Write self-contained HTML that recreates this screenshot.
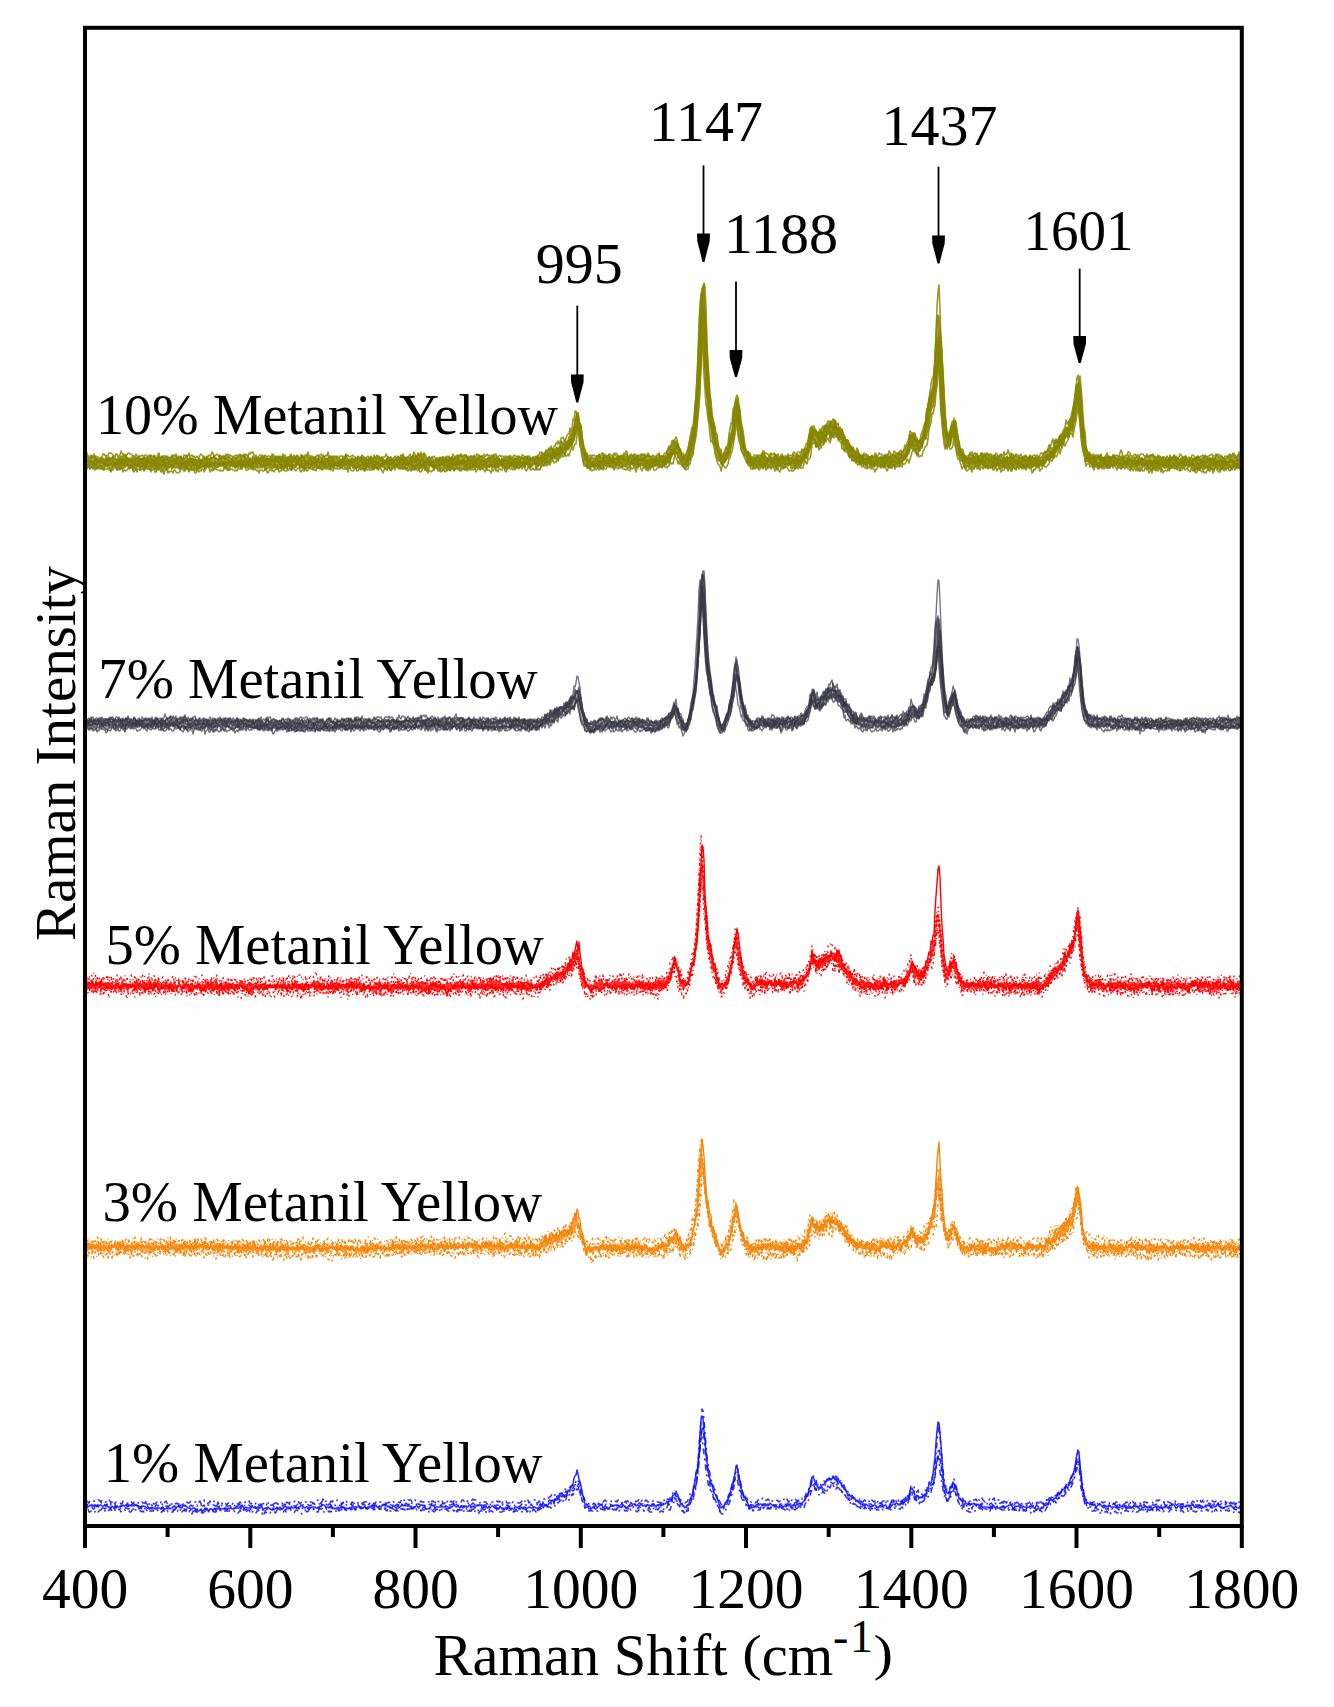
<!DOCTYPE html>
<html><head><meta charset="utf-8"><style>
html,body{margin:0;padding:0;background:#fff;}
svg{display:block;}
text{font-family:"Liberation Serif",serif;fill:#000;}
</style></head><body>
<svg width="1334" height="1707" viewBox="0 0 1334 1707">
<rect width="1334" height="1707" fill="#fff"/>
<g fill="none" stroke-linejoin="round">
<path d="M86 457L87 456L88 457L89 458L90 458L91 457L92 458L93 457L94 456L95 458L96 458L97 458L98 459L99 459L100 459L101 459L102 458L103 458L104 460L105 459L106 457L107 457L108 459L109 457L110 458L111 458L112 458L113 456L114 458L115 458L116 459L117 460L118 458L119 457L120 458L121 456L122 457L123 456L124 455L125 457L126 455L127 458L128 458L129 458L130 459L131 458L132 457L133 456L134 458L135 458L136 459L137 457L138 457L139 458L140 459L141 459L142 458L143 458L144 457L145 457L146 459L147 457L148 459L149 458L150 457L151 456L152 459L153 459L154 456L155 458L156 460L157 458L158 458L159 456L160 458L161 459L162 458L163 457L164 459L165 458L166 458L167 459L168 458L169 460L170 458L171 460L172 456L173 458L174 458L175 461L176 458L177 457L178 459L179 458L180 459L181 457L182 460L183 459L184 459L185 458L186 456L187 456L188 461L189 459L190 457L191 458L192 459L193 458L194 461L195 459L196 459L197 461L198 460L199 458L200 461L201 459L202 461L203 458L204 458L205 460L206 458L207 457L208 458L209 460L210 458L211 457L212 458L213 457L214 457L215 457L216 458L217 459L218 459L219 459L220 456L221 457L222 458L223 456L224 457L225 457L226 458L227 457L228 457L229 456L230 458L231 458L232 459L233 457L234 457L235 458L236 457L237 457L238 457L239 456L240 455L241 456L242 456L243 457L244 455L245 459L246 458L247 458L248 457L249 458L250 458L251 459L252 459L253 456L254 457L255 457L256 458L257 458L258 458L259 459L260 458L261 457L262 457L263 459L264 456L265 457L266 461L267 458L268 459L269 458L270 458L271 459L272 458L273 457L274 459L275 457L276 458L277 457L278 457L279 459L280 457L281 457L282 458L283 456L284 457L285 458L286 459L287 458L288 458L289 457L290 456L291 456L292 458L293 457L294 459L295 458L296 457L297 456L298 457L299 458L300 460L301 460L302 455L303 457L304 457L305 457L306 456L307 455L308 457L309 459L310 457L311 457L312 458L313 458L314 458L315 457L316 458L317 459L318 458L319 456L320 457L321 457L322 459L323 457L324 457L325 459L326 459L327 458L328 459L329 457L330 458L331 457L332 458L333 459L334 457L335 458L336 459L337 457L338 460L339 461L340 459L341 460L342 459L343 458L344 459L345 458L346 455L347 458L348 459L349 459L350 459L351 460L352 458L353 459L354 459L355 459L356 459L357 459L358 457L359 459L360 459L361 458L362 456L363 457L364 459L365 458L366 459L367 459L368 460L369 459L370 458L371 458L372 459L373 459L374 458L375 458L376 458L377 457L378 458L379 458L380 459L381 458L382 459L383 458L384 460L385 461L386 460L387 458L388 457L389 459L390 459L391 459L392 460L393 459L394 460L395 459L396 458L397 459L398 457L399 458L400 458L401 459L402 456L403 456L404 457L405 459L406 459L407 459L408 458L409 458L410 458L411 458L412 458L413 455L414 456L415 458L416 457L417 458L418 454L419 455L420 457L421 455L422 458L423 458L424 456L425 458L426 458L427 459L428 459L429 457L430 460L431 459L432 458L433 459L434 460L435 460L436 459L437 459L438 459L439 459L440 458L441 459L442 460L443 457L444 460L445 460L446 460L447 458L448 461L449 458L450 460L451 459L452 457L453 458L454 458L455 458L456 457L457 458L458 459L459 457L460 455L461 456L462 456L463 458L464 458L465 455L466 455L467 458L468 458L469 458L470 457L471 456L472 457L473 458L474 458L475 458L476 461L477 457L478 457L479 456L480 457L481 457L482 457L483 457L484 458L485 459L486 459L487 459L488 458L489 457L490 458L491 457L492 458L493 457L494 459L495 458L496 458L497 458L498 459L499 458L500 460L501 460L502 458L503 459L504 459L505 458L506 457L507 457L508 458L509 456L510 457L511 459L512 458L513 460L514 460L515 458L516 459L517 458L518 458L519 457L520 458L521 458L522 458L523 457L524 459L525 457L526 457L527 458L528 458L529 458L530 459L531 459L532 459L533 457L534 458L535 459L536 457L537 458L538 456L539 458L540 457L541 455L542 454L543 458L544 454L545 454L546 451L547 451L548 453L549 449L550 450L551 450L552 450L553 449L554 449L555 450L556 448L557 447L558 450L559 448L560 445L561 441L562 442L563 444L564 442L565 441L566 441L567 444L568 440L569 437L570 435L571 433L572 435L573 430L574 426L575 421L576 416L577 414L578 413L579 422L580 424L581 427L582 437L583 443L584 449L585 451L586 454L587 456L588 458L589 457L590 460L591 459L592 458L593 458L594 458L595 458L596 458L597 456L598 457L599 455L600 459L601 458L602 458L603 455L604 458L605 457L606 456L607 456L608 457L609 455L610 457L611 458L612 458L613 456L614 458L615 458L616 459L617 456L618 457L619 456L620 457L621 456L622 457L623 456L624 455L625 457L626 457L627 454L628 458L629 458L630 457L631 456L632 456L633 457L634 455L635 456L636 458L637 456L638 456L639 458L640 459L641 457L642 455L643 455L644 455L645 457L646 456L647 457L648 456L649 456L650 457L651 458L652 458L653 458L654 459L655 459L656 458L657 458L658 458L659 454L660 457L661 456L662 456L663 457L664 457L665 456L666 455L667 451L668 450L669 447L670 450L671 446L672 444L673 442L674 443L675 441L676 443L677 441L678 445L679 448L680 449L681 452L682 456L683 456L684 458L685 455L686 457L687 452L688 449L689 444L690 441L691 438L692 432L693 429L694 422L695 408L696 397L697 380L698 361L699 334L700 310L701 300L702 298L703 290L704 284L705 308L706 329L707 350L708 368L709 392L710 396L711 406L712 415L713 423L714 424L715 430L716 437L717 439L718 446L719 453L720 452L721 456L722 456L723 455L724 453L725 452L726 449L727 449L728 447L729 441L730 435L731 433L732 432L733 418L734 411L735 404L736 399L737 403L738 403L739 406L740 415L741 426L742 431L743 436L744 443L745 449L746 450L747 452L748 452L749 455L750 455L751 457L752 459L753 458L754 458L755 457L756 458L757 456L758 456L759 458L760 456L761 457L762 455L763 456L764 453L765 456L766 457L767 458L768 459L769 458L770 456L771 457L772 457L773 458L774 457L775 456L776 455L777 457L778 457L779 459L780 458L781 457L782 456L783 457L784 457L785 458L786 457L787 457L788 458L789 457L790 459L791 458L792 459L793 455L794 455L795 456L796 456L797 454L798 455L799 455L800 457L801 454L802 450L803 451L804 451L805 449L806 448L807 448L808 442L809 437L810 433L811 429L812 429L813 429L814 429L815 430L816 431L817 434L818 433L819 432L820 432L821 431L822 432L823 432L824 432L825 426L826 427L827 425L828 426L829 423L830 423L831 422L832 424L833 424L834 420L835 421L836 425L837 427L838 428L839 430L840 429L841 433L842 430L843 434L844 435L845 438L846 441L847 440L848 442L849 445L850 445L851 447L852 449L853 449L854 450L855 453L856 454L857 452L858 451L859 454L860 455L861 456L862 457L863 455L864 456L865 455L866 456L867 457L868 457L869 458L870 457L871 457L872 456L873 459L874 457L875 456L876 456L877 457L878 459L879 458L880 457L881 457L882 458L883 458L884 458L885 457L886 456L887 458L888 457L889 457L890 456L891 457L892 457L893 456L894 455L895 456L896 454L897 453L898 455L899 453L900 454L901 455L902 457L903 452L904 450L905 450L906 447L907 445L908 444L909 441L910 435L911 434L912 435L913 436L914 435L915 435L916 440L917 440L918 442L919 441L920 441L921 439L922 438L923 434L924 430L925 424L926 419L927 410L928 407L929 401L930 394L931 394L932 390L933 386L934 374L935 359L936 337L937 319L938 315L939 317L940 331L941 339L942 358L943 376L944 398L945 414L946 426L947 433L948 435L949 434L950 432L951 428L952 425L953 424L954 423L955 422L956 427L957 432L958 438L959 443L960 448L961 451L962 452L963 455L964 455L965 456L966 457L967 458L968 458L969 456L970 453L971 455L972 454L973 455L974 457L975 456L976 454L977 454L978 456L979 458L980 456L981 455L982 453L983 456L984 455L985 456L986 456L987 454L988 454L989 456L990 455L991 458L992 459L993 456L994 458L995 455L996 458L997 456L998 458L999 457L1000 455L1001 456L1002 457L1003 458L1004 456L1005 459L1006 457L1007 456L1008 458L1009 457L1010 459L1011 459L1012 458L1013 457L1014 456L1015 457L1016 455L1017 457L1018 457L1019 457L1020 457L1021 458L1022 457L1023 457L1024 457L1025 457L1026 456L1027 459L1028 459L1029 458L1030 456L1031 460L1032 457L1033 458L1034 458L1035 457L1036 459L1037 459L1038 457L1039 457L1040 458L1041 457L1042 457L1043 454L1044 453L1045 453L1046 453L1047 452L1048 449L1049 452L1050 446L1051 448L1052 448L1053 448L1054 446L1055 442L1056 442L1057 442L1058 440L1059 439L1060 436L1061 436L1062 435L1063 432L1064 432L1065 429L1066 427L1067 428L1068 429L1069 422L1070 421L1071 418L1072 416L1073 408L1074 404L1075 399L1076 389L1077 384L1078 384L1079 382L1080 383L1081 399L1082 412L1083 426L1084 432L1085 445L1086 446L1087 453L1088 453L1089 454L1090 455L1091 456L1092 456L1093 456L1094 456L1095 456L1096 457L1097 457L1098 457L1099 456L1100 459L1101 455L1102 458L1103 458L1104 458L1105 457L1106 458L1107 457L1108 456L1109 458L1110 457L1111 457L1112 458L1113 455L1114 457L1115 456L1116 458L1117 458L1118 460L1119 456L1120 457L1121 456L1122 457L1123 457L1124 457L1125 457L1126 457L1127 459L1128 457L1129 455L1130 458L1131 459L1132 458L1133 458L1134 457L1135 457L1136 458L1137 456L1138 457L1139 456L1140 458L1141 459L1142 458L1143 459L1144 459L1145 457L1146 457L1147 457L1148 457L1149 458L1150 456L1151 455L1152 456L1153 455L1154 457L1155 457L1156 458L1157 458L1158 456L1159 457L1160 459L1161 460L1162 458L1163 457L1164 459L1165 459L1166 461L1167 459L1168 459L1169 459L1170 459L1171 458L1172 459L1173 457L1174 455L1175 458L1176 457L1177 459L1178 459L1179 459L1180 460L1181 458L1182 458L1183 459L1184 457L1185 457L1186 459L1187 459L1188 460L1189 460L1190 460L1191 458L1192 458L1193 459L1194 458L1195 458L1196 458L1197 457L1198 457L1199 458L1200 459L1201 459L1202 458L1203 457L1204 459L1205 458L1206 458L1207 459L1208 457L1209 460L1210 458L1211 459L1212 458L1213 457L1214 458L1215 458L1216 455L1217 455L1218 456L1219 457L1220 457L1221 456L1222 457L1223 459L1224 459L1225 460L1226 458L1227 458L1228 456L1229 458L1230 455L1231 457L1232 457L1233 455L1234 454L1235 458L1236 457L1237 458L1238 456L1239 456L1240 458L1241 459L1241 468L1240 468L1239 468L1238 468L1237 465L1236 468L1235 467L1234 467L1233 467L1232 467L1231 469L1230 468L1229 467L1228 468L1227 468L1226 467L1225 469L1224 468L1223 469L1222 469L1221 469L1220 471L1219 469L1218 469L1217 466L1216 466L1215 468L1214 470L1213 470L1212 469L1211 467L1210 469L1209 469L1208 469L1207 467L1206 468L1205 468L1204 470L1203 470L1202 467L1201 469L1200 469L1199 470L1198 470L1197 468L1196 470L1195 471L1194 469L1193 469L1192 468L1191 466L1190 466L1189 467L1188 468L1187 465L1186 465L1185 467L1184 468L1183 468L1182 467L1181 468L1180 470L1179 467L1178 468L1177 469L1176 468L1175 467L1174 466L1173 467L1172 468L1171 466L1170 468L1169 469L1168 467L1167 468L1166 467L1165 468L1164 468L1163 466L1162 467L1161 469L1160 468L1159 468L1158 466L1157 468L1156 469L1155 468L1154 469L1153 467L1152 470L1151 470L1150 469L1149 469L1148 468L1147 469L1146 465L1145 467L1144 466L1143 467L1142 469L1141 469L1140 471L1139 470L1138 468L1137 468L1136 466L1135 467L1134 468L1133 466L1132 466L1131 469L1130 468L1129 467L1128 466L1127 466L1126 467L1125 467L1124 464L1123 467L1122 467L1121 469L1120 465L1119 467L1118 466L1117 466L1116 465L1115 465L1114 465L1113 465L1112 466L1111 464L1110 467L1109 468L1108 468L1107 467L1106 467L1105 465L1104 466L1103 465L1102 467L1101 467L1100 467L1099 466L1098 468L1097 466L1096 466L1095 465L1094 467L1093 467L1092 465L1091 464L1090 463L1089 462L1088 462L1087 461L1086 462L1085 457L1084 454L1083 451L1082 441L1081 432L1080 423L1079 411L1078 403L1077 405L1076 411L1075 420L1074 423L1073 429L1072 432L1071 429L1070 430L1069 435L1068 438L1067 437L1066 437L1065 438L1064 443L1063 444L1062 447L1061 446L1060 445L1059 446L1058 448L1057 450L1056 452L1055 454L1054 453L1053 458L1052 456L1051 458L1050 459L1049 461L1048 460L1047 460L1046 462L1045 464L1044 464L1043 465L1042 466L1041 465L1040 466L1039 467L1038 465L1037 467L1036 467L1035 466L1034 466L1033 467L1032 467L1031 466L1030 465L1029 466L1028 466L1027 465L1026 468L1025 467L1024 467L1023 465L1022 468L1021 466L1020 466L1019 468L1018 465L1017 466L1016 469L1015 469L1014 467L1013 467L1012 469L1011 469L1010 467L1009 468L1008 467L1007 468L1006 466L1005 467L1004 467L1003 467L1002 469L1001 466L1000 468L999 467L998 466L997 465L996 467L995 467L994 466L993 468L992 466L991 467L990 466L989 468L988 467L987 466L986 467L985 466L984 465L983 466L982 465L981 464L980 465L979 468L978 466L977 466L976 464L975 466L974 467L973 467L972 468L971 469L970 466L969 468L968 466L967 466L966 469L965 468L964 466L963 464L962 461L961 461L960 459L959 456L958 455L957 455L956 447L955 439L954 437L953 437L952 437L951 442L950 446L949 445L948 446L947 445L946 445L945 441L944 438L943 432L942 419L941 405L940 384L939 365L938 361L937 377L936 389L935 396L934 403L933 407L932 408L931 410L930 418L929 426L928 431L927 433L926 439L925 439L924 440L923 444L922 448L921 448L920 451L919 451L918 453L917 454L916 453L915 450L914 445L913 450L912 449L911 444L910 449L909 453L908 454L907 457L906 457L905 459L904 460L903 461L902 464L901 462L900 466L899 463L898 465L897 464L896 462L895 467L894 464L893 466L892 465L891 468L890 467L889 466L888 467L887 466L886 466L885 464L884 467L883 466L882 466L881 467L880 465L879 465L878 465L877 463L876 466L875 466L874 467L873 464L872 466L871 465L870 465L869 463L868 464L867 467L866 466L865 465L864 464L863 463L862 464L861 464L860 464L859 464L858 462L857 462L856 462L855 460L854 461L853 459L852 456L851 456L850 457L849 455L848 452L847 450L846 449L845 451L844 449L843 445L842 443L841 440L840 439L839 438L838 436L837 436L836 434L835 432L834 433L833 435L832 437L831 434L830 439L829 434L828 431L827 435L826 438L825 439L824 443L823 443L822 442L821 443L820 446L819 447L818 446L817 445L816 447L815 442L814 440L813 438L812 443L811 446L810 449L809 452L808 456L807 459L806 458L805 458L804 460L803 462L802 463L801 466L800 467L799 464L798 465L797 464L796 468L795 467L794 465L793 468L792 469L791 468L790 464L789 465L788 466L787 464L786 465L785 467L784 467L783 468L782 465L781 466L780 466L779 466L778 468L777 468L776 466L775 467L774 467L773 466L772 466L771 468L770 466L769 467L768 467L767 467L766 467L765 465L764 466L763 467L762 464L761 467L760 466L759 468L758 467L757 467L756 466L755 466L754 467L753 469L752 467L751 466L750 466L749 464L748 462L747 462L746 457L745 454L744 456L743 453L742 451L741 445L740 440L739 437L738 430L737 421L736 420L735 429L734 435L733 442L732 442L731 447L730 453L729 456L728 458L727 459L726 460L725 462L724 462L723 465L722 465L721 464L720 459L719 461L718 460L717 458L716 455L715 446L714 445L713 443L712 437L711 430L710 425L709 420L708 412L707 397L706 389L705 370L704 356L703 325L702 337L701 363L700 382L699 399L698 408L697 422L696 432L695 438L694 444L693 450L692 454L691 457L690 459L689 461L688 466L687 466L686 467L685 469L684 467L683 466L682 463L681 463L680 460L679 458L678 458L677 454L676 452L675 455L674 454L673 454L672 456L671 458L670 461L669 462L668 463L667 462L666 465L665 464L664 463L663 465L662 467L661 466L660 466L659 467L658 467L657 464L656 466L655 466L654 466L653 466L652 467L651 466L650 467L649 468L648 467L647 469L646 467L645 467L644 467L643 465L642 465L641 465L640 465L639 466L638 466L637 467L636 468L635 464L634 467L633 465L632 464L631 464L630 467L629 468L628 468L627 467L626 466L625 467L624 466L623 467L622 467L621 467L620 466L619 466L618 463L617 466L616 465L615 468L614 466L613 466L612 466L611 466L610 467L609 465L608 464L607 466L606 466L605 466L604 465L603 467L602 465L601 469L600 466L599 467L598 466L597 467L596 467L595 466L594 468L593 467L592 466L591 467L590 467L589 467L588 468L587 466L586 465L585 464L584 464L583 460L582 454L581 448L580 445L579 432L578 430L577 430L576 434L575 435L574 441L573 441L572 446L571 446L570 447L569 449L568 450L567 449L566 451L565 455L564 454L563 453L562 454L561 455L560 456L559 457L558 460L557 458L556 458L555 459L554 458L553 458L552 460L551 460L550 461L549 461L548 462L547 463L546 462L545 463L544 464L543 465L542 466L541 467L540 464L539 465L538 467L537 465L536 469L535 464L534 463L533 465L532 466L531 467L530 468L529 467L528 466L527 464L526 464L525 468L524 465L523 466L522 466L521 467L520 466L519 466L518 466L517 468L516 467L515 468L514 467L513 466L512 468L511 466L510 466L509 467L508 467L507 469L506 468L505 469L504 467L503 466L502 466L501 466L500 464L499 467L498 468L497 468L496 468L495 467L494 467L493 467L492 468L491 464L490 467L489 467L488 466L487 470L486 468L485 465L484 468L483 469L482 468L481 468L480 469L479 468L478 468L477 468L476 466L475 469L474 465L473 468L472 468L471 468L470 467L469 467L468 468L467 469L466 469L465 467L464 468L463 468L462 469L461 470L460 468L459 467L458 468L457 468L456 468L455 468L454 470L453 467L452 468L451 467L450 470L449 466L448 468L447 470L446 469L445 469L444 468L443 470L442 469L441 469L440 468L439 469L438 469L437 468L436 466L435 467L434 470L433 468L432 467L431 465L430 466L429 468L428 469L427 470L426 467L425 470L424 466L423 465L422 468L421 468L420 469L419 468L418 469L417 467L416 466L415 469L414 469L413 468L412 470L411 469L410 469L409 466L408 467L407 469L406 469L405 467L404 468L403 469L402 468L401 467L400 468L399 468L398 466L397 467L396 466L395 466L394 467L393 466L392 469L391 468L390 469L389 468L388 468L387 470L386 469L385 468L384 467L383 467L382 467L381 467L380 468L379 468L378 469L377 468L376 467L375 466L374 469L373 467L372 469L371 467L370 468L369 468L368 467L367 467L366 466L365 470L364 468L363 469L362 468L361 468L360 468L359 468L358 468L357 467L356 468L355 467L354 468L353 468L352 465L351 466L350 466L349 468L348 467L347 468L346 469L345 468L344 467L343 465L342 468L341 465L340 468L339 466L338 467L337 467L336 465L335 466L334 468L333 468L332 467L331 467L330 469L329 468L328 468L327 468L326 468L325 466L324 468L323 468L322 469L321 467L320 468L319 468L318 468L317 467L316 467L315 467L314 468L313 469L312 468L311 466L310 468L309 468L308 468L307 468L306 469L305 467L304 469L303 468L302 468L301 466L300 469L299 465L298 465L297 464L296 467L295 467L294 467L293 467L292 468L291 470L290 468L289 466L288 466L287 469L286 468L285 466L284 469L283 469L282 467L281 469L280 467L279 469L278 469L277 469L276 467L275 468L274 466L273 468L272 469L271 468L270 467L269 468L268 468L267 468L266 468L265 469L264 467L263 466L262 468L261 466L260 468L259 468L258 467L257 468L256 467L255 467L254 468L253 468L252 468L251 466L250 465L249 467L248 467L247 468L246 466L245 466L244 465L243 466L242 468L241 468L240 465L239 467L238 467L237 466L236 468L235 468L234 466L233 467L232 465L231 466L230 467L229 470L228 470L227 467L226 467L225 468L224 466L223 466L222 466L221 466L220 466L219 466L218 467L217 467L216 468L215 467L214 468L213 469L212 467L211 467L210 467L209 467L208 466L207 466L206 467L205 470L204 466L203 467L202 467L201 468L200 468L199 469L198 469L197 469L196 470L195 470L194 468L193 470L192 469L191 468L190 469L189 471L188 468L187 467L186 469L185 468L184 468L183 467L182 468L181 466L180 469L179 469L178 468L177 467L176 468L175 468L174 466L173 468L172 469L171 466L170 467L169 468L168 469L167 470L166 467L165 467L164 469L163 471L162 471L161 468L160 469L159 469L158 467L157 469L156 468L155 470L154 468L153 468L152 465L151 470L150 469L149 468L148 468L147 467L146 468L145 469L144 470L143 469L142 467L141 467L140 470L139 467L138 466L137 467L136 469L135 468L134 467L133 469L132 466L131 467L130 468L129 468L128 467L127 465L126 466L125 467L124 468L123 469L122 468L121 467L120 469L119 466L118 468L117 470L116 468L115 466L114 466L113 467L112 469L111 471L110 469L109 467L108 466L107 467L106 465L105 466L104 469L103 468L102 468L101 468L100 467L99 467L98 468L97 467L96 469L95 466L94 467L93 468L92 466L91 467L90 469L89 464L88 466L87 468L86 467Z" fill="#868600" fill-opacity="0.75" stroke="none"/>
<path d="M86 456l1-3 1 3 1 0 1 1 1-2 1 3 1-2 1-2 1 4 1-2 1 1 1 0 1 1 1 1 1 0 1-2 1-3 1 0 1 2 1-1 1 1 1 0 1-3 1 0 1 0 1 1 1 1 1 1 1 1 1-3 1 0 1 3 1-1 1-1 1-4 1 2 1 2 1-1 1 3 1-2 1 0 1-2 1 0 1 1 1 0 1 1 1 1 1 0 1 1 1-3 1 2 1 0 1 2 1-2 1 0 1-1 1 1 1 0 1-1 1 0 1 1 1 1 1-2 1 2 1-1 1 3 1 0 1-3 1 0 1 4 1-2 1 0 1-2 1 1 1 1 1 0 1-2 1 3 1-1 1-2 1 3 1-2 1 1 1-1 1 1 1-3 1 2 1-2 1 2 1-3 1 3 1 2 1-1 1 1 1-3 1 3 1 0 1-4 1 0 1 1 1 0 1 0 1-3 1 3 1 0 1-1 1 2 1-1 1 2 1-1 1-1 1 2 1-1 1-2 1-1 1 1 1 2 1-1 1 3 1-2 1 0 1 0 1-2 1 1 1-1 1-3 1 1 1 4 1-2 1 0 1-1 1 1 1 2 1-1 1 0 1 2 1-2 1 0 1 1 1-3 1 2 1-2 1 1 1 0 1 1 1 0 1 1 1 0 1 1 1 1 1-2 1 0 1-2 1-1 1 2 1 0 1 1 1-3 1 5 1-5 1 1 1 2 1-4 1 1 1-2 1 1 1-1 1 3 1 1 1-1 1 3 1 0 1-2 1-1 1 0 1 0 1 3 1-2 1-1 1 1 1 1 1-1 1 0 1 0 1 2 1 0 1-4 1 2 1 1 1-1 1 1 1 0 1 0 1-1 1 1 1 0 1-3 1 1 1 0 1 4 1-2 1 0 1 0 1-1 1 0 1 2 1-1 1 2 1-2 1 0 1-1 1 0 1 1 1 2 1 1 1-5 1 1 1 1 1-2 1 0 1 0 1-3 1 4 1 0 1 0 1 0 1 1 1 2 1-2 1 0 1-2 1 1 1-1 1 0 1-1 1 1 1 2 1 0 1 0 1-2 1 1 1-4 1 5 1-1 1 1 1 1 1-2 1 1 1-1 1 1 1-1 1 1 1 2 1-3 1 0 1 0 1 2 1 3 1-4 1-3 1 2 1-1 1 2 1 0 1-1 1 0 1-1 1 2 1 0 1 2 1 0 1-3 1 1 1 1 1 0 1-3 1 2 1 3 1-2 1 0 1-1 1-1 1 3 1-1 1 0 1 1 1-1 1-3 1 3 1-1 1 0 1-1 1 0 1 3 1-1 1-1 1 0 1 0 1 0 1-3 1 2 1 1 1 2 1 0 1-2 1 3 1-2 1 0 1-2 1 1 1 2 1-2 1 0 1 2 1 1 1-5 1 1 1 1 1 3 1 1 1-4 1 0 1 1 1 0 1-1 1 1 1-3 1-3 1 2 1 3 1 1 1-5 1 1 1 2 1-4 1 6 1 0 1-5 1 5 1 0 1 1 1-1 1-1 1 1 1 1 1-1 1-1 1-1 1 2 1 0 1 2 1-2 1 0 1-1 1 2 1-2 1 0 1 3 1 0 1-3 1-1 1 2 1-2 1 5 1-4 1 0 1-3 1 2 1 2 1-2 1-1 1 4 1-2 1-2 1-1 1 1 1 2 1-2 1 0 1 0 1 3 1-2 1 1 1 0 1-1 1 1 1 1 1-3 1 3 1 4 1-5 1 0 1-2 1 2 1-1 1 1 1-1 1-2 1 3 1-1 1-2 1 2 1-1 1 1 1 0 1-1 1 2 1-3 1 3 1-3 1 4 1-1 1-1 1-1 1 2 1-1 1 0 1 2 1-2 1 0 1 1 1 1 1-2 1 0 1 0 1 1 1 1 1-3 1 1 1 0 1 1 1 1 1-2 1 1 1 1 1-3 1 0 1 1 1 1 1 0 1-1 1 3 1-3 1 1 1 2 1 0 1-2 1 1 1 1 1-2 1 1 1-3 1 0 1-3 1 1 1-1 1 3 1-2 1 0 1-3 1 1 1-1 1-2 1 2 1-4 1 4 1 3 1-7 1 0 1-3 1 1 1-3 1 3 1-2 1-4 1 0 1-1 1 3 1 1 1-3 1-3 1-1 1 0 1-6 1 4 1-3 1-10 1 2 1-10 1 0 1 4 1-2 1 6 1 9 1 7 1 7 1 4 1 3 1 2 1 2 1 0 1 3 1 0 1-1 1 3 1-3 1 1 1-1 1 1 1 0 1 0 1 1 1-3 1 5 1-4 1-2 1 0 1 5 1 0 1-3 1 1 1 1 1-2 1-1 1 1 1 1 1-1 1-2 1 3 1-3 1 1 1 3 1-1 1 0 1 0 1 1 1-1 1-3 1 2 1-4 1 1 1 6 1 0 1-3 1 1 1 0 1 1 1-2 1-1 1 1 1 1 1 0 1-1 1 2 1-3 1 1 1 0 1 0 1 3 1-2 1-1 1 1 1-1 1 2 1 1 1 0 1-3 1 1 1 3 1-3 1 2 1 0 1-5 1 4 1-1 1 0 1 1 1-3 1-1 1 0 1-2 1-1 1-4 1 4 1-5 1-1 1-2 1-1 1 0 1 2 1-1 1 4 1 5 1-2 1 2 1 7 1 0 1 0 1-3 1-1 1-2 1-3 1-5 1-7 1-4 1-6 1 1 1-11 1-9 1-11 1-17 1-19 1-27 1-24 1-1 1-2 1 17 1 21 1 21 1 17 1 13 1 4 1 10 1 6 1 9 1 1 1 7 1 6 1-1 1 6 1 4 1 1 1 4 1 3 1 0 1-2 1 0 1-1 1-1 1-3 1-3 1-2 1-10 1-5 1-6 1 0 1-14 1-2 1-3 1-5 1 8 1 9 1 10 1 2 1 9 1 5 1 2 1 3 1 4 1 0 1 1 1 1 1 3 1-1 1 2 1 0 1 0 1-2 1 0 1 0 1 0 1 1 1-1 1 0 1 2 1-2 1-4 1 0 1 3 1-1 1 1 1 0 1 3 1-1 1-3 1 2 1-1 1-1 1 3 1-1 1 2 1 3 1-1 1-1 1-3 1-1 1 4 1-2 1 0 1 0 1 1 1 3 1-4 1-1 1 1 1 0 1-3 1-1 1 2 1 0 1-1 1-1 1 0 1 1 1-1 1-3 1 1 1 1 1-3 1-4 1-1 1-2 1-4 1-9 1 1 1-3 1 3 1 3 1-1 1 1 1 2 1 2 1-4 1-3 1 1 1 2 1 0 1-5 1-1 1-1 1-1 1-3 1 0 1 2 1-1 1 0 1-3 1 1 1 1 1 6 1 2 1-1 1 3 1-2 1 0 1 0 1 5 1 1 1 3 1 2 1 0 1 0 1 3 1 2 1 2 1 2 1 0 1 1 1 4 1 0 1-2 1-1 1 2 1 2 1 2 1 2 1-4 1 1 1-1 1 1 1-1 1 0 1 3 1-1 1 1 1-2 1 1 1 0 1-4 1 1 1 3 1-1 1-3 1 1 1 0 1 1 1 3 1-3 1 3 1-3 1-1 1 3 1 0 1 0 1 1 1-1 1-1 1-5 1 1 1 2 1-1 1 1 1-2 1 2 1 1 1-3 1 0 1-2 1 0 1-3 1-4 1-2 1-4 1-6 1 1 1 1 1 3 1 1 1 4 1 1 1-2 1 2 1 0 1-2 1-5 1-3 1-2 1-5 1 2 1-12 1-6 1-2 1-8 1-7 1 2 1-4 1-4 1-12 1-12 1-13 1-11 1 0 1 16 1 20 1 21 1 13 1 9 1 12 1 3 1 5 1-1 1 0 1-3 1-3 1-4 1-4 1-1 1 3 1 4 1 7 1 1 1 3 1 7 1 3 1 5 1 0 1 1 1-1 1 2 1 1 1-1 1 0 1-1 1-2 1-1 1 0 1 2 1 0 1-1 1 1 1 0 1 2 1 2 1-2 1-3 1 0 1 5 1-2 1-3 1 3 1-3 1 1 1 1 1-1 1 0 1 5 1-4 1 1 1-1 1-2 1 1 1 2 1 1 1-2 1 1 1-1 1 0 1-3 1 3 1-1 1 0 1-4 1 3 1 3 1 3 1-5 1 0 1 2 1 0 1-2 1 1 1 0 1 1 1 1 1 1 1-1 1 0 1-1 1 1 1-2 1 4 1-2 1 1 1-3 1 2 1 0 1-1 1-1 1 0 1 4 1 0 1-2 1 0 1-2 1-2 1 0 1 1 1-1 1-2 1 2 1-1 1-3 1-4 1 1 1-1 1-4 1-2 1 6 1-3 1-3 1 3 1-2 1-3 1-2 1 1 1 0 1-5 1-2 1-1 1-8 1 4 1-2 1-1 1-2 1-2 1-4 1-5 1-6 1-7 1-10 1-1 1 0 1 17 1 14 1 8 1 11 1 10 1 2 1 1 1-1 1 7 1 1 1 2 1 2 1-3 1 0 1-1 1 1 1 1 1 1 1 0 1-2 1 0 1 3 1-3 1 2 1 2 1-2 1 0 1 1 1-1 1-1 1 0 1 1 1 0 1 1 1-3 1 0 1 0 1 1 1-1 1 2 1-1 1-3 1-3 1 2 1 5 1-1 1 0 1-1 1 1 1-4 1 0 1 1 1 3 1 1 1-1 1-1 1-1 1 2 1-1 1 0 1 0 1 0 1-1 1 0 1 0 1 2 1 0 1 1 1-3 1 3 1-1 1 0 1-1 1 0 1-1 1 3 1-1 1 2 1 0 1-2 1 0 1 0 1 2 1-1 1 0 1 0 1 0 1 2 1-3 1 2 1 1 1-4 1 3 1 0 1 0 1-3 1 2 1-1 1 1 1 2 1-2 1-3 1 1 1 1 1 3 1-2 1-1 1 3 1 0 1-1 1-1 1 3 1-2 1-3 1 0 1 1 1 1 1 1 1-2 1 0 1 4 1-3 1-1 1 0 1-1 1 2 1 1 1-2 1 1 1-1 1 0 1-1 1 0 1-1 1 2 1 0 1 0 1-1 1 0 1 1 1 1 1 0 1-1 1 1 1 2 1-1 1 2 1-2 1 0 1-2 1 2 1-3 1 1 1-1 1-2 1 1 1 4 1-1 1 1 1-2 1-4 1 4 1-1" stroke="#868600" stroke-width="1.6" stroke-opacity="0.85"/>
<path d="M86 457l1-1 1 1 1 1 1 0 1-1 1-1 1 1 1-1 1 0 1 2 1 0 1 1 1 0 1 0 1-2 1 1 1 0 1 2 1-1 1-2 1 0 1 2 1-2 1 1 1 0 1 1 1-2 1 1 1 0 1 1 1 1 1-2 1-1 1 1 1-2 1 1 1-1 1-1 1 0 1 0 1 3 1 1 1-1 1 1 1-1 1-1 1-1 1 2 1 1 1 0 1-2 1 0 1-1 1 3 1 0 1-1 1 0 1-1 1 0 1 2 1-2 1 2 1-1 1-2 1-1 1 1 1 1 1-2 1 3 1 1 1-2 1-3 1-1 1 5 1 1 1-3 1 1 1-1 1 0 1 2 1-2 1 2 1 2 1-2 1 2 1-4 1 2 1 0 1 3 1-3 1-1 1 2 1-3 1 2 1-1 1 3 1-2 1 1 1-1 1-2 1-1 1 6 1-2 1-2 1 1 1 2 1-2 1 4 1-3 1 0 1 2 1-1 1-2 1 3 1 0 1 0 1-3 1 0 1 2 1-2 1-2 1 2 1 2 1-2 1 2 1-2 1 0 1-2 1 1 1 1 1 1 1 0 1 0 1-4 1 2 1 0 1-1 1 1 1-1 1 2 1-1 1 0 1-1 1 2 1 0 1 1 1-2 1-1 1 0 1-1 1 0 1 1 1 0 1-1 1 1 1-1 1 1 1-1 1 4 1-1 1 0 1-2 1 2 1 0 1 1 1 0 1-3 1 3 1-2 1 3 1-2 1-1 1 2 1-1 1-1 1 0 1 2 1-3 1 1 1 4 1-3 1 1 1 0 1 1 1-1 1-5 1 3 1 2 1-2 1 3 1-2 1-2 1 3 1 2 1-4 1 1 1-2 1 1 1 1 1 0 1 0 1 0 1 3 1-5 1-2 1 4 1-1 1-2 1 4 1-3 1-1 1 2 1 2 1 1 1-5 1 0 1 2 1 0 1 0 1-1 1-1 1 2 1 2 1 0 1-2 1 1 1 0 1-1 1 0 1 1 1 4 1-4 1-2 1 1 1 0 1 2 1-4 1 1 1 3 1 0 1-1 1 1 1-2 1 1 1-1 1-1 1 3 1-2 1 1 1 1 1-2 1 3 1 2 1-3 1 1 1 0 1-3 1-1 1 2 1-3 1 3 1 1 1 0 1 0 1 1 1-2 1 2 1-1 1 0 1-1 1 1 1-2 1 2 1 0 1-2 1-1 1 0 1 1 1 1 1 1 1 2 1-1 1-2 1-1 1-1 1 3 1 0 1-1 1 0 1 0 1-3 1 3 1 1 1 0 1-2 1 2 1 1 1 2 1-1 1-1 1-1 1-2 1 1 1-1 1 2 1 2 1 0 1 0 1-1 1 0 1-2 1-2 1 2 1 0 1-3 1 1 1-2 1 3 1 2 1-2 1 2 1-1 1-2 1-2 1 4 1 0 1-3 1 1 1 2 1-2 1 1 1-3 1 1 1 2 1-2 1-1 1 0 1 2 1-2 1 2 1 2 1 1 1-2 1 3 1-2 1-1 1 2 1 1 1 0 1-1 1-1 1 1 1 0 1 0 1 0 1 2 1-4 1 1 1-1 1 3 1 1 1 0 1-3 1 0 1 1 1-1 1 0 1 0 1 0 1-1 1 1 1-3 1 1 1-1 1 1 1 0 1 2 1 0 1-3 1 0 1 2 1 2 1-1 1-1 1-1 1 0 1 1 1 1 1-1 1-1 1-2 1 1 1 1 1 0 1 1 1-1 1 1 1 1 1 1 1 0 1 1 1-2 1-1 1 3 1-3 1 1 1-2 1 4 1 0 1-2 1-2 1 3 1 1 1 1 1 1 1-2 1-1 1 0 1-1 1-1 1 0 1 1 1-2 1 1 1 3 1-2 1 2 1 0 1-2 1 1 1-1 1-2 1 1 1 1 1 0 1 0 1-1 1 2 1-2 1 0 1 2 1-3 1 2 1 2 1-2 1 2 1-3 1 0 1 0 1-1 1 1 1-1 1 2 1-1 1-2 1-1 1 5 1-5 1 1 1-4 1 0 1 2 1-4 1-1 1 2 1-2 1 1 1 0 1 1 1-2 1 0 1 2 1-1 1-4 1-4 1 1 1 3 1-3 1-2 1 1 1 3 1-4 1-3 1-2 1-2 1 5 1-8 1-4 1-5 1-1 1-7 1 0 1 9 1 10 1 10 1 1 1 3 1 4 1 2 1 2 1 2 1 2 1-1 1 3 1-1 1-1 1 0 1 0 1 0 1 0 1-2 1 1 1-2 1 1 1 2 1 0 1-3 1-1 1 2 1 2 1-2 1 3 1-5 1 4 1 1 1-1 1-2 1 3 1 0 1 0 1-3 1 0 1 3 1-2 1-1 1-1 1 1 1-1 1 2 1 0 1-3 1 3 1 2 1-2 1-3 1 1 1 2 1-3 1 2 1 2 1-2 1-1 1 3 1 1 1-2 1-3 1 0 1 1 1-1 1 2 1 1 1-4 1 3 1 1 1-1 1 1 1 1 1 1 1 2 1-3 1-3 1-1 1 0 1 3 1-1 1 0 1 0 1 1 1-1 1-1 1-4 1-1 1-3 1 0 1-1 1-5 1-1 1 3 1-4 1-2 1 3 1 6 1 4 1 0 1 4 1 0 1-1 1 4 1-2 1 2 1-6 1-2 1-5 1-3 1-3 1-5 1-3 1-8 1-6 1-15 1-12 1-19 1-26 1-17 1-21 1-8 1 10 1 22 1 23 1 20 1 10 1 13 1 8 1 13 1 5 1 9 1 6 1 1 1 6 1 1 1 3 1 0 1 5 1 4 1 0 1-1 1-1 1-2 1-3 1-3 1 2 1-2 1-6 1-6 1-2 1-1 1-14 1-7 1-5 1 0 1-2 1 11 1 6 1 7 1 5 1 8 1 2 1 2 1 6 1 1 1 5 1-1 1 0 1 2 1 4 1-2 1-2 1 0 1-1 1 1 1-2 1 0 1 2 1 1 1-1 1 0 1-2 1-3 1 3 1 1 1 1 1 2 1-2 1-4 1 3 1 0 1 1 1-1 1-3 1 1 1 1 1-2 1 3 1 0 1 2 1-2 1 0 1 0 1 1 1 1 1-3 1-2 1 8 1-3 1-1 1 3 1-6 1 0 1 1 1 1 1-2 1 1 1-1 1 2 1-3 1-4 1 1 1-2 1 0 1-1 1 2 1-8 1-7 1-2 1-6 1 4 1-1 1 3 1-2 1 0 1 4 1-3 1 0 1 0 1 0 1-4 1-2 1 6 1-5 1 0 1 0 1-1 1-3 1 0 1 5 1-1 1 0 1 1 1-7 1 4 1 0 1-2 1 7 1 2 1 1 1-3 1 5 1 3 1 1 1 2 1 3 1 3 1 0 1 5 1-3 1 0 1 2 1-1 1 1 1 2 1-5 1 2 1 7 1-1 1-1 1 0 1 0 1-2 1 1 1 0 1 3 1 0 1 0 1 0 1-1 1-1 1 4 1-1 1-1 1 1 1 1 1 0 1-1 1 0 1-1 1 2 1 0 1-1 1-3 1 2 1 1 1-1 1-6 1 1 1 4 1-2 1 2 1-1 1 1 1-2 1-1 1 2 1-2 1-2 1-1 1 7 1-6 1-2 1-4 1 0 1 0 1-1 1-3 1-6 1-1 1 1 1-2 1 3 1-1 1 3 1 0 1 4 1-1 1 2 1-4 1-1 1-3 1-5 1-7 1 1 1-10 1-10 1-3 1-5 1 3 1-3 1-5 1-8 1-24 1-24 1-16 1-4 1 2 1 29 1 29 1 15 1 16 1 11 1 14 1 6 1-4 1 0 1 1 1-1 1-4 1-4 1-1 1 3 1 7 1 2 1 4 1 5 1 8 1 0 1 1 1 3 1 1 1 2 1-4 1 1 1 1 1 0 1-2 1-3 1 2 1-1 1 1 1 2 1-1 1-3 1 1 1 2 1 1 1-2 1 0 1-2 1 1 1 0 1 2 1-1 1-1 1 0 1 2 1-1 1 3 1-1 1-1 1 2 1-3 1 3 1-2 1 2 1-2 1-1 1-1 1 3 1 1 1-2 1 4 1-3 1-1 1 4 1-3 1 2 1-6 1 7 1-3 1-1 1 1 1-2 1 2 1 0 1 0 1-2 1-1 1 3 1 1 1-1 1-1 1 0 1 2 1 1 1-2 1-1 1 5 1-5 1 2 1 0 1 2 1-2 1-3 1 1 1 2 1 0 1-1 1 0 1-3 1-1 1 0 1-1 1-1 1-2 1 3 1-7 1 3 1 0 1 0 1-2 1-6 1 2 1 0 1-1 1-2 1-3 1 2 1-4 1-2 1 0 1-3 1-2 1 1 1 4 1-7 1-4 1-3 1-2 1-8 1-1 1-7 1-9 1-6 1-1 1 12 1 13 1 12 1 10 1 9 1 4 1 6 1 1 1 3 1 0 1 0 1-1 1 3 1 0 1 0 1 1 1-1 1-1 1 0 1 3 1 0 1 2 1 1 1-2 1-1 1 0 1-1 1-2 1-2 1 5 1 0 1-1 1 0 1 1 1 0 1-1 1-1 1 2 1 0 1 2 1-4 1 1 1-1 1 1 1 4 1-4 1 0 1 0 1 2 1-2 1-2 1 3 1 1 1-1 1 0 1-1 1 0 1 1 1-2 1 1 1-1 1 2 1 1 1-1 1 2 1-1 1-2 1-1 1 1 1-1 1 2 1-3 1 0 1 1 1-1 1 2 1 0 1 0 1 1 1-3 1 2 1 2 1 1 1-2 1-1 1 3 1 0 1 2 1 0 1-3 1 1 1-1 1-2 1 2 1 1 1-5 1 4 1-2 1 3 1-1 1 0 1 1 1-2 1 3 1-4 1 0 1 0 1 2 1 0 1 1 1 1 1-1 1 1 1 0 1-2 1-1 1 0 1 2 1-2 1-1 1 1 1 1 1 0 1-1 1-1 1 2 1-4 1 3 1 2 1-1 1 1 1-2 1 1 1-1 1-1 1 1 1 0 1-4 1 1 1-1 1 1 1 0 1 1 1 0 1 2 1 1 1-3 1 0 1 1 1-1 1-1 1-1 1 3 1 0 1-2 1-1 1 1 1 2 1-1 1-1 1 1 1 2 1 1" stroke="#868600" stroke-width="1.6" stroke-opacity="0.85"/>
<path d="M86 462l1-1 1-2 1 2 1 0 1-1 1 2 1 0 1-1 1-2 1 0 1 3 1-1 1-1 1 1 1-1 1 0 1 0 1 1 1 0 1-2 1 0 1 1 1-1 1 1 1-1 1-1 1-2 1 2 1 2 1 0 1 1 1-1 1-1 1 1 1-1 1 3 1-3 1-1 1 1 1 2 1-3 1 0 1 2 1 1 1-2 1 1 1-1 1 2 1-3 1 1 1 0 1-1 1 2 1 1 1-2 1 4 1-2 1 0 1-2 1 1 1 2 1-3 1 0 1 0 1 0 1 2 1-1 1 3 1-4 1 1 1 1 1-2 1-2 1 3 1 1 1-1 1 1 1-2 1 3 1 2 1-1 1 0 1-2 1 0 1 1 1-1 1 0 1-2 1 2 1-1 1-3 1 3 1 1 1 0 1 0 1 1 1-2 1-1 1 3 1 1 1-2 1 1 1-2 1-2 1 1 1 0 1 3 1-1 1-1 1 1 1 1 1-2 1-1 1 2 1-2 1 2 1 1 1-1 1-1 1 0 1-2 1 5 1 1 1-4 1-3 1 1 1-1 1 0 1 2 1 0 1 0 1 2 1-1 1-2 1 2 1-2 1 1 1-1 1 2 1-1 1 0 1 1 1 1 1 0 1 0 1-2 1 2 1 2 1-3 1-3 1 4 1 0 1 1 1-1 1 1 1 1 1-2 1 1 1-3 1 0 1 1 1 3 1-4 1 1 1 1 1-2 1-1 1-1 1 4 1-2 1 2 1 0 1-2 1 1 1-3 1 2 1 0 1 1 1 1 1 0 1 0 1-2 1-1 1 0 1 3 1-2 1 1 1 1 1-1 1-2 1-1 1 4 1-2 1-2 1 2 1 1 1-3 1 3 1 0 1 1 1-1 1-2 1-1 1 2 1 1 1 2 1-2 1 1 1-1 1-2 1 3 1-1 1-1 1 3 1 1 1-2 1 0 1-1 1 1 1 2 1-2 1 1 1-1 1-4 1 4 1 1 1-1 1-3 1 1 1 2 1 0 1 0 1-2 1 2 1 1 1-1 1 1 1 0 1-1 1-2 1 0 1 1 1 2 1 0 1-3 1 0 1 2 1 2 1-1 1 0 1 0 1 0 1-1 1 1 1 0 1-1 1 2 1-3 1 0 1 0 1 3 1 0 1-3 1 1 1-1 1-2 1 1 1 2 1 0 1-2 1 1 1 2 1 0 1-1 1-2 1-1 1 2 1-1 1 0 1 0 1 0 1 1 1 1 1-2 1 4 1-1 1-2 1 1 1 1 1-3 1 0 1 0 1-1 1 3 1-1 1 0 1 0 1 0 1 2 1-2 1-2 1 0 1 1 1 1 1 0 1 0 1-1 1 1 1 0 1-2 1 2 1 0 1-1 1 2 1-2 1-1 1 3 1 1 1-4 1 1 1 2 1 0 1 1 1 0 1-4 1 3 1-3 1 1 1 0 1 2 1-2 1 2 1-2 1 5 1-3 1 0 1-1 1 1 1 2 1-1 1-2 1 0 1 1 1 3 1-3 1 1 1 1 1 2 1-3 1-3 1 0 1 4 1-2 1-3 1 1 1 1 1 0 1 2 1 0 1 0 1-4 1 3 1-1 1 0 1 2 1-3 1 0 1 4 1-1 1 1 1 0 1-3 1 3 1-1 1 0 1 0 1 0 1-1 1 0 1 0 1 1 1-4 1 4 1-2 1 4 1-2 1 1 1-2 1 2 1-2 1 0 1-1 1-4 1 1 1 0 1 3 1 0 1 1 1 0 1 1 1-3 1 1 1-1 1-1 1-1 1 2 1-1 1 1 1-1 1 1 1 5 1-3 1-3 1 2 1 0 1-2 1 3 1-2 1 2 1-1 1 0 1 5 1-6 1-2 1 2 1-1 1 3 1-1 1-2 1 4 1-3 1-1 1 3 1-1 1-2 1 0 1 1 1 0 1 1 1 0 1-2 1 0 1 1 1 3 1-3 1 2 1-2 1 1 1-1 1 1 1-1 1 0 1 4 1-2 1-4 1 3 1-2 1 1 1-4 1 1 1-1 1-1 1-1 1 4 1-3 1-2 1-3 1 5 1 0 1-4 1-3 1 3 1-2 1-2 1 5 1-3 1-4 1-1 1 3 1 0 1-2 1-1 1-2 1 3 1-5 1-1 1-2 1-3 1 0 1-3 1-12 1 1 1 4 1 4 1 2 1 8 1 6 1 4 1 3 1 6 1 3 1 2 1-1 1 1 1 2 1 3 1-4 1-1 1 2 1-4 1-2 1 4 1 1 1 0 1-1 1 0 1-3 1 2 1-3 1-1 1 2 1-2 1 0 1 1 1 1 1 1 1-2 1 1 1 0 1 1 1 1 1 0 1 0 1 0 1 0 1-1 1 0 1-1 1 2 1 1 1-2 1 2 1-2 1 3 1 1 1-3 1-1 1 1 1-1 1 0 1 2 1-4 1 4 1-2 1 2 1-1 1 2 1-3 1-2 1 7 1-4 1 0 1 0 1 0 1 0 1-1 1 4 1-3 1 1 1 1 1-2 1 1 1-2 1-1 1 0 1 3 1 0 1-3 1 2 1-3 1 1 1 0 1-5 1 3 1-3 1-3 1 2 1-3 1-2 1-3 1-1 1 1 1 4 1 1 1 3 1 4 1 2 1 1 1 0 1 0 1 1 1-1 1-6 1-4 1-4 1-4 1-4 1 0 1-8 1-14 1-6 1-16 1-22 1-17 1-29 1-23 1-16 1-2 1 24 1 21 1 21 1 18 1 24 1 4 1 10 1 9 1 8 1 1 1 3 1 10 1 2 1 7 1 8 1-2 1 4 1 0 1 7 1-4 1-1 1-3 1-3 1 0 1-5 1-5 1-3 1-4 1-5 1-7 1-11 1-9 1 0 1-6 1 8 1 5 1 11 1 5 1 4 1 8 1 8 1 4 1 2 1-1 1 2 1 0 1 4 1 3 1-1 1-1 1 2 1-1 1 0 1-1 1 0 1-2 1-1 1-2 1 4 1 1 1-2 1 4 1 1 1 0 1-3 1 0 1 1 1 1 1 1 1-4 1 1 1-3 1 3 1 2 1 0 1 3 1-3 1-2 1-1 1 2 1 2 1-4 1 0 1 1 1 0 1 2 1-2 1 1 1 0 1 0 1 1 1-4 1-2 1 1 1 2 1 0 1 1 1-1 1-2 1-4 1 1 1 1 1-5 1-1 1-2 1-2 1-7 1-7 1-2 1-1 1 4 1 0 1 3 1 1 1 1 1 5 1-9 1 4 1-3 1 0 1-4 1 2 1-2 1 2 1 0 1-7 1-1 1 6 1 2 1-5 1-5 1 2 1 7 1 3 1-3 1-2 1 7 1-4 1 3 1 2 1 2 1 4 1-1 1 4 1 4 1 2 1 1 1-2 1-2 1 5 1 1 1 1 1 0 1 1 1-1 1 4 1 2 1-3 1 0 1 2 1 0 1 0 1-1 1 0 1 3 1-4 1 3 1-3 1 2 1-2 1-1 1 0 1 1 1 3 1-2 1-1 1 0 1 1 1 0 1 1 1-2 1-1 1 2 1 2 1-1 1-3 1 1 1 1 1-2 1-1 1 2 1 0 1 1 1 0 1-2 1-2 1 1 1 2 1-1 1 1 1-3 1 1 1-4 1-2 1-1 1-3 1-4 1-3 1-1 1-4 1 0 1 7 1 6 1-1 1-5 1 3 1 1 1-2 1 0 1-6 1-12 1 2 1-8 1-8 1-8 1-6 1-2 1 2 1-2 1-3 1-3 1-12 1-13 1-7 1-17 1-4 1 16 1 18 1 24 1 9 1 13 1 11 1 6 1 3 1 5 1 0 1-4 1-3 1-6 1-2 1-5 1 2 1 8 1 7 1 6 1 5 1 4 1-3 1 1 1 5 1 4 1 0 1-1 1 0 1 0 1 3 1-3 1 0 1-2 1 3 1-1 1-1 1 0 1 1 1 5 1-3 1-1 1-2 1-1 1-1 1 2 1 2 1 0 1-2 1 3 1-1 1 2 1-2 1 0 1-1 1 0 1 2 1 1 1 0 1-2 1-1 1 3 1 1 1-3 1 0 1 0 1 1 1 1 1-3 1 2 1 2 1-2 1-2 1-1 1 2 1 2 1 0 1 0 1-2 1 0 1-1 1 1 1-1 1-1 1 1 1 2 1 0 1 1 1 2 1-3 1-2 1 2 1-2 1 0 1 2 1-1 1 0 1 0 1 0 1-2 1 4 1 1 1-2 1 2 1 0 1-1 1-1 1-5 1 1 1-2 1 0 1-2 1 3 1-1 1-5 1 0 1-2 1-1 1 0 1-5 1-2 1 4 1-3 1-3 1-3 1-3 1 1 1-4 1 2 1-1 1-3 1 1 1-2 1-5 1-6 1-5 1-7 1-10 1-4 1-3 1-2 1 16 1 13 1 14 1 12 1 7 1 3 1 5 1 0 1-1 1 8 1-2 1 0 1 3 1-1 1-2 1 2 1 0 1-1 1-3 1 3 1-1 1 0 1 2 1 3 1-5 1 1 1-2 1-1 1 3 1 2 1-1 1 0 1 1 1-1 1-2 1 0 1 1 1 1 1-1 1 0 1-1 1 0 1-1 1 2 1 4 1-1 1 0 1-2 1 0 1 1 1-1 1 2 1-1 1 0 1-2 1 4 1-2 1 0 1-2 1 0 1 2 1-3 1 4 1-2 1 2 1-2 1 1 1 0 1 1 1-2 1 2 1 0 1 0 1-2 1 0 1 0 1 0 1 2 1 0 1-3 1 1 1 0 1-1 1 0 1 0 1 2 1-2 1 3 1-4 1 3 1 0 1-2 1-2 1 3 1-2 1 3 1-1 1 0 1 0 1 1 1-1 1 1 1 0 1-2 1 3 1 1 1-1 1-2 1 1 1-3 1 0 1 0 1 1 1 2 1-2 1-1 1-1 1 1 1-1 1 4 1-1 1 2 1 0 1-1 1 0 1-1 1-1 1-2 1 3 1-1 1 0 1 1 1 1 1 1 1-3 1 0 1 3 1 0 1 0 1-2 1-1 1 4 1 0 1-3 1 1 1 2 1 2 1-2 1-2 1-1 1 0 1 0 1 0 1 1 1 0 1-1 1-1 1 1 1 0 1 1 1-2" stroke="#868600" stroke-width="1.6" stroke-opacity="0.85"/>
<path d="M86 460l1 1 1 1 1-1 1 3 1-2 1 2 1-2 1 1 1-1 1-1 1-2 1 3 1-1 1 1 1-2 1-1 1 1 1 1 1 1 1-1 1-2 1 1 1-1 1 0 1 1 1 0 1 1 1 3 1-1 1 1 1-2 1 0 1-2 1-1 1 0 1 2 1 2 1 2 1-3 1-3 1 2 1 1 1-2 1 1 1 1 1 0 1 0 1 0 1 0 1 2 1-1 1-1 1 1 1-1 1 0 1 0 1 1 1 2 1-2 1 0 1 2 1-4 1 1 1 1 1-1 1-1 1-1 1 1 1-1 1 3 1-1 1-1 1 1 1-3 1 1 1 2 1-1 1-2 1 1 1 0 1 0 1 1 1 0 1 1 1-1 1 1 1-1 1 1 1 0 1 1 1-1 1-1 1 1 1 2 1-2 1 0 1 2 1-1 1 0 1-2 1 0 1 2 1 2 1-5 1 0 1 3 1-1 1-1 1 2 1 0 1-1 1 0 1 0 1 1 1-2 1 0 1 1 1 1 1 1 1-2 1-1 1 2 1 2 1-2 1 2 1-2 1 2 1-1 1-3 1 2 1 0 1 0 1-1 1 1 1-1 1 1 1 2 1 0 1 0 1-1 1-1 1-1 1-1 1 3 1-2 1 0 1-1 1 2 1 1 1-1 1 1 1-2 1 0 1-1 1-3 1 4 1 1 1 0 1 1 1-1 1-1 1-1 1 4 1-5 1 0 1 0 1 2 1 0 1-1 1-3 1 2 1 2 1-2 1-1 1 1 1 0 1 0 1 1 1-2 1 2 1 1 1-2 1 0 1 0 1 1 1 0 1-1 1 1 1 2 1-4 1 3 1 0 1-3 1-1 1 2 1 3 1-3 1 1 1 0 1 0 1 3 1-3 1-2 1 2 1 0 1-2 1 1 1-1 1-1 1 1 1 3 1-2 1-2 1 3 1-1 1-4 1 2 1-1 1 3 1 5 1 0 1-3 1-2 1-1 1 1 1 2 1 1 1-1 1 1 1-2 1-2 1 3 1 1 1 0 1 0 1-3 1 1 1 0 1 1 1 0 1 1 1-2 1-1 1 1 1 0 1 0 1-1 1 3 1 0 1 0 1 0 1 0 1-2 1 0 1 1 1-3 1 2 1-2 1 5 1-1 1-2 1 0 1 0 1 3 1-1 1-1 1-1 1 1 1 0 1-1 1-1 1-1 1 0 1 1 1-1 1 2 1 3 1-2 1 1 1-1 1 2 1-1 1 0 1 1 1-1 1 1 1-3 1 0 1 1 1-1 1 1 1 2 1-3 1 0 1-1 1-1 1-1 1 3 1 1 1-1 1 1 1-4 1 2 1 0 1 1 1-1 1 1 1 1 1-3 1 1 1 1 1-1 1 0 1-2 1 1 1 1 1-1 1 5 1 0 1-1 1 0 1 0 1-2 1-1 1-2 1 4 1-1 1-3 1 2 1 2 1-3 1 1 1-2 1 2 1 1 1-3 1 2 1 2 1 0 1 2 1 0 1-1 1-3 1 1 1 1 1 1 1-2 1 1 1-1 1 0 1 2 1 2 1-1 1 0 1-1 1 0 1 0 1-2 1 2 1 0 1 0 1-1 1-2 1 0 1 1 1-4 1 2 1 1 1-1 1 0 1 0 1 1 1 0 1 2 1-1 1-1 1 1 1-1 1 1 1 1 1 0 1-2 1-2 1 2 1 1 1-3 1 2 1 0 1-1 1 3 1-2 1-2 1 1 1 2 1 2 1-2 1 0 1 0 1 2 1 0 1-4 1 2 1 1 1-1 1 1 1 0 1-1 1 2 1-1 1 1 1-1 1 0 1 2 1-1 1 1 1-1 1 2 1-4 1 1 1-2 1 0 1 1 1-1 1 1 1 3 1-1 1-2 1 0 1 2 1 1 1-3 1 1 1 0 1-1 1 1 1 0 1 1 1-2 1 1 1 0 1-2 1 1 1 0 1-2 1 1 1-1 1 1 1 0 1 0 1 2 1 1 1-1 1-2 1 1 1-2 1 2 1 0 1-2 1 0 1 1 1-1 1-2 1-2 1-1 1 1 1 0 1 0 1 1 1-4 1 0 1 0 1-2 1 2 1-1 1 1 1 0 1-1 1-2 1 0 1 0 1 0 1-6 1 1 1-1 1 1 1 0 1-3 1-2 1-4 1-1 1-4 1-6 1 0 1-1 1 2 1 10 1 8 1 6 1 3 1 3 1 4 1 2 1-2 1 2 1 2 1 1 1 1 1 0 1-1 1-1 1 2 1-4 1 1 1 2 1-2 1-1 1-1 1 2 1 2 1-4 1-1 1 2 1 1 1-2 1-2 1 1 1-1 1 2 1-1 1 0 1 0 1 1 1-4 1 3 1 0 1 0 1-2 1 4 1-2 1 1 1-1 1 0 1-1 1-1 1 1 1 3 1-3 1 1 1-2 1 3 1-3 1 0 1 2 1 1 1-2 1 2 1 1 1-1 1-1 1 2 1 2 1 2 1-2 1-4 1 4 1 0 1-1 1 1 1 0 1-1 1-2 1 1 1 1 1-1 1-1 1-1 1 2 1-3 1 1 1-1 1 3 1-1 1 1 1-6 1-2 1 1 1-4 1-1 1 0 1-3 1 1 1-2 1 2 1 3 1 4 1 3 1 1 1 0 1 0 1 1 1 0 1-3 1-2 1-4 1 0 1-4 1-6 1-2 1-7 1-8 1-7 1-13 1-19 1-20 1-27 1-22 1-25 1-7 1 4 1 22 1 34 1 21 1 12 1 18 1 7 1 13 1 5 1 4 1 7 1 4 1 0 1 10 1 3 1 5 1-3 1 8 1 1 1 0 1 4 1-2 1-5 1-3 1 1 1 0 1-6 1-5 1 0 1-9 1-4 1-9 1-10 1-5 1 1 1 9 1 11 1 5 1 5 1 9 1 4 1 1 1 4 1 1 1 4 1-1 1 0 1 1 1 2 1 1 1-1 1 0 1-2 1 1 1 3 1-3 1-2 1 0 1 0 1 1 1-1 1 3 1-3 1 1 1 3 1-2 1 2 1-2 1 1 1 2 1-4 1 1 1-2 1 1 1 0 1 0 1-2 1-1 1 4 1 0 1 2 1-2 1 0 1-2 1-1 1 2 1-1 1 4 1 0 1-1 1 1 1-2 1-1 1 4 1-3 1 1 1-3 1 1 1 0 1-5 1-1 1 1 1 0 1-1 1-4 1-3 1-4 1-4 1-2 1-4 1-2 1 1 1 3 1 1 1 5 1 0 1-3 1 0 1 1 1 1 1-4 1-1 1-3 1-1 1 1 1 8 1-5 1-3 1-1 1-4 1 1 1 4 1 0 1 3 1-1 1 2 1 0 1 2 1 2 1 2 1-1 1 1 1 1 1 3 1 3 1 0 1-2 1 3 1 2 1 1 1 1 1 2 1 3 1 0 1 2 1-5 1 1 1 1 1 4 1-1 1-1 1 0 1 1 1 3 1 0 1-3 1 2 1-1 1 3 1 1 1-3 1-1 1-4 1 4 1-3 1 1 1 2 1-3 1 6 1-4 1 1 1-1 1 1 1-2 1 0 1-3 1 5 1 0 1-2 1-1 1-1 1 0 1 2 1 0 1 0 1 1 1-1 1-1 1-1 1-1 1 1 1-4 1-1 1 0 1-5 1-1 1-4 1-1 1 5 1-11 1 5 1 0 1 0 1 2 1 5 1-2 1 1 1 2 1-8 1-3 1 2 1 0 1-6 1-2 1-5 1-8 1-8 1-2 1-1 1-4 1-7 1-7 1-12 1-16 1-20 1-6 1 2 1 17 1 17 1 19 1 20 1 13 1 13 1 1 1 2 1 4 1-7 1 1 1-6 1-8 1-1 1 5 1 5 1 6 1 4 1 6 1 3 1 3 1 4 1 0 1-2 1 1 1 1 1 2 1 2 1 1 1-2 1-2 1-1 1-1 1 5 1-3 1 0 1 3 1-3 1 1 1 0 1-3 1 1 1 7 1-4 1-4 1 2 1 2 1 1 1-1 1-2 1 2 1 2 1-2 1-2 1 0 1-1 1 5 1 0 1-1 1 1 1 1 1-3 1-1 1 3 1-4 1 2 1 3 1 0 1-2 1-1 1 0 1 0 1 0 1 2 1 0 1 1 1-2 1-2 1 1 1 3 1-4 1 2 1-3 1 2 1-1 1 0 1-1 1 0 1 2 1 2 1-1 1-2 1 1 1-4 1 4 1 3 1-6 1 2 1 3 1 1 1-1 1-3 1 3 1 0 1-4 1-1 1-3 1 0 1 2 1-5 1 3 1-2 1-2 1-2 1 1 1-2 1-2 1-4 1 2 1-1 1 1 1-2 1-2 1-3 1-2 1-1 1 1 1-6 1-2 1 2 1 1 1-5 1-5 1 0 1-10 1-11 1-9 1-8 1-6 1 11 1 12 1 16 1 13 1 4 1 14 1 4 1 3 1 1 1 1 1 4 1-1 1 1 1-3 1 5 1-1 1-1 1-2 1 1 1 1 1-5 1 7 1-3 1 0 1 2 1 2 1-2 1 1 1-3 1 0 1 2 1-3 1-2 1 3 1 1 1 1 1 1 1 0 1-1 1 1 1 0 1 0 1-1 1 2 1-1 1 2 1-3 1 3 1-3 1 2 1-2 1 1 1 2 1-3 1 4 1 2 1-2 1-4 1 3 1 0 1 0 1 0 1 1 1 1 1-1 1 1 1-3 1 4 1-5 1-1 1 2 1 2 1-1 1-3 1 2 1 1 1 3 1-4 1-3 1 0 1 2 1 1 1 0 1-1 1-1 1 1 1 1 1 3 1-4 1-2 1 1 1 0 1-3 1 3 1 1 1-1 1-1 1 1 1 1 1 0 1-1 1-2 1 3 1 2 1-3 1-4 1 5 1 1 1-2 1 0 1 2 1 0 1-1 1-1 1 1 1 1 1-1 1-2 1 1 1 1 1 0 1-1 1 2 1-2 1 3 1 1 1-1 1-2 1 0 1-3 1 5 1-3 1-1 1 1 1 0 1 1 1 0 1 0 1 2 1-1 1-1 1 0 1 0 1 2 1-3 1 1 1 3 1-2 1 0 1 0 1-3 1 3 1 1 1-1 1 0 1-2 1 1 1 0 1 0 1-2 1 1" stroke="#868600" stroke-width="1.6" stroke-opacity="0.85"/>
<path d="M86 462l1 0 1-1 1 0 1 1 1 0 1 0 1 0 1 2 1 0 1 1 1-3 1-1 1 1 1 1 1-3 1 3 1-1 1 1 1 0 1-1 1-1 1 1 1 1 1-3 1 2 1 0 1 0 1 0 1 1 1-1 1 2 1-2 1 3 1-5 1 4 1-3 1-1 1 0 1 1 1 1 1 0 1 1 1-1 1-1 1 0 1 1 1 0 1 2 1-3 1 0 1 0 1 0 1 0 1-1 1-1 1 0 1 1 1-2 1 3 1 2 1 0 1-3 1 0 1 1 1 1 1 1 1 0 1 0 1 0 1 1 1 0 1 3 1-2 1-1 1-1 1-1 1 0 1 2 1 1 1 1 1-1 1 0 1-1 1 0 1 1 1 0 1-1 1 0 1-1 1-2 1 3 1-1 1 4 1-3 1 1 1-1 1-2 1 4 1-2 1 2 1 0 1-1 1-5 1 2 1 1 1-1 1 2 1 2 1 0 1-3 1-1 1 3 1 0 1-2 1-1 1 4 1 0 1 0 1-1 1-2 1 0 1-1 1 3 1-3 1 0 1 1 1 0 1 3 1-1 1-2 1 1 1 1 1 1 1-4 1 1 1-1 1 2 1 1 1-1 1 3 1-4 1 1 1-1 1-1 1 1 1 1 1-1 1 0 1 0 1 0 1 2 1 0 1-1 1 1 1-5 1 2 1 3 1-3 1 2 1 0 1-1 1-1 1-1 1-1 1 0 1 3 1 0 1 0 1-2 1 2 1 1 1-3 1 0 1 1 1 3 1 0 1 1 1 0 1-4 1 0 1-4 1 3 1 0 1 1 1 0 1-3 1 3 1-1 1-1 1 1 1 1 1-1 1 2 1-1 1-1 1-1 1 0 1 3 1-1 1 0 1 0 1 1 1 0 1-2 1 1 1 0 1 0 1-2 1 2 1 2 1-4 1 1 1 1 1-2 1 2 1 1 1 1 1-1 1 0 1-1 1 1 1 0 1 0 1 1 1 0 1-1 1 0 1-1 1 0 1 2 1 0 1-2 1 1 1 0 1-1 1-1 1 1 1 2 1 0 1 0 1-2 1-2 1 4 1 0 1 1 1 2 1-2 1-5 1 2 1 1 1 2 1-3 1 0 1 2 1-4 1 1 1-1 1 0 1 2 1 0 1 0 1 0 1-1 1 1 1 0 1-1 1 1 1-1 1 2 1 1 1-1 1 1 1-2 1 0 1 0 1 0 1 1 1-1 1-2 1 1 1 2 1 3 1-4 1-2 1 2 1-1 1-1 1 6 1 0 1-3 1-1 1 0 1 2 1 0 1 0 1-3 1 1 1 2 1-1 1-3 1 2 1 2 1-4 1 4 1-1 1 2 1-1 1-1 1 0 1-1 1 0 1 1 1 0 1-2 1 0 1-2 1 1 1 2 1 2 1-1 1 0 1-1 1 0 1 2 1 0 1-3 1 2 1 0 1-2 1 1 1 1 1 0 1 1 1-1 1 1 1 0 1 1 1-4 1 1 1-1 1 2 1 1 1 1 1-3 1 1 1 0 1 2 1-2 1-1 1 1 1-1 1-1 1-1 1 3 1 2 1-2 1 1 1-2 1 2 1 0 1-2 1-1 1 1 1 1 1 1 1-4 1 5 1-1 1-1 1-2 1 1 1 2 1 0 1-1 1-2 1 1 1 1 1 0 1-1 1 1 1 1 1-3 1 3 1-3 1 0 1 0 1 3 1 0 1 0 1-3 1 0 1 5 1-3 1-4 1 2 1 2 1 2 1 1 1-4 1 2 1-1 1-1 1 0 1-1 1 0 1 1 1 1 1-2 1 3 1-2 1 1 1-2 1-1 1 4 1-1 1-4 1 3 1-2 1 3 1 1 1-1 1-1 1 0 1 1 1-1 1 2 1-2 1-1 1 3 1 3 1-1 1-2 1-1 1 0 1 3 1-1 1-2 1 1 1 2 1-2 1 0 1-2 1-1 1 3 1 0 1 0 1 1 1-3 1 0 1 0 1-2 1-2 1 2 1-1 1-1 1 2 1 0 1-3 1-3 1 0 1 1 1 1 1 0 1 1 1 2 1-6 1 2 1-2 1 0 1-1 1 2 1-1 1 1 1 0 1-7 1 1 1 1 1 0 1-2 1-3 1 4 1-6 1 1 1-4 1-1 1-1 1-6 1-1 1-6 1-8 1-2 1 2 1 7 1 8 1 2 1 8 1 6 1 4 1 9 1-1 1 2 1 1 1 1 1 3 1-1 1-1 1 0 1 1 1-1 1 1 1 0 1-3 1-1 1 0 1 1 1-1 1 1 1-2 1 1 1 1 1-2 1 3 1 1 1-7 1 3 1 1 1 2 1-3 1 2 1 2 1-2 1-1 1 0 1 1 1 1 1-1 1-1 1-3 1 2 1 1 1 1 1 0 1-1 1 2 1 1 1-1 1-1 1-2 1-1 1 3 1 0 1 0 1-2 1-1 1 0 1 1 1-2 1 4 1-2 1 1 1 0 1 2 1-3 1 2 1 0 1 1 1 0 1-3 1-2 1 0 1 2 1 2 1-1 1-1 1 1 1-3 1 4 1 0 1-1 1-1 1 0 1-6 1-1 1 1 1-2 1-3 1-2 1-3 1 2 1-2 1-3 1 6 1 2 1 2 1 6 1-1 1 0 1 3 1 4 1-2 1 1 1-4 1-2 1-6 1-6 1-12 1-3 1-6 1-5 1-7 1-14 1-20 1-31 1-25 1-21 1-12 1 3 1 15 1 24 1 30 1 13 1 15 1 11 1 9 1 5 1 6 1 9 1 4 1 6 1 2 1 5 1 3 1 9 1-3 1 3 1 2 1-1 1-2 1-2 1 0 1 0 1-2 1-3 1-9 1-4 1-3 1-9 1-11 1-10 1-5 1-3 1 8 1 7 1 14 1 8 1 5 1 2 1 7 1 6 1-1 1 3 1-2 1 3 1 4 1 3 1 0 1-1 1 3 1-7 1 1 1 4 1 1 1 0 1-4 1-2 1 0 1 1 1 2 1-1 1 0 1 2 1-1 1 1 1 1 1-3 1 1 1-1 1 2 1-3 1 1 1 2 1-4 1 6 1-1 1-2 1 0 1 1 1 0 1-2 1 2 1-2 1 1 1 1 1 0 1-1 1 1 1-1 1 1 1 3 1-1 1-4 1-2 1 5 1 1 1-3 1-1 1-1 1 0 1-3 1-1 1-3 1-3 1-3 1-7 1 0 1-6 1-2 1-1 1 0 1 6 1 1 1-3 1 8 1 1 1-5 1 0 1 1 1-4 1-9 1 7 1-7 1 1 1 4 1-6 1-3 1 3 1 0 1-4 1 9 1-2 1 0 1 2 1 2 1 4 1-2 1 1 1 4 1 2 1 2 1-1 1 4 1 2 1-1 1 5 1 1 1 4 1 2 1-2 1-2 1 2 1 0 1 1 1 4 1 0 1-2 1-1 1 3 1 2 1-1 1-1 1 0 1 2 1-1 1-1 1-4 1 4 1 0 1 0 1 1 1-3 1 2 1-1 1-2 1 2 1 1 1 1 1-1 1-1 1 1 1-5 1 2 1 0 1 3 1 2 1-2 1 0 1 0 1 0 1-4 1 2 1-2 1 0 1 2 1 0 1-2 1 1 1-2 1-1 1-1 1-1 1 0 1-2 1-7 1-4 1-4 1 0 1 1 1 2 1-1 1 4 1 0 1-1 1 2 1-2 1 0 1-2 1-5 1-3 1-5 1-7 1-9 1-3 1-6 1-7 1-10 1-5 1-1 1-6 1-16 1-19 1-30 1-15 1-7 1 25 1 30 1 32 1 19 1 17 1 14 1 6 1 8 1-1 1 3 1-6 1-4 1-1 1-2 1-7 1 10 1 8 1 4 1 1 1 4 1 6 1-2 1 8 1 3 1-4 1 1 1 3 1-1 1 2 1-1 1-1 1 1 1 1 1 0 1-1 1 3 1 0 1-1 1-4 1 1 1 1 1 2 1 1 1-2 1 2 1-3 1 2 1-1 1 0 1 3 1-3 1 1 1 3 1-2 1-3 1 0 1 1 1 2 1 0 1-3 1 0 1 0 1 2 1 1 1-1 1 1 1-1 1 1 1 2 1-1 1-3 1 1 1 2 1-2 1-1 1 1 1-2 1 2 1-1 1 2 1 2 1-3 1-2 1-1 1 3 1-1 1-1 1 1 1 1 1-2 1 2 1 1 1-2 1 3 1-3 1-1 1 4 1-2 1-1 1 0 1 1 1-1 1 0 1-3 1-1 1 1 1-3 1 1 1 2 1-3 1 0 1-4 1 1 1-3 1 1 1-5 1 1 1 1 1-3 1-1 1-3 1-6 1 1 1 0 1 2 1-3 1-4 1 2 1-3 1-7 1 4 1-3 1 2 1-9 1-12 1-2 1-12 1-12 1-3 1 7 1 11 1 15 1 18 1 10 1 5 1 10 1 2 1 6 1 1 1-2 1 2 1-2 1 1 1-2 1 1 1 2 1 2 1 1 1 1 1-1 1-2 1 0 1 0 1 0 1-2 1 2 1 3 1-2 1-1 1 2 1-1 1 0 1-1 1-1 1 2 1 0 1 0 1 2 1-2 1 1 1 1 1-1 1-4 1 2 1-1 1 1 1 3 1 1 1-2 1-4 1 2 1 0 1 1 1 3 1-2 1 0 1 0 1 1 1-2 1-2 1 2 1-1 1-2 1 0 1 2 1 1 1 3 1-3 1-1 1 2 1 1 1-3 1 1 1 3 1 1 1-4 1-2 1 3 1 0 1 2 1 0 1-2 1-1 1 1 1-1 1 0 1 1 1 3 1 0 1-1 1-4 1 2 1-1 1 2 1 1 1-1 1-2 1-1 1 3 1 1 1-3 1-1 1 1 1 0 1 3 1 0 1-1 1-2 1-1 1 1 1 1 1 1 1 0 1-1 1 1 1 0 1-1 1-1 1 2 1 1 1-1 1-3 1 2 1 0 1-1 1 0 1 0 1-1 1 2 1 0 1-1 1-1 1 2 1 2 1-4 1 2 1 0 1 0 1 1 1-1 1 2 1 0 1-2 1 2 1 1 1 0 1-2 1 1 1-1 1-1 1 5 1-2 1 0 1-2 1 0 1 0 1 3 1-3 1 0 1 1 1-1 1 1" stroke="#868600" stroke-width="1.6" stroke-opacity="0.85"/>
<path d="M86 465l1 1 1-1 1-1 1 0 1-2 1 2 1 1 1 0 1 0 1-1 1 1 1-1 1-2 1-1 1-1 1 2 1 1 1 1 1-2 1 0 1 2 1 1 1 0 1-1 1-1 1 1 1 1 1 0 1-2 1 0 1 2 1 0 1-2 1-2 1 2 1 2 1-2 1 0 1 3 1-1 1-1 1-1 1 2 1 0 1 0 1-3 1 4 1 1 1-2 1-1 1 2 1 0 1-2 1 0 1 0 1-1 1 1 1 2 1 1 1-5 1 3 1-3 1 1 1 2 1-2 1 2 1-1 1 1 1-2 1 4 1-4 1 0 1 0 1 3 1-1 1 0 1 1 1-3 1 0 1 1 1-1 1 0 1 1 1 0 1 0 1-1 1 2 1-1 1-1 1 0 1 1 1 0 1 1 1 1 1-2 1-3 1 3 1 0 1 0 1-1 1-2 1 2 1 1 1 0 1 3 1-1 1-4 1 4 1-3 1 1 1 5 1-1 1-2 1-3 1 2 1 0 1-1 1 1 1-2 1 4 1-2 1-1 1 3 1 0 1 0 1-4 1 1 1 0 1-2 1 2 1 0 1 0 1 0 1-2 1 3 1 1 1-4 1 0 1 2 1-2 1 1 1 1 1-2 1 0 1 4 1-2 1 2 1-2 1 2 1-1 1-2 1 3 1-1 1 0 1 4 1-1 1-4 1 1 1-1 1 0 1 1 1 1 1 0 1-3 1 2 1 1 1-5 1 2 1 0 1 1 1-2 1 1 1 0 1 0 1 0 1-2 1 1 1 1 1 2 1 1 1-2 1-1 1-1 1 0 1 3 1 1 1-2 1-1 1 1 1 2 1 1 1-2 1-1 1 1 1-1 1 1 1 2 1-1 1-3 1 5 1 1 1-6 1 1 1 2 1 1 1-4 1 4 1 0 1-1 1-1 1-3 1 3 1-1 1 1 1-1 1-1 1 5 1 1 1-6 1 2 1-2 1 2 1-1 1 1 1-1 1 1 1-3 1 3 1 0 1 0 1 0 1 2 1-1 1-2 1 0 1-1 1 1 1 2 1-3 1 3 1 1 1-1 1 0 1-3 1 0 1 0 1 3 1-2 1-1 1 1 1 2 1-3 1 3 1-1 1 0 1 0 1-1 1-1 1-1 1 3 1-3 1 1 1 1 1 1 1-4 1 2 1 1 1 1 1 0 1 1 1-2 1 0 1 1 1 0 1 0 1 0 1 1 1 0 1-3 1 0 1 4 1-4 1-2 1 2 1 2 1 1 1-1 1 0 1 0 1 1 1-4 1 2 1 1 1 0 1 1 1-3 1 3 1 0 1-3 1 1 1 0 1-3 1 3 1-1 1 0 1-2 1 3 1 2 1 0 1 0 1-1 1 0 1-3 1 0 1 1 1 0 1 0 1 0 1 2 1-3 1 2 1 0 1 0 1 0 1 1 1-1 1 2 1 0 1 0 1-2 1 0 1 2 1 2 1-1 1-1 1 1 1-3 1 1 1-4 1 3 1 1 1-2 1-2 1 2 1 2 1 1 1-1 1 0 1 1 1-1 1-2 1 1 1 3 1-4 1-1 1-1 1-1 1 2 1 3 1 0 1 0 1 0 1-2 1 0 1 1 1 2 1-3 1-1 1 1 1 3 1-2 1-2 1 2 1 1 1-2 1 0 1-1 1 0 1 2 1 2 1 0 1-2 1-1 1 2 1 2 1 0 1-3 1 0 1 2 1 0 1 1 1 0 1 0 1-2 1-1 1 2 1-1 1 1 1-1 1 1 1-1 1 0 1 2 1 0 1-3 1 1 1 0 1 0 1 0 1 0 1-1 1 1 1 1 1-4 1 4 1-4 1 1 1 0 1 2 1-1 1 0 1-3 1 2 1 2 1-2 1-1 1 2 1 2 1-1 1 0 1-3 1 1 1 0 1 0 1-1 1 0 1 3 1-3 1 2 1-1 1 0 1 2 1-1 1 2 1 1 1-2 1-2 1-1 1-1 1 3 1 0 1 3 1-3 1-2 1 0 1 0 1-1 1-2 1 4 1-1 1 1 1-2 1-1 1 0 1-1 1 1 1-2 1-1 1-4 1 2 1 1 1-1 1-1 1 2 1-1 1-5 1 2 1 1 1 2 1-4 1-3 1 0 1 1 1-8 1 5 1 0 1-5 1 0 1-7 1-6 1-6 1 0 1 0 1 2 1 3 1 10 1 8 1 6 1 6 1-1 1 4 1 2 1 1 1 1 1 1 1-2 1 2 1 2 1-2 1 0 1 0 1 1 1 0 1-3 1 0 1-1 1 2 1 0 1 0 1-2 1 2 1-2 1 0 1 1 1-1 1 2 1 0 1-1 1 2 1 0 1-2 1-1 1-1 1 2 1 0 1 1 1 0 1-1 1-1 1 2 1-1 1-3 1 2 1 3 1-1 1-1 1-1 1 2 1-2 1-2 1 1 1 5 1-3 1 0 1 1 1 0 1 1 1-1 1-1 1 1 1 0 1 3 1 1 1-1 1 1 1-3 1-1 1-2 1 4 1 0 1-2 1 1 1-1 1 1 1 1 1-1 1-2 1-1 1 2 1-4 1 2 1 0 1 0 1-5 1 1 1-2 1-2 1 0 1-4 1-6 1 5 1-1 1 5 1 1 1 1 1 4 1 2 1 0 1 4 1-1 1 1 1 1 1-5 1-2 1-2 1-3 1-4 1-6 1-6 1-6 1-10 1-14 1-9 1-17 1-15 1-32 1-21 1-1 1 13 1 24 1 19 1 19 1 10 1 9 1 9 1 7 1 3 1 10 1 4 1 8 1 0 1 4 1 1 1 5 1 1 1 4 1 2 1-4 1-2 1 1 1-1 1-1 1-2 1-6 1-4 1-5 1-2 1-4 1-10 1-7 1-10 1-3 1 9 1 7 1 6 1 5 1 9 1 2 1 7 1 2 1 1 1 5 1 6 1-1 1 1 1-2 1 3 1-2 1 1 1 2 1 2 1-4 1 1 1-2 1-3 1 4 1 3 1-3 1-3 1 1 1 1 1-2 1 1 1-1 1 1 1 0 1 0 1 1 1-1 1 2 1-3 1 3 1 2 1-1 1-2 1 0 1-1 1 1 1-1 1 3 1-1 1-2 1 2 1-2 1 1 1-2 1 0 1 3 1 2 1-1 1-1 1-2 1 1 1-2 1 0 1-1 1 2 1-2 1-4 1 2 1 1 1-3 1-4 1-3 1-3 1-3 1-5 1-4 1 2 1-3 1 2 1 7 1-3 1 6 1-2 1-1 1 1 1 1 1-5 1-2 1-4 1-2 1-1 1 5 1-3 1 2 1-6 1 0 1 3 1 2 1-3 1 1 1 1 1 7 1-1 1 0 1 0 1 2 1 1 1 7 1-3 1-3 1 3 1 0 1 3 1 1 1 7 1-1 1-1 1 7 1-3 1 4 1-3 1 1 1 2 1 2 1-2 1 2 1-3 1 4 1-2 1 0 1-1 1 1 1 1 1-1 1-2 1 5 1-4 1-1 1 0 1 3 1-2 1 1 1 3 1-1 1-2 1-2 1 2 1 0 1-2 1 0 1 2 1 0 1 2 1-5 1 1 1 0 1 1 1-1 1 3 1 1 1-3 1 0 1-2 1 2 1-4 1 1 1 0 1-3 1 1 1-3 1-1 1-4 1-5 1 0 1-3 1-1 1 1 1 4 1 0 1 3 1 3 1-4 1 0 1-3 1 0 1-4 1-2 1-7 1-4 1-2 1-9 1-4 1-11 1-7 1 0 1-1 1-6 1-11 1-13 1-7 1-23 1-2 1 14 1 20 1 11 1 22 1 16 1 15 1 6 1 4 1 6 1 1 1-4 1-6 1-1 1-6 1-1 1 3 1 6 1 5 1 5 1 6 1 1 1-2 1 4 1 4 1 3 1-1 1 0 1 2 1-2 1 3 1-2 1 1 1 0 1 0 1 1 1-2 1-2 1 2 1 3 1-1 1-4 1-1 1 2 1-2 1 0 1 4 1 1 1 0 1 0 1-5 1 2 1 0 1 2 1-2 1 2 1 1 1 0 1 1 1 0 1-3 1-2 1 3 1 2 1-1 1-5 1 2 1 2 1 1 1-1 1 0 1-1 1 2 1 2 1-3 1-3 1 2 1 2 1 0 1-2 1-1 1 2 1 0 1 0 1 0 1 0 1-2 1-2 1 1 1 2 1 2 1-2 1 4 1-3 1-1 1 2 1 1 1 1 1-1 1-1 1-1 1 0 1 1 1-2 1 1 1-4 1 0 1 0 1 0 1 0 1-1 1-2 1-4 1 5 1-5 1 1 1-2 1-2 1-2 1-2 1-4 1 2 1 4 1-4 1-5 1-1 1-1 1-1 1 2 1-3 1-5 1-5 1 7 1-3 1-6 1-4 1-8 1-6 1-2 1-18 1 5 1 13 1 14 1 11 1 10 1 8 1 3 1 4 1 6 1 0 1 3 1 2 1 1 1 0 1-4 1 2 1 1 1 1 1-1 1 2 1-1 1 1 1-1 1-1 1-1 1 1 1 3 1 0 1-5 1 6 1-1 1-3 1 1 1 0 1-5 1 3 1 1 1-1 1-1 1 1 1 2 1-1 1-1 1 4 1-4 1 0 1 2 1-2 1 0 1 0 1 2 1 3 1-4 1-1 1 0 1 2 1 0 1-2 1 0 1 2 1-2 1 0 1 2 1 1 1-3 1-2 1 3 1-2 1 4 1-1 1 0 1 0 1 1 1-1 1 0 1-1 1-2 1 3 1-1 1 1 1 1 1-2 1 0 1 2 1-2 1 0 1 0 1 2 1-1 1 1 1 1 1-1 1 0 1-1 1-1 1-1 1 2 1 2 1 1 1-3 1 0 1 1 1 0 1-2 1-2 1 2 1 0 1 1 1 0 1-1 1 1 1-1 1-1 1 3 1-1 1 1 1 1 1-4 1 1 1-1 1 2 1-2 1-2 1 5 1-2 1 0 1 1 1 1 1-1 1-1 1 3 1-3 1-1 1 1 1-1 1 1 1-1 1 1 1-3 1 3 1 1 1-1 1 0 1 3 1-3 1-2 1 2 1 1 1-2 1-2 1 1 1-1 1 1 1-1 1 4 1-2 1 1 1-1 1 1 1-1 1-1 1 0" stroke="#868600" stroke-width="1.6" stroke-opacity="0.85"/>
<path d="M86 467l1 1 1-3 1-1 1 0 1 1 1-2 1 0 1 3 1 0 1-2 1 2 1 0 1 1 1 0 1-1 1 0 1 0 1-2 1 2 1-3 1 3 1 0 1-2 1 0 1 0 1 1 1 1 1-2 1 1 1 1 1-2 1 1 1-2 1 1 1 2 1 0 1-3 1 1 1 3 1-2 1-1 1 1 1 0 1 2 1-3 1 0 1 1 1 0 1 0 1-1 1 2 1-1 1-1 1 6 1-3 1-2 1 2 1-2 1 3 1 0 1-1 1 1 1 0 1 2 1 2 1-8 1 4 1 0 1 2 1-2 1 0 1-1 1 2 1 0 1-1 1 3 1 0 1-2 1-2 1 0 1 3 1-4 1 1 1-1 1-1 1 1 1 2 1-2 1-3 1 1 1-1 1 2 1 0 1 2 1-3 1-1 1 2 1 3 1-3 1-1 1 3 1-4 1 2 1 0 1 1 1 0 1-1 1 0 1 0 1 0 1 0 1 0 1 1 1 2 1-2 1-2 1 2 1-1 1 3 1-2 1-2 1 0 1 2 1-2 1-1 1 1 1 0 1 1 1 1 1 2 1-1 1 0 1-3 1 1 1-2 1 1 1-1 1-1 1 0 1 3 1 0 1-2 1 2 1-1 1 1 1-1 1 1 1-3 1 5 1-1 1-3 1-1 1-1 1 2 1 0 1 1 1 0 1 0 1-3 1 0 1 4 1 0 1 1 1-3 1 0 1 0 1 5 1-6 1 1 1 2 1 1 1-4 1 1 1-1 1 4 1 0 1-1 1-2 1 2 1 0 1 0 1-1 1 2 1-2 1 0 1 1 1 1 1-1 1 3 1-1 1-2 1 1 1-2 1-1 1 5 1-1 1 1 1-3 1-1 1 1 1 3 1-2 1-3 1 1 1 0 1 0 1 3 1-1 1 1 1-1 1-3 1 1 1 0 1 3 1-1 1-1 1 3 1 1 1-5 1-1 1 3 1 0 1-3 1 0 1 1 1 2 1-1 1-2 1 0 1 0 1 2 1 3 1 0 1-2 1-3 1 3 1-2 1 0 1 2 1-1 1 1 1 0 1-2 1 1 1 1 1-1 1-2 1 3 1-2 1 0 1 0 1 2 1 0 1 2 1-5 1 1 1 1 1 0 1-2 1 1 1 0 1 1 1 0 1 0 1-1 1-1 1 5 1 0 1-2 1 1 1 0 1 0 1-2 1 1 1-1 1-2 1 0 1 3 1 0 1 0 1 0 1 0 1 0 1-2 1 1 1 4 1-2 1 1 1-2 1 1 1 2 1-2 1 1 1 0 1-2 1-2 1 0 1 0 1-1 1-1 1 1 1 2 1 3 1-4 1 1 1 0 1 0 1-2 1 2 1-1 1 3 1-2 1-2 1 3 1-3 1 0 1 5 1-1 1 0 1-2 1 0 1-1 1 1 1-1 1 0 1 3 1-2 1 2 1-2 1 1 1-1 1 0 1 1 1-1 1 1 1-1 1 0 1 1 1 0 1 1 1-2 1-1 1 0 1 1 1 0 1 2 1 1 1-2 1 0 1 0 1-1 1 0 1 1 1 0 1-4 1 2 1 0 1 1 1 2 1 0 1-3 1 3 1-3 1 2 1-1 1-1 1 0 1 2 1-1 1-2 1 3 1-1 1 0 1-2 1 1 1 0 1-4 1 6 1 0 1-1 1 3 1 0 1-1 1-3 1 4 1-1 1 1 1-4 1 1 1-1 1 0 1 0 1 0 1 3 1-1 1-1 1-2 1 2 1-1 1 3 1-1 1 0 1-1 1-1 1 0 1 3 1-1 1-2 1 2 1 1 1-1 1 1 1-2 1-2 1 0 1 2 1 1 1 2 1 1 1-3 1 0 1 1 1-1 1 0 1 0 1 2 1-2 1-2 1 4 1-1 1 1 1-3 1-2 1 2 1-1 1 2 1 0 1 0 1 2 1-4 1 0 1 2 1 1 1-1 1-1 1 1 1-4 1 1 1 1 1-2 1 2 1 0 1-1 1 1 1 0 1-1 1-2 1-3 1 1 1-1 1-1 1-3 1 2 1 1 1 2 1-5 1-1 1 3 1 3 1-3 1-2 1 0 1-3 1 1 1-1 1 3 1-5 1 1 1-1 1-2 1 0 1 3 1-8 1 1 1-1 1-7 1-4 1-4 1 4 1-4 1-2 1 5 1 7 1 8 1 4 1 7 1 4 1 4 1 0 1 2 1 0 1 2 1 0 1-2 1 0 1 0 1 0 1-2 1 1 1-1 1 0 1 0 1 1 1 1 1-2 1-3 1 4 1-1 1 0 1 0 1-1 1-1 1 3 1 0 1-4 1 1 1-2 1 1 1 4 1-1 1 2 1-4 1 2 1 2 1 0 1 1 1-2 1 0 1 0 1 0 1-1 1 0 1 0 1 1 1-2 1 0 1 2 1-1 1-1 1 1 1-1 1 0 1 3 1 0 1-3 1 1 1 1 1 2 1-1 1 0 1-1 1 0 1 1 1-2 1 2 1 0 1-1 1 1 1 0 1-2 1 0 1-1 1 0 1-1 1-1 1 3 1-4 1-1 1 1 1 4 1-7 1 0 1-1 1 1 1-4 1 1 1-4 1 2 1-1 1 1 1 0 1 3 1 3 1 2 1 3 1 0 1 2 1-1 1-1 1 0 1-4 1-2 1-5 1-6 1-4 1-5 1-7 1-6 1-19 1-10 1-18 1-22 1-31 1-20 1-11 1 7 1 25 1 31 1 14 1 19 1 8 1 15 1 8 1 5 1 5 1 7 1 6 1 2 1 1 1 9 1 3 1 2 1 1 1-2 1 5 1 0 1 0 1-2 1-4 1 0 1-4 1-2 1-4 1-3 1-5 1-6 1-5 1-8 1-6 1-1 1 7 1 9 1 7 1 3 1 5 1 6 1 3 1 2 1-2 1 2 1 6 1 3 1 1 1 0 1 0 1-3 1 3 1-1 1-4 1 4 1 0 1-3 1-1 1 4 1-2 1-2 1 0 1 3 1-1 1 3 1-3 1 2 1 1 1-2 1 0 1-1 1 3 1-2 1-1 1 1 1 2 1-2 1-3 1 1 1 4 1-2 1-2 1 2 1 1 1 0 1-2 1 1 1 0 1 0 1 0 1-1 1 0 1-2 1 0 1 4 1-2 1-1 1 2 1 3 1-1 1-5 1-1 1-3 1 1 1-1 1-6 1-6 1-4 1-2 1-6 1 5 1 0 1 1 1 3 1 0 1 3 1-1 1 1 1 1 1-5 1-2 1-6 1 5 1 0 1-2 1-3 1-2 1-4 1 5 1-1 1 2 1 0 1 0 1-1 1 5 1 0 1-1 1-1 1 3 1 0 1 5 1 2 1 6 1 0 1-2 1 1 1 2 1 1 1 4 1-2 1-2 1 4 1-2 1 5 1 2 1-2 1-1 1 2 1 3 1-1 1-3 1 1 1 2 1 0 1 1 1-2 1-4 1 5 1 3 1-1 1-5 1 1 1 1 1 3 1-2 1-3 1 2 1 3 1-1 1-1 1-3 1 0 1 7 1-4 1-2 1 2 1 4 1-1 1-2 1-2 1 2 1 1 1-3 1-1 1 1 1 0 1-2 1-2 1 5 1-1 1-4 1 1 1 1 1-1 1-5 1-3 1-3 1-2 1-8 1 6 1-2 1 2 1 1 1 2 1 3 1-1 1 0 1-2 1 1 1-4 1-2 1-5 1-1 1-5 1-5 1-9 1-4 1-2 1-1 1-6 1-3 1-8 1-14 1-17 1-15 1-3 1-2 1 23 1 19 1 21 1 14 1 13 1 6 1 3 1 6 1-2 1 1 1-6 1-7 1 1 1-4 1 7 1 0 1 2 1 8 1 8 1 0 1 1 1 3 1 2 1 0 1 0 1 0 1 5 1 3 1-3 1 0 1-1 1-2 1-3 1 2 1 1 1-1 1 0 1 1 1 0 1-1 1 0 1 1 1 1 1 0 1 1 1 1 1-1 1 1 1 0 1-3 1 1 1 0 1 1 1-1 1 3 1-5 1 1 1 2 1-3 1 2 1 0 1 0 1 1 1-3 1 1 1 4 1-2 1 0 1-3 1 2 1 2 1-3 1 1 1 2 1-2 1 1 1 0 1-2 1 2 1 0 1-2 1 3 1-2 1 0 1 2 1 1 1 0 1-4 1 2 1 1 1-2 1 0 1 1 1 2 1 0 1-1 1-1 1-2 1 1 1-1 1 4 1-1 1-1 1-1 1 0 1-4 1 4 1-2 1-4 1 0 1 3 1-3 1 0 1-4 1-4 1 0 1 2 1-3 1-4 1-5 1 6 1-1 1-3 1-2 1-2 1-3 1 1 1-4 1 0 1-1 1-3 1-5 1-3 1-1 1-9 1-6 1-5 1-10 1 1 1 7 1 14 1 12 1 9 1 9 1 10 1 4 1 2 1 5 1-1 1 1 1 0 1-1 1 0 1 0 1 2 1 2 1-1 1-2 1 3 1 3 1-5 1 3 1-4 1 1 1 0 1-3 1 3 1 2 1 1 1-1 1-1 1-3 1 2 1 1 1 4 1-2 1-3 1 2 1-3 1 2 1-1 1 2 1 0 1 1 1-1 1-2 1-1 1 1 1 1 1 0 1 0 1 0 1 1 1-2 1 1 1-2 1 2 1 0 1 2 1-2 1-1 1-1 1 3 1-2 1 3 1-3 1 0 1-1 1 3 1 1 1 2 1-1 1-2 1-1 1 1 1 4 1-1 1-2 1-3 1 2 1 1 1-3 1 2 1 0 1-1 1-1 1 3 1-2 1 1 1 0 1-2 1 2 1 1 1-1 1-1 1 0 1 0 1-1 1 1 1 0 1-1 1 0 1-1 1 3 1-1 1 2 1-1 1 0 1 0 1 1 1-3 1 2 1 1 1-2 1 1 1 1 1 4 1-1 1-1 1 2 1 0 1-2 1-1 1-2 1 0 1 1 1 0 1 2 1-2 1 2 1-2 1 1 1-2 1 1 1-2 1 2 1 1 1-3 1 2 1-1 1 1 1-1 1 3 1 1 1-2 1-2 1-4 1 3 1 2 1-1 1 2 1 0 1-1 1 0 1 1 1 0 1-2 1 1 1-2 1 3 1 1 1-1 1-1" stroke="#868600" stroke-width="1.6" stroke-opacity="0.85"/>
<path d="M86 467l1 1 1-2 1-2 1 5 1-2 1-1 1 3 1-1 1-2 1 3 1-2 1 1 1 0 1 1 1 0 1-1 1 0 1 2 1-4 1-1 1 2 1-1 1 1 1 2 1 3 1-3 1-2 1-1 1 0 1 2 1 2 1-2 1-2 1 4 1-2 1 0 1 1 1-1 1-1 1-1 1-1 1 2 1 2 1-1 1 0 1-2 1 5 1-4 1 1 1 2 1-3 1-3 1 3 1-2 1 1 1 1 1 2 1 1 1-1 1-3 1 0 1 1 1 0 1-1 1 0 1-2 1 1 1-1 1 2 1 0 1 3 1-2 1 0 1 0 1 0 1-1 1-2 1 1 1 1 1 2 1 1 1 0 1-1 1-1 1-1 1 3 1-3 1 0 1 2 1 0 1-1 1 1 1 1 1 0 1-3 1 2 1-1 1 1 1 3 1-2 1-3 1 2 1 3 1-1 1-2 1 2 1 0 1 0 1 3 1 0 1-4 1 0 1 0 1-2 1 1 1-1 1 0 1-1 1 4 1-4 1 0 1 1 1-1 1 1 1-1 1 1 1 2 1 1 1-3 1-1 1 1 1 0 1-1 1 0 1 0 1 0 1 0 1 0 1 2 1-1 1 0 1 3 1 0 1-3 1-1 1-1 1 2 1-1 1 2 1 0 1-2 1 1 1 0 1-5 1 3 1 2 1-1 1 0 1 1 1-1 1 2 1-1 1 0 1-2 1 3 1 1 1-2 1 1 1-1 1 0 1 1 1-1 1 1 1 0 1-2 1 2 1-3 1 2 1 3 1 0 1-2 1 0 1 0 1-1 1 1 1 1 1-1 1-2 1 0 1-1 1 4 1 0 1 0 1-2 1 2 1-4 1 4 1 0 1-3 1 1 1-2 1 1 1 0 1 2 1 2 1 0 1-5 1 2 1 0 1 0 1-3 1-1 1 2 1 4 1-3 1 2 1 0 1 0 1-1 1 2 1-1 1 0 1 0 1 0 1-2 1 2 1 1 1-1 1-1 1 0 1 0 1 1 1-1 1 1 1 1 1 0 1-1 1 0 1-2 1 3 1-1 1 0 1 0 1 2 1-3 1 3 1 1 1-3 1-2 1-1 1 2 1 0 1-2 1 1 1-2 1 4 1-3 1 2 1 1 1 1 1-1 1-1 1 1 1-2 1 0 1-1 1 2 1-1 1 2 1 1 1-2 1 1 1 0 1 0 1 2 1-2 1 1 1-1 1 2 1-2 1-1 1 0 1 1 1 0 1-1 1 3 1-2 1 1 1-3 1 2 1-1 1 2 1-2 1-1 1 1 1 0 1 0 1 0 1 2 1 0 1 1 1-2 1-1 1 3 1-2 1 1 1-1 1 0 1-2 1-2 1 3 1 1 1 0 1 0 1 1 1-1 1 1 1-1 1-1 1 2 1 0 1-2 1-1 1 3 1 0 1 1 1-2 1 2 1 0 1-2 1 2 1 1 1-3 1 1 1-1 1 0 1-5 1 3 1 4 1 0 1 0 1 3 1-5 1-2 1-4 1 3 1 1 1 4 1-2 1-2 1 2 1 1 1 0 1 2 1-2 1 0 1 1 1-2 1 1 1 0 1 2 1-1 1-4 1 4 1 0 1-1 1-2 1 4 1-3 1 1 1-1 1 2 1-2 1 0 1 2 1-1 1-1 1 2 1-3 1 3 1 1 1-2 1 1 1-3 1 1 1 0 1-2 1-1 1 4 1-4 1 3 1 0 1 0 1 2 1-2 1 0 1 1 1-1 1-3 1 3 1 2 1-4 1 1 1-2 1-1 1 4 1-1 1 0 1 0 1 1 1 0 1 0 1-1 1-4 1 2 1 1 1 0 1-1 1 2 1 1 1 1 1-2 1 1 1-2 1 0 1-2 1 0 1 3 1-3 1 2 1 0 1 0 1 0 1 1 1 0 1-2 1 0 1-1 1 0 1-1 1 0 1 0 1 2 1 3 1-1 1-3 1-1 1 0 1 1 1 5 1-4 1-2 1 2 1-1 1 3 1-1 1-1 1-1 1-1 1-2 1 1 1 3 1-2 1-2 1-1 1-1 1-3 1 2 1 0 1 0 1 0 1 2 1-3 1-3 1-2 1 0 1 1 1 1 1 2 1-6 1-4 1 1 1 1 1-1 1-4 1 0 1-5 1-3 1-6 1-2 1 0 1 1 1 4 1 14 1 2 1 6 1 7 1 5 1 0 1-1 1 3 1-2 1 1 1 3 1-3 1-2 1 2 1 1 1-2 1 1 1 0 1-2 1 5 1-4 1 3 1-4 1 2 1 1 1 1 1 0 1-2 1-3 1 3 1 0 1-1 1 2 1-2 1 4 1-2 1-1 1 1 1 1 1-2 1 1 1-1 1-1 1 1 1-1 1 1 1-1 1 1 1 1 1 0 1-1 1-3 1 0 1 0 1 3 1-3 1 4 1-1 1-2 1 0 1 0 1 0 1 0 1-1 1 4 1-1 1 0 1 2 1-2 1-1 1-1 1 0 1 2 1-1 1-1 1 0 1-1 1 0 1 3 1 0 1-1 1 0 1 1 1-1 1 0 1-3 1 2 1-3 1 1 1-2 1 0 1-4 1-6 1 1 1 1 1 2 1 3 1 2 1 4 1-3 1 3 1 0 1 2 1 1 1 1 1 1 1-2 1-1 1-4 1-3 1-3 1-8 1-4 1-3 1-9 1-9 1-5 1-26 1-16 1-20 1-19 1-6 1 6 1 18 1 20 1 15 1 14 1 5 1 10 1 5 1 11 1 7 1-1 1 2 1 4 1 6 1 4 1 4 1 3 1 1 1 1 1 5 1-4 1-2 1-3 1-1 1-3 1-2 1-4 1-7 1-4 1 0 1-7 1-9 1-5 1-3 1-3 1 11 1 10 1 6 1 2 1 7 1 2 1 1 1 3 1 3 1 2 1 2 1-1 1 1 1 3 1 3 1 0 1 0 1-2 1-1 1 1 1 0 1 1 1 2 1-1 1-1 1-4 1 2 1 0 1-1 1 2 1 0 1 0 1 0 1-1 1 2 1-1 1 0 1 1 1 3 1-5 1 4 1-2 1-2 1 0 1 0 1 2 1 0 1 0 1 0 1-4 1-1 1 3 1-1 1-1 1 4 1 1 1-1 1-3 1 4 1-1 1-5 1 2 1-1 1-2 1 1 1 0 1-5 1-4 1 2 1-1 1-4 1-2 1 0 1-7 1-6 1-2 1 3 1 3 1 4 1 3 1-4 1 3 1 1 1-2 1-2 1-4 1 0 1 4 1-4 1-1 1-3 1-5 1 4 1 0 1-1 1 4 1-1 1-4 1 2 1 0 1 2 1-3 1 7 1 2 1 0 1 7 1 0 1 0 1 2 1 1 1 0 1 2 1 3 1-2 1 1 1 5 1-2 1 2 1-1 1 2 1 0 1 0 1 2 1 1 1-1 1 3 1-1 1-2 1 1 1 1 1 1 1-3 1-2 1 0 1 0 1 4 1-3 1 4 1-1 1 0 1-3 1 2 1 2 1-2 1 3 1-1 1-1 1 2 1-2 1 0 1 0 1-2 1 2 1 2 1 0 1 0 1-2 1-2 1 3 1-5 1 2 1-4 1 3 1 3 1-5 1 3 1-3 1-2 1-1 1-1 1-1 1-3 1-4 1-3 1-2 1 5 1 1 1 0 1 2 1 1 1 3 1-3 1-2 1 0 1-3 1-6 1-4 1 0 1-5 1-6 1-7 1-7 1-3 1-4 1-3 1-1 1-4 1-13 1-11 1-15 1-12 1 4 1 21 1 21 1 20 1 9 1 12 1 9 1 6 1-4 1 4 1-2 1-4 1-8 1-1 1-2 1 3 1 2 1 9 1 2 1 7 1 4 1 0 1 3 1 3 1 4 1-2 1-1 1 2 1 2 1 1 1-1 1-1 1 0 1 0 1-1 1-1 1 2 1-3 1-2 1 2 1 0 1 2 1-3 1-2 1 2 1 1 1-1 1 1 1 2 1-2 1 3 1-1 1 0 1-1 1-1 1 2 1-2 1 1 1 0 1-2 1-2 1 4 1 1 1-2 1 3 1-2 1-1 1 2 1-2 1 2 1 3 1-2 1-2 1 2 1 0 1-1 1 0 1 1 1 0 1-2 1 0 1 2 1-2 1 0 1 2 1-4 1 1 1 2 1 0 1-3 1 1 1 1 1-2 1 1 1 0 1-2 1 0 1 2 1 1 1-2 1-1 1 0 1-1 1 2 1 1 1-1 1-4 1 2 1-2 1-2 1 0 1-2 1 2 1-4 1 1 1 2 1-5 1-2 1 0 1-3 1-1 1 1 1-4 1 2 1-5 1-2 1 4 1-7 1 0 1 1 1-3 1 1 1-5 1-4 1-4 1-5 1-5 1-10 1-6 1-3 1 6 1 15 1 9 1 15 1 8 1 5 1 3 1 7 1 5 1-2 1 0 1-1 1 4 1-1 1 0 1 2 1-1 1-2 1 2 1 0 1 2 1-3 1 1 1 0 1 0 1-1 1 0 1-1 1 1 1 1 1 1 1-1 1 1 1-2 1 0 1-1 1-1 1 1 1-1 1 2 1 1 1 0 1-3 1 5 1-1 1-3 1-1 1 3 1 0 1-1 1 0 1 1 1 1 1 1 1-3 1 0 1 2 1-1 1-4 1 5 1 3 1-1 1 1 1-2 1 0 1-2 1-1 1 1 1-2 1 4 1-1 1 1 1 0 1 1 1 0 1-2 1-1 1 0 1 2 1-1 1-2 1 2 1 1 1 0 1-2 1-1 1 2 1 0 1-1 1 1 1-1 1 2 1 0 1-3 1 2 1 0 1-2 1 1 1 1 1 1 1-2 1 0 1 3 1-2 1-1 1 1 1 0 1-1 1-2 1 0 1 3 1-1 1-1 1 0 1 4 1 1 1-2 1 2 1-1 1-3 1 3 1 0 1-1 1 0 1-2 1 3 1 0 1-2 1 0 1-1 1 3 1-1 1 0 1 0 1 0 1 1 1 0 1-2 1-1 1-1 1 3 1 0 1 2 1-2 1-2 1 2 1-1 1 1 1-2 1 1 1 0 1-1 1-1 1 3 1-2 1-2 1 1 1 1 1 1 1-1 1 1 1 0 1 0 1 0" stroke="#868600" stroke-width="1.6" stroke-opacity="0.85"/>
<path d="M86 468l1 1 1-2 1 0 1 2 1-2 1 1 1 0 1-1 1 3 1-1 1-1 1 1 1-2 1-2 1 3 1 1 1 1 1-1 1 0 1 0 1 0 1-1 1 2 1 0 1 1 1-1 1 0 1-2 1-2 1 2 1 2 1 0 1-2 1 1 1-2 1 2 1 3 1-2 1 0 1 1 1-1 1-1 1-1 1 0 1-1 1 1 1 1 1 3 1-2 1-1 1 3 1-3 1 0 1 1 1 0 1-1 1 0 1 2 1-2 1-1 1 1 1 0 1 0 1 0 1 1 1 0 1 0 1-2 1 4 1 0 1-3 1 1 1-1 1 1 1 2 1 0 1-1 1 3 1-3 1-5 1 4 1 3 1-2 1 1 1-1 1 0 1 2 1-3 1 0 1 2 1 1 1 0 1-1 1 0 1-6 1 3 1 1 1 1 1-3 1 1 1-2 1 3 1 2 1-3 1 1 1-1 1 1 1-2 1 2 1 0 1-2 1 3 1 1 1-2 1 1 1-2 1 0 1 3 1-2 1-1 1-2 1-1 1 2 1 4 1-3 1 2 1-1 1-2 1 1 1 0 1 1 1 0 1 0 1 1 1-1 1 1 1 0 1-4 1 2 1-2 1 3 1 0 1 0 1 0 1-1 1 0 1 1 1 0 1 1 1-1 1 1 1-3 1 1 1 0 1-1 1 1 1-2 1-3 1 2 1 4 1 0 1 0 1-2 1 1 1-3 1 2 1 2 1 0 1-2 1 2 1 1 1-1 1 3 1-3 1 0 1 0 1 1 1 0 1-2 1-1 1 4 1 1 1-2 1-2 1 1 1 1 1-1 1 2 1-2 1-1 1 0 1 0 1 3 1-1 1 0 1-2 1 1 1 0 1 1 1 0 1 0 1-2 1 1 1-2 1 2 1-2 1-1 1 2 1 1 1 1 1-2 1-1 1 0 1 3 1 1 1-2 1 0 1 1 1-2 1 1 1 1 1-1 1-1 1-1 1 1 1 0 1 1 1 0 1-1 1 2 1-4 1 1 1 0 1 1 1-2 1 3 1-1 1 0 1-2 1 1 1 1 1 0 1 0 1 0 1-2 1-3 1 4 1 0 1 0 1 1 1-1 1 1 1 0 1 0 1-3 1 2 1 1 1 0 1 0 1 0 1-1 1 4 1-4 1-1 1 3 1 1 1 0 1-1 1-3 1 1 1 3 1 0 1-2 1 0 1-1 1 0 1 1 1 2 1 0 1-5 1 4 1 0 1-1 1 1 1 0 1-1 1-2 1 3 1-2 1-1 1 1 1 2 1-1 1 0 1 0 1 2 1 2 1-3 1-2 1 1 1 1 1-2 1 0 1 1 1 2 1-2 1-3 1 1 1 3 1-4 1-1 1 1 1 3 1 0 1-2 1 1 1 1 1 0 1-1 1 2 1-1 1 2 1-2 1 1 1 1 1-1 1-1 1 0 1 0 1-3 1 1 1 2 1 1 1 2 1 0 1-2 1-2 1-1 1 3 1-4 1 5 1-2 1 2 1 0 1 1 1-1 1-1 1 0 1-3 1 1 1 1 1 2 1 0 1-3 1 4 1-1 1-1 1 0 1 2 1-1 1-1 1-2 1 1 1 2 1-4 1 1 1 1 1 1 1 0 1-2 1 0 1 0 1-1 1 4 1 0 1-2 1 0 1-1 1 2 1-1 1 0 1-2 1 0 1 2 1 1 1-1 1 1 1-1 1 0 1 3 1-2 1-1 1 0 1 0 1 0 1-1 1 1 1 1 1 2 1-3 1 1 1 0 1 0 1 1 1 2 1-4 1 2 1-2 1-2 1 4 1-1 1 2 1-3 1 0 1 1 1 0 1-5 1 2 1 4 1 1 1-3 1 0 1-2 1 2 1 0 1 0 1 1 1-2 1 2 1-2 1 0 1-1 1 2 1-3 1 1 1 2 1-2 1-2 1 4 1 2 1-1 1-3 1 1 1 1 1 1 1-1 1-1 1 2 1-1 1 1 1-2 1 2 1-1 1 1 1-3 1-1 1-1 1 1 1-3 1 3 1-1 1-3 1-1 1 4 1-3 1-1 1-1 1 3 1-1 1 0 1-3 1 2 1-3 1 0 1-1 1-2 1 2 1-1 1-2 1 2 1 0 1-2 1 2 1-4 1-3 1-2 1 3 1-4 1-2 1 0 1-9 1-2 1-3 1-1 1 5 1 9 1 6 1 5 1 3 1 2 1 4 1 5 1-3 1 2 1 3 1 1 1-1 1 0 1-2 1 2 1-1 1-2 1 0 1 1 1 1 1-1 1 2 1-5 1 1 1 0 1 0 1 0 1-1 1 2 1-1 1 0 1 0 1 0 1 2 1-4 1 2 1-3 1 3 1 0 1 1 1 1 1 1 1 0 1 0 1 1 1-2 1 2 1 0 1 1 1-4 1 2 1-1 1 0 1 0 1 4 1-4 1 0 1-2 1-2 1 5 1 2 1-3 1-2 1 1 1 3 1-1 1 2 1-3 1 2 1-4 1 1 1-1 1 4 1 0 1 0 1-2 1 0 1-1 1 0 1 0 1 1 1-3 1-2 1 4 1 0 1 1 1-2 1 0 1-5 1 3 1-1 1 1 1-5 1-4 1-4 1 3 1 4 1-2 1 1 1 4 1 1 1 4 1 1 1 2 1 1 1-1 1 0 1-5 1 0 1-5 1-2 1-2 1-9 1-4 1-6 1-7 1-12 1-10 1-16 1-28 1-25 1-17 1-6 1 3 1 20 1 17 1 20 1 17 1 20 1 10 1-1 1 8 1 9 1 5 1 3 1 4 1 0 1 6 1 2 1 4 1 3 1 0 1 1 1 2 1 0 1-2 1-2 1-5 1-1 1-4 1-3 1-5 1-6 1-6 1-6 1-7 1-7 1 4 1 3 1 10 1 9 1 7 1 3 1 4 1 3 1-1 1 6 1 0 1-1 1 4 1 2 1 2 1-1 1 1 1-3 1 0 1 1 1 1 1-2 1 1 1-1 1 3 1-3 1 1 1 3 1-1 1-2 1 1 1 0 1 1 1-3 1 0 1 1 1 0 1-1 1 2 1 1 1 2 1 1 1-4 1-3 1 4 1-2 1 0 1 0 1 0 1 2 1 2 1 0 1-1 1 1 1 0 1-1 1-3 1 1 1-2 1 3 1-4 1 3 1 0 1 0 1 0 1-5 1-3 1 3 1 1 1-5 1 0 1-1 1-4 1-10 1 0 1-2 1-3 1 8 1 0 1-1 1 4 1-2 1 0 1-3 1 0 1-4 1-1 1 2 1-3 1-1 1 3 1 2 1-4 1-2 1-2 1 3 1-8 1 1 1 3 1 6 1-2 1 1 1 1 1 1 1 0 1 4 1-5 1 5 1 4 1-2 1 8 1 3 1-2 1-1 1 5 1 1 1 0 1 2 1 1 1 1 1-1 1-2 1 2 1-2 1 1 1 4 1 1 1-1 1 2 1-2 1 1 1-3 1 4 1-3 1 3 1 0 1 3 1-3 1 0 1-4 1 0 1 1 1 1 1-1 1 1 1 0 1-3 1 5 1 2 1-2 1-4 1 2 1 1 1-3 1 1 1-1 1 4 1-5 1 3 1-1 1 1 1-1 1 0 1 1 1-3 1 0 1 0 1-2 1-3 1 1 1 3 1-4 1-3 1-4 1-1 1-6 1 5 1 3 1 1 1-1 1 4 1-1 1 0 1 0 1-5 1-1 1-3 1-1 1-1 1-6 1-10 1-3 1-4 1-9 1 1 1-5 1-4 1-13 1-6 1-15 1-25 1-10 1 3 1 19 1 20 1 24 1 15 1 15 1 9 1 3 1 2 1 3 1 0 1-1 1-3 1-11 1-2 1 2 1 6 1 2 1 7 1 7 1 0 1 0 1 8 1 2 1 2 1-1 1-1 1 0 1 2 1-2 1 3 1 3 1-3 1-2 1 0 1-3 1 5 1-2 1 2 1 1 1-3 1 0 1 2 1-4 1 3 1-1 1-1 1 1 1 1 1-2 1 2 1-1 1 3 1 0 1-3 1 1 1 3 1-3 1 1 1-1 1 4 1-1 1-1 1 0 1-3 1-1 1 2 1-1 1 1 1 1 1 2 1 0 1-6 1 2 1 2 1 1 1-4 1-1 1 3 1-2 1 0 1 2 1-4 1 5 1-3 1 4 1-4 1 2 1-2 1 3 1-2 1 6 1-1 1-3 1 1 1-2 1 0 1-3 1 3 1 3 1-2 1 0 1-4 1 0 1 2 1 0 1-1 1-1 1-1 1-3 1-1 1 1 1-2 1-1 1-3 1 2 1-1 1-4 1-6 1 8 1-5 1-2 1-3 1 0 1 2 1-3 1-1 1-2 1-3 1-4 1 1 1-1 1 4 1-7 1-5 1-4 1-7 1-6 1-7 1-2 1 8 1 6 1 13 1 6 1 13 1 7 1 7 1-3 1 6 1 1 1-1 1 3 1 2 1 3 1-4 1 0 1 0 1 0 1 3 1-2 1 0 1 2 1-4 1 4 1-2 1 1 1 0 1 0 1 0 1-3 1-1 1 2 1-1 1 0 1 1 1 2 1 2 1-4 1 2 1 0 1 1 1-2 1 0 1 0 1 2 1-2 1 0 1 2 1 0 1 2 1-2 1-1 1 3 1-2 1-1 1 3 1-2 1-1 1 2 1 1 1-1 1 0 1 1 1 0 1-3 1 1 1 1 1-1 1 4 1-2 1-1 1 3 1-6 1 3 1-1 1 2 1-3 1 3 1-3 1 0 1 4 1-3 1 4 1-2 1 0 1-1 1 1 1-2 1 2 1-3 1-1 1 1 1-1 1 1 1 1 1-1 1 1 1 1 1 0 1 1 1-1 1 0 1-2 1 0 1 2 1-1 1-1 1 2 1 0 1 2 1-3 1-1 1 1 1 2 1 1 1 1 1-1 1-3 1-4 1 5 1 1 1 1 1-1 1 2 1-1 1 1 1-2 1-2 1 2 1 0 1-4 1 2 1 4 1-2 1-3 1-2 1 4 1 1 1 1 1 0 1-3 1 0 1 0 1 2 1-2 1 1 1-2 1 0 1 2 1 1 1-2 1 1 1-3 1 1 1 2 1-1 1-4 1 3 1 0 1 1 1 0" stroke="#868600" stroke-width="1.6" stroke-opacity="0.85"/>
<path d="M86 720L87 720L88 721L89 720L90 719L91 721L92 720L93 721L94 720L95 720L96 720L97 720L98 720L99 719L100 720L101 718L102 720L103 719L104 721L105 719L106 719L107 719L108 721L109 719L110 719L111 718L112 719L113 719L114 720L115 719L116 719L117 721L118 719L119 719L120 719L121 721L122 720L123 721L124 720L125 719L126 718L127 719L128 718L129 719L130 721L131 719L132 721L133 720L134 718L135 719L136 722L137 720L138 721L139 720L140 721L141 721L142 720L143 720L144 720L145 719L146 719L147 721L148 719L149 720L150 719L151 721L152 721L153 720L154 721L155 720L156 720L157 719L158 719L159 721L160 721L161 719L162 720L163 719L164 721L165 721L166 719L167 718L168 719L169 718L170 718L171 720L172 719L173 718L174 719L175 718L176 721L177 719L178 720L179 719L180 719L181 719L182 718L183 720L184 719L185 717L186 719L187 720L188 721L189 720L190 720L191 719L192 720L193 718L194 720L195 721L196 719L197 720L198 722L199 719L200 721L201 720L202 721L203 721L204 720L205 721L206 722L207 720L208 721L209 720L210 720L211 720L212 721L213 720L214 720L215 719L216 720L217 720L218 720L219 719L220 720L221 719L222 721L223 720L224 720L225 718L226 720L227 721L228 720L229 719L230 718L231 720L232 721L233 720L234 721L235 722L236 720L237 718L238 719L239 721L240 721L241 720L242 721L243 721L244 719L245 720L246 720L247 720L248 721L249 722L250 720L251 721L252 721L253 721L254 722L255 722L256 720L257 721L258 719L259 720L260 721L261 721L262 721L263 722L264 723L265 723L266 721L267 720L268 720L269 722L270 721L271 720L272 722L273 720L274 719L275 720L276 721L277 721L278 722L279 721L280 721L281 722L282 719L283 719L284 721L285 721L286 723L287 721L288 719L289 720L290 720L291 722L292 722L293 720L294 721L295 722L296 721L297 719L298 721L299 720L300 721L301 720L302 719L303 722L304 720L305 720L306 722L307 719L308 719L309 721L310 720L311 722L312 720L313 719L314 720L315 719L316 721L317 718L318 721L319 722L320 720L321 721L322 720L323 721L324 723L325 723L326 722L327 720L328 719L329 718L330 719L331 721L332 722L333 723L334 722L335 722L336 722L337 720L338 722L339 721L340 721L341 721L342 719L343 720L344 720L345 720L346 720L347 719L348 722L349 719L350 720L351 719L352 722L353 721L354 722L355 719L356 721L357 720L358 719L359 720L360 719L361 720L362 721L363 722L364 721L365 720L366 720L367 721L368 720L369 720L370 720L371 721L372 721L373 720L374 719L375 720L376 719L377 719L378 720L379 720L380 721L381 721L382 720L383 720L384 721L385 719L386 720L387 720L388 720L389 719L390 721L391 720L392 719L393 720L394 720L395 722L396 721L397 721L398 719L399 721L400 721L401 721L402 721L403 721L404 721L405 719L406 720L407 720L408 721L409 720L410 719L411 720L412 720L413 720L414 719L415 719L416 719L417 720L418 719L419 719L420 718L421 717L422 719L423 721L424 720L425 720L426 719L427 719L428 719L429 720L430 718L431 718L432 719L433 721L434 720L435 718L436 720L437 720L438 721L439 721L440 722L441 720L442 720L443 719L444 719L445 718L446 721L447 718L448 719L449 718L450 718L451 721L452 719L453 719L454 719L455 718L456 718L457 720L458 719L459 718L460 718L461 718L462 718L463 718L464 720L465 720L466 721L467 720L468 719L469 718L470 719L471 720L472 720L473 720L474 720L475 721L476 719L477 720L478 721L479 721L480 720L481 720L482 723L483 720L484 722L485 721L486 721L487 720L488 718L489 721L490 720L491 720L492 722L493 722L494 719L495 719L496 720L497 720L498 722L499 721L500 720L501 721L502 720L503 720L504 720L505 718L506 720L507 719L508 719L509 721L510 720L511 720L512 722L513 720L514 721L515 719L516 720L517 720L518 719L519 720L520 721L521 720L522 720L523 720L524 719L525 719L526 721L527 721L528 721L529 720L530 720L531 722L532 720L533 721L534 721L535 721L536 721L537 720L538 720L539 720L540 720L541 720L542 719L543 719L544 719L545 715L546 717L547 715L548 715L549 716L550 712L551 712L552 714L553 713L554 712L555 709L556 710L557 708L558 709L559 709L560 707L561 707L562 707L563 708L564 707L565 705L566 703L567 703L568 703L569 703L570 699L571 697L572 697L573 698L574 696L575 689L576 691L577 691L578 691L579 687L580 695L581 698L582 706L583 712L584 713L585 717L586 719L587 721L588 724L589 724L590 723L591 724L592 724L593 722L594 722L595 721L596 722L597 722L598 722L599 720L600 719L601 719L602 718L603 719L604 720L605 721L606 720L607 718L608 719L609 720L610 721L611 721L612 722L613 721L614 722L615 720L616 721L617 723L618 722L619 722L620 721L621 721L622 721L623 720L624 721L625 721L626 721L627 719L628 720L629 721L630 721L631 720L632 718L633 720L634 719L635 719L636 719L637 720L638 721L639 719L640 721L641 721L642 720L643 720L644 721L645 721L646 722L647 721L648 719L649 721L650 723L651 721L652 722L653 722L654 723L655 721L656 722L657 722L658 723L659 722L660 721L661 720L662 720L663 720L664 719L665 718L666 717L667 717L668 717L669 714L670 715L671 714L672 711L673 708L674 704L675 705L676 706L677 708L678 709L679 713L680 716L681 718L682 720L683 721L684 724L685 726L686 724L687 724L688 720L689 716L690 712L691 706L692 700L693 696L694 690L695 684L696 672L697 653L698 635L699 617L700 589L701 582L702 575L703 574L704 579L705 597L706 617L707 638L708 657L709 668L710 675L711 681L712 689L713 696L714 700L715 704L716 706L717 712L718 715L719 718L720 723L721 725L722 726L723 724L724 723L725 720L726 718L727 715L728 713L729 706L730 702L731 698L732 693L733 687L734 676L735 666L736 662L737 664L738 674L739 678L740 683L741 692L742 700L743 704L744 708L745 708L746 712L747 717L748 718L749 719L750 720L751 723L752 721L753 723L754 724L755 722L756 721L757 721L758 719L759 720L760 720L761 719L762 718L763 717L764 720L765 721L766 721L767 721L768 719L769 722L770 720L771 721L772 719L773 720L774 718L775 720L776 721L777 719L778 719L779 718L780 720L781 721L782 719L783 719L784 720L785 721L786 720L787 718L788 717L789 718L790 719L791 720L792 721L793 719L794 719L795 717L796 719L797 718L798 717L799 718L800 717L801 716L802 716L803 716L804 715L805 715L806 711L807 710L808 708L809 705L810 699L811 696L812 693L813 690L814 691L815 696L816 698L817 700L818 700L819 699L820 702L821 697L822 696L823 696L824 694L825 693L826 689L827 693L828 688L829 688L830 687L831 688L832 690L833 685L834 688L835 689L836 691L837 690L838 690L839 692L840 692L841 696L842 696L843 698L844 702L845 701L846 702L847 705L848 707L849 706L850 709L851 710L852 714L853 715L854 714L855 715L856 713L857 718L858 719L859 718L860 717L861 716L862 718L863 718L864 718L865 720L866 718L867 720L868 718L869 717L870 717L871 718L872 720L873 721L874 721L875 719L876 721L877 720L878 721L879 718L880 717L881 719L882 721L883 721L884 719L885 719L886 719L887 718L888 718L889 719L890 720L891 718L892 715L893 720L894 718L895 719L896 717L897 718L898 718L899 721L900 719L901 718L902 718L903 716L904 714L905 716L906 714L907 714L908 715L909 709L910 709L911 707L912 706L913 707L914 706L915 708L916 710L917 711L918 711L919 709L920 708L921 708L922 705L923 703L924 699L925 696L926 692L927 687L928 682L929 680L930 673L931 675L932 674L933 661L934 649L935 631L936 621L937 619L938 616L939 619L940 627L941 638L942 659L943 670L944 687L945 695L946 702L947 707L948 709L949 703L950 699L951 698L952 693L953 695L954 692L955 692L956 698L957 701L958 706L959 710L960 714L961 714L962 717L963 717L964 719L965 722L966 722L967 721L968 722L969 722L970 721L971 719L972 720L973 720L974 719L975 717L976 718L977 717L978 719L979 719L980 718L981 718L982 719L983 717L984 719L985 719L986 718L987 718L988 719L989 718L990 718L991 717L992 719L993 719L994 720L995 717L996 718L997 718L998 720L999 718L1000 719L1001 719L1002 719L1003 722L1004 720L1005 719L1006 719L1007 718L1008 719L1009 719L1010 721L1011 718L1012 718L1013 719L1014 719L1015 717L1016 721L1017 720L1018 719L1019 719L1020 718L1021 718L1022 721L1023 719L1024 720L1025 720L1026 720L1027 719L1028 719L1029 719L1030 719L1031 718L1032 719L1033 719L1034 719L1035 721L1036 720L1037 719L1038 718L1039 719L1040 718L1041 719L1042 720L1043 719L1044 718L1045 719L1046 717L1047 715L1048 714L1049 712L1050 711L1051 710L1052 708L1053 706L1054 706L1055 706L1056 706L1057 704L1058 703L1059 703L1060 700L1061 701L1062 697L1063 695L1064 694L1065 692L1066 692L1067 691L1068 687L1069 686L1070 684L1071 683L1072 680L1073 675L1074 669L1075 663L1076 652L1077 647L1078 647L1079 651L1080 661L1081 671L1082 682L1083 693L1084 702L1085 707L1086 711L1087 712L1088 715L1089 716L1090 715L1091 717L1092 717L1093 717L1094 717L1095 718L1096 718L1097 717L1098 719L1099 718L1100 719L1101 719L1102 720L1103 718L1104 718L1105 717L1106 721L1107 718L1108 720L1109 719L1110 718L1111 718L1112 720L1113 721L1114 718L1115 719L1116 720L1117 720L1118 719L1119 719L1120 720L1121 718L1122 719L1123 719L1124 720L1125 719L1126 719L1127 720L1128 719L1129 719L1130 720L1131 721L1132 720L1133 721L1134 720L1135 718L1136 719L1137 721L1138 719L1139 720L1140 722L1141 720L1142 719L1143 719L1144 721L1145 718L1146 720L1147 721L1148 720L1149 720L1150 722L1151 721L1152 720L1153 721L1154 721L1155 722L1156 720L1157 720L1158 720L1159 722L1160 721L1161 718L1162 721L1163 720L1164 720L1165 721L1166 718L1167 721L1168 721L1169 720L1170 721L1171 720L1172 721L1173 720L1174 721L1175 720L1176 721L1177 721L1178 720L1179 721L1180 722L1181 720L1182 723L1183 722L1184 721L1185 720L1186 719L1187 721L1188 720L1189 721L1190 720L1191 720L1192 718L1193 718L1194 718L1195 719L1196 719L1197 719L1198 721L1199 719L1200 719L1201 720L1202 720L1203 721L1204 719L1205 719L1206 721L1207 721L1208 719L1209 722L1210 720L1211 721L1212 721L1213 720L1214 720L1215 720L1216 722L1217 719L1218 720L1219 721L1220 719L1221 718L1222 719L1223 719L1224 719L1225 719L1226 719L1227 719L1228 719L1229 719L1230 720L1231 720L1232 720L1233 719L1234 719L1235 719L1236 720L1237 721L1238 719L1239 718L1240 719L1241 719L1241 728L1240 726L1239 727L1238 728L1237 728L1236 727L1235 727L1234 728L1233 726L1232 728L1231 726L1230 728L1229 728L1228 728L1227 728L1226 727L1225 728L1224 727L1223 729L1222 729L1221 728L1220 729L1219 726L1218 727L1217 727L1216 726L1215 728L1214 727L1213 727L1212 727L1211 728L1210 728L1209 727L1208 728L1207 729L1206 730L1205 730L1204 731L1203 730L1202 730L1201 729L1200 728L1199 730L1198 728L1197 727L1196 728L1195 729L1194 729L1193 728L1192 728L1191 729L1190 728L1189 728L1188 727L1187 727L1186 727L1185 730L1184 728L1183 727L1182 728L1181 729L1180 728L1179 729L1178 731L1177 726L1176 726L1175 728L1174 728L1173 728L1172 727L1171 729L1170 727L1169 727L1168 727L1167 727L1166 728L1165 728L1164 728L1163 727L1162 728L1161 728L1160 726L1159 729L1158 728L1157 729L1156 726L1155 726L1154 727L1153 727L1152 728L1151 727L1150 728L1149 728L1148 727L1147 728L1146 728L1145 727L1144 729L1143 727L1142 728L1141 729L1140 727L1139 728L1138 728L1137 729L1136 729L1135 729L1134 728L1133 727L1132 728L1131 726L1130 729L1129 729L1128 728L1127 728L1126 727L1125 726L1124 726L1123 728L1122 727L1121 727L1120 728L1119 725L1118 729L1117 726L1116 727L1115 727L1114 728L1113 728L1112 728L1111 728L1110 726L1109 725L1108 727L1107 728L1106 726L1105 726L1104 727L1103 727L1102 725L1101 727L1100 727L1099 726L1098 726L1097 727L1096 727L1095 727L1094 726L1093 726L1092 725L1091 726L1090 726L1089 725L1088 723L1087 723L1086 721L1085 721L1084 719L1083 714L1082 705L1081 700L1080 683L1079 676L1078 666L1077 665L1076 676L1075 680L1074 681L1073 687L1072 691L1071 693L1070 691L1069 694L1068 698L1067 700L1066 702L1065 702L1064 705L1063 705L1062 707L1061 711L1060 708L1059 710L1058 709L1057 710L1056 711L1055 714L1054 714L1053 717L1052 720L1051 718L1050 718L1049 720L1048 719L1047 722L1046 725L1045 726L1044 725L1043 727L1042 726L1041 725L1040 728L1039 726L1038 726L1037 726L1036 727L1035 727L1034 727L1033 728L1032 726L1031 725L1030 727L1029 729L1028 728L1027 727L1026 726L1025 727L1024 727L1023 728L1022 727L1021 726L1020 727L1019 727L1018 728L1017 727L1016 728L1015 727L1014 728L1013 727L1012 725L1011 727L1010 729L1009 728L1008 727L1007 727L1006 726L1005 727L1004 727L1003 728L1002 726L1001 727L1000 727L999 727L998 726L997 728L996 727L995 727L994 728L993 727L992 728L991 727L990 729L989 727L988 728L987 728L986 726L985 730L984 727L983 727L982 727L981 725L980 725L979 728L978 727L977 727L976 728L975 726L974 727L973 728L972 726L971 726L970 727L969 728L968 728L967 729L966 730L965 729L964 731L963 728L962 726L961 724L960 724L959 719L958 719L957 717L956 713L955 707L954 702L953 702L952 705L951 708L950 712L949 715L948 714L947 715L946 713L945 712L944 713L943 703L942 690L941 684L940 668L939 651L938 650L937 657L936 669L935 674L934 679L933 681L932 685L931 685L930 686L929 692L928 693L927 700L926 702L925 706L924 707L923 711L922 715L921 715L920 716L919 718L918 718L917 718L916 718L915 716L914 717L913 715L912 715L911 715L910 717L909 719L908 719L907 721L906 724L905 724L904 725L903 725L902 724L901 726L900 725L899 726L898 726L897 726L896 729L895 727L894 728L893 727L892 728L891 726L890 727L889 727L888 728L887 727L886 725L885 728L884 727L883 728L882 729L881 728L880 725L879 727L878 728L877 727L876 729L875 725L874 725L873 728L872 728L871 727L870 728L869 726L868 727L867 729L866 729L865 727L864 727L863 728L862 726L861 729L860 725L859 724L858 725L857 724L856 725L855 723L854 721L853 721L852 721L851 721L850 718L849 717L848 715L847 713L846 712L845 711L844 713L843 710L842 707L841 705L840 700L839 702L838 701L837 699L836 699L835 699L834 697L833 698L832 698L831 698L830 695L829 698L828 698L827 700L826 701L825 704L824 703L823 706L822 706L821 708L820 706L819 707L818 707L817 706L816 707L815 709L814 706L813 702L812 702L811 706L810 710L809 714L808 717L807 717L806 719L805 720L804 724L803 724L802 724L801 723L800 725L799 724L798 726L797 727L796 727L795 723L794 726L793 727L792 728L791 726L790 726L789 728L788 728L787 728L786 727L785 724L784 726L783 726L782 728L781 731L780 727L779 726L778 726L777 728L776 727L775 727L774 727L773 726L772 728L771 727L770 727L769 726L768 726L767 725L766 726L765 726L764 726L763 727L762 726L761 725L760 726L759 726L758 727L757 728L756 728L755 729L754 729L753 729L752 729L751 729L750 729L749 727L748 726L747 724L746 723L745 721L744 717L743 715L742 709L741 708L740 700L739 692L738 683L737 677L736 681L735 687L734 696L733 699L732 705L731 711L730 715L729 715L728 720L727 721L726 723L725 729L724 728L723 730L722 731L721 731L720 733L719 731L718 726L717 725L716 719L715 715L714 713L713 709L712 706L711 695L710 693L709 686L708 677L707 670L706 663L705 647L704 629L703 610L702 598L701 612L700 631L699 647L698 663L697 678L696 690L695 697L694 701L693 708L692 711L691 716L690 720L689 724L688 725L687 729L686 731L685 731L684 730L683 730L682 730L681 726L680 724L679 722L678 723L677 720L676 717L675 713L674 714L673 714L672 718L671 719L670 722L669 723L668 725L667 725L666 725L665 725L664 727L663 726L662 728L661 729L660 728L659 730L658 728L657 729L656 731L655 732L654 730L653 730L652 732L651 729L650 729L649 730L648 729L647 731L646 731L645 730L644 729L643 727L642 728L641 728L640 727L639 727L638 729L637 729L636 729L635 728L634 726L633 728L632 728L631 729L630 728L629 728L628 727L627 729L626 728L625 729L624 727L623 727L622 727L621 729L620 727L619 727L618 726L617 727L616 729L615 728L614 726L613 729L612 729L611 727L610 728L609 727L608 727L607 727L606 727L605 728L604 728L603 730L602 729L601 727L600 730L599 728L598 728L597 729L596 730L595 729L594 731L593 732L592 731L591 732L590 732L589 731L588 729L587 731L586 731L585 730L584 726L583 724L582 721L581 721L580 715L579 709L578 704L577 702L576 701L575 704L574 709L573 706L572 709L571 707L570 710L569 707L568 711L567 712L566 713L565 715L564 711L563 711L562 714L561 716L560 714L559 714L558 717L557 719L556 717L555 718L554 722L553 721L552 721L551 723L550 722L549 723L548 723L547 721L546 723L545 724L544 724L543 724L542 726L541 725L540 726L539 727L538 727L537 730L536 729L535 728L534 727L533 727L532 729L531 730L530 728L529 728L528 727L527 729L526 729L525 729L524 728L523 728L522 728L521 729L520 730L519 730L518 728L517 728L516 727L515 730L514 728L513 727L512 727L511 728L510 728L509 728L508 727L507 728L506 729L505 729L504 728L503 728L502 728L501 728L500 730L499 727L498 729L497 727L496 728L495 729L494 729L493 728L492 729L491 728L490 728L489 728L488 727L487 727L486 726L485 729L484 728L483 730L482 728L481 728L480 728L479 728L478 727L477 728L476 727L475 727L474 727L473 728L472 729L471 727L470 729L469 728L468 729L467 729L466 728L465 728L464 726L463 726L462 728L461 729L460 730L459 727L458 727L457 729L456 728L455 726L454 726L453 727L452 729L451 727L450 728L449 727L448 729L447 730L446 728L445 730L444 727L443 728L442 726L441 728L440 728L439 727L438 727L437 730L436 729L435 726L434 725L433 726L432 727L431 727L430 727L429 727L428 730L427 727L426 726L425 726L424 726L423 726L422 727L421 726L420 727L419 727L418 727L417 727L416 726L415 729L414 728L413 728L412 727L411 729L410 726L409 728L408 728L407 728L406 727L405 729L404 727L403 727L402 728L401 729L400 728L399 729L398 727L397 727L396 729L395 728L394 729L393 727L392 729L391 731L390 729L389 728L388 728L387 727L386 727L385 727L384 729L383 729L382 728L381 727L380 730L379 729L378 727L377 727L376 728L375 728L374 730L373 728L372 728L371 727L370 728L369 729L368 727L367 727L366 727L365 727L364 728L363 728L362 728L361 729L360 727L359 728L358 728L357 728L356 727L355 728L354 727L353 729L352 728L351 728L350 728L349 727L348 729L347 730L346 729L345 730L344 726L343 728L342 728L341 726L340 728L339 729L338 727L337 727L336 730L335 728L334 730L333 728L332 729L331 729L330 729L329 731L328 729L327 729L326 728L325 729L324 730L323 728L322 729L321 729L320 731L319 729L318 730L317 728L316 729L315 731L314 728L313 729L312 729L311 730L310 730L309 729L308 729L307 729L306 729L305 730L304 731L303 731L302 729L301 731L300 730L299 730L298 729L297 731L296 731L295 728L294 729L293 729L292 730L291 728L290 728L289 731L288 731L287 729L286 727L285 729L284 727L283 729L282 727L281 727L280 728L279 727L278 729L277 730L276 728L275 728L274 728L273 727L272 731L271 729L270 728L269 729L268 730L267 727L266 728L265 728L264 727L263 730L262 728L261 728L260 730L259 729L258 729L257 728L256 727L255 728L254 728L253 727L252 727L251 728L250 727L249 727L248 728L247 726L246 729L245 726L244 726L243 728L242 729L241 727L240 730L239 727L238 728L237 727L236 727L235 729L234 729L233 729L232 729L231 729L230 728L229 728L228 727L227 727L226 727L225 730L224 730L223 728L222 728L221 730L220 727L219 725L218 727L217 729L216 730L215 730L214 731L213 728L212 728L211 730L210 730L209 728L208 728L207 726L206 727L205 729L204 728L203 727L202 729L201 728L200 729L199 730L198 727L197 728L196 727L195 729L194 727L193 729L192 728L191 728L190 728L189 728L188 729L187 730L186 729L185 727L184 729L183 728L182 727L181 727L180 729L179 728L178 728L177 727L176 725L175 727L174 726L173 727L172 725L171 726L170 726L169 729L168 727L167 728L166 728L165 727L164 729L163 730L162 728L161 730L160 727L159 727L158 727L157 726L156 726L155 726L154 726L153 727L152 728L151 728L150 726L149 728L148 727L147 728L146 726L145 727L144 727L143 727L142 726L141 726L140 726L139 727L138 727L137 727L136 726L135 725L134 726L133 728L132 727L131 728L130 726L129 727L128 726L127 725L126 727L125 731L124 728L123 726L122 727L121 728L120 727L119 728L118 728L117 729L116 727L115 728L114 729L113 726L112 727L111 728L110 728L109 728L108 729L107 730L106 729L105 728L104 728L103 726L102 729L101 727L100 726L99 728L98 728L97 726L96 727L95 728L94 725L93 730L92 728L91 728L90 728L89 728L88 728L87 726L86 728Z" fill="#38353d" fill-opacity="0.45" stroke="none"/>
<path d="M86 719l1 1 1 1 1 2 1-4 1 3 1-4 1-1 1 3 1 0 1 1 1-1 1 0 1-2 1 0 1 0 1-1 1 2 1 3 1-3 1 1 1-1 1 2 1-3 1 3 1-2 1-2 1 0 1 3 1-1 1-2 1 0 1 1 1-1 1 2 1 4 1-3 1-2 1 2 1-1 1-1 1 1 1-3 1 3 1 4 1-4 1 1 1 0 1-2 1 1 1 3 1-2 1-1 1-1 1 4 1 0 1-2 1 1 1-1 1-1 1-1 1 3 1-2 1 0 1 2 1 0 1-4 1 3 1 1 1-1 1-3 1 3 1-1 1 2 1 1 1-2 1 0 1-1 1 2 1 0 1-1 1-1 1-1 1 0 1-2 1 4 1-1 1-3 1 1 1 1 1 3 1-2 1 0 1 0 1-2 1 2 1 2 1-1 1-4 1 1 1 2 1 2 1-4 1 2 1 2 1-1 1 0 1-3 1 0 1-1 1 4 1 0 1 2 1-4 1 3 1-1 1 0 1-2 1 2 1 1 1 1 1-1 1 0 1-1 1 2 1 1 1-2 1-3 1 0 1 1 1 4 1-3 1 1 1 0 1-1 1-1 1 2 1 1 1-1 1-3 1 2 1 2 1 0 1-3 1 2 1 1 1-1 1-1 1 1 1-1 1 1 1 0 1 7 1-8 1-1 1 1 1 1 1-3 1 0 1 2 1-1 1 2 1-1 1 2 1-2 1 0 1 1 1 1 1-2 1 0 1 0 1 1 1-2 1-1 1 3 1-4 1 4 1-1 1-1 1 2 1-3 1 3 1 0 1-4 1 0 1 2 1 1 1-1 1 0 1 1 1 1 1 0 1 0 1 0 1-1 1 2 1-3 1-1 1 2 1 0 1-1 1 1 1-2 1 1 1 2 1 1 1 0 1-2 1 1 1 1 1-4 1 0 1 1 1 0 1 2 1-1 1-1 1 3 1-2 1 0 1 2 1-3 1 0 1 4 1-5 1 2 1-1 1-1 1 0 1 1 1 2 1-3 1 1 1 0 1 3 1-1 1-1 1-1 1 2 1 1 1-1 1-2 1 0 1-1 1 1 1-1 1 4 1 1 1-3 1-2 1 2 1-1 1 1 1 0 1 2 1-1 1-3 1 1 1 3 1-3 1 0 1-1 1 0 1 2 1 2 1-4 1 4 1-1 1 1 1-3 1-1 1 2 1-1 1 0 1 0 1 1 1-4 1 3 1 2 1-1 1-1 1 2 1-1 1 0 1 1 1 0 1 0 1-2 1-2 1 3 1-2 1-1 1 0 1 0 1 1 1-1 1 2 1 1 1-1 1-2 1 0 1 0 1 1 1-2 1 2 1-1 1 0 1 1 1 2 1 0 1 2 1-4 1 0 1-3 1 3 1 1 1-3 1 0 1 1 1 0 1 4 1-3 1-2 1 3 1 0 1 0 1 0 1-2 1 2 1 0 1 0 1-1 1 1 1-1 1 0 1-1 1-1 1 0 1-1 1 2 1-2 1 2 1 2 1 1 1-2 1-1 1-1 1 1 1 3 1-3 1 2 1 1 1 1 1 0 1-1 1-2 1 2 1-1 1 0 1-1 1 3 1-3 1 1 1-2 1 1 1 2 1-2 1 0 1 0 1-2 1-2 1 4 1 0 1 0 1 0 1 0 1 0 1 0 1 2 1-1 1 1 1 0 1-1 1-2 1 2 1 1 1 0 1 0 1 0 1 1 1-2 1 1 1 1 1-1 1-3 1 3 1 0 1-3 1 1 1 2 1-2 1 1 1-1 1 2 1-1 1 0 1-1 1 2 1-2 1 1 1-2 1 2 1 3 1-2 1 4 1-2 1-2 1-1 1-1 1 0 1 2 1-1 1-1 1 0 1 2 1 2 1 3 1-5 1 2 1-4 1 2 1 1 1-2 1 1 1 0 1 0 1-1 1 1 1 1 1-2 1 1 1 1 1-2 1 1 1-1 1 3 1 1 1-2 1-1 1-1 1 3 1-2 1-2 1 1 1 0 1 1 1-1 1 0 1 0 1-4 1 0 1 0 1 0 1 1 1-4 1-2 1 4 1-4 1 3 1-4 1 4 1-2 1-2 1 2 1-2 1-1 1-1 1 1 1-1 1 3 1-3 1-2 1-3 1-2 1-1 1 1 1-3 1 2 1-3 1 3 1-7 1-1 1 2 1 6 1 5 1 4 1 2 1 6 1 2 1 4 1 0 1 1 1 2 1-1 1-1 1 1 1 0 1 0 1 0 1-1 1-1 1 0 1-2 1 1 1-2 1 0 1-1 1 2 1-1 1 1 1-3 1 1 1 1 1 0 1 2 1-4 1 2 1-2 1 1 1 1 1 0 1-3 1 4 1 3 1 0 1-2 1 0 1-1 1-1 1-1 1 2 1-1 1-1 1-1 1 2 1 0 1-1 1 3 1-2 1 0 1-2 1 1 1 3 1-3 1 3 1 1 1-2 1 0 1 0 1 1 1 2 1-1 1 2 1 1 1-2 1-2 1 1 1 0 1 1 1-2 1-1 1 4 1-1 1-1 1-1 1-1 1 0 1 0 1-1 1-1 1-1 1-1 1-1 1-1 1 1 1-1 1-3 1 1 1-5 1-1 1 0 1 4 1 1 1 4 1 2 1 5 1-1 1 0 1 5 1 3 1-3 1-3 1-3 1-4 1-6 1-4 1-6 1-3 1-5 1-4 1-11 1-12 1-11 1-20 1-15 1-22 1-9 1 12 1 20 1 21 1 13 1 7 1 10 1 6 1 7 1 9 1 3 1 4 1 4 1 2 1 3 1 9 1-2 1 4 1 2 1 3 1 1 1-2 1-1 1-4 1-4 1-2 1 3 1-11 1-3 1 3 1-11 1-7 1-11 1-8 1-1 1 5 1 7 1 9 1 7 1 3 1 3 1 3 1 5 1 3 1 2 1 3 1 3 1-1 1 1 1 3 1-2 1 0 1 0 1 0 1 0 1-3 1 0 1 0 1 2 1-1 1-3 1 1 1 4 1 0 1-2 1 0 1 0 1-1 1 2 1-2 1-3 1 0 1 1 1 2 1 1 1 0 1 1 1-2 1 2 1 1 1-4 1 0 1 4 1 2 1-5 1 0 1-2 1 2 1 1 1 1 1 1 1-3 1 0 1-2 1 1 1 2 1-3 1 0 1 0 1-3 1 3 1-2 1 1 1-4 1-3 1-1 1-1 1-2 1-10 1 2 1 0 1-6 1 2 1 4 1 5 1-1 1 0 1-1 1 0 1-2 1-2 1-3 1 2 1 1 1-6 1 0 1-1 1-4 1 1 1-3 1-2 1 5 1 3 1-2 1 2 1-4 1 6 1 2 1-2 1 7 1-1 1 0 1 4 1-1 1 0 1 7 1 1 1 0 1 2 1 0 1 5 1 3 1-3 1 4 1-1 1 2 1 0 1 0 1-1 1 1 1-1 1 0 1 0 1 0 1 0 1 2 1-3 1-1 1 2 1-1 1-1 1 4 1-4 1 3 1 2 1-2 1-1 1-1 1 0 1-1 1 7 1-2 1-2 1 1 1-2 1-1 1 1 1 0 1 2 1-3 1-2 1 5 1-2 1-1 1 1 1-3 1 3 1-1 1-2 1-1 1 4 1-2 1-2 1-1 1 1 1-3 1 1 1-5 1 1 1-9 1 4 1 4 1-1 1 2 1 0 1 2 1 0 1-4 1 1 1-2 1 0 1-2 1-9 1 2 1-4 1-5 1-5 1-2 1-8 1 3 1-1 1-7 1-4 1-12 1-15 1-17 1-3 1 15 1 16 1 14 1 14 1 12 1 9 1 2 1 4 1 6 1 0 1-6 1-2 1-1 1 0 1-4 1-3 1 6 1 4 1 7 1 4 1 0 1 3 1-1 1 3 1-1 1 2 1 4 1-1 1-3 1 0 1 4 1-2 1-2 1 2 1-4 1-1 1 1 1-2 1 2 1 2 1-2 1 2 1-1 1 1 1-3 1 2 1-2 1 2 1-1 1 1 1 0 1-1 1-2 1 4 1 1 1-1 1-2 1 2 1 0 1 1 1-2 1 0 1-2 1 2 1 1 1-1 1 1 1-2 1 1 1 1 1 0 1-3 1-1 1 3 1-1 1 2 1-3 1 0 1 2 1 1 1-1 1 0 1 0 1 1 1-2 1 1 1 0 1-1 1-1 1 0 1 3 1 0 1-4 1 4 1-1 1 1 1 2 1-3 1 0 1-1 1 2 1 0 1 0 1 1 1 1 1-3 1-3 1-1 1-2 1 0 1-4 1-1 1-1 1 2 1-5 1 3 1-3 1 0 1 1 1-5 1 4 1-4 1-1 1 2 1-3 1-3 1-2 1-2 1 1 1-3 1-2 1 0 1-3 1-3 1-5 1-3 1-6 1-10 1-9 1 0 1 9 1 9 1 17 1 8 1 12 1 8 1 2 1-2 1 1 1 4 1 1 1-1 1 2 1 0 1 0 1 4 1-3 1 0 1-1 1 2 1-1 1 1 1-1 1-1 1 0 1 0 1-1 1 1 1 1 1 2 1 1 1-3 1-2 1 2 1 2 1-1 1-1 1 1 1 1 1-3 1-1 1 1 1-1 1-1 1 3 1 0 1 0 1 1 1 0 1-1 1 1 1-1 1 3 1 0 1 0 1-2 1-1 1 1 1 2 1-2 1 1 1 2 1-3 1-2 1 2 1 1 1-2 1 2 1 2 1-2 1 0 1-1 1-1 1 2 1 2 1-1 1 1 1-2 1 0 1 0 1-2 1 1 1-1 1 3 1-1 1 0 1-1 1-1 1 0 1 1 1-1 1 1 1 1 1 1 1-1 1 1 1-1 1 1 1 2 1-2 1-1 1 0 1 0 1 3 1-1 1-3 1 0 1-1 1 0 1 2 1 2 1-2 1-1 1-1 1 0 1 0 1 1 1 0 1 0 1 2 1-3 1 1 1 2 1-1 1 1 1-2 1-1 1 0 1 3 1-2 1 0 1-1 1 1 1 0 1-1 1 1 1 4 1-1 1-4 1 0 1-2 1 3 1-1 1-1 1 3 1 1 1-3 1 0 1 1 1 1 1-1 1 2 1-2 1 3 1-3 1 0 1 1 1 1 1 0 1-1 1 2 1-2 1-1" stroke="#38353d" stroke-width="1.4" stroke-opacity="0.7"/>
<path d="M86 720l1 0 1-1 1-1 1 2 1-3 1 4 1 1 1-1 1 0 1-3 1 0 1 2 1 0 1 1 1-3 1 2 1-1 1 0 1 0 1 0 1 1 1 1 1-2 1 0 1-1 1 1 1 0 1 3 1-3 1 0 1 3 1-1 1-2 1 0 1 3 1-3 1 3 1 2 1-2 1-2 1 0 1-2 1 1 1 0 1 0 1 2 1 1 1-1 1-2 1 5 1-4 1 1 1-1 1 1 1 0 1-4 1 1 1 2 1-2 1 1 1 0 1-1 1 2 1-2 1 1 1 2 1-1 1 2 1-4 1 3 1-3 1 1 1 0 1-1 1 1 1-1 1 1 1-1 1-4 1 3 1 1 1 1 1-1 1 0 1-2 1 2 1 0 1 1 1-1 1-2 1 5 1-1 1-2 1 1 1-2 1 0 1 1 1 1 1-4 1 3 1 2 1 1 1-1 1-1 1 0 1 0 1-1 1 2 1 1 1-2 1 3 1 0 1-3 1-1 1 2 1 1 1 0 1-1 1 1 1-2 1 1 1 0 1-1 1-2 1 2 1 1 1 0 1 0 1 2 1-3 1 1 1-2 1 0 1-1 1 4 1-2 1-1 1 2 1-2 1 0 1 1 1 1 1 1 1-3 1 1 1 1 1-2 1 1 1 3 1-2 1 0 1 2 1-1 1 0 1-1 1 2 1-1 1-2 1 3 1 1 1-3 1 1 1 1 1-3 1 2 1-1 1 1 1 1 1 1 1-3 1 1 1-2 1 2 1 2 1-2 1 0 1 1 1 1 1 0 1-2 1-4 1 3 1 2 1-1 1-1 1 2 1 2 1-1 1-1 1-2 1 0 1 3 1 0 1-2 1 0 1-2 1 0 1 2 1 1 1 1 1-2 1-2 1 1 1-1 1 1 1 1 1-1 1 0 1-2 1 3 1-2 1 2 1-1 1-3 1 0 1 1 1 0 1 0 1 0 1-1 1 0 1 2 1 2 1-1 1 2 1-2 1-1 1 1 1-2 1 0 1 0 1 4 1 0 1-2 1 1 1-2 1 2 1 2 1 0 1-1 1-2 1-1 1 0 1 0 1 3 1 0 1 1 1-1 1 3 1-1 1-4 1 2 1 0 1-1 1-1 1-1 1 1 1 0 1 0 1 0 1-1 1 3 1-3 1 1 1 0 1 3 1-1 1 0 1-3 1 2 1-4 1 0 1 3 1 1 1-2 1 2 1 1 1-3 1 0 1 1 1-1 1 0 1 3 1-3 1 1 1 0 1 0 1-1 1-1 1 1 1 0 1 1 1 1 1 0 1 2 1-1 1 0 1-1 1-2 1 1 1 0 1 2 1-3 1 2 1 1 1 0 1-1 1 2 1 0 1-3 1 3 1-1 1-1 1 0 1 2 1-1 1-1 1 1 1-3 1 1 1 1 1 0 1-1 1 2 1-2 1 1 1 0 1-3 1 1 1-1 1 4 1-5 1 2 1-2 1-2 1 4 1 4 1-3 1 0 1-1 1 2 1-2 1 1 1-2 1 0 1 1 1 3 1-3 1 0 1 2 1-2 1-2 1 4 1 1 1-2 1 0 1-3 1 1 1-2 1 4 1-2 1 1 1-1 1-1 1 4 1 0 1-1 1-1 1-1 1 0 1 2 1-1 1 2 1-3 1 0 1 0 1 3 1 1 1-1 1 0 1-1 1-1 1-1 1 1 1 0 1 3 1-3 1 2 1-1 1-1 1 1 1-1 1 2 1-1 1-1 1 4 1-1 1 0 1-1 1 0 1-1 1 0 1 3 1-3 1 0 1 3 1-1 1-3 1 0 1 1 1 1 1 1 1-1 1-3 1 3 1-1 1 1 1-1 1 1 1-1 1 1 1-2 1 2 1-4 1 3 1-1 1 3 1-5 1 2 1 2 1-2 1 2 1 2 1-2 1-1 1 1 1 2 1-2 1 3 1-3 1 0 1 1 1-1 1-1 1 3 1-3 1 1 1 0 1 0 1 0 1 2 1-3 1 0 1 0 1-1 1-2 1 0 1 1 1 1 1 1 1-5 1 1 1 1 1 0 1-1 1-1 1-2 1 1 1-4 1 0 1-3 1 2 1 2 1-3 1 0 1-1 1 1 1-1 1-2 1-3 1 3 1 1 1-3 1-4 1 7 1-2 1-4 1-2 1-3 1-2 1-2 1 1 1-1 1 5 1 2 1 8 1 5 1 2 1 4 1 2 1 2 1 2 1 0 1 1 1-3 1 2 1-1 1-2 1 1 1 0 1 1 1 1 1-3 1-2 1 0 1 1 1 0 1 1 1 1 1-1 1 2 1-2 1 1 1 0 1 1 1 2 1-3 1 2 1-3 1 2 1 1 1-1 1-2 1 0 1 4 1-2 1-2 1 1 1 0 1 0 1 0 1-1 1 2 1-1 1-1 1-2 1 1 1 0 1 0 1 0 1 1 1-1 1 0 1 2 1 0 1 3 1-4 1 1 1 0 1 0 1-3 1 0 1 3 1 3 1-1 1-1 1 0 1 1 1-2 1 2 1-2 1 0 1 0 1 0 1 3 1-3 1-2 1 1 1 0 1-3 1 2 1-2 1-4 1 0 1 1 1-5 1-1 1-1 1-3 1-5 1 9 1 0 1 5 1 1 1 0 1 4 1 1 1 4 1 3 1-2 1 1 1-4 1-3 1-1 1-5 1-2 1-8 1-1 1-11 1-6 1-9 1-12 1-16 1-16 1-19 1-22 1-4 1 18 1 16 1 16 1 20 1 11 1 8 1 1 1 8 1 12 1 1 1 4 1 4 1 1 1 0 1 8 1 4 1 5 1 3 1 2 1-3 1-4 1 2 1-2 1-5 1-1 1-3 1-5 1-3 1-4 1-8 1-6 1-8 1-4 1 1 1 0 1 3 1 11 1 7 1 7 1 4 1 0 1-2 1 7 1 6 1-3 1 4 1 0 1 2 1 3 1-1 1 1 1-1 1-2 1 0 1-2 1 1 1 0 1-1 1-1 1-1 1 3 1-1 1 2 1 1 1-4 1 4 1-3 1 2 1-2 1 1 1-2 1 2 1 2 1-5 1 2 1-1 1 0 1 2 1-1 1 1 1-2 1 1 1 4 1-6 1 0 1 2 1 0 1-2 1 1 1 1 1 1 1 0 1 0 1-2 1-1 1 1 1 1 1-2 1-2 1 1 1-1 1 0 1-1 1-4 1-1 1-2 1-3 1-4 1-5 1-2 1-2 1 5 1 1 1 3 1 0 1-3 1 5 1-3 1-1 1-2 1 2 1-2 1 0 1-1 1-3 1-3 1 1 1 2 1-2 1-1 1 2 1-1 1 2 1 5 1-4 1 5 1 0 1-2 1 6 1-1 1 1 1-1 1 4 1 0 1 1 1 0 1 3 1 3 1 3 1 4 1-5 1-2 1 1 1 5 1 0 1 0 1-1 1-1 1-2 1 3 1 1 1 2 1-2 1 2 1-2 1-1 1 0 1 1 1 2 1 1 1 0 1 0 1 0 1-1 1 1 1-2 1-2 1 2 1-2 1 0 1 1 1-2 1 3 1-1 1-3 1 4 1-1 1 0 1-3 1 2 1 0 1 2 1-1 1 0 1-1 1 4 1-1 1-2 1-1 1-6 1 2 1 3 1-3 1 1 1 2 1-5 1 0 1-3 1-2 1 1 1-1 1 2 1 5 1-2 1 2 1-4 1 3 1-2 1-2 1-1 1-2 1-3 1-3 1 1 1-7 1-10 1 0 1 0 1 2 1-2 1-4 1-5 1-4 1-8 1-7 1-8 1 3 1 8 1 17 1 10 1 10 1 6 1 4 1 4 1 0 1-2 1 0 1-4 1-3 1-2 1-4 1 0 1 6 1 5 1 3 1 3 1 3 1-2 1 5 1 5 1-1 1 2 1-1 1-1 1 2 1-1 1-3 1 1 1-1 1 1 1 0 1-3 1 4 1-1 1-1 1 1 1-4 1 1 1 1 1 0 1 1 1 4 1-3 1-2 1 1 1-1 1 0 1-1 1 0 1 2 1 1 1-3 1 1 1-1 1 0 1-2 1 4 1 1 1 1 1 2 1-1 1 1 1 0 1-3 1 1 1-2 1 2 1-3 1-2 1 5 1-2 1 2 1 1 1 0 1-1 1 1 1-4 1-1 1 4 1-2 1 1 1 1 1-1 1-1 1 0 1 0 1-1 1 0 1 3 1 1 1-1 1-3 1 2 1-1 1-1 1 0 1 0 1 3 1-1 1-2 1-1 1 2 1-2 1-2 1 2 1-2 1-2 1-1 1 2 1-6 1-2 1 0 1 2 1-4 1 0 1-2 1-2 1 1 1-4 1 0 1 0 1-5 1 3 1 0 1-4 1-5 1 3 1-5 1 2 1-6 1-3 1-2 1-11 1-4 1-8 1-1 1 10 1 11 1 10 1 9 1 11 1 3 1 6 1 1 1 4 1 1 1 0 1-2 1 1 1 0 1-1 1 3 1 0 1-3 1 5 1-2 1 1 1 0 1 1 1-2 1 0 1-1 1 4 1-2 1 2 1-2 1 0 1 0 1 1 1 2 1 0 1-1 1-1 1 5 1-1 1-3 1 0 1-3 1 2 1 2 1 0 1-3 1-1 1 2 1-1 1 0 1 1 1 0 1-1 1 2 1-1 1-3 1 1 1-1 1 3 1 0 1-1 1 1 1-1 1 0 1 2 1-3 1-1 1 4 1-3 1 1 1 3 1 0 1-3 1 1 1 1 1 1 1-2 1 3 1-1 1 1 1 0 1 1 1-1 1-2 1 2 1-2 1-4 1 4 1 0 1 0 1 0 1-1 1 0 1-1 1 2 1-1 1 1 1-1 1-1 1 2 1 1 1-2 1 1 1 4 1-4 1-1 1-1 1 2 1-1 1 0 1-2 1 2 1-2 1 0 1 0 1 1 1 0 1-2 1 2 1 0 1-1 1 2 1-2 1 1 1 0 1 0 1 2 1-2 1 0 1 3 1 0 1-1 1 0 1-1 1 0 1 0 1 0 1-1 1 1 1 1 1-3 1 0 1 1 1 0 1 0 1 2 1-2 1-1 1-3 1 4 1-1 1 2 1 0 1 0 1-1 1-1 1 1 1 2 1-3 1-1 1 2 1-1" stroke="#3b3d55" stroke-width="1.4" stroke-opacity="0.7"/>
<path d="M86 722l1-2 1 2 1-2 1-1 1 2 1 1 1 1 1-3 1-1 1 1 1 1 1-1 1 2 1 0 1-2 1 5 1-3 1-1 1 1 1-3 1 0 1 0 1 0 1-2 1 1 1 1 1 1 1 0 1 1 1-1 1 1 1-2 1 1 1 1 1-2 1 1 1 1 1 0 1-2 1 0 1 0 1 3 1 0 1-1 1-1 1 2 1-2 1-3 1 1 1 5 1-2 1 0 1 1 1-3 1 2 1 0 1-1 1 1 1-1 1 1 1 0 1-1 1 0 1-1 1 2 1 2 1-2 1 0 1 2 1-3 1-1 1 1 1 3 1-2 1-2 1 3 1-2 1 1 1 2 1-4 1-1 1 3 1 1 1-2 1 0 1 0 1 1 1 1 1-1 1 0 1-2 1 4 1-1 1 2 1-3 1-3 1 4 1-1 1-1 1-1 1 1 1 1 1 0 1-1 1-2 1 4 1 0 1-1 1 0 1-2 1 1 1 2 1-1 1 0 1 0 1 1 1 1 1-5 1 1 1 3 1-3 1 2 1 0 1-1 1 0 1 1 1 2 1-3 1-1 1 1 1 1 1-1 1-1 1 1 1-1 1 2 1-1 1 0 1 2 1-1 1 0 1-3 1 1 1-1 1 2 1 2 1 0 1 0 1 0 1-2 1-2 1 1 1 4 1 0 1-3 1 1 1 2 1-3 1-1 1 1 1 0 1 1 1-1 1 2 1 0 1 1 1-4 1 4 1-1 1-1 1 0 1 1 1-2 1 0 1 1 1 4 1 0 1 1 1-3 1 0 1-3 1 0 1 2 1 1 1-2 1 1 1-2 1-1 1 1 1 4 1-3 1 1 1-1 1 0 1 1 1 2 1-1 1-1 1-1 1 2 1 0 1 1 1-1 1-3 1 2 1 0 1 0 1 0 1 0 1 2 1-2 1-1 1 5 1-4 1-1 1-1 1 3 1-1 1 2 1-1 1-1 1 1 1-2 1 0 1 1 1 1 1 2 1 0 1-1 1-2 1 0 1 3 1-3 1-2 1-1 1 1 1 3 1 0 1 0 1 2 1-1 1-3 1-3 1 3 1 1 1 0 1 1 1-1 1 0 1 2 1-3 1 1 1-1 1 0 1 3 1 1 1-3 1-3 1 2 1 2 1-2 1 1 1-4 1 2 1-1 1 2 1-1 1 0 1-3 1 5 1-2 1 2 1-1 1-3 1 2 1 4 1 2 1-4 1 0 1 0 1 3 1-4 1 1 1 0 1-1 1 2 1-1 1 0 1 2 1-2 1 0 1-2 1 0 1 1 1 0 1 0 1 1 1 1 1-2 1 0 1-1 1 0 1 1 1 3 1-4 1-1 1 1 1 2 1 0 1-1 1 1 1-3 1 2 1 3 1 0 1-3 1 1 1-1 1 1 1-4 1 3 1 0 1 0 1-3 1 2 1 0 1 0 1 2 1-2 1 1 1 1 1-1 1-1 1 1 1-1 1 1 1 0 1-1 1 4 1-4 1-1 1-1 1 2 1 1 1 0 1-1 1 2 1-1 1-3 1 2 1 0 1 2 1-3 1 4 1-1 1-1 1 0 1 0 1 1 1 1 1-3 1 1 1 2 1-1 1-1 1-2 1 0 1 2 1-1 1 2 1-1 1-2 1-1 1 4 1 0 1-1 1-3 1 2 1 0 1 1 1-2 1 0 1 0 1 5 1-4 1 0 1 0 1-3 1 6 1-2 1 1 1 0 1-1 1-1 1 1 1 2 1-1 1 0 1 0 1 1 1-2 1-3 1 3 1-1 1 4 1-1 1-1 1 2 1-1 1-2 1-1 1 0 1 2 1-1 1-2 1 3 1-1 1-1 1-3 1 2 1 0 1 3 1-1 1-1 1 0 1 3 1-2 1 0 1-1 1-2 1 2 1 1 1-4 1 5 1-2 1 0 1 0 1-1 1 0 1 2 1 0 1 1 1-2 1 0 1-1 1 1 1-1 1 3 1 0 1-1 1-2 1 4 1-2 1 1 1-1 1 0 1-1 1 1 1-2 1-2 1-3 1-1 1 1 1 3 1-3 1 0 1 3 1-5 1-4 1 2 1 5 1-7 1 0 1-1 1 1 1 0 1 0 1 0 1 0 1 0 1-5 1 0 1 2 1-7 1-1 1-1 1 2 1-2 1-7 1 2 1 0 1 0 1-4 1 8 1 4 1 7 1 7 1 0 1 4 1 1 1 3 1 3 1 0 1-1 1 1 1 0 1-2 1 0 1-1 1 3 1-1 1-1 1-3 1 1 1 1 1-3 1 1 1 2 1 1 1-1 1-5 1 2 1 2 1 1 1 1 1 0 1 0 1 0 1 2 1-1 1 0 1 2 1-3 1 0 1 0 1-2 1 1 1 0 1 2 1-1 1-3 1 2 1 0 1 1 1-1 1 1 1-2 1 4 1-1 1-2 1 2 1-2 1 2 1-4 1 2 1-2 1 3 1 1 1 0 1-1 1-1 1-2 1 2 1 1 1-2 1 2 1 2 1-1 1 0 1-1 1 0 1 1 1 2 1-1 1-5 1-1 1 2 1-2 1 0 1 2 1-2 1 1 1-3 1 1 1-2 1-3 1-4 1-4 1 2 1 2 1 0 1 2 1 3 1 3 1 2 1 2 1 2 1 2 1 0 1-1 1 3 1-6 1-2 1-2 1-8 1-3 1-2 1-6 1-7 1-10 1-9 1-13 1-12 1-15 1-18 1-15 1-5 1 10 1 20 1 17 1 17 1 8 1 9 1 4 1 8 1 3 1 10 1 6 1 2 1 1 1 7 1 0 1 6 1 2 1 2 1 0 1-1 1 0 1-4 1-2 1-3 1-3 1-6 1-5 1-3 1-5 1-6 1-9 1-12 1-9 1 7 1 1 1 9 1 9 1 9 1 4 1 7 1 5 1 0 1 2 1 8 1 2 1 1 1 0 1 3 1-3 1 3 1 0 1-1 1-3 1 1 1 2 1-2 1-2 1 0 1 2 1 1 1 1 1 1 1-1 1 0 1 1 1-1 1 1 1 0 1-2 1-2 1 3 1 1 1 1 1-4 1 3 1 0 1-2 1-1 1 0 1-2 1 1 1 1 1 0 1 2 1 0 1-2 1 1 1-2 1 1 1-1 1 0 1-3 1 2 1-2 1 4 1-2 1-2 1-1 1 0 1 0 1 0 1 1 1-5 1-2 1-2 1-3 1-2 1-8 1-5 1-1 1 1 1 4 1 4 1-6 1 8 1 1 1 1 1-2 1-3 1 3 1-2 1-3 1 1 1-3 1-4 1-1 1-1 1 1 1 2 1-7 1 4 1 2 1 5 1-3 1-1 1 0 1 2 1 1 1 4 1 5 1 1 1 2 1-2 1 1 1 3 1-3 1 4 1 2 1 2 1-1 1 3 1 1 1-2 1 5 1 2 1-2 1-3 1-2 1 6 1-1 1 3 1-1 1 1 1-1 1 0 1 2 1-6 1 7 1-1 1 0 1 1 1-5 1 3 1-1 1 2 1-1 1 0 1 1 1-1 1 0 1 2 1-4 1 0 1 0 1 4 1-2 1 1 1-1 1 2 1-3 1 3 1-3 1-3 1 3 1 3 1-2 1-2 1 1 1 0 1 1 1-3 1-2 1 3 1-5 1 1 1-4 1 1 1-5 1 1 1-3 1 3 1-1 1 3 1 3 1-2 1-2 1-1 1 0 1-4 1 2 1-2 1-5 1-4 1-1 1-5 1-5 1-2 1-3 1-1 1-1 1 2 1-9 1-1 1-14 1-8 1-6 1 8 1 9 1 20 1 6 1 12 1 7 1 6 1-2 1 2 1-3 1-2 1-3 1-4 1-1 1-4 1-2 1 5 1 6 1 5 1 4 1 7 1 1 1-1 1 0 1 4 1 1 1 0 1 1 1-1 1-1 1 0 1-2 1 1 1 0 1-1 1 1 1-2 1-2 1 0 1 3 1 1 1 1 1 1 1-5 1 5 1-3 1-1 1 3 1 1 1-3 1 1 1 0 1 0 1-2 1 2 1-1 1-2 1 1 1 2 1 1 1-2 1 0 1 0 1 3 1-2 1-2 1 4 1-4 1 1 1 1 1 2 1 1 1-4 1 0 1 2 1-4 1 4 1 0 1-4 1 2 1 0 1 1 1 3 1-3 1 0 1 1 1 0 1-2 1 1 1 1 1 0 1-3 1 1 1 1 1 3 1-2 1 0 1 1 1 1 1 0 1-3 1 0 1 2 1-2 1 0 1-1 1-1 1-2 1-2 1-2 1-1 1-1 1 0 1-4 1-1 1 3 1-2 1-2 1-1 1 1 1-4 1 1 1-3 1-7 1 3 1 1 1-3 1-1 1-1 1-3 1-3 1 2 1-5 1-2 1-6 1-6 1-1 1-13 1-4 1 5 1 8 1 11 1 11 1 15 1 5 1 3 1 4 1 3 1 1 1-1 1 1 1 4 1 0 1 0 1-2 1 0 1 2 1 1 1-1 1 0 1-1 1 1 1 1 1-1 1 0 1 2 1 0 1-3 1 1 1 0 1-3 1 2 1 2 1 1 1-3 1 1 1 2 1 1 1-2 1 3 1-3 1 0 1-1 1 0 1 1 1 0 1-1 1 3 1-3 1 1 1 1 1 0 1 0 1 3 1-4 1 0 1-1 1 2 1-2 1 2 1 1 1-1 1 0 1 1 1 1 1-2 1-1 1 0 1 4 1 0 1-2 1-1 1-1 1 1 1 0 1 3 1-5 1 1 1-1 1 3 1-1 1-3 1 3 1 2 1 0 1-1 1 0 1 0 1 0 1-2 1 2 1 2 1-3 1 0 1 1 1 0 1 0 1 0 1-2 1 2 1 3 1-1 1-1 1-2 1 0 1 1 1-3 1 4 1-2 1 0 1 3 1-2 1-2 1 0 1 1 1-1 1 2 1 3 1-3 1-1 1-1 1 0 1 1 1 1 1 3 1-3 1-1 1 1 1 2 1-2 1-2 1 3 1 0 1-3 1 0 1 0 1 2 1 0 1-1 1 0 1-1 1 1 1 1 1-3 1-2 1 2 1 0 1 1 1-1 1 1 1 0 1 2 1-2 1-1 1 1 1-1 1 1 1-4 1 3 1-1 1 0 1 4" stroke="#38353d" stroke-width="1.4" stroke-opacity="0.7"/>
<path d="M86 720l1 3 1 3 1-6 1 2 1 0 1-2 1 1 1 0 1 1 1 1 1-2 1-2 1 0 1 4 1 1 1 0 1-1 1 1 1-2 1 1 1-1 1 0 1 2 1-3 1 1 1 0 1-2 1 1 1 3 1 1 1-3 1-1 1 3 1 0 1-3 1 3 1-3 1-1 1 2 1-4 1 4 1 0 1 1 1-2 1 2 1 1 1 1 1-2 1 0 1-2 1 1 1 1 1-1 1 2 1-2 1-1 1 1 1 3 1 1 1 0 1-2 1-1 1-1 1 0 1 0 1 2 1 0 1-1 1-1 1 2 1 1 1-1 1-2 1-1 1 2 1 2 1-3 1-1 1 0 1 2 1 1 1-2 1 0 1 3 1-2 1 0 1 0 1 0 1-1 1 0 1 0 1 3 1 1 1-3 1 1 1-3 1 2 1-4 1 2 1 0 1 0 1 2 1 2 1-2 1 0 1 2 1-1 1-1 1-1 1 2 1 0 1 1 1-2 1 1 1 0 1-1 1 2 1-2 1 3 1 0 1-3 1 1 1 2 1-3 1 3 1-3 1 1 1-1 1 0 1-1 1 2 1 0 1-1 1-1 1 1 1 1 1-1 1 0 1-2 1 0 1 4 1-2 1-1 1 1 1-1 1 0 1 0 1 2 1 0 1-4 1-2 1 1 1 5 1 1 1-1 1-2 1 1 1 1 1 0 1 0 1 2 1-1 1 0 1 0 1-2 1 1 1-1 1 0 1 0 1 0 1 0 1 0 1 0 1 2 1-3 1 2 1 1 1 1 1-2 1 0 1 0 1 1 1-3 1 3 1-2 1 3 1-1 1-3 1 2 1 1 1-1 1 0 1 0 1 1 1-1 1-1 1 2 1 0 1-2 1 0 1 2 1-3 1 3 1-2 1 0 1 3 1 0 1-3 1 2 1 0 1-2 1 1 1 1 1 1 1-3 1 2 1-3 1 2 1 2 1-1 1 1 1-2 1 0 1 1 1 1 1-2 1-2 1 2 1 1 1-3 1 0 1-1 1 1 1 1 1 1 1-2 1 1 1 1 1 1 1 1 1-2 1 0 1 0 1-2 1-1 1 1 1-1 1 2 1 2 1-3 1 1 1 3 1-1 1-1 1 0 1 0 1 1 1 1 1 0 1-2 1 1 1 0 1-2 1 1 1 1 1 1 1 0 1-1 1 0 1 3 1-2 1-3 1 3 1-1 1-2 1-1 1 2 1-1 1 1 1-2 1 0 1-1 1-3 1 2 1 3 1 1 1-1 1 0 1 1 1 1 1-1 1-3 1-1 1 2 1 0 1-2 1 0 1 3 1 1 1-2 1-1 1 0 1 0 1 2 1 0 1-3 1 0 1 0 1 2 1 2 1-3 1 1 1 0 1 1 1-2 1 1 1-1 1 2 1-1 1-2 1 0 1 2 1-1 1 1 1 1 1-1 1 0 1-1 1 0 1 4 1-3 1-2 1 0 1 3 1-1 1-2 1 3 1-2 1 2 1-3 1 1 1 0 1 3 1-2 1-1 1 3 1-2 1 1 1-1 1-1 1 1 1 2 1 3 1-3 1 1 1-2 1 0 1 0 1 1 1 1 1-3 1 2 1-1 1 1 1-2 1-1 1 2 1 0 1-1 1 2 1 0 1 1 1-1 1-1 1-2 1 2 1-3 1 2 1 1 1 0 1 1 1 0 1 0 1-2 1-1 1 3 1-4 1 2 1 1 1 1 1 1 1 0 1-4 1 2 1 4 1-3 1 0 1 0 1 0 1-3 1 2 1-1 1 2 1 0 1 0 1 0 1 0 1-2 1 1 1 1 1-2 1 1 1 0 1-1 1 0 1 1 1-3 1 1 1 0 1 3 1-1 1-1 1 0 1-1 1 1 1 0 1-1 1 0 1-1 1 4 1-3 1-2 1 3 1 1 1 0 1-1 1 2 1-5 1 2 1 3 1 0 1-3 1 0 1 5 1-2 1 0 1-1 1-2 1 1 1 0 1 2 1-1 1 0 1-1 1 2 1-4 1 0 1 0 1-6 1 3 1 1 1 2 1-1 1-9 1 2 1 2 1 0 1-2 1-2 1 1 1 2 1-1 1-3 1-2 1 0 1 0 1 4 1-2 1-5 1 1 1 2 1-4 1 1 1-5 1 5 1-4 1-2 1 0 1-2 1-3 1-2 1 3 1 3 1 7 1 6 1 1 1 4 1 6 1 0 1 2 1 3 1 1 1-1 1 1 1 3 1-1 1-3 1-1 1 1 1-1 1 2 1-1 1 0 1 1 1-4 1 0 1 2 1 1 1-1 1 2 1-5 1 1 1 0 1-1 1-1 1 3 1-2 1 2 1 1 1 1 1-1 1-1 1-1 1-2 1 0 1 2 1 0 1 2 1-3 1 0 1 0 1-1 1 0 1 1 1 1 1 1 1-3 1 0 1 2 1 0 1-2 1 2 1 1 1 0 1-1 1 0 1-1 1 1 1-1 1 3 1-1 1 1 1-1 1 1 1 0 1 0 1 2 1-1 1-1 1-1 1 1 1 1 1 0 1-1 1-4 1 1 1-2 1 1 1 2 1 0 1-1 1-3 1-2 1 0 1 1 1-5 1-1 1 2 1-3 1 0 1 2 1 5 1-1 1 3 1 2 1 4 1 2 1-2 1 4 1 0 1-2 1-5 1-6 1 3 1-9 1-2 1-10 1-9 1 1 1-6 1-13 1-12 1-19 1-24 1-12 1-2 1 7 1 19 1 13 1 14 1 14 1 11 1 3 1 6 1 4 1 6 1 0 1 5 1 2 1 6 1 5 1 5 1 3 1 3 1 1 1-1 1-4 1 0 1 0 1-3 1-3 1-4 1-3 1-3 1-6 1-3 1-8 1-9 1-3 1 1 1-5 1 5 1 11 1 6 1 4 1 2 1 8 1 1 1 4 1 0 1 2 1 0 1 5 1 0 1 1 1 2 1 0 1 0 1-2 1-1 1 2 1-1 1-3 1 1 1-2 1-1 1 2 1 3 1-3 1 0 1-1 1 3 1 2 1-2 1-3 1-2 1 3 1-2 1 3 1 1 1-1 1-1 1-2 1 2 1 0 1-1 1 1 1 2 1-1 1-3 1 3 1-5 1 0 1 0 1 2 1 3 1-3 1-1 1 4 1-2 1 0 1-1 1 0 1 0 1-1 1-1 1 2 1-3 1-2 1-4 1 6 1-6 1-3 1-3 1-9 1-3 1 0 1 4 1 6 1 0 1 5 1-5 1 1 1-1 1-7 1 0 1 3 1-8 1 2 1-1 1 1 1-5 1 4 1-1 1-1 1 1 1-1 1 2 1-1 1 2 1 3 1-1 1 1 1 4 1 0 1 3 1 4 1-3 1-2 1 4 1 4 1 3 1-2 1 0 1 2 1 3 1 1 1 4 1-3 1 3 1-1 1-1 1 0 1 3 1-2 1 0 1 1 1-2 1 2 1-1 1 1 1 1 1 1 1-2 1 1 1 1 1 1 1-1 1 0 1 3 1-5 1 2 1-1 1 0 1 0 1 1 1-1 1 1 1-2 1 1 1 4 1-3 1 2 1-2 1 0 1-1 1 0 1-2 1 2 1 2 1 2 1-3 1 0 1 0 1 2 1-4 1 1 1-1 1-1 1-1 1 1 1-5 1-6 1 0 1 1 1 0 1 0 1 0 1 6 1-1 1-1 1 0 1-1 1-2 1 1 1-3 1-2 1-6 1 0 1-1 1-9 1-1 1-6 1-2 1 3 1-7 1-2 1-2 1-5 1-17 1-4 1-3 1 5 1 13 1 14 1 9 1 5 1 11 1 6 1 3 1 4 1-5 1-4 1-3 1-3 1-5 1 1 1-3 1 2 1 11 1 5 1 2 1 4 1 2 1 1 1 4 1 2 1-1 1 0 1 0 1 2 1-2 1-1 1-3 1 1 1 1 1 0 1-2 1 0 1 0 1 1 1 1 1-1 1-4 1 3 1 3 1-3 1 0 1-1 1 1 1 2 1-1 1 2 1 0 1-3 1-2 1 4 1-2 1-1 1 0 1 1 1 1 1-1 1-1 1 1 1 3 1-2 1-1 1 4 1-1 1-1 1 0 1 2 1 0 1-4 1 2 1 2 1-1 1-2 1-1 1-1 1 4 1 0 1-3 1-1 1 1 1-1 1 1 1-1 1 0 1 1 1 0 1 2 1 0 1 0 1 1 1-5 1 0 1 3 1 0 1-2 1 1 1-2 1-1 1 1 1 5 1-5 1 1 1 0 1 0 1-4 1 0 1 0 1-2 1-4 1-2 1-1 1-1 1 0 1 0 1-4 1 1 1 1 1 0 1 1 1-10 1 3 1 0 1 2 1-4 1-4 1-6 1 4 1-4 1-3 1-4 1-4 1-3 1-9 1-11 1-5 1 0 1 10 1 12 1 19 1 14 1 3 1 1 1 5 1 4 1 1 1 4 1-2 1 4 1 0 1-1 1 3 1-5 1 1 1-2 1 2 1 4 1-2 1 0 1-2 1 3 1-3 1-2 1 3 1 2 1 1 1-1 1-3 1 0 1 0 1 0 1 2 1 0 1 1 1-1 1-2 1 2 1-1 1 2 1-1 1 1 1-1 1 1 1 0 1 0 1 0 1 0 1-1 1 2 1 0 1 0 1-2 1 1 1 1 1-1 1 0 1-2 1-1 1 2 1 1 1 1 1-2 1 1 1 2 1-1 1 0 1-1 1 3 1 2 1-2 1-4 1 0 1 3 1-2 1-2 1 1 1 1 1-1 1-1 1 5 1-1 1-5 1 0 1 2 1 0 1 1 1 2 1-1 1-1 1-4 1 4 1 0 1 2 1-2 1 0 1-2 1 0 1 2 1 3 1-5 1 2 1-1 1 0 1 1 1-2 1 2 1 0 1 0 1 0 1-1 1 2 1 1 1-2 1-1 1 0 1 2 1 1 1-2 1 0 1 0 1 2 1-3 1 1 1 0 1 0 1 2 1-2 1 1 1-2 1 1 1-1 1 1 1 2 1-2 1-1 1 0 1 2 1 0 1 0 1-2 1-2 1 3 1-2 1 1 1 2 1-1 1-3 1 4 1-2 1 1 1-2 1 0 1 1 1 1 1 1 1 0 1 3 1-3 1-1 1 3" stroke="#38353d" stroke-width="1.4" stroke-opacity="0.7"/>
<path d="M86 723l1 0 1 0 1 0 1 1 1 0 1 1 1-2 1-1 1 1 1 2 1 0 1-2 1-2 1-1 1 1 1 0 1 0 1 0 1 1 1 2 1-2 1 1 1-2 1 0 1 1 1 0 1-1 1 2 1-1 1 0 1-1 1-2 1 2 1 2 1 1 1-2 1 4 1-2 1 1 1-2 1-1 1 3 1-2 1 1 1-1 1 2 1 0 1-3 1 2 1-2 1 3 1-4 1 3 1 1 1-3 1 2 1-1 1-2 1 3 1-1 1 3 1-3 1 0 1 0 1 1 1-3 1 2 1 0 1 1 1 0 1-3 1 2 1-2 1 1 1 6 1-2 1-4 1 2 1 0 1 1 1-2 1 1 1-2 1 2 1-3 1 1 1 3 1-2 1 2 1-3 1 0 1 1 1-1 1-1 1 2 1 0 1 0 1 1 1-2 1 2 1 0 1 1 1-2 1 1 1 0 1-1 1 0 1-2 1 2 1 3 1-1 1-2 1 0 1-1 1 2 1 0 1 0 1-2 1 2 1 0 1-2 1 0 1 1 1 2 1 2 1-3 1 0 1 0 1 2 1-3 1 1 1-1 1-1 1-2 1 2 1 1 1-2 1 1 1 2 1-1 1 0 1 0 1-1 1 0 1 0 1 2 1 1 1-4 1 1 1 2 1 3 1-5 1 1 1 2 1-1 1-2 1 1 1 1 1 0 1-1 1 1 1-2 1 2 1 3 1-3 1 1 1-1 1 1 1 1 1-1 1 2 1-3 1 2 1-2 1 4 1-3 1-3 1 3 1-1 1 1 1 1 1-2 1 1 1-1 1 2 1 2 1-2 1-1 1 1 1-1 1-1 1 0 1 0 1-1 1-1 1 4 1 0 1-1 1-1 1 0 1 0 1 2 1-2 1-1 1 4 1-2 1-2 1 0 1 1 1 3 1 0 1-1 1-2 1-1 1 0 1 3 1-1 1 0 1 0 1 1 1-1 1 1 1-4 1 0 1 1 1 3 1 1 1-5 1 1 1 2 1 1 1-2 1 2 1 1 1-3 1 1 1 1 1 2 1-3 1 1 1 3 1-3 1-1 1 1 1 1 1 1 1-1 1 3 1-4 1 1 1-3 1 0 1 2 1-1 1-1 1 4 1-4 1-1 1 4 1-1 1-1 1 0 1 0 1-4 1 1 1 1 1 2 1 2 1-3 1-1 1 1 1 1 1 1 1 1 1-5 1 3 1 1 1 0 1-1 1 2 1-4 1 1 1 2 1 0 1-1 1-3 1 1 1-1 1 3 1 0 1 0 1-1 1-2 1 4 1 1 1-4 1 1 1 1 1-1 1 3 1 0 1-3 1 0 1 1 1 0 1 0 1-1 1-1 1 0 1 2 1 1 1-2 1 1 1-1 1-1 1 0 1 0 1 2 1 1 1-3 1 1 1 0 1-2 1 0 1 1 1 1 1 1 1 0 1-1 1-3 1-1 1 1 1 0 1 0 1 5 1-4 1-1 1 1 1 1 1 1 1-2 1 2 1 0 1-3 1 0 1 1 1-1 1 3 1 1 1-3 1 1 1 1 1-2 1 0 1-1 1 1 1 2 1 1 1 1 1-3 1 1 1-1 1 1 1 3 1-3 1 2 1-3 1 0 1 1 1 0 1 1 1-1 1 1 1-1 1-1 1 0 1 1 1-3 1 4 1 3 1-5 1-1 1 1 1 1 1 2 1-5 1 2 1 2 1 2 1-4 1 1 1 2 1-1 1-2 1 1 1 0 1-4 1 3 1 3 1-2 1-2 1 3 1 1 1 1 1-4 1-1 1 2 1-2 1 0 1 0 1 0 1 3 1-2 1-3 1 2 1 3 1-2 1-3 1 1 1 1 1 1 1 0 1 0 1 2 1 2 1-1 1-6 1 6 1-1 1-2 1 2 1-1 1-1 1 1 1 3 1-1 1-4 1 0 1 4 1-1 1 0 1 1 1-4 1 1 1 0 1 1 1 1 1 0 1 0 1-3 1 5 1-3 1-1 1-2 1 3 1-1 1-3 1-1 1 2 1-2 1 0 1 0 1 0 1 2 1-2 1-2 1-2 1-1 1-2 1 1 1-5 1 3 1 2 1-6 1 0 1 4 1-4 1-4 1 3 1-3 1-1 1 5 1-2 1-5 1-4 1 1 1-3 1-8 1 1 1-4 1-7 1 1 1 6 1 5 1 9 1 7 1 8 1 4 1 1 1 5 1-3 1 5 1 0 1 2 1 1 1 1 1-1 1-2 1-1 1 4 1-2 1 0 1-2 1 0 1 0 1 0 1-2 1-1 1 4 1 1 1-2 1-2 1-1 1 1 1 5 1-3 1-1 1 0 1 0 1-2 1 4 1 1 1-3 1 2 1-2 1-1 1 2 1 1 1-3 1 3 1-1 1-1 1 1 1 1 1 0 1-1 1-3 1 2 1-2 1 4 1 0 1-1 1-1 1-2 1 1 1 1 1 2 1 0 1 0 1 0 1 0 1 2 1-1 1-1 1 0 1 1 1-1 1 1 1-1 1 0 1 1 1-1 1 0 1 0 1-3 1 0 1 2 1 1 1-3 1-4 1-1 1 0 1 1 1-3 1-3 1 2 1-8 1-4 1 3 1 1 1 4 1 5 1-1 1 4 1 1 1 7 1-1 1 2 1 0 1 0 1-2 1-3 1-3 1-3 1-5 1-5 1-5 1-7 1-10 1-6 1-13 1-15 1-17 1-33 1-17 1-8 1 0 1 17 1 20 1 28 1 10 1 15 1 12 1-2 1 12 1 4 1 9 1 0 1 3 1 7 1 5 1 3 1 4 1 5 1 2 1-2 1 0 1 0 1-5 1-4 1-3 1 1 1-6 1-8 1-4 1-5 1-5 1-9 1-9 1-8 1-2 1 14 1 6 1 3 1 7 1 10 1 6 1 3 1 3 1 3 1 4 1-1 1 4 1 0 1 1 1 1 1 1 1 1 1-4 1 0 1-1 1 2 1 0 1-2 1-1 1 1 1 0 1-2 1 3 1 4 1-4 1-3 1 3 1 1 1-1 1 2 1-1 1 4 1-2 1-4 1 1 1-3 1 0 1 5 1 0 1 0 1 0 1-3 1 2 1 1 1-1 1-1 1 0 1-1 1 1 1 3 1-1 1-2 1 1 1-1 1-2 1 4 1 0 1-3 1 0 1-1 1 0 1 4 1-5 1-2 1-6 1-2 1-1 1-3 1-1 1-9 1-3 1 8 1-2 1 4 1 0 1 4 1-4 1 1 1-6 1 3 1-3 1-1 1-4 1-3 1 6 1-1 1-4 1-1 1 2 1-1 1-1 1 3 1 2 1-3 1-1 1 3 1 0 1 3 1 4 1-4 1 7 1 4 1-3 1-2 1 3 1 5 1-1 1 1 1 5 1 4 1-4 1 3 1-1 1 2 1-3 1 5 1-2 1 0 1 1 1 2 1-1 1-1 1 4 1 0 1-1 1-2 1 1 1-1 1 1 1-1 1 1 1 3 1-1 1-3 1 2 1-1 1-4 1 3 1 3 1-2 1 0 1-1 1 2 1 0 1 1 1 0 1-4 1 1 1 3 1-3 1 0 1 0 1 0 1-5 1 5 1 1 1-1 1-2 1 0 1 4 1-3 1-1 1 3 1-3 1 1 1-1 1-4 1-5 1-2 1-2 1 2 1 2 1 1 1 1 1 0 1 2 1-1 1-5 1 1 1-2 1-4 1-4 1-3 1-4 1-6 1-7 1 1 1-7 1-6 1 0 1-6 1-12 1-18 1-15 1-21 1-15 1 1 1 21 1 25 1 24 1 17 1 14 1 10 1 4 1 8 1 5 1-5 1-5 1-1 1-5 1-7 1 3 1 3 1 6 1 2 1 6 1 2 1 2 1 4 1 3 1 1 1 0 1 2 1 3 1-1 1 3 1-2 1-2 1 0 1 0 1-1 1 2 1-2 1 2 1-3 1 2 1 0 1 2 1 0 1-1 1 1 1-2 1-1 1 2 1-3 1 3 1 2 1 0 1-1 1 0 1 0 1 0 1-2 1 2 1-1 1 3 1-5 1 0 1 2 1 1 1 3 1-3 1-2 1-2 1 3 1 2 1-2 1 1 1 0 1 0 1 0 1-1 1 0 1 1 1 0 1-1 1 4 1-1 1 0 1-2 1 0 1 1 1-2 1 0 1 1 1 2 1-1 1-2 1 1 1-1 1 0 1 3 1-2 1-1 1 1 1-2 1 4 1-4 1 2 1 2 1-4 1 0 1 1 1-3 1-1 1-3 1 2 1-1 1-3 1-1 1-5 1-1 1 7 1-2 1-4 1-3 1 1 1-3 1-1 1-1 1-5 1-2 1 0 1 2 1-4 1-4 1-2 1-7 1 4 1 0 1-7 1-6 1-5 1-11 1-14 1 0 1 6 1 12 1 14 1 14 1 14 1 6 1 4 1 6 1 3 1-1 1 3 1-3 1 2 1 3 1 0 1-5 1 3 1-1 1 6 1-4 1 2 1 0 1-1 1 2 1-1 1-2 1 3 1-2 1 2 1 0 1 1 1-5 1 1 1 0 1 0 1-3 1 2 1 3 1 0 1-4 1 0 1 2 1 1 1 1 1-1 1 0 1 0 1-1 1 3 1 0 1 0 1 1 1 1 1-6 1 4 1-1 1 0 1 0 1 0 1 0 1 2 1-2 1 2 1 0 1-1 1 3 1-3 1 1 1-1 1 2 1-1 1 0 1 0 1-1 1-2 1 0 1 2 1 1 1 0 1-1 1 3 1-1 1-2 1-1 1 2 1 1 1-1 1 0 1-3 1 2 1 1 1 0 1 0 1-1 1 3 1-3 1 2 1 0 1-5 1 4 1-2 1 2 1 1 1-2 1 1 1-1 1-1 1 1 1 1 1-4 1 3 1 1 1-3 1 5 1-6 1 2 1 2 1 1 1-1 1 0 1-2 1-1 1 1 1-3 1 5 1 0 1-2 1 2 1 0 1 1 1-2 1 0 1 1 1-2 1 0 1 3 1 0 1-1 1-2 1 1 1 0 1-1 1 2 1 1 1 1 1-1 1-1 1-1 1-1 1-1 1 0 1 0 1 2 1-1 1 0 1 0 1-1 1 0 1 1 1 0 1 0 1 1 1 2" stroke="#3b3d55" stroke-width="1.4" stroke-opacity="0.7"/>
<path d="M86 728l1-2 1 0 1-1 1 1 1-1 1 0 1-1 1 0 1-1 1 1 1 1 1-2 1-1 1 2 1 0 1 2 1 0 1-3 1 0 1 3 1 0 1-1 1-1 1 2 1 0 1-1 1-2 1 2 1 0 1 2 1 0 1 0 1-2 1 0 1 0 1 1 1-2 1 3 1 1 1-4 1 1 1-1 1 0 1 1 1 0 1 2 1-3 1-1 1 2 1-1 1 2 1-3 1 2 1 1 1-1 1-2 1 3 1 1 1 0 1-1 1 2 1-4 1 2 1 0 1-2 1 2 1 1 1-2 1-2 1 0 1 1 1 4 1-3 1-1 1-1 1 4 1-1 1 0 1 1 1 1 1-3 1 0 1 0 1 0 1 1 1-2 1 0 1 2 1-2 1 1 1-1 1 4 1 0 1 1 1-2 1-2 1 0 1 2 1 1 1-1 1 0 1-1 1 2 1 0 1-1 1-1 1 0 1-1 1-1 1 2 1-1 1 1 1 1 1 1 1-1 1-2 1-1 1-1 1 2 1 2 1-1 1-5 1 6 1 1 1-1 1 1 1 0 1-1 1-1 1 1 1 0 1-1 1-1 1 1 1 1 1 1 1-3 1-1 1 2 1 0 1 1 1-1 1 0 1 1 1 1 1 1 1 0 1 0 1 0 1-2 1 0 1-1 1 1 1 3 1-3 1 2 1-2 1-3 1 0 1 0 1 2 1 2 1-1 1-2 1 2 1-2 1-1 1-1 1 5 1-2 1-3 1 4 1 1 1 0 1-3 1 2 1-1 1 1 1 0 1-1 1 1 1-1 1 4 1 0 1 0 1-1 1-2 1 1 1 0 1 0 1 2 1-1 1-2 1 1 1-1 1 0 1 2 1-2 1 2 1-3 1 2 1-1 1 4 1-3 1-1 1 3 1-1 1-1 1 0 1-1 1 3 1-2 1-1 1 2 1-2 1 1 1-3 1 2 1 1 1-2 1 1 1 0 1 0 1 1 1 1 1-1 1 1 1-5 1 5 1 0 1-1 1 1 1 0 1-1 1 1 1 0 1-2 1 0 1-4 1 4 1 0 1 0 1-1 1 3 1 0 1-1 1-1 1-2 1-1 1 4 1-3 1 2 1 1 1 0 1-2 1-3 1 1 1 2 1 0 1 4 1-4 1 0 1-1 1 1 1 2 1 1 1-2 1 0 1-2 1 1 1 0 1 1 1 1 1-1 1 2 1-3 1 2 1-2 1 0 1 1 1-2 1 2 1 2 1-3 1 1 1 0 1 0 1-1 1-3 1 5 1-1 1 0 1-1 1 0 1 0 1 0 1-2 1 3 1-1 1-1 1 1 1 2 1-2 1-2 1 1 1-1 1 2 1-1 1 2 1 2 1-2 1-4 1 2 1-1 1 2 1-2 1 1 1 2 1-2 1 2 1 1 1-3 1 2 1-1 1 3 1-2 1-1 1 1 1 2 1-5 1 2 1 1 1-1 1 0 1-1 1 2 1-2 1-1 1 1 1-1 1 2 1 0 1 1 1-2 1 2 1 0 1-1 1-2 1 1 1 0 1-1 1 0 1 3 1-3 1 1 1 1 1 0 1 1 1-1 1-4 1 2 1 1 1-1 1 1 1 2 1-3 1-3 1 1 1 3 1-1 1 2 1-2 1 0 1 2 1-3 1 2 1 2 1-3 1 3 1 1 1-4 1 2 1 1 1-1 1 0 1-3 1 0 1 2 1 0 1-1 1 1 1 1 1 2 1 1 1-1 1-3 1 2 1 0 1-1 1-1 1 4 1-2 1 1 1 0 1 0 1-2 1 1 1 3 1-2 1-1 1 0 1 1 1-1 1 0 1 1 1-2 1 1 1-1 1 1 1-2 1 2 1 0 1 0 1-3 1 3 1-2 1 1 1 1 1-4 1 1 1 0 1 4 1-4 1 2 1 0 1 2 1-2 1 2 1-1 1 2 1 0 1-3 1 0 1 4 1 0 1-1 1-3 1 0 1-1 1 3 1-1 1 1 1 2 1-4 1-1 1 0 1-3 1 1 1 1 1-1 1 0 1 1 1-1 1-1 1-1 1-1 1 1 1 1 1-10 1 5 1 2 1-2 1-1 1-2 1 2 1-2 1-4 1 1 1 1 1 1 1-1 1 1 1-6 1 3 1-4 1 1 1 1 1-1 1-3 1-3 1 1 1-6 1 3 1 4 1 3 1 7 1 1 1 3 1 7 1 2 1-1 1 2 1 3 1 1 1 1 1-1 1-1 1 3 1-4 1-2 1 0 1-2 1 1 1 0 1 0 1 3 1 1 1-2 1 0 1-4 1-1 1 3 1 0 1 0 1-1 1 1 1 3 1-3 1 0 1 0 1 0 1-3 1 2 1 1 1-1 1 2 1-3 1 1 1 0 1-1 1 5 1-3 1 0 1 0 1 0 1-1 1 1 1-3 1 1 1 1 1 2 1 0 1-3 1 2 1 0 1 2 1-3 1 3 1 1 1-1 1 0 1-1 1 3 1-1 1 0 1 2 1-3 1 0 1-1 1 0 1 1 1 0 1-2 1 0 1-1 1-1 1 2 1-3 1 2 1-5 1 3 1 0 1-3 1 0 1-2 1 0 1-1 1-4 1-3 1-2 1 2 1 1 1 6 1 3 1 0 1 2 1 7 1 1 1-2 1 3 1-4 1-2 1-1 1-4 1 0 1-9 1-3 1-4 1-7 1-7 1-12 1-12 1-20 1-20 1-22 1-29 1-4 1 0 1 15 1 31 1 21 1 19 1 11 1 7 1 6 1 9 1 4 1 2 1 8 1 1 1 8 1 3 1 2 1 6 1 3 1 2 1 0 1 3 1-3 1-6 1-2 1-1 1-5 1 0 1-4 1-6 1-4 1-5 1-8 1-8 1-3 1 1 1 5 1 9 1 3 1 7 1 4 1 5 1 5 1 3 1-1 1 1 1 6 1 1 1 0 1 2 1-1 1 0 1 0 1 2 1-2 1-2 1 1 1-1 1-2 1 0 1-1 1 0 1 3 1-3 1 3 1-2 1 0 1 2 1 2 1-1 1-1 1-3 1-2 1 4 1 0 1-1 1 3 1-2 1 1 1-2 1 3 1 0 1-3 1 3 1 1 1 1 1 0 1-4 1 2 1-1 1 1 1 0 1-2 1-3 1 3 1 0 1-1 1 1 1-1 1 1 1-6 1 0 1 1 1 0 1-2 1 0 1-3 1-2 1-5 1-8 1 2 1 0 1 1 1 3 1 1 1 1 1 0 1-3 1-2 1 6 1-4 1-4 1-5 1 4 1 1 1-2 1-2 1 2 1 1 1-3 1-2 1 1 1 4 1-1 1-1 1 0 1 5 1-3 1 4 1 4 1-1 1-2 1 4 1 4 1-2 1 5 1 2 1 1 1 3 1 0 1 3 1-3 1 2 1 0 1-4 1 4 1 1 1-1 1 1 1 2 1-1 1-3 1 5 1 0 1-1 1 0 1-2 1 1 1 0 1 0 1 0 1-2 1 1 1 2 1 0 1 0 1 1 1-2 1 1 1 1 1 0 1 0 1-2 1-3 1 3 1 0 1 0 1-1 1 2 1-2 1-1 1 0 1 4 1-4 1-1 1 0 1 4 1-1 1-1 1-1 1 1 1 1 1 1 1-4 1 4 1-2 1-5 1 0 1 2 1-6 1-1 1 2 1-1 1-4 1 3 1 2 1 2 1-5 1 2 1 2 1-6 1-4 1 0 1 1 1-8 1-7 1-1 1-7 1-3 1 3 1-4 1 0 1-4 1-9 1-11 1-12 1-10 1-4 1 16 1 15 1 14 1 13 1 13 1 5 1 8 1-1 1-2 1 0 1-4 1-2 1-4 1-6 1 1 1 3 1 9 1 2 1 1 1 4 1 2 1 3 1 0 1 6 1-1 1 0 1 0 1 2 1-1 1 0 1-1 1 0 1 2 1 0 1-2 1-1 1 1 1 1 1-2 1 0 1 0 1 1 1-2 1 0 1 2 1 0 1 2 1-3 1 0 1 1 1 1 1-2 1 0 1 1 1 0 1 1 1-5 1 4 1 0 1-3 1-1 1 4 1-3 1 3 1-1 1 0 1 2 1-1 1-3 1 1 1 1 1-2 1 2 1 2 1-2 1 3 1-4 1 0 1 0 1 1 1 1 1-1 1 0 1-2 1 2 1-1 1 1 1 1 1 0 1-4 1 2 1 2 1-1 1 2 1-4 1 0 1 1 1 1 1 0 1-2 1 2 1-2 1 0 1 1 1 2 1-1 1-3 1-3 1-1 1-1 1 0 1-3 1-2 1-3 1 1 1-1 1 1 1-2 1 2 1 1 1 0 1-4 1 0 1-2 1-5 1 2 1-2 1-2 1 3 1-7 1 2 1-5 1-4 1-1 1-2 1-8 1-4 1-11 1-1 1 6 1 13 1 6 1 12 1 11 1 3 1 4 1-1 1 8 1 3 1 0 1 1 1-3 1 4 1-3 1 0 1 1 1 1 1-3 1 3 1 0 1-3 1 0 1 1 1 3 1-1 1 0 1-1 1-1 1 1 1-2 1 3 1 2 1 0 1-3 1 0 1-2 1 2 1-1 1 0 1 2 1 0 1-2 1 2 1 0 1 0 1 0 1-1 1 3 1 0 1-3 1 0 1 3 1-2 1 0 1 0 1 2 1-1 1-1 1 0 1 0 1-2 1 3 1-4 1 1 1 0 1 4 1-4 1-1 1 2 1 0 1 0 1-1 1 1 1 2 1-2 1 0 1 3 1-4 1 0 1 1 1 2 1-1 1-1 1 1 1-1 1 3 1-4 1 1 1 4 1-2 1 0 1-2 1 0 1 2 1 0 1-2 1 0 1 2 1-2 1 1 1-1 1 2 1-2 1 1 1-1 1 0 1-1 1 2 1-1 1 1 1 0 1 3 1-1 1 1 1-1 1-1 1 0 1 1 1-2 1-1 1 2 1 0 1-3 1 3 1 0 1 1 1 1 1-3 1-1 1 1 1 1 1 0 1 0 1 0 1 0 1-3 1 0 1 2 1-1 1 0 1 3 1 1 1 0 1-6 1 1 1 1 1 2 1 0 1 1 1 1 1-3 1-1 1 0 1 3 1-2 1 0 1-2 1 0 1 2 1 0 1 1" stroke="#38353d" stroke-width="1.4" stroke-opacity="0.7"/>
<path d="M86 724l1 1 1-1 1 0 1 2 1-1 1 1 1-3 1 1 1 0 1 0 1 0 1 0 1 0 1 2 1 0 1-1 1 1 1 0 1-1 1-1 1-1 1-1 1 5 1-3 1 0 1-1 1 3 1 0 1-2 1 3 1-2 1 0 1 1 1-1 1 3 1-2 1 0 1 0 1 0 1 1 1-3 1 0 1 1 1 1 1 0 1-3 1-1 1 1 1 1 1 2 1 1 1-1 1-2 1 1 1 0 1 1 1-3 1 1 1 0 1 2 1-1 1-1 1 0 1 2 1 2 1-3 1-4 1 4 1-2 1 2 1 1 1-3 1-1 1-1 1 5 1-2 1-1 1 2 1-2 1 3 1-1 1 0 1 4 1-3 1-1 1 0 1-1 1 2 1 1 1-2 1 0 1 0 1 3 1 2 1-3 1-1 1 0 1 0 1 0 1 3 1-2 1-4 1 3 1-2 1 3 1-1 1 0 1 0 1-1 1 1 1-1 1-1 1-1 1 2 1 2 1 2 1-1 1-1 1-1 1-1 1 0 1 0 1 0 1 1 1-1 1 1 1-1 1 2 1 0 1-1 1-1 1 0 1 0 1 0 1-1 1 1 1-1 1 2 1 1 1-4 1 2 1 2 1-2 1-1 1-1 1 2 1 1 1 0 1-1 1 2 1-3 1 2 1 1 1-2 1 0 1-1 1 1 1 1 1 0 1 1 1-1 1 0 1-1 1 1 1 2 1-1 1 0 1 1 1 0 1 0 1 0 1-3 1 4 1-4 1 3 1-1 1-2 1 1 1 0 1-2 1 2 1 1 1 0 1 1 1 0 1 0 1-1 1 0 1-2 1 1 1 2 1-1 1 2 1-1 1-1 1 0 1-1 1 1 1 0 1-2 1 3 1-2 1-1 1 3 1-3 1 1 1 1 1 0 1 0 1 1 1 0 1-4 1-1 1 3 1 0 1 3 1 0 1-2 1 0 1-1 1 2 1 1 1 0 1-2 1 0 1 2 1-1 1-1 1-2 1 0 1 3 1-1 1 0 1-1 1 0 1 2 1 0 1-4 1 1 1 2 1 2 1-2 1-2 1 0 1 0 1 1 1 1 1 1 1-3 1-1 1 1 1 2 1 0 1-2 1 0 1 2 1 1 1-4 1 2 1 1 1 2 1 0 1-1 1-3 1 0 1-1 1 2 1 1 1-3 1 2 1 2 1 0 1-1 1 0 1-1 1 1 1 0 1 1 1-1 1-2 1 1 1 1 1-2 1 1 1-1 1 2 1 1 1-1 1-1 1-1 1 0 1 2 1 2 1 1 1-3 1-1 1 1 1-1 1 0 1 1 1-1 1-2 1 1 1 2 1 1 1 1 1-3 1 1 1 1 1 0 1-2 1 0 1 2 1-2 1-1 1 3 1-3 1 2 1 2 1-2 1-1 1-1 1-1 1 1 1 2 1-1 1 0 1-1 1-2 1 2 1 2 1 0 1-2 1 0 1 0 1 0 1-2 1 1 1-1 1 6 1-3 1-1 1 0 1 2 1-3 1 3 1-3 1 1 1-1 1-1 1 3 1-3 1 2 1 3 1-2 1-1 1 2 1 3 1 0 1-3 1 3 1-1 1-1 1 3 1-3 1 1 1-2 1-1 1-1 1 1 1 0 1 0 1 1 1 0 1 0 1 1 1-2 1-1 1 1 1-1 1 1 1 0 1-1 1 4 1-4 1 1 1 0 1-1 1 0 1 0 1 4 1-2 1-1 1 1 1 0 1-2 1 5 1-3 1-1 1 0 1 0 1 0 1 1 1 0 1 0 1 0 1 0 1-2 1 4 1-2 1-3 1 2 1 1 1 0 1-1 1 2 1-3 1 0 1 2 1-1 1 1 1 0 1 1 1-3 1 3 1-4 1 1 1 2 1-1 1-1 1 2 1-2 1 1 1 0 1-2 1-1 1 0 1 0 1 0 1 2 1-1 1 0 1 4 1-4 1 0 1 0 1 3 1 0 1-1 1 2 1-1 1-1 1 1 1-1 1-2 1-1 1 1 1 0 1-1 1-1 1-2 1 0 1-1 1 3 1 1 1-2 1 1 1 1 1-4 1-3 1 0 1 0 1-3 1 0 1 1 1-1 1-2 1 0 1 4 1 0 1-7 1-1 1-2 1 4 1-2 1 2 1-3 1 4 1-4 1-5 1-1 1 2 1-3 1 1 1 9 1-2 1 6 1 6 1 6 1 0 1 3 1 1 1-1 1 1 1 4 1-3 1 2 1-3 1 0 1 0 1-1 1 0 1 0 1-3 1 1 1 0 1 2 1 0 1 0 1-3 1-2 1 0 1 3 1 2 1-2 1-2 1 1 1 0 1 2 1-1 1-2 1 2 1 1 1 0 1-1 1 1 1-1 1 1 1-2 1 3 1-3 1-2 1 5 1 0 1 1 1-3 1 0 1-1 1 0 1 1 1-2 1 2 1 1 1 0 1-2 1 1 1 1 1 0 1 1 1 1 1-1 1-1 1 1 1 0 1 1 1 3 1-1 1-3 1 1 1 2 1-2 1 2 1-3 1-2 1 3 1 0 1-4 1 2 1 0 1-3 1 2 1 2 1-1 1-5 1-3 1-3 1-2 1 1 1-7 1 0 1 5 1-4 1 8 1 4 1 1 1 2 1 4 1 0 1 3 1-2 1 0 1 0 1-4 1-2 1-7 1-5 1-1 1-13 1 0 1-6 1-11 1-19 1-10 1-17 1-22 1-24 1-14 1 5 1 18 1 18 1 21 1 16 1 11 1 8 1 7 1 7 1 11 1 6 1 2 1 2 1 6 1 5 1 5 1 2 1 3 1 4 1-1 1-2 1 2 1-3 1-2 1-3 1-3 1-3 1-4 1-5 1-8 1-3 1-9 1-11 1-1 1 2 1 2 1 8 1 9 1 4 1 4 1 6 1 7 1 1 1-2 1 5 1 0 1 0 1 3 1 2 1 2 1-3 1 3 1-1 1 1 1-1 1-2 1 1 1-1 1 1 1 1 1-2 1 2 1-2 1 0 1 0 1 1 1-2 1 1 1 3 1-2 1-2 1 1 1-1 1 3 1-1 1-1 1-2 1 0 1 1 1 0 1-3 1 1 1 0 1 1 1 3 1 1 1-3 1-2 1 2 1-1 1 1 1-3 1 0 1 4 1-2 1 0 1 2 1-2 1 2 1 0 1-3 1-2 1 2 1-1 1-1 1-5 1-5 1-4 1-3 1-2 1 1 1-1 1 8 1-5 1-1 1 0 1 3 1 1 1-3 1 2 1-2 1 1 1-4 1-5 1 0 1 3 1-5 1 4 1 0 1 0 1-3 1-2 1 6 1-2 1 0 1-2 1 1 1 1 1 3 1-2 1 7 1-2 1 6 1 1 1 0 1 2 1 1 1 3 1 3 1 2 1-7 1 7 1 4 1-2 1-2 1 3 1-1 1 2 1 1 1 0 1 0 1-1 1 1 1-2 1 0 1 2 1 2 1-1 1 0 1 1 1-3 1-3 1-1 1 0 1 2 1 1 1-1 1 5 1-1 1 1 1-2 1 2 1-4 1 0 1 1 1 2 1-2 1 0 1 2 1-1 1 1 1 0 1 2 1-4 1 1 1 0 1-2 1 2 1-3 1-1 1 2 1-1 1 1 1-3 1-2 1 3 1-5 1-2 1-3 1 1 1-3 1 3 1 5 1 0 1-3 1 3 1-2 1 0 1-1 1 1 1-6 1-4 1-4 1 0 1-4 1-6 1-1 1-7 1-1 1-3 1-7 1 0 1-7 1-19 1-15 1-13 1 8 1 11 1 21 1 11 1 17 1 8 1 8 1 5 1 6 1 3 1-5 1-4 1-3 1 0 1-7 1-4 1 5 1 5 1 6 1 9 1-4 1 2 1 5 1-1 1 2 1 1 1 1 1 1 1-1 1 0 1 0 1 2 1-3 1 1 1 0 1 1 1-3 1 4 1-1 1-1 1 0 1 1 1-1 1-1 1-1 1 2 1 0 1-1 1 5 1-2 1 3 1-4 1-4 1 2 1 5 1-2 1 2 1-6 1 0 1 1 1 1 1 0 1 1 1 2 1-5 1 2 1-1 1-1 1 3 1-1 1 0 1 0 1 0 1 3 1 0 1-1 1 0 1-1 1 2 1-2 1-1 1-1 1 2 1-1 1 2 1 0 1-5 1 5 1 1 1 1 1-2 1-2 1 1 1 2 1-2 1-1 1 2 1-1 1 0 1 0 1-3 1 2 1 1 1 1 1-3 1 0 1 1 1-2 1-4 1 1 1-1 1-1 1 2 1-3 1-3 1 0 1-3 1-1 1 0 1-3 1 1 1 3 1-4 1-2 1 1 1-3 1-1 1 1 1-4 1-6 1-2 1 2 1-1 1-3 1-8 1-1 1-3 1-12 1-9 1 1 1 4 1 4 1 17 1 11 1 9 1 15 1-2 1 6 1 2 1 2 1-2 1 1 1 1 1 0 1 1 1 0 1-2 1 3 1-1 1-2 1 3 1 0 1-2 1 2 1 0 1-2 1 0 1-1 1 2 1-1 1 1 1 2 1-1 1-2 1 0 1 1 1 1 1-2 1 4 1-4 1 2 1 0 1 0 1 1 1-3 1-3 1 2 1 0 1 4 1 0 1-1 1-3 1 1 1 0 1 0 1 4 1 1 1-2 1-1 1 3 1-5 1 0 1-1 1 2 1-2 1 3 1-3 1 4 1-1 1 0 1 1 1 1 1-4 1 1 1 0 1-1 1 1 1-1 1 1 1 1 1-1 1 4 1-3 1-1 1 0 1 1 1-2 1 1 1-1 1 2 1-2 1-1 1-1 1 3 1-3 1 0 1 1 1 1 1 0 1-1 1 3 1 0 1-4 1 2 1-1 1 0 1 0 1-1 1 3 1 3 1-4 1-1 1 2 1-1 1-2 1 1 1 4 1-2 1-1 1 2 1 1 1-4 1-2 1 0 1 3 1 0 1 0 1 0 1-4 1 3 1 0 1 0 1 2 1 1 1 0 1 0 1-4 1 3 1 1 1-3 1 0 1 4 1-2 1 0 1 1 1 1 1-1 1 0 1-2 1 1 1-1 1-1 1 4 1 0 1 0 1 0 1-3 1-1 1 0 1 2 1 0 1-2" stroke="#38353d" stroke-width="1.4" stroke-opacity="0.7"/>
<path d="M86 728l1-3 1 3 1 2 1-2 1 0 1 0 1 2 1-5 1 3 1 2 1-4 1 2 1 0 1-2 1 1 1 2 1-4 1 3 1 0 1 1 1 1 1-1 1-1 1 0 1 0 1-1 1-1 1 3 1 1 1-3 1 2 1-1 1 0 1-1 1 0 1 0 1-1 1 3 1 3 1-6 1-2 1 2 1 1 1-1 1 2 1-4 1 4 1-2 1 0 1 0 1 1 1 0 1 0 1-1 1 0 1 1 1 0 1 2 1-2 1-1 1-1 1 2 1 1 1-3 1 2 1 1 1-1 1-1 1 0 1 3 1-3 1-1 1 2 1 0 1 3 1-1 1 1 1-1 1-3 1-2 1 4 1-1 1-3 1 2 1-1 1 0 1 2 1-2 1-1 1 0 1 3 1-1 1 1 1 1 1-1 1 0 1 1 1 1 1-2 1 1 1 2 1-1 1-1 1-3 1 3 1 0 1 1 1-2 1 2 1 0 1-1 1 0 1 2 1 0 1-2 1-1 1-1 1 2 1 1 1-3 1-1 1 3 1 0 1 2 1 0 1-2 1-1 1 5 1-2 1 0 1-1 1-2 1-2 1 2 1 4 1-4 1 1 1 2 1 0 1-3 1-2 1 1 1 2 1 0 1 1 1-2 1 1 1 1 1-1 1-1 1 0 1-1 1 0 1 1 1 0 1 0 1 1 1-2 1 0 1 3 1-4 1 0 1 2 1 0 1 1 1-1 1 0 1 2 1-2 1-1 1 2 1 2 1 0 1 0 1-3 1 2 1 1 1-4 1 4 1-2 1-2 1 5 1-2 1-1 1 1 1 2 1-4 1-1 1 0 1 1 1-2 1 3 1-4 1 1 1 3 1-3 1-1 1 2 1 3 1-2 1 2 1 2 1-4 1 1 1 0 1 2 1 0 1 1 1-5 1 5 1 0 1-2 1 1 1 1 1 0 1-2 1 2 1 1 1 0 1-2 1-1 1-1 1-1 1 3 1 0 1-1 1-2 1 1 1 3 1-2 1 1 1 0 1-1 1 2 1-3 1 1 1-1 1 2 1-1 1-1 1-1 1 3 1 1 1-4 1 0 1 2 1 0 1-1 1 0 1 2 1-3 1 0 1 2 1-2 1-3 1 4 1-2 1 0 1 4 1-1 1 1 1-2 1-1 1 2 1-3 1 2 1 1 1-2 1 1 1-1 1 0 1 1 1 1 1 2 1-2 1-1 1 0 1 3 1-3 1 2 1-2 1-1 1 1 1 0 1-1 1 2 1 0 1 1 1-1 1 1 1-3 1 4 1 1 1 0 1-2 1-2 1 1 1 0 1-2 1-1 1 3 1 0 1-1 1 1 1 2 1-3 1-1 1 2 1-2 1 0 1 0 1 0 1 2 1-1 1 1 1-2 1 0 1-1 1 4 1-2 1 0 1 0 1 0 1-2 1 2 1 2 1 0 1-2 1 1 1-3 1 2 1 1 1-2 1 0 1-1 1 3 1-2 1 0 1 4 1-5 1 3 1 1 1-3 1 0 1 4 1-3 1 2 1-4 1 0 1 3 1 1 1-3 1 0 1 1 1 0 1-3 1 3 1-3 1 3 1 1 1 1 1-1 1-2 1 1 1-1 1-1 1 1 1-1 1 0 1 3 1 0 1-1 1-1 1 3 1-1 1-3 1 0 1 1 1 4 1 0 1-2 1 0 1 1 1-3 1 0 1 2 1-1 1 0 1-1 1 0 1 1 1 0 1-2 1 2 1 0 1 0 1 1 1-1 1 1 1-1 1-2 1 1 1 3 1-1 1 0 1 2 1-2 1 0 1 1 1-2 1-2 1 3 1 3 1-2 1 1 1-1 1-2 1 0 1 1 1 0 1-1 1-1 1 1 1 0 1 1 1-2 1 0 1 2 1 1 1-3 1 1 1 0 1 2 1 0 1-1 1 0 1-1 1 0 1 2 1-4 1 0 1 5 1 1 1-4 1 2 1-2 1-1 1 2 1 1 1-1 1 1 1-3 1 0 1-2 1 1 1 2 1-5 1 0 1-2 1 1 1-3 1 3 1-3 1-2 1-2 1 1 1 0 1-2 1 1 1 1 1-2 1 3 1-3 1-2 1 0 1-2 1 1 1-3 1 0 1 1 1-3 1 0 1-1 1-2 1 2 1-7 1 3 1-3 1 0 1 2 1 1 1 7 1 1 1 8 1 5 1 3 1 0 1 2 1 4 1 0 1 0 1-2 1 2 1 1 1-2 1 1 1 1 1-2 1 2 1-2 1 0 1-2 1 2 1 0 1-3 1 2 1 1 1-4 1 1 1-1 1 1 1 0 1 2 1-2 1-2 1 4 1-1 1-3 1 3 1 1 1-2 1-4 1 4 1 0 1 2 1-2 1 0 1 0 1 2 1-1 1 0 1-1 1-1 1 2 1 2 1-1 1-1 1-2 1 2 1 1 1 0 1 0 1-2 1 0 1 1 1-1 1 0 1 2 1 1 1 1 1 0 1-2 1 1 1-1 1 4 1-1 1-4 1 3 1 1 1-1 1-2 1-1 1 2 1 0 1-1 1-1 1-1 1 1 1-4 1 1 1-1 1 1 1-4 1-4 1-2 1-1 1-1 1-5 1 5 1 4 1 7 1 0 1-2 1 2 1 2 1 4 1 0 1 0 1 0 1-1 1-5 1-4 1-3 1-5 1-9 1-4 1-6 1-13 1-12 1-18 1-15 1-20 1-25 1-10 1 0 1 17 1 21 1 21 1 15 1 15 1 6 1 2 1 9 1 7 1 6 1 7 1 6 1 1 1 2 1 4 1 7 1 3 1 2 1 2 1-2 1 0 1-1 1-4 1-1 1-3 1-3 1 0 1-7 1-4 1-6 1-6 1-8 1-7 1-2 1 10 1 6 1 10 1 1 1 5 1 6 1-2 1 6 1-1 1 2 1 1 1 1 1 6 1 1 1-2 1 2 1-2 1 0 1 0 1 0 1-1 1 1 1-2 1 0 1-3 1 0 1 1 1 0 1 1 1-1 1-1 1 1 1 1 1-3 1 4 1 1 1-4 1 0 1 4 1 0 1 0 1 0 1-2 1-1 1 4 1 2 1-3 1-3 1 1 1 2 1-1 1 1 1 0 1-2 1 0 1-2 1 4 1 2 1-4 1-3 1 4 1 2 1-2 1-6 1 3 1-3 1 1 1 2 1 0 1-7 1-5 1 0 1-2 1-5 1-6 1 3 1 0 1 0 1 4 1 3 1-2 1-1 1 1 1 0 1 4 1-3 1-3 1-3 1-3 1 1 1-3 1 1 1 4 1-4 1-6 1-1 1 3 1 0 1 3 1 0 1 1 1 3 1 0 1 1 1-2 1 5 1-4 1 9 1 3 1-2 1 1 1 1 1 2 1 0 1 3 1 3 1-2 1 2 1-1 1 3 1-2 1 3 1 1 1-1 1 1 1 4 1-5 1 4 1-1 1-1 1 3 1 0 1-2 1-1 1 2 1-1 1 1 1-3 1-1 1 1 1 4 1-2 1 1 1-3 1-1 1 0 1 5 1-4 1 1 1 4 1-5 1 2 1 1 1-4 1 3 1-1 1 2 1-1 1 1 1-2 1 1 1-2 1 1 1 0 1-1 1-1 1 0 1 1 1-2 1 1 1 0 1-4 1-3 1-1 1-4 1-1 1 2 1 2 1 4 1 3 1 0 1-4 1 0 1-5 1-1 1-2 1 3 1-5 1-6 1 2 1-9 1-8 1 4 1-8 1 0 1-3 1-6 1-15 1-10 1-20 1-8 1 4 1 2 1 24 1 17 1 16 1 6 1 13 1 10 1-1 1 1 1 0 1-4 1-6 1-5 1-2 1-3 1 3 1 6 1 9 1 3 1 3 1 5 1-3 1 5 1 3 1-1 1 3 1 2 1 2 1-3 1-1 1-2 1 1 1-1 1-3 1 0 1 1 1-1 1 2 1 2 1-3 1 2 1 2 1-4 1 0 1 4 1 1 1-3 1 3 1-5 1 2 1 0 1-2 1 1 1 0 1 4 1-3 1 0 1 1 1-3 1 3 1-4 1 4 1-1 1 0 1 3 1-2 1 2 1 1 1-3 1-4 1 5 1 0 1 0 1-2 1 0 1 0 1-1 1 0 1-1 1 3 1 1 1-2 1 0 1 0 1 1 1 0 1 1 1-1 1-2 1 1 1 0 1 1 1-3 1-1 1 0 1 1 1 1 1 1 1-2 1 0 1 0 1 1 1 2 1-3 1-1 1 1 1 0 1-4 1-2 1-1 1 1 1 0 1-1 1-5 1 3 1-2 1 0 1-2 1-2 1 0 1-1 1-3 1-2 1 0 1-4 1-2 1-2 1 2 1-3 1-3 1-1 1-2 1-2 1-1 1-2 1-5 1-11 1-12 1-4 1 5 1 12 1 13 1 12 1 8 1 9 1 4 1 4 1 2 1 3 1-1 1 3 1-1 1 1 1-1 1-1 1 2 1-1 1 2 1 0 1-4 1 3 1 0 1 1 1-2 1 0 1 1 1-1 1 0 1 0 1 3 1-1 1-2 1-1 1 4 1-2 1 3 1-1 1 0 1-4 1 2 1 1 1-2 1 4 1-2 1 0 1 0 1-1 1 0 1 3 1-1 1 0 1 3 1-2 1-4 1 2 1 0 1 2 1 1 1-2 1 2 1-2 1 0 1 6 1-5 1-1 1-1 1 2 1-3 1 2 1-1 1 0 1 1 1 1 1-2 1 1 1-1 1-1 1 0 1-1 1 4 1 0 1 3 1-6 1 2 1 0 1-1 1 1 1 0 1 2 1-3 1 0 1-1 1 1 1 2 1 2 1-3 1 0 1 0 1-2 1 0 1 5 1-2 1 0 1 2 1-3 1-1 1 1 1 4 1-1 1-4 1 0 1 1 1 0 1 1 1-1 1 1 1-1 1 1 1-2 1-2 1 6 1-1 1-3 1 2 1 3 1-2 1 2 1 1 1-3 1-1 1 0 1-2 1 1 1 0 1-1 1 0 1 0 1 1 1-2 1 1 1 1 1-2 1 3 1-3 1-1 1 3 1-1 1 1 1-2 1 2 1 0 1 0 1 0 1-3 1 1 1-1 1 3 1-1 1 0 1 2 1 0 1-1 1-3 1 3" stroke="#3b3d55" stroke-width="1.4" stroke-opacity="0.7"/>
<path d="M86 729l1-1 1 1 1-1 1 2 1-2 1 1 1 2 1-1 1 0 1-3 1 5 1-2 1 1 1-4 1 2 1 0 1 0 1 1 1-1 1 4 1-1 1-2 1 0 1 1 1-1 1-2 1-1 1 2 1-1 1 3 1-1 1-1 1 2 1 0 1-3 1-1 1 3 1-2 1 3 1-3 1 1 1-3 1 2 1 0 1 1 1-1 1 0 1 1 1-4 1 4 1 2 1 0 1-1 1 0 1-1 1-3 1 2 1-2 1 2 1 2 1 1 1-4 1 2 1 0 1 1 1-1 1-1 1 1 1 0 1-3 1 1 1 0 1 3 1 0 1 0 1-2 1 2 1 1 1 0 1-1 1-1 1-1 1 2 1-1 1 0 1 2 1 0 1-1 1-3 1 2 1-1 1 0 1-1 1 2 1 1 1 1 1 1 1-2 1-3 1 2 1 1 1 2 1-2 1 0 1-2 1 2 1 4 1-4 1-1 1-2 1 3 1-3 1 3 1-1 1 2 1 0 1-4 1 2 1 5 1-3 1-1 1-2 1 4 1 0 1-2 1-1 1 3 1-1 1 0 1-1 1 0 1 1 1 1 1-1 1-1 1 0 1-1 1 2 1 0 1-1 1 2 1-1 1-1 1 0 1-1 1 0 1 2 1-1 1 3 1-2 1-1 1 2 1-3 1 1 1-1 1 1 1 0 1-2 1 1 1 2 1-3 1 0 1 2 1 0 1 0 1 0 1-3 1 1 1 0 1-1 1 2 1 0 1 0 1 1 1-1 1-1 1 2 1 1 1-3 1 1 1 1 1 0 1-3 1 1 1 1 1 2 1 3 1-1 1-2 1-3 1 3 1 0 1-4 1 3 1-3 1 3 1 0 1-1 1-1 1 2 1 2 1-1 1 0 1-1 1 1 1-2 1 0 1 0 1 3 1-1 1 0 1 0 1-1 1 0 1 1 1-1 1 1 1 0 1-1 1-1 1 0 1 2 1 0 1 0 1-1 1 1 1-1 1 1 1 1 1-3 1-1 1 3 1-2 1 2 1-1 1-2 1 2 1 1 1-2 1 2 1 0 1-2 1 2 1 0 1-1 1 1 1-3 1 3 1 1 1-2 1-2 1 1 1 0 1 0 1 1 1 1 1-2 1-1 1 2 1-1 1 1 1 0 1-3 1 1 1 4 1-4 1 2 1 1 1-1 1-3 1 2 1 0 1-2 1-1 1 2 1 0 1 2 1-2 1-3 1 1 1 1 1 2 1 0 1-1 1 1 1-1 1-2 1 4 1-2 1-1 1 2 1-3 1 1 1 0 1 0 1 1 1 2 1-1 1-1 1-1 1-1 1 2 1 0 1 4 1-1 1-2 1-2 1 3 1-1 1 0 1-2 1 2 1 2 1-1 1-1 1 1 1 0 1-1 1-1 1-1 1 3 1 1 1 0 1-2 1 0 1-2 1 1 1 0 1-1 1 0 1 0 1-1 1 1 1 2 1 1 1-3 1-1 1 0 1 0 1-1 1 2 1 4 1-1 1-3 1-2 1-1 1 0 1 1 1 3 1 3 1 1 1-3 1 1 1 0 1-1 1 0 1 1 1-3 1 3 1-2 1-3 1 1 1 1 1 0 1 0 1 2 1-3 1 1 1-1 1 2 1 2 1-3 1 0 1 4 1-1 1 0 1-4 1 0 1 2 1-2 1 3 1 0 1-1 1 1 1 1 1 1 1-2 1-2 1 1 1 0 1-1 1 0 1 2 1-1 1 0 1 0 1 3 1-3 1 1 1-3 1 1 1 4 1-4 1-1 1 2 1 1 1-1 1-2 1 3 1 1 1 0 1-1 1-2 1 3 1-2 1-1 1 1 1 1 1 2 1-1 1 1 1-1 1 0 1 0 1-3 1 1 1-1 1 1 1 2 1 1 1 0 1-1 1 0 1 0 1 1 1-4 1 1 1 1 1 0 1 2 1-2 1-2 1 1 1-4 1 3 1 3 1-2 1-1 1 1 1 2 1 0 1-4 1 0 1-1 1 0 1 1 1 0 1-1 1 3 1-4 1-3 1 2 1 5 1-4 1 2 1-2 1-5 1-2 1 1 1 2 1 1 1 1 1-8 1 3 1 1 1-1 1-3 1 2 1 0 1-4 1 2 1-3 1-1 1 4 1-6 1 1 1-3 1 3 1-5 1-6 1 5 1 1 1 8 1 3 1 6 1 0 1 3 1 2 1 4 1 1 1 1 1-1 1 0 1 2 1-2 1-1 1 2 1-1 1-3 1 2 1-1 1 0 1-1 1 4 1-2 1 2 1-2 1-1 1 2 1-1 1-1 1-1 1-1 1 3 1 2 1-1 1-1 1 2 1-1 1-2 1 1 1 1 1-3 1 3 1-2 1 3 1-2 1 0 1-1 1-1 1 3 1-1 1 0 1-2 1-1 1 1 1 1 1 2 1 1 1 0 1-1 1-2 1 1 1 2 1-2 1 1 1-2 1 0 1 1 1 1 1 0 1-2 1 2 1-3 1 0 1 3 1-1 1 0 1 2 1-3 1 0 1-2 1 3 1-2 1-1 1-1 1 0 1 0 1-2 1 1 1 0 1 0 1-2 1-1 1-3 1-1 1-4 1 0 1 0 1 5 1 1 1 3 1 5 1-2 1 3 1 3 1 4 1-2 1-3 1 1 1-2 1-7 1-7 1-3 1-3 1-7 1-7 1-4 1-6 1-14 1-19 1-18 1-18 1-28 1-7 1 8 1 8 1 30 1 19 1 16 1 6 1 8 1 9 1 9 1 0 1 11 1 3 1 4 1 4 1 3 1 5 1 1 1 5 1 2 1 0 1 0 1-2 1-4 1-3 1-4 1-5 1-2 1-5 1-6 1-5 1-9 1-8 1-11 1-5 1-1 1 10 1 10 1 9 1 8 1 8 1 1 1 6 1 2 1 4 1 5 1-2 1 2 1 1 1 3 1-1 1 1 1 1 1-1 1-1 1-2 1 0 1 1 1-3 1 4 1 0 1 2 1-2 1-1 1-2 1 2 1-2 1 0 1 0 1 4 1-3 1 3 1-3 1-3 1 3 1 0 1 1 1 0 1-2 1 1 1 6 1-2 1-2 1-4 1-1 1 6 1 0 1-1 1-1 1 0 1-1 1 4 1-4 1-1 1-3 1 5 1-1 1-1 1-1 1 1 1 0 1-4 1 0 1 1 1-3 1-1 1-4 1-3 1-5 1-4 1-5 1 2 1 6 1 0 1 3 1-5 1 2 1 3 1 1 1-4 1 3 1-3 1 0 1-3 1 1 1 1 1-5 1-3 1 1 1-3 1-2 1 6 1 3 1 0 1-2 1 1 1-2 1 6 1 1 1 0 1 2 1 1 1 1 1 8 1-3 1 6 1-1 1-1 1 2 1 0 1 3 1-1 1-2 1 2 1 5 1-2 1 1 1 2 1-1 1 0 1 2 1 1 1 1 1-3 1 1 1 0 1 1 1-3 1 0 1 1 1 2 1 1 1-1 1 0 1-2 1 1 1 1 1 0 1-1 1-1 1 1 1 1 1-2 1-1 1 0 1 1 1-1 1 3 1 0 1-1 1-5 1 3 1 4 1-4 1 3 1-1 1 0 1-2 1 1 1 1 1-2 1 1 1-3 1 0 1-4 1-2 1 1 1-2 1 0 1-2 1-2 1 3 1-1 1 0 1-1 1 0 1-1 1 3 1 1 1-2 1-2 1-2 1-3 1-5 1 0 1-9 1-3 1-3 1-5 1 1 1-1 1-7 1-1 1-2 1-8 1-8 1-3 1-6 1 16 1 14 1 10 1 8 1 8 1 10 1 0 1 3 1 0 1-4 1 0 1-9 1-2 1-6 1 4 1 4 1 1 1 6 1 5 1 1 1 5 1 2 1-2 1 3 1 1 1 4 1-3 1 1 1 4 1-4 1-2 1 0 1-2 1 1 1 1 1-1 1-1 1 2 1 0 1 0 1 0 1-1 1-2 1 2 1 0 1 4 1-1 1 0 1-1 1-1 1 0 1 1 1 0 1-1 1-1 1 1 1-1 1-1 1 2 1-2 1 1 1 0 1 0 1-1 1 0 1 1 1 0 1-1 1 2 1-1 1 1 1 3 1-3 1-3 1 2 1 2 1 3 1-4 1-1 1 1 1 0 1 0 1-3 1 2 1 1 1-3 1 2 1 1 1 3 1-2 1 0 1-1 1-2 1 0 1 3 1 3 1-1 1-3 1 0 1-2 1 1 1 3 1 1 1-3 1-1 1 0 1-1 1 0 1-7 1 2 1 0 1-3 1 1 1 1 1 1 1-2 1-3 1 0 1-3 1-5 1 2 1-2 1-5 1 5 1-7 1 1 1 0 1 0 1-3 1-2 1-3 1-4 1 1 1-2 1-7 1-9 1-5 1-8 1-2 1 8 1 10 1 7 1 17 1 5 1 9 1 6 1 1 1 0 1 2 1-1 1 4 1 1 1 1 1-3 1 1 1 1 1 0 1 1 1 2 1-4 1 2 1 0 1 0 1 2 1 1 1 1 1-3 1 1 1 1 1-2 1 2 1-1 1 0 1 0 1-2 1 1 1-2 1 1 1 3 1-2 1-2 1 1 1-1 1-1 1 3 1 1 1 0 1-3 1 3 1-2 1 1 1 0 1 0 1 1 1-2 1 0 1 0 1 1 1 0 1 1 1-4 1 1 1 2 1 2 1 0 1 0 1-2 1-2 1 1 1-1 1 1 1 0 1-1 1 1 1 0 1 1 1 0 1 0 1 0 1-1 1 1 1-3 1 1 1 1 1 2 1 0 1-1 1-2 1 2 1-1 1-1 1 1 1 1 1-2 1 1 1 1 1 1 1-1 1 0 1 2 1-1 1-2 1 1 1 0 1-1 1 1 1 1 1-3 1 3 1 0 1-2 1 1 1 1 1-3 1 1 1 1 1 3 1-1 1 0 1-4 1 3 1 0 1 0 1 0 1 2 1-1 1-1 1 0 1-1 1-1 1-1 1 2 1 0 1 0 1 1 1-1 1 1 1-2 1-1 1 0 1 2 1 0 1 1 1-1 1 1 1-2 1 0 1-1 1 4 1 0 1-3 1-1 1 1 1 0 1-2 1 0 1 1 1 2 1-1 1 0 1-1 1 0 1 2" stroke="#38353d" stroke-width="1.4" stroke-opacity="0.7"/>
<path d="M86 983L87 980L88 984L89 982L90 983L91 985L92 980L93 983L94 983L95 985L96 981L97 984L98 982L99 981L100 983L101 981L102 984L103 981L104 984L105 983L106 982L107 982L108 982L109 984L110 983L111 986L112 983L113 983L114 985L115 985L116 983L117 985L118 983L119 984L120 986L121 982L122 981L123 982L124 983L125 983L126 983L127 984L128 984L129 985L130 984L131 983L132 983L133 984L134 985L135 981L136 981L137 980L138 983L139 984L140 983L141 984L142 983L143 981L144 982L145 983L146 982L147 982L148 984L149 980L150 981L151 982L152 984L153 983L154 981L155 982L156 984L157 981L158 981L159 983L160 984L161 986L162 982L163 985L164 986L165 982L166 981L167 985L168 984L169 984L170 983L171 985L172 985L173 984L174 980L175 982L176 984L177 986L178 984L179 983L180 983L181 987L182 984L183 982L184 981L185 984L186 982L187 983L188 984L189 984L190 986L191 982L192 983L193 984L194 985L195 985L196 985L197 984L198 982L199 983L200 984L201 985L202 983L203 984L204 984L205 984L206 980L207 983L208 986L209 985L210 984L211 981L212 982L213 984L214 984L215 982L216 979L217 981L218 987L219 984L220 984L221 984L222 983L223 985L224 984L225 983L226 984L227 983L228 982L229 983L230 984L231 983L232 984L233 983L234 984L235 985L236 984L237 983L238 985L239 983L240 983L241 981L242 982L243 982L244 983L245 982L246 984L247 985L248 984L249 982L250 982L251 982L252 984L253 984L254 986L255 982L256 982L257 985L258 981L259 985L260 984L261 984L262 985L263 983L264 983L265 983L266 985L267 985L268 985L269 984L270 983L271 986L272 985L273 985L274 984L275 986L276 984L277 984L278 981L279 984L280 984L281 982L282 985L283 981L284 983L285 984L286 983L287 986L288 983L289 984L290 987L291 984L292 981L293 983L294 984L295 981L296 980L297 983L298 985L299 984L300 985L301 984L302 986L303 985L304 984L305 985L306 983L307 982L308 984L309 987L310 985L311 984L312 982L313 983L314 982L315 984L316 981L317 981L318 981L319 983L320 982L321 984L322 984L323 981L324 983L325 987L326 985L327 982L328 985L329 983L330 984L331 984L332 982L333 981L334 984L335 983L336 983L337 980L338 983L339 984L340 981L341 984L342 984L343 984L344 985L345 984L346 983L347 983L348 983L349 984L350 985L351 979L352 982L353 983L354 981L355 984L356 981L357 983L358 983L359 982L360 985L361 983L362 983L363 985L364 984L365 984L366 986L367 987L368 985L369 985L370 984L371 985L372 987L373 986L374 983L375 981L376 984L377 983L378 983L379 982L380 983L381 985L382 985L383 987L384 984L385 983L386 983L387 984L388 982L389 982L390 985L391 984L392 984L393 985L394 984L395 985L396 984L397 984L398 981L399 980L400 983L401 982L402 983L403 983L404 985L405 984L406 985L407 982L408 983L409 985L410 985L411 985L412 982L413 980L414 983L415 984L416 983L417 981L418 982L419 981L420 984L421 985L422 983L423 983L424 981L425 983L426 983L427 981L428 983L429 985L430 985L431 984L432 983L433 983L434 982L435 984L436 982L437 982L438 984L439 984L440 984L441 983L442 986L443 983L444 985L445 986L446 987L447 982L448 982L449 985L450 982L451 985L452 983L453 986L454 985L455 983L456 984L457 981L458 983L459 984L460 981L461 982L462 983L463 980L464 982L465 983L466 983L467 983L468 982L469 985L470 983L471 982L472 981L473 983L474 982L475 983L476 983L477 982L478 985L479 983L480 982L481 981L482 982L483 982L484 981L485 983L486 984L487 984L488 984L489 981L490 978L491 980L492 978L493 981L494 981L495 980L496 980L497 981L498 981L499 980L500 980L501 981L502 983L503 984L504 984L505 985L506 980L507 982L508 982L509 984L510 981L511 984L512 980L513 981L514 983L515 983L516 983L517 982L518 982L519 983L520 983L521 982L522 982L523 982L524 982L525 982L526 985L527 982L528 983L529 983L530 982L531 983L532 983L533 985L534 985L535 985L536 984L537 985L538 983L539 981L540 984L541 983L542 980L543 982L544 980L545 980L546 975L547 978L548 977L549 978L550 977L551 976L552 978L553 974L554 975L555 974L556 974L557 974L558 970L559 972L560 974L561 972L562 972L563 969L564 969L565 969L566 967L567 969L568 963L569 966L570 965L571 962L572 960L573 963L574 959L575 952L576 954L577 951L578 953L579 957L580 963L581 971L582 970L583 971L584 976L585 981L586 982L587 985L588 985L589 984L590 985L591 984L592 987L593 986L594 982L595 981L596 981L597 982L598 983L599 980L600 980L601 982L602 982L603 981L604 984L605 983L606 979L607 982L608 983L609 984L610 983L611 982L612 984L613 983L614 981L615 981L616 981L617 980L618 979L619 979L620 982L621 983L622 980L623 982L624 979L625 981L626 981L627 980L628 983L629 982L630 982L631 983L632 983L633 982L634 984L635 980L636 981L637 982L638 980L639 981L640 983L641 982L642 980L643 982L644 982L645 984L646 983L647 983L648 982L649 982L650 984L651 985L652 986L653 981L654 983L655 982L656 982L657 979L658 980L659 979L660 981L661 981L662 980L663 982L664 979L665 982L666 981L667 977L668 976L669 974L670 972L671 970L672 967L673 964L674 961L675 959L676 962L677 968L678 968L679 972L680 976L681 980L682 981L683 980L684 982L685 984L686 984L687 982L688 980L689 975L690 971L691 966L692 963L693 960L694 952L695 945L696 935L697 922L698 914L699 900L700 875L701 866L702 853L703 871L704 886L705 900L706 910L707 922L708 937L709 940L710 944L711 948L712 956L713 961L714 964L715 970L716 973L717 975L718 981L719 980L720 984L721 983L722 984L723 985L724 985L725 982L726 980L727 977L728 975L729 973L730 968L731 960L732 959L733 955L734 943L735 942L736 935L737 933L738 943L739 950L740 956L741 959L742 963L743 969L744 971L745 973L746 976L747 978L748 978L749 981L750 983L751 983L752 985L753 985L754 984L755 985L756 982L757 981L758 981L759 983L760 981L761 980L762 979L763 980L764 980L765 981L766 981L767 981L768 982L769 980L770 982L771 980L772 982L773 982L774 983L775 983L776 983L777 981L778 983L779 980L780 981L781 981L782 979L783 984L784 981L785 982L786 980L787 982L788 985L789 983L790 982L791 980L792 983L793 981L794 979L795 980L796 981L797 982L798 982L799 977L800 977L801 981L802 975L803 977L804 977L805 974L806 976L807 971L808 969L809 967L810 963L811 961L812 954L813 955L814 958L815 958L816 961L817 960L818 962L819 957L820 959L821 962L822 957L823 959L824 958L825 955L826 955L827 954L828 955L829 956L830 955L831 952L832 954L833 956L834 954L835 953L836 954L837 950L838 955L839 958L840 960L841 958L842 963L843 965L844 966L845 967L846 969L847 971L848 970L849 974L850 973L851 975L852 976L853 977L854 976L855 978L856 978L857 979L858 982L859 983L860 977L861 979L862 979L863 981L864 983L865 982L866 982L867 983L868 981L869 985L870 983L871 984L872 982L873 986L874 982L875 982L876 985L877 981L878 981L879 981L880 981L881 982L882 983L883 983L884 980L885 982L886 984L887 980L888 983L889 983L890 983L891 981L892 982L893 982L894 981L895 981L896 983L897 983L898 983L899 979L900 980L901 980L902 979L903 979L904 979L905 979L906 974L907 973L908 970L909 972L910 967L911 964L912 962L913 963L914 968L915 968L916 968L917 972L918 970L919 972L920 974L921 973L922 973L923 970L924 970L925 971L926 964L927 964L928 965L929 959L930 958L931 953L932 945L933 947L934 941L935 933L936 920L937 915L938 914L939 919L940 926L941 933L942 948L943 955L944 961L945 967L946 973L947 971L948 972L949 969L950 965L951 965L952 962L953 959L954 957L955 962L956 966L957 969L958 972L959 977L960 975L961 979L962 981L963 982L964 981L965 985L966 982L967 981L968 984L969 983L970 983L971 983L972 984L973 982L974 983L975 983L976 983L977 984L978 983L979 981L980 979L981 981L982 982L983 982L984 981L985 982L986 982L987 979L988 977L989 982L990 983L991 980L992 979L993 985L994 981L995 982L996 985L997 984L998 982L999 984L1000 983L1001 984L1002 982L1003 985L1004 980L1005 983L1006 983L1007 981L1008 983L1009 985L1010 981L1011 984L1012 982L1013 984L1014 983L1015 983L1016 983L1017 984L1018 983L1019 985L1020 983L1021 982L1022 984L1023 985L1024 983L1025 982L1026 982L1027 982L1028 983L1029 985L1030 982L1031 984L1032 982L1033 982L1034 983L1035 984L1036 981L1037 981L1038 981L1039 980L1040 982L1041 983L1042 983L1043 986L1044 982L1045 982L1046 978L1047 978L1048 977L1049 977L1050 973L1051 975L1052 974L1053 973L1054 975L1055 968L1056 968L1057 966L1058 966L1059 964L1060 966L1061 966L1062 964L1063 960L1064 957L1065 956L1066 960L1067 957L1068 954L1069 951L1070 947L1071 948L1072 942L1073 945L1074 935L1075 932L1076 921L1077 916L1078 914L1079 916L1080 929L1081 937L1082 952L1083 961L1084 968L1085 972L1086 975L1087 976L1088 978L1089 980L1090 979L1091 980L1092 980L1093 982L1094 984L1095 979L1096 980L1097 982L1098 981L1099 978L1100 980L1101 981L1102 982L1103 984L1104 985L1105 984L1106 985L1107 983L1108 982L1109 980L1110 982L1111 982L1112 983L1113 982L1114 982L1115 984L1116 982L1117 982L1118 983L1119 981L1120 982L1121 981L1122 984L1123 982L1124 982L1125 981L1126 983L1127 983L1128 984L1129 984L1130 982L1131 983L1132 982L1133 984L1134 983L1135 984L1136 982L1137 983L1138 981L1139 983L1140 983L1141 981L1142 983L1143 986L1144 985L1145 983L1146 982L1147 983L1148 982L1149 981L1150 983L1151 984L1152 985L1153 982L1154 982L1155 983L1156 983L1157 981L1158 983L1159 985L1160 985L1161 982L1162 980L1163 982L1164 983L1165 984L1166 982L1167 980L1168 982L1169 982L1170 983L1171 981L1172 984L1173 983L1174 984L1175 982L1176 984L1177 982L1178 981L1179 983L1180 984L1181 984L1182 983L1183 983L1184 984L1185 982L1186 984L1187 985L1188 984L1189 984L1190 984L1191 982L1192 982L1193 981L1194 985L1195 981L1196 981L1197 982L1198 982L1199 982L1200 982L1201 983L1202 983L1203 982L1204 983L1205 983L1206 983L1207 980L1208 985L1209 983L1210 984L1211 984L1212 983L1213 983L1214 984L1215 984L1216 980L1217 982L1218 982L1219 980L1220 982L1221 985L1222 983L1223 981L1224 981L1225 983L1226 985L1227 985L1228 982L1229 979L1230 977L1231 982L1232 981L1233 983L1234 982L1235 984L1236 983L1237 985L1238 983L1239 983L1240 982L1241 981L1241 989L1240 990L1239 989L1238 989L1237 989L1236 989L1235 988L1234 989L1233 987L1232 986L1231 988L1230 989L1229 990L1228 990L1227 989L1226 989L1225 988L1224 990L1223 988L1222 989L1221 991L1220 988L1219 993L1218 989L1217 989L1216 991L1215 990L1214 992L1213 991L1212 989L1211 992L1210 993L1209 993L1208 990L1207 988L1206 988L1205 988L1204 990L1203 989L1202 988L1201 991L1200 989L1199 988L1198 990L1197 987L1196 985L1195 986L1194 987L1193 987L1192 987L1191 986L1190 987L1189 990L1188 988L1187 989L1186 990L1185 990L1184 989L1183 991L1182 989L1181 988L1180 988L1179 988L1178 986L1177 989L1176 989L1175 989L1174 989L1173 989L1172 993L1171 988L1170 989L1169 991L1168 992L1167 988L1166 991L1165 992L1164 990L1163 989L1162 988L1161 989L1160 989L1159 991L1158 988L1157 990L1156 986L1155 987L1154 988L1153 989L1152 992L1151 990L1150 987L1149 987L1148 988L1147 988L1146 989L1145 988L1144 987L1143 987L1142 987L1141 987L1140 990L1139 988L1138 989L1137 991L1136 990L1135 989L1134 992L1133 988L1132 989L1131 991L1130 990L1129 990L1128 990L1127 987L1126 986L1125 989L1124 989L1123 989L1122 988L1121 990L1120 988L1119 988L1118 989L1117 991L1116 987L1115 989L1114 991L1113 990L1112 988L1111 989L1110 991L1109 986L1108 985L1107 989L1106 990L1105 988L1104 991L1103 988L1102 990L1101 990L1100 986L1099 987L1098 987L1097 989L1096 986L1095 988L1094 989L1093 990L1092 986L1091 988L1090 987L1089 981L1088 986L1087 986L1086 979L1085 978L1084 975L1083 973L1082 968L1081 961L1080 950L1079 942L1078 931L1077 921L1076 928L1075 941L1074 941L1073 948L1072 952L1071 951L1070 956L1069 956L1068 958L1067 960L1066 963L1065 965L1064 964L1063 967L1062 969L1061 971L1060 970L1059 969L1058 974L1057 974L1056 973L1055 978L1054 976L1053 978L1052 979L1051 982L1050 980L1049 981L1048 985L1047 986L1046 986L1045 988L1044 985L1043 989L1042 988L1041 991L1040 989L1039 991L1038 991L1037 989L1036 990L1035 989L1034 988L1033 989L1032 990L1031 990L1030 991L1029 988L1028 991L1027 990L1026 989L1025 990L1024 988L1023 990L1022 993L1021 988L1020 986L1019 989L1018 988L1017 989L1016 989L1015 993L1014 988L1013 989L1012 990L1011 991L1010 992L1009 989L1008 986L1007 986L1006 993L1005 988L1004 992L1003 991L1002 990L1001 988L1000 986L999 989L998 991L997 989L996 987L995 988L994 988L993 987L992 987L991 985L990 987L989 988L988 991L987 988L986 989L985 987L984 985L983 987L982 987L981 987L980 987L979 987L978 988L977 989L976 989L975 989L974 989L973 985L972 988L971 987L970 988L969 990L968 989L967 987L966 988L965 989L964 990L963 989L962 989L961 989L960 983L959 981L958 980L957 977L956 973L955 973L954 971L953 963L952 968L951 972L950 977L949 974L948 979L947 977L946 982L945 980L944 973L943 967L942 961L941 952L940 939L939 926L938 916L937 925L936 935L935 945L934 950L933 952L932 956L931 960L930 960L929 964L928 968L927 968L926 971L925 975L924 977L923 978L922 976L921 978L920 981L919 980L918 981L917 976L916 976L915 978L914 982L913 973L912 970L911 969L910 973L909 976L908 977L907 980L906 984L905 985L904 987L903 984L902 986L901 983L900 985L899 985L898 987L897 987L896 988L895 990L894 990L893 988L892 989L891 986L890 985L889 986L888 989L887 991L886 987L885 987L884 987L883 988L882 989L881 989L880 987L879 989L878 990L877 990L876 991L875 988L874 990L873 989L872 986L871 987L870 987L869 989L868 987L867 989L866 992L865 991L864 989L863 987L862 988L861 989L860 987L859 985L858 986L857 986L856 986L855 983L854 986L853 982L852 984L851 977L850 980L849 979L848 978L847 978L846 974L845 970L844 973L843 972L842 969L841 970L840 966L839 971L838 962L837 961L836 962L835 961L834 960L833 961L832 957L831 957L830 960L829 964L828 959L827 961L826 963L825 964L824 965L823 968L822 968L821 968L820 967L819 968L818 968L817 969L816 969L815 966L814 964L813 962L812 962L811 962L810 965L809 970L808 974L807 978L806 978L805 978L804 981L803 986L802 985L801 985L800 985L799 984L798 990L797 988L796 983L795 983L794 986L793 987L792 989L791 987L790 984L789 986L788 988L787 986L786 985L785 988L784 990L783 989L782 987L781 988L780 986L779 985L778 985L777 987L776 987L775 988L774 988L773 986L772 987L771 985L770 985L769 984L768 985L767 989L766 990L765 987L764 985L763 987L762 986L761 985L760 986L759 985L758 986L757 986L756 986L755 991L754 989L753 990L752 989L751 992L750 989L749 986L748 985L747 983L746 984L745 981L744 982L743 978L742 976L741 974L740 969L739 964L738 962L737 946L736 948L735 947L734 949L733 961L732 965L731 969L730 972L729 977L728 981L727 985L726 988L725 987L724 988L723 989L722 992L721 992L720 987L719 989L718 986L717 982L716 984L715 974L714 972L713 970L712 969L711 963L710 955L709 954L708 948L707 941L706 930L705 911L704 901L703 885L702 868L701 883L700 896L699 915L698 928L697 941L696 947L695 954L694 963L693 963L692 968L691 971L690 977L689 982L688 984L687 985L686 986L685 988L684 989L683 990L682 988L681 984L680 986L679 982L678 976L677 969L676 967L675 966L674 966L673 968L672 970L671 977L670 980L669 980L668 983L667 986L666 986L665 986L664 986L663 987L662 989L661 988L660 991L659 991L658 989L657 990L656 990L655 990L654 987L653 991L652 992L651 990L650 988L649 990L648 990L647 991L646 990L645 990L644 988L643 989L642 987L641 989L640 988L639 988L638 988L637 988L636 987L635 988L634 990L633 989L632 989L631 989L630 988L629 988L628 990L627 990L626 988L625 990L624 988L623 988L622 990L621 987L620 990L619 988L618 987L617 987L616 991L615 989L614 989L613 986L612 989L611 988L610 987L609 988L608 988L607 988L606 986L605 987L604 990L603 988L602 988L601 990L600 991L599 990L598 987L597 989L596 989L595 989L594 989L593 993L592 989L591 993L590 990L589 989L588 987L587 986L586 986L585 989L584 989L583 984L582 983L581 979L580 973L579 968L578 962L577 958L576 966L575 962L574 963L573 967L572 970L571 969L570 969L569 971L568 971L567 971L566 972L565 978L564 975L563 975L562 978L561 977L560 980L559 978L558 978L557 980L556 981L555 978L554 977L553 982L552 978L551 981L550 983L549 984L548 984L547 985L546 981L545 984L544 986L543 987L542 987L541 988L540 990L539 988L538 986L537 991L536 991L535 988L534 988L533 988L532 990L531 991L530 988L529 991L528 992L527 990L526 990L525 989L524 989L523 988L522 990L521 991L520 989L519 990L518 988L517 991L516 987L515 986L514 988L513 988L512 989L511 990L510 990L509 989L508 989L507 989L506 991L505 988L504 989L503 991L502 990L501 990L500 987L499 990L498 990L497 990L496 991L495 989L494 990L493 989L492 990L491 989L490 989L489 989L488 990L487 990L486 991L485 990L484 989L483 989L482 991L481 988L480 988L479 988L478 989L477 989L476 986L475 989L474 990L473 987L472 988L471 990L470 992L469 993L468 991L467 989L466 988L465 990L464 988L463 986L462 989L461 988L460 989L459 992L458 991L457 988L456 992L455 989L454 990L453 988L452 989L451 989L450 992L449 991L448 992L447 990L446 991L445 991L444 991L443 989L442 989L441 989L440 990L439 992L438 993L437 991L436 990L435 989L434 992L433 989L432 991L431 989L430 988L429 993L428 992L427 988L426 989L425 989L424 990L423 990L422 992L421 988L420 988L419 992L418 991L417 988L416 987L415 989L414 991L413 991L412 990L411 989L410 989L409 991L408 993L407 987L406 989L405 990L404 989L403 989L402 988L401 990L400 989L399 990L398 991L397 989L396 990L395 989L394 990L393 993L392 994L391 992L390 991L389 988L388 992L387 990L386 988L385 990L384 990L383 989L382 990L381 993L380 992L379 991L378 989L377 992L376 993L375 993L374 990L373 991L372 991L371 992L370 990L369 989L368 988L367 989L366 990L365 989L364 987L363 992L362 990L361 990L360 989L359 988L358 987L357 990L356 988L355 989L354 990L353 990L352 988L351 988L350 987L349 990L348 990L347 993L346 990L345 987L344 990L343 991L342 990L341 989L340 989L339 990L338 990L337 989L336 990L335 992L334 989L333 993L332 990L331 989L330 990L329 991L328 989L327 991L326 988L325 990L324 988L323 991L322 990L321 991L320 988L319 991L318 988L317 991L316 991L315 989L314 990L313 986L312 989L311 988L310 988L309 991L308 989L307 990L306 990L305 989L304 991L303 990L302 991L301 989L300 989L299 988L298 993L297 991L296 989L295 987L294 990L293 989L292 990L291 989L290 988L289 990L288 987L287 990L286 990L285 988L284 989L283 989L282 990L281 988L280 989L279 989L278 988L277 989L276 990L275 990L274 988L273 988L272 988L271 987L270 988L269 987L268 992L267 989L266 989L265 990L264 990L263 990L262 988L261 986L260 989L259 990L258 990L257 988L256 988L255 989L254 990L253 990L252 993L251 991L250 991L249 992L248 991L247 990L246 991L245 989L244 991L243 990L242 988L241 987L240 986L239 989L238 988L237 991L236 987L235 991L234 990L233 990L232 988L231 988L230 991L229 991L228 993L227 990L226 991L225 991L224 990L223 992L222 992L221 990L220 991L219 992L218 990L217 990L216 990L215 990L214 990L213 991L212 991L211 990L210 989L209 989L208 988L207 989L206 991L205 992L204 991L203 990L202 992L201 992L200 989L199 988L198 987L197 988L196 990L195 987L194 989L193 990L192 991L191 993L190 992L189 991L188 989L187 989L186 990L185 988L184 988L183 989L182 992L181 990L180 986L179 986L178 987L177 990L176 991L175 989L174 990L173 990L172 990L171 990L170 990L169 989L168 990L167 988L166 991L165 992L164 990L163 988L162 989L161 988L160 990L159 990L158 990L157 987L156 988L155 988L154 989L153 990L152 989L151 990L150 988L149 992L148 990L147 990L146 990L145 991L144 987L143 990L142 988L141 989L140 991L139 989L138 987L137 992L136 988L135 991L134 991L133 987L132 987L131 988L130 987L129 989L128 991L127 989L126 988L125 987L124 989L123 990L122 988L121 990L120 990L119 990L118 987L117 988L116 990L115 992L114 986L113 989L112 989L111 991L110 989L109 985L108 989L107 988L106 990L105 988L104 991L103 988L102 986L101 992L100 989L99 987L98 990L97 990L96 989L95 989L94 988L93 988L92 989L91 989L90 988L89 987L88 991L87 987L86 988Z" fill="#ff0000" fill-opacity="0.8" stroke="none"/>
<path d="M86 979l1 1 1-2 1-1 1 0 1-3 1 2 1 0 1-4 1 1 1 5 1 2 1-3 1 0 1 8 1-6 1 3 1-4 1-2 1 3 1-2 1 1 1-1 1 2 1-3 1-1 1 8 1-4 1 0 1 2 1 0 1-6 1 5 1 2 1-4 1-1 1 4 1-2 1 1 1-5 1 2 1 2 1 1 1 1 1-1 1-5 1 3 1 2 1-4 1 2 1 2 1-1 1 3 1-3 1 0 1-2 1 2 1-5 1 1 1 3 1 0 1 1 1-1 1-4 1 7 1-3 1 0 1-1 1-2 1 5 1-1 1-2 1 0 1 5 1-3 1-1 1 0 1-1 1 2 1 1 1 1 1-1 1-1 1 3 1-1 1 1 1-4 1-2 1 1 1 1 1 0 1 0 1-1 1 3 1 0 1 0 1 2 1-1 1-2 1-1 1 1 1 0 1 4 1-4 1-1 1 2 1 3 1-1 1-5 1-3 1 3 1 2 1 0 1 0 1-1 1 0 1-3 1 3 1 5 1-1 1-3 1 0 1 2 1 4 1-2 1-6 1 2 1 2 1 0 1-2 1-1 1-3 1 7 1-1 1 0 1-2 1 2 1-4 1 6 1-2 1 3 1-4 1-3 1 4 1 0 1-1 1 7 1-6 1 0 1-1 1 0 1 3 1-3 1 1 1 0 1 0 1-1 1-1 1 0 1-1 1 0 1 1 1 2 1 0 1 0 1-1 1-3 1 2 1-3 1 4 1-2 1 2 1-1 1 3 1-2 1 4 1-3 1-2 1-2 1 4 1 0 1 0 1-2 1 2 1 1 1 1 1-7 1 0 1 7 1-4 1-1 1 1 1 1 1 1 1-3 1 1 1 2 1-4 1 4 1 0 1-4 1 0 1 5 1-7 1 1 1 6 1-2 1-4 1 3 1-3 1-1 1 1 1 2 1-3 1 0 1 3 1-1 1-1 1 0 1 0 1 3 1 3 1-3 1 0 1-4 1 2 1 2 1-1 1-2 1-2 1-3 1 7 1 0 1-2 1 2 1-1 1 3 1 0 1-2 1 4 1-1 1 1 1-2 1-5 1 3 1 4 1-3 1 0 1 1 1 1 1 0 1-1 1-2 1-1 1 0 1 0 1 4 1 1 1-2 1 0 1 0 1-2 1-1 1 2 1 7 1-8 1 2 1-1 1 0 1 0 1 1 1 1 1-3 1-2 1 5 1 0 1-6 1 4 1 1 1 0 1-2 1-3 1 6 1-1 1 2 1 3 1-5 1-2 1 2 1-1 1-2 1 1 1-1 1 2 1 1 1 1 1-2 1 0 1-2 1 5 1-3 1 1 1-3 1 0 1 1 1-1 1 1 1-1 1-4 1 4 1 5 1-4 1 3 1-1 1-3 1 3 1 1 1-3 1-2 1 3 1 0 1 2 1-5 1 1 1-4 1 1 1 5 1 1 1-5 1 2 1 3 1 1 1-1 1 1 1-1 1-2 1 0 1-1 1-1 1 0 1 2 1 3 1-2 1 1 1 2 1-4 1 0 1 4 1-5 1-1 1 3 1 0 1 2 1 1 1-1 1-2 1 0 1-1 1-1 1 8 1-7 1 0 1 1 1 1 1-1 1-1 1-1 1 0 1-3 1 2 1-1 1 3 1-2 1 1 1 4 1-3 1-1 1-4 1 7 1-1 1-2 1 0 1-1 1 5 1 2 1-6 1 0 1 0 1 4 1-4 1 4 1 0 1-3 1 0 1 4 1-4 1 0 1 0 1 1 1 1 1-1 1 1 1-3 1 4 1-3 1 0 1 0 1 0 1 2 1-2 1-1 1-3 1 1 1 4 1-2 1 0 1 1 1-3 1 6 1-3 1 2 1-2 1 0 1 0 1 0 1-3 1 1 1 2 1-3 1 4 1-2 1 1 1 2 1-1 1 0 1 2 1-4 1 0 1 2 1 0 1-4 1 4 1 1 1 0 1 2 1-1 1-1 1-2 1 0 1-3 1 0 1 6 1 2 1-3 1-2 1-3 1 2 1-2 1-2 1 1 1 1 1 3 1-3 1-1 1-5 1-1 1 1 1-2 1 2 1-2 1 7 1-1 1-6 1 1 1 0 1-2 1 2 1-3 1 3 1-4 1-5 1 1 1-1 1-2 1 3 1 0 1 0 1 2 1-4 1-7 1 0 1-1 1 12 1 1 1 1 1 9 1-1 1-1 1 1 1 3 1 4 1 5 1-4 1-2 1 3 1 0 1 0 1 1 1-2 1-3 1 0 1 0 1 2 1-1 1-1 1 3 1-3 1-1 1 1 1 0 1 1 1 4 1 3 1-6 1-4 1 2 1 0 1-1 1 4 1-3 1 0 1 0 1-2 1 1 1-1 1 3 1-5 1 1 1 0 1 3 1 1 1 2 1-1 1-1 1 0 1 1 1 0 1 0 1 1 1-1 1 2 1 0 1-5 1 2 1-2 1-1 1 2 1-3 1 4 1 0 1-1 1 2 1 3 1-5 1 1 1 1 1-2 1 1 1 0 1 1 1-2 1 1 1 0 1 1 1 1 1-3 1-1 1 2 1 1 1-1 1-2 1-4 1-2 1-1 1-7 1-1 1-2 1 1 1-1 1-3 1 3 1 5 1 6 1 2 1-1 1 4 1 2 1 5 1-5 1 4 1 0 1-3 1-6 1 0 1-4 1-2 1-2 1-2 1-10 1-7 1-10 1-13 1-8 1-12 1-23 1-7 1-7 1 20 1 17 1 9 1 9 1 11 1 10 1 6 1 3 1 5 1 3 1-3 1 12 1 3 1 1 1 4 1 6 1-1 1 1 1 1 1 0 1 2 1-4 1-3 1-6 1 0 1-6 1-2 1-4 1-1 1-7 1-3 1-5 1-5 1-4 1-1 1 10 1 7 1 7 1 4 1 6 1 1 1 3 1 2 1-1 1 4 1-2 1 2 1 2 1-1 1 2 1 2 1 0 1 0 1-4 1 0 1 1 1-2 1 3 1-2 1 0 1 0 1-2 1 2 1-6 1 4 1 0 1 0 1 1 1 2 1-2 1-3 1 6 1 2 1-7 1 2 1-1 1-1 1 0 1-1 1 3 1-2 1 0 1 1 1 1 1-1 1 3 1-4 1 2 1-2 1 0 1 0 1 1 1 3 1-1 1 0 1-3 1-3 1 2 1 8 1-8 1-2 1-2 1-1 1-1 1 2 1-7 1-1 1-3 1-4 1-8 1 4 1 5 1-2 1 8 1-4 1-1 1 1 1 1 1 0 1-1 1 0 1-5 1 3 1-1 1 0 1-8 1 0 1 0 1-4 1 3 1 2 1 1 1 0 1 6 1-5 1 8 1 1 1 2 1-4 1 4 1 2 1 3 1 4 1 0 1 4 1-5 1 7 1-2 1 2 1 1 1-4 1-1 1 0 1 4 1 2 1-4 1 1 1 1 1 4 1-2 1 1 1-2 1 4 1-2 1 2 1 2 1-4 1 2 1 1 1-1 1 0 1-5 1 6 1 3 1-1 1-3 1 1 1 0 1-1 1-2 1 2 1 0 1-1 1 2 1-2 1-5 1 0 1 6 1-3 1 5 1-4 1-2 1 5 1 2 1-3 1-1 1-3 1 0 1 3 1-5 1-4 1 1 1-3 1 1 1 0 1-6 1-1 1-3 1-4 1 7 1 4 1 2 1 0 1-3 1 0 1 5 1 2 1 0 1-2 1 3 1-6 1 3 1-3 1-7 1 4 1 1 1-6 1-6 1 0 1-9 1-1 1 1 1-16 1-8 1-11 1-2 1 12 1 8 1 6 1 17 1 3 1 8 1 7 1 0 1 3 1-3 1-4 1 0 1-6 1-5 1-1 1 4 1 2 1 10 1 1 1 2 1 4 1-2 1 6 1-3 1 3 1 0 1 0 1 0 1 1 1 1 1 0 1-1 1-1 1-1 1-1 1 0 1 3 1 1 1-3 1 5 1-4 1-2 1 0 1 2 1 1 1-8 1 2 1 1 1 0 1-1 1 3 1 2 1 0 1-4 1 5 1-1 1-1 1 0 1 0 1 3 1-1 1-3 1 1 1 1 1 0 1-4 1 3 1-4 1 2 1 3 1 0 1 0 1-3 1 4 1-2 1-1 1 2 1 3 1-5 1 3 1 1 1-1 1 2 1-2 1-5 1 6 1-1 1-2 1-1 1 1 1 1 1-2 1 2 1 2 1-1 1-2 1-2 1-2 1 2 1 0 1 0 1 4 1-2 1 1 1-1 1 0 1-5 1 3 1 1 1 0 1-6 1-5 1 4 1 3 1-6 1 4 1-7 1-3 1 0 1 0 1 3 1 1 1-8 1 2 1-10 1 5 1-7 1 1 1 5 1-6 1-2 1 2 1-2 1-5 1-5 1-8 1 1 1-6 1-4 1 0 1 11 1 13 1 9 1 13 1-3 1 3 1 4 1 6 1 2 1 1 1-3 1 5 1 1 1 2 1-6 1 0 1-1 1 2 1 0 1-2 1 2 1 2 1 1 1 2 1-4 1 2 1 0 1-3 1 0 1-3 1 1 1 0 1 7 1-4 1-1 1-2 1-3 1 3 1 3 1-1 1 2 1 3 1-3 1-2 1 2 1-4 1 0 1 3 1 3 1-3 1 4 1-4 1-4 1 1 1 3 1 5 1-5 1-2 1 3 1-1 1 0 1 5 1-6 1 3 1-5 1 4 1 0 1-1 1 1 1-2 1 0 1-1 1-1 1 6 1 0 1-1 1-3 1 4 1-4 1 3 1-3 1 0 1 3 1 0 1-2 1 5 1-2 1-1 1 0 1 1 1 1 1 0 1-3 1-1 1-1 1 4 1 1 1 1 1-5 1-3 1 6 1-2 1-1 1-2 1 1 1 2 1 1 1-1 1-1 1 2 1 0 1-2 1 0 1 2 1 2 1 1 1 1 1-7 1 5 1-2 1 0 1 2 1 1 1-6 1 1 1 3 1-1 1-2 1 1 1-4 1 2 1 0 1 5 1-2 1-1 1 1 1-2 1 2 1-1 1 3 1-4 1 4 1-6 1-2 1 1 1 2 1 2 1 0 1-2 1 5 1-5 1 0 1 5 1-1 1 1 1-6 1 1 1 1 1 1 1 1 1-1 1-5 1 6" stroke="#ff0000" stroke-width="1.4" stroke-opacity="1.0" stroke-dasharray="2 3 1 4" stroke-dashoffset="0"/>
<path d="M86 974l1 5 1-1 1 1 1 3 1-3 1 0 1 1 1-2 1-1 1 3 1-3 1 3 1 0 1 3 1-3 1-1 1 2 1-2 1 1 1-1 1-3 1 5 1-2 1 3 1-1 1-3 1 5 1 3 1-1 1-5 1 5 1-5 1 3 1-2 1-4 1 2 1 1 1 3 1-2 1-3 1 1 1-1 1 2 1 2 1 0 1-1 1 3 1 1 1-7 1 0 1 1 1 4 1 1 1-2 1 2 1-1 1-3 1-1 1 2 1 0 1 1 1 2 1-4 1-2 1 4 1 2 1-1 1-2 1 4 1-4 1-3 1 2 1 3 1 2 1 2 1-6 1 4 1-5 1 1 1-1 1-2 1 6 1 0 1-3 1 1 1 4 1-5 1-2 1 2 1 0 1-3 1 2 1 3 1-2 1 2 1 0 1-3 1 1 1 0 1-2 1 0 1 3 1-1 1 1 1-4 1 1 1 4 1 2 1 0 1 0 1-2 1-2 1 2 1 0 1-3 1 2 1-2 1 4 1 0 1-4 1 3 1 3 1-5 1 3 1-4 1-1 1 5 1 0 1-2 1-3 1 2 1 0 1 1 1 1 1 1 1-2 1 3 1-1 1-1 1-1 1 1 1-1 1 1 1 1 1-1 1-3 1-1 1-1 1 2 1 3 1-2 1-1 1 1 1-1 1-1 1 3 1-2 1 1 1 1 1 1 1-1 1 2 1-2 1-3 1 3 1-3 1 2 1 0 1 1 1-1 1 2 1-2 1-3 1 3 1-4 1 1 1 2 1 1 1 0 1 2 1 0 1 2 1 0 1-2 1 3 1-1 1-3 1 1 1 3 1-4 1-3 1 2 1 3 1 0 1-2 1-1 1-2 1 4 1 1 1-5 1 0 1 2 1 1 1 0 1-1 1 0 1-3 1 0 1 3 1-2 1 2 1 1 1 1 1 2 1-1 1 2 1-6 1-2 1 2 1-1 1 0 1 5 1 3 1-2 1-5 1 0 1 1 1 0 1 0 1-1 1 1 1 0 1-3 1 1 1 5 1-5 1 2 1 2 1 5 1-3 1-4 1-2 1 4 1 1 1-4 1 2 1-1 1 0 1-2 1 4 1-4 1 6 1-2 1-2 1 3 1-2 1-3 1 2 1 2 1-2 1-1 1 5 1-4 1 1 1-3 1 5 1-6 1 2 1 5 1-6 1 4 1-5 1 4 1 2 1-1 1 0 1 4 1 0 1-6 1 1 1 0 1-2 1-1 1 5 1-3 1 1 1-1 1-3 1 2 1 4 1-2 1 0 1 0 1 0 1 0 1 2 1-3 1 0 1 2 1-1 1-2 1 1 1 1 1 0 1 1 1-6 1 3 1 4 1-1 1-1 1 2 1-3 1-1 1 1 1 0 1 0 1-1 1 3 1-6 1 2 1 2 1-3 1 0 1 5 1 2 1-3 1-2 1 3 1 1 1-1 1-3 1-2 1 3 1 4 1 0 1-5 1 3 1-2 1 2 1 0 1-3 1 3 1-2 1-1 1 5 1-2 1 3 1-4 1 2 1-2 1 0 1 2 1-4 1 3 1-7 1 4 1-1 1 6 1 1 1-3 1 0 1-2 1-1 1-1 1 0 1 4 1-4 1 6 1-2 1 1 1-3 1 2 1-1 1-2 1 2 1 2 1-4 1-1 1 1 1-2 1 1 1 1 1 1 1 1 1-1 1-1 1 3 1 1 1-7 1 2 1 0 1-3 1 2 1-2 1 5 1 1 1-3 1 2 1-3 1 0 1 6 1 0 1-1 1-5 1 0 1 0 1 3 1-6 1 3 1 2 1 1 1 0 1-6 1 3 1 2 1-1 1 0 1 7 1-6 1-2 1 4 1-1 1 3 1-6 1-1 1 3 1 1 1 0 1-1 1-2 1-2 1 5 1 2 1-1 1 2 1-2 1 0 1 0 1-2 1 0 1 2 1 0 1-2 1-1 1 5 1 1 1-2 1 2 1-2 1-1 1 3 1-2 1-2 1 3 1-1 1-3 1 2 1-5 1 3 1-6 1 7 1-4 1-5 1 3 1 1 1-3 1 1 1 1 1 1 1-3 1 1 1-6 1 4 1-1 1-2 1-3 1 1 1 2 1-1 1-1 1 2 1-1 1-4 1 3 1-5 1-4 1 6 1-5 1-7 1 2 1-3 1-1 1 7 1 2 1 1 1 10 1 0 1 4 1 7 1-3 1 0 1 2 1 1 1 3 1 0 1 2 1 0 1-4 1-1 1-6 1 5 1 2 1-2 1-4 1 3 1 3 1-1 1-2 1 0 1 0 1 2 1-2 1 1 1-2 1 3 1 3 1-5 1 0 1 1 1-1 1-1 1 1 1 0 1-5 1 3 1 3 1 0 1-2 1 3 1 0 1-3 1-2 1-2 1 3 1-2 1 5 1-1 1-2 1 0 1 2 1-2 1 0 1 4 1-1 1-1 1-1 1-1 1 4 1-1 1 2 1 1 1-3 1 0 1 4 1-1 1-2 1-3 1 1 1 3 1 0 1-4 1 2 1-1 1-1 1 1 1 1 1-1 1-3 1 4 1-1 1-2 1-2 1-2 1 1 1-4 1-4 1-1 1 1 1-7 1 2 1 0 1 0 1 11 1 4 1-6 1 9 1 1 1-2 1 5 1 1 1-2 1-6 1 3 1-2 1-11 1 3 1-6 1-3 1-7 1-8 1-3 1-14 1-11 1-10 1-23 1-19 1 7 1 14 1 8 1 14 1 14 1 9 1 15 1-4 1 3 1 14 1 1 1 1 1 2 1 11 1-5 1 2 1 8 1 1 1 1 1 0 1 2 1 2 1-3 1-2 1-3 1-1 1-2 1-4 1-10 1-1 1-4 1-15 1 2 1-6 1-9 1 9 1 5 1 10 1 6 1 7 1 0 1 4 1 5 1-2 1 7 1 0 1 0 1 5 1 0 1-1 1 1 1 1 1-6 1 4 1-1 1-1 1-1 1 5 1-9 1 1 1 0 1 2 1-2 1 3 1 1 1 3 1-3 1 2 1-2 1 1 1 1 1-2 1 3 1-2 1-1 1 2 1-2 1 3 1-4 1-2 1 4 1-4 1 3 1 0 1-2 1 3 1-8 1 9 1-2 1 5 1-7 1 0 1 2 1 1 1-2 1 2 1-5 1 0 1-2 1 1 1 2 1 0 1-3 1 2 1-5 1 3 1-4 1-6 1-2 1-6 1-4 1 8 1-6 1 3 1 3 1 1 1-5 1 0 1 4 1-5 1 4 1 2 1-7 1 1 1-2 1 2 1 1 1 5 1-11 1 4 1 4 1 2 1-7 1 1 1-2 1 1 1 2 1 8 1-2 1-2 1 3 1 4 1-1 1-2 1 3 1 4 1 5 1-2 1 4 1-2 1-1 1-6 1 9 1-3 1-2 1 2 1 3 1-3 1 1 1 1 1 3 1 4 1-1 1 0 1 1 1-2 1 1 1 1 1 3 1-4 1 4 1-2 1-4 1 1 1-1 1 1 1-2 1-4 1 6 1-3 1 2 1-3 1 5 1 1 1-3 1-1 1 1 1 5 1-4 1-1 1 2 1-1 1 0 1 2 1-1 1-1 1-4 1-2 1 3 1 1 1 0 1-1 1 2 1-6 1-1 1-2 1 4 1-8 1-3 1-3 1 2 1 2 1 4 1-1 1 4 1-4 1 2 1 4 1 4 1-2 1-6 1-1 1 6 1-5 1-2 1-1 1-4 1-5 1-4 1 2 1-4 1-2 1-5 1-10 1-10 1-11 1-1 1 11 1 8 1 13 1 10 1 6 1 4 1 8 1 4 1 0 1-4 1-2 1 1 1-9 1-4 1-2 1 1 1 5 1 4 1 3 1 4 1-2 1 6 1 5 1-3 1 0 1 6 1-3 1 1 1 2 1-1 1-2 1 0 1 2 1-3 1 0 1 1 1 0 1 3 1-1 1-4 1-2 1 2 1 1 1 0 1-5 1 5 1 0 1-3 1-2 1 0 1 3 1 0 1-2 1-2 1 5 1-5 1 5 1 1 1-3 1-2 1 3 1-1 1-4 1 1 1 3 1-1 1-3 1 6 1-2 1-2 1-2 1 3 1 3 1 3 1 2 1-3 1 0 1 1 1-2 1 4 1-3 1-1 1 2 1 1 1-5 1-6 1 5 1 2 1 0 1 0 1-1 1-1 1 3 1-1 1 4 1-3 1 1 1-6 1 4 1-8 1 5 1 1 1 3 1-2 1 2 1-7 1 0 1 2 1 2 1-2 1-2 1-3 1 2 1-2 1 3 1-7 1-5 1 0 1 0 1 1 1 5 1-1 1-3 1-5 1 3 1-2 1-1 1 0 1-2 1-2 1-9 1 4 1-8 1 2 1-6 1-3 1-19 1-3 1-6 1 5 1 3 1 14 1 10 1 15 1 5 1 5 1 8 1 0 1 5 1 3 1 2 1-1 1-4 1 2 1-1 1 0 1 0 1 3 1-2 1-4 1 1 1-1 1 4 1 4 1-1 1-3 1 0 1-1 1-1 1 1 1 0 1 0 1-4 1 3 1 4 1-2 1 2 1-2 1 2 1-1 1-1 1-1 1 1 1 1 1 1 1-1 1 3 1-3 1-1 1 4 1-2 1 1 1-2 1-2 1 0 1 1 1 0 1 3 1-2 1 2 1 0 1-2 1 2 1 1 1 0 1-4 1 6 1-1 1-3 1 2 1-1 1 1 1-2 1-3 1 2 1 4 1-3 1-1 1 1 1 3 1 0 1-3 1-3 1 1 1 3 1 1 1-4 1 0 1 1 1-2 1 4 1-4 1 1 1 3 1 1 1-3 1 0 1-1 1-2 1 0 1 3 1 1 1-1 1 2 1 1 1-1 1-3 1 0 1 3 1-1 1-2 1 1 1 1 1-1 1 6 1-8 1 0 1 1 1-3 1 3 1-1 1-1 1-1 1 3 1 1 1 2 1 1 1-6 1-1 1 6 1 1 1-1 1-3 1 3 1 2 1-1 1-4 1 0 1 0 1 0 1 2 1-1 1-1 1 1 1 0 1-2 1-2 1 8 1-4 1-2 1-3 1 6 1-1 1-1 1 0 1 1 1 2 1 2 1-4 1 2 1-1 1-1" stroke="#ff0000" stroke-width="1.4" stroke-opacity="1.0" stroke-dasharray="2 3 1 4" stroke-dashoffset="3"/>
<path d="M86 983l1-5 1 6 1-1 1 0 1 2 1 2 1-2 1-2 1 2 1 1 1-2 1-2 1-1 1 0 1 0 1 3 1-4 1 6 1-2 1-2 1 0 1 0 1 3 1-2 1 3 1-4 1 0 1 0 1 1 1 1 1 1 1-2 1 1 1 2 1-4 1-1 1 1 1 1 1 0 1 0 1 1 1 2 1-1 1-1 1-1 1 0 1 1 1-1 1-2 1 0 1-1 1 2 1-2 1 3 1-2 1-1 1 1 1 4 1 1 1-2 1-4 1 3 1-6 1 2 1 1 1-1 1 5 1-4 1 0 1 4 1-3 1 0 1-2 1 4 1-1 1 0 1 2 1 2 1-4 1-2 1 5 1-2 1 0 1 0 1 2 1 0 1 1 1-6 1 4 1 3 1-1 1-2 1-2 1 1 1 7 1-2 1 0 1-3 1-1 1-2 1 4 1-1 1-1 1 2 1-4 1 1 1 1 1 1 1 2 1-4 1 1 1-2 1 1 1 2 1 0 1-2 1 1 1-3 1-1 1 0 1 1 1 6 1-2 1-1 1-3 1 1 1 2 1-6 1 3 1-2 1 1 1 7 1-3 1 4 1-4 1-1 1 3 1-2 1-2 1 1 1-2 1-1 1 1 1 1 1 5 1-4 1 0 1 1 1 1 1-1 1-1 1 3 1-3 1 0 1-3 1 2 1 0 1 1 1-2 1 3 1 1 1 2 1-2 1-3 1 2 1 3 1 2 1-1 1-1 1-2 1 0 1-4 1 5 1-2 1 1 1 0 1 0 1-2 1 0 1 4 1 2 1-8 1-1 1 1 1 6 1-2 1 0 1-1 1 3 1-3 1 0 1-4 1 0 1-2 1 1 1 6 1-4 1 2 1-2 1 2 1 5 1-5 1 2 1 3 1-4 1-3 1 2 1 4 1-6 1-1 1 3 1 3 1 0 1-3 1 0 1 3 1-1 1-1 1 2 1-2 1-2 1 0 1 5 1-1 1-2 1-2 1 1 1-1 1 2 1-3 1 0 1 0 1 2 1-1 1 2 1 1 1-5 1 1 1-2 1 3 1 0 1 4 1-3 1-2 1 3 1-2 1-2 1 4 1 3 1-2 1 0 1-2 1 1 1-4 1 2 1 2 1 1 1 1 1-2 1 1 1 0 1-1 1 0 1-2 1-4 1 4 1 3 1-4 1 1 1-1 1 2 1 0 1-4 1 6 1-2 1-1 1-1 1 3 1 0 1 4 1 0 1-3 1 0 1-3 1 3 1 2 1-1 1-3 1-2 1 3 1 0 1-1 1-2 1 3 1 1 1 1 1 1 1-3 1-1 1 0 1 1 1-2 1-1 1 4 1-1 1 0 1 1 1-3 1 3 1-1 1-1 1-2 1-1 1 3 1-1 1 1 1 0 1 2 1-1 1 2 1-4 1 1 1 2 1 0 1-4 1 1 1-5 1 3 1 0 1 3 1-2 1 1 1-1 1 2 1 0 1 1 1-2 1-1 1 0 1 0 1-2 1 4 1 2 1 0 1-4 1-1 1-2 1 5 1 2 1-3 1-1 1-1 1 4 1 0 1-1 1 4 1-1 1-2 1 1 1 2 1-5 1 0 1 3 1-3 1 4 1-3 1 3 1-4 1 0 1 1 1-2 1 1 1 2 1-4 1 0 1 3 1-3 1 2 1 1 1 0 1 0 1-1 1 3 1-3 1 0 1 1 1-2 1 1 1 1 1 0 1-1 1 3 1-2 1-1 1-2 1 2 1 0 1-1 1 2 1 2 1-4 1 3 1-5 1-1 1 2 1-2 1 3 1 0 1-1 1 0 1-4 1 4 1 0 1 0 1 1 1 2 1 1 1-1 1 2 1-6 1 1 1 2 1-1 1 0 1 3 1-4 1-1 1 5 1-1 1 0 1 0 1-1 1-1 1 2 1-1 1 0 1 0 1 4 1-2 1 3 1-3 1 0 1-1 1-1 1 1 1 0 1 4 1-3 1 1 1 0 1 0 1-5 1 0 1-5 1 5 1-1 1 0 1 4 1-9 1 1 1 0 1-2 1 5 1-1 1-5 1 6 1-4 1-1 1 0 1 1 1-4 1 0 1-4 1 9 1 0 1 2 1-2 1-10 1 4 1-5 1 5 1-6 1 3 1 0 1 0 1-4 1 1 1-4 1 3 1-4 1-3 1 5 1 0 1 3 1 10 1 1 1-1 1 7 1 3 1 0 1 2 1 0 1-1 1 1 1-1 1 3 1 0 1-5 1-2 1 1 1 1 1 2 1-4 1 0 1 2 1 0 1-7 1 9 1 0 1-5 1 3 1 1 1 2 1-2 1-1 1-2 1 3 1-2 1 0 1 0 1-1 1-1 1 0 1 4 1 0 1-5 1 4 1-3 1 2 1-3 1 1 1 4 1-1 1 0 1 1 1 0 1-1 1 2 1-4 1 0 1 2 1-2 1-1 1 4 1 1 1-4 1 2 1 0 1 2 1-1 1-3 1 0 1 2 1 4 1-1 1 3 1-4 1 1 1-3 1-3 1 0 1-1 1 1 1 2 1 0 1-1 1 5 1-6 1 3 1-1 1-4 1-1 1 0 1-4 1-1 1-4 1-11 1 5 1-1 1 7 1 1 1 3 1 1 1 6 1 2 1 3 1 0 1-1 1 2 1-3 1-1 1 0 1-6 1-3 1-10 1-7 1-2 1-2 1-6 1-14 1-12 1-23 1-18 1-17 1-14 1 6 1 14 1 22 1 19 1 15 1 10 1 5 1 1 1 17 1 1 1-1 1 10 1-1 1 7 1 6 1 0 1 6 1 2 1 0 1-2 1 1 1 1 1-2 1-2 1-4 1-1 1-5 1-6 1-7 1-1 1-1 1-9 1-4 1-14 1 2 1 9 1 10 1 6 1 0 1 3 1 4 1 6 1 6 1-3 1 4 1 2 1 0 1 6 1-2 1 0 1 7 1-4 1-2 1 3 1-7 1 3 1-1 1 4 1-4 1-1 1 0 1 0 1 0 1 1 1 0 1 5 1-2 1-4 1 1 1-3 1 4 1 0 1 1 1 1 1 1 1 0 1 0 1-2 1-2 1 0 1-2 1 5 1-3 1 1 1-4 1 4 1 3 1-2 1-1 1 1 1 2 1-4 1-2 1 1 1 3 1-1 1 0 1-5 1 0 1 1 1-3 1 1 1 0 1-5 1 1 1-7 1 1 1-2 1-4 1 1 1-7 1 1 1 3 1 0 1 5 1-2 1 3 1-8 1 4 1 2 1 1 1-1 1-9 1-2 1 0 1-1 1 3 1 1 1 0 1-2 1 5 1-1 1-6 1-2 1 0 1 1 1 6 1 6 1-5 1 5 1 6 1 2 1-1 1-4 1 5 1-4 1 1 1 4 1 7 1-3 1-3 1 6 1-1 1 2 1 0 1 4 1 4 1-3 1-6 1 1 1 1 1 2 1 2 1-4 1-1 1 2 1-3 1 8 1-2 1-1 1-2 1-3 1 0 1 5 1 3 1-4 1 0 1 0 1 0 1 1 1 1 1 0 1 0 1-2 1 4 1-5 1 3 1 0 1 2 1-4 1 1 1 4 1-3 1-4 1 3 1 1 1 4 1-5 1-2 1 0 1-2 1 3 1-2 1-1 1-4 1-3 1-3 1-1 1-7 1-2 1 8 1-4 1 5 1 1 1 2 1 1 1-1 1 2 1-1 1 3 1-4 1-4 1 0 1 6 1-8 1 0 1-6 1 3 1 1 1-11 1-6 1 2 1-7 1-7 1-13 1-5 1-1 1 12 1 10 1 5 1 14 1 4 1 8 1 8 1 0 1-6 1-1 1 0 1 0 1-6 1-4 1 0 1 2 1 3 1 5 1 4 1 8 1 0 1 2 1-3 1 3 1 0 1-1 1 3 1-2 1-1 1 4 1 5 1-5 1-5 1 4 1-2 1 1 1-4 1 2 1 3 1-3 1-1 1-1 1 2 1 1 1-1 1 0 1 0 1 0 1-2 1-2 1 6 1 0 1-4 1 0 1 6 1-6 1 3 1 4 1-2 1-2 1 2 1 0 1 4 1-1 1-1 1-6 1 3 1 0 1-2 1 5 1-1 1-4 1 3 1-2 1-4 1 5 1-2 1 1 1 0 1 1 1 0 1 1 1-2 1 1 1-7 1 7 1-1 1 0 1 0 1 1 1 2 1 1 1-2 1-6 1 4 1-1 1 3 1-3 1 4 1-4 1-1 1 2 1 1 1 0 1 3 1-5 1 1 1-4 1 0 1-1 1-5 1 0 1 3 1-5 1 6 1-1 1-2 1-5 1-2 1 0 1-2 1 2 1 3 1-6 1-5 1-3 1 1 1 0 1 0 1 1 1-6 1-7 1-3 1 1 1-2 1-9 1-11 1 1 1-5 1 10 1 9 1 12 1 3 1 7 1 11 1 2 1 4 1 4 1 2 1 3 1-3 1-2 1-1 1 3 1 5 1-1 1 4 1-4 1-1 1-1 1 3 1-5 1 1 1-1 1 4 1 1 1-1 1 1 1-2 1-1 1 3 1-3 1 0 1 4 1-4 1 0 1 4 1-3 1 4 1 0 1-4 1-3 1 1 1 4 1-3 1-1 1 0 1 1 1 1 1 1 1-2 1-6 1 1 1 5 1 2 1-2 1 2 1-2 1-1 1-2 1 0 1 2 1 1 1 1 1 4 1-2 1-2 1-2 1 3 1-2 1 3 1-1 1-1 1 2 1-3 1 2 1-4 1 3 1-4 1 6 1 0 1-2 1-4 1 1 1 3 1-3 1 0 1 2 1-2 1 2 1-3 1 2 1 0 1 3 1-2 1 2 1-5 1 5 1 2 1-5 1 4 1-1 1 0 1-1 1-3 1-1 1 1 1 5 1 0 1 2 1-3 1 0 1-2 1 0 1-2 1 5 1-4 1 4 1-5 1 3 1 1 1 1 1 3 1-5 1-1 1 5 1-5 1-3 1 1 1 5 1-1 1 0 1 3 1-3 1-2 1 2 1-3 1-1 1 2 1-5 1 2 1 2 1 4 1-2 1-3 1 0 1 3 1 2 1-5 1 0 1-1 1-2 1 5 1-1 1 5 1-4 1 2 1 0 1 1 1-2 1 0 1-2 1 0" stroke="#ff0000" stroke-width="1.4" stroke-opacity="1.0" stroke-dasharray="2 3 1 4" stroke-dashoffset="6"/>
<path d="M86 983l1 1 1 1 1 0 1-1 1 5 1-5 1 0 1 1 1 4 1-1 1-4 1 2 1-1 1-2 1 4 1-2 1 0 1 0 1 3 1-3 1 2 1-1 1-1 1 5 1 1 1-2 1 1 1-5 1 4 1 1 1-2 1-1 1-1 1 2 1-4 1 4 1-2 1 0 1 0 1 2 1-2 1 5 1-3 1-1 1 0 1-2 1 0 1 6 1-8 1 5 1 4 1-3 1-2 1-1 1-2 1 2 1-2 1-2 1 1 1-1 1 3 1-1 1 3 1-2 1-1 1 1 1-2 1 0 1-1 1 5 1 0 1-6 1 4 1-1 1 2 1 0 1 2 1-2 1 1 1-5 1 4 1-1 1-1 1 0 1 3 1-3 1 0 1 0 1-2 1 2 1 3 1-3 1-1 1 2 1 2 1-3 1-2 1-1 1 3 1 1 1-2 1 1 1 2 1 2 1 1 1-4 1 2 1 1 1-6 1 5 1-2 1 2 1-2 1-1 1 8 1-2 1-4 1 3 1 2 1-1 1-3 1 2 1 0 1 0 1-2 1 0 1-2 1 0 1 2 1-1 1 2 1 4 1 3 1-6 1-7 1 2 1 0 1 4 1 0 1-1 1-1 1 1 1 0 1-2 1-5 1 4 1-1 1 4 1 2 1-2 1-4 1 2 1-2 1 3 1 0 1 1 1-3 1 2 1 2 1 3 1-4 1-3 1-2 1 1 1-1 1 2 1 0 1 2 1-5 1 1 1 6 1-1 1-2 1 0 1 1 1 1 1-4 1 3 1 4 1-5 1 3 1-3 1-1 1 3 1-2 1 1 1 2 1-4 1 1 1 5 1-4 1-1 1 1 1-1 1 2 1 3 1-1 1 0 1-3 1 0 1 0 1 1 1-2 1 2 1 1 1-2 1 0 1-2 1 0 1 3 1-2 1 3 1-2 1 0 1-2 1 2 1 0 1 0 1 0 1-3 1 3 1 1 1-1 1-1 1 1 1 1 1-1 1-4 1 4 1-2 1 0 1 2 1 0 1-2 1-1 1 1 1 2 1-2 1 3 1 1 1-2 1-1 1 3 1 0 1 1 1 0 1-2 1-3 1-1 1-1 1-2 1 3 1 5 1-1 1 1 1 0 1 0 1 0 1-3 1-2 1 0 1 0 1 5 1-3 1 3 1 0 1-5 1 1 1 0 1 2 1 4 1-4 1-2 1 2 1 0 1 0 1-1 1 0 1 0 1 1 1 2 1-2 1 1 1-2 1-1 1 3 1 2 1-2 1-3 1-1 1 0 1 1 1 2 1 2 1 7 1-7 1 1 1-3 1 2 1-3 1 4 1 3 1-4 1-2 1 0 1 2 1-1 1-1 1 3 1-1 1-1 1-2 1 0 1-1 1 2 1-1 1 1 1-1 1 0 1 3 1-2 1 1 1-2 1 0 1 1 1-1 1-1 1 4 1 1 1-2 1-1 1 0 1 0 1-2 1 1 1-2 1 5 1-2 1-3 1 1 1 4 1 0 1 0 1-3 1 1 1 2 1-4 1-5 1 0 1 5 1 2 1 1 1-1 1 2 1-4 1 2 1-3 1 4 1-1 1 1 1-6 1 5 1 0 1-1 1 0 1 1 1 2 1 0 1-1 1 2 1-2 1-2 1 0 1 0 1 0 1-2 1 2 1 3 1 0 1 0 1-3 1 3 1 1 1-2 1-3 1-3 1 2 1-3 1 4 1 1 1-1 1 1 1 1 1-1 1 3 1-1 1-2 1 2 1-1 1-2 1 0 1-1 1-2 1 3 1 2 1-3 1-2 1 3 1 1 1-1 1-1 1 0 1 2 1-1 1-1 1 2 1-1 1 0 1 2 1 2 1 1 1-3 1 2 1-1 1-3 1 2 1 0 1-3 1 1 1 3 1-5 1 2 1-1 1 0 1-4 1 5 1 0 1-3 1 1 1 3 1-5 1 3 1 3 1-2 1-2 1 1 1 2 1 0 1 1 1-2 1 3 1-1 1-2 1 2 1-2 1 3 1-3 1-4 1 2 1-1 1 4 1-3 1 1 1 0 1-2 1-3 1 1 1-2 1-1 1 0 1 5 1-7 1-1 1 1 1-2 1 0 1-3 1 6 1 4 1-7 1-3 1 2 1-5 1-1 1 4 1-3 1 0 1-7 1-2 1-3 1-1 1 0 1-1 1 14 1 5 1-2 1 13 1-6 1 3 1 3 1 4 1-1 1 3 1-1 1 0 1 0 1-1 1 3 1 0 1 0 1-7 1 1 1 1 1 0 1 0 1-4 1 2 1 3 1-2 1 1 1 0 1-1 1 1 1 1 1 2 1 1 1-2 1 3 1-5 1 2 1 0 1-1 1 2 1-5 1 3 1 0 1-3 1 2 1 0 1 4 1 2 1-3 1-1 1-1 1 4 1 0 1-1 1-2 1 2 1-7 1 4 1-1 1 0 1 2 1 3 1-2 1-3 1 1 1 5 1-7 1 2 1 0 1 7 1-5 1-2 1 2 1-6 1 2 1 6 1-1 1-4 1-2 1 2 1 1 1-4 1 8 1-2 1-1 1 0 1-3 1-2 1 3 1-7 1-5 1-1 1-2 1-1 1 4 1-6 1-3 1 6 1-1 1 2 1 3 1 7 1 1 1-2 1 3 1 2 1 1 1 0 1-3 1 0 1-11 1-3 1-5 1-3 1 6 1-9 1-7 1-9 1-12 1-14 1-19 1-13 1-15 1 3 1 4 1 25 1 10 1 8 1 19 1 3 1 2 1 3 1 6 1 10 1 6 1 3 1 0 1 0 1 11 1-2 1 5 1 1 1 2 1 2 1-1 1-4 1 6 1-12 1-3 1-2 1-3 1 5 1-12 1 2 1-17 1-4 1-3 1 4 1 5 1 7 1 3 1 2 1 1 1 12 1-5 1 5 1 3 1 3 1 2 1-2 1 4 1 2 1-2 1 1 1-1 1 0 1 1 1-3 1 3 1-2 1 2 1-3 1-2 1-1 1 5 1-1 1 2 1-5 1-3 1 4 1 2 1 1 1 2 1-1 1 0 1-1 1 2 1-6 1 4 1 0 1-1 1 0 1-2 1 3 1-4 1 4 1-1 1 2 1 2 1-4 1-2 1-5 1 6 1 0 1-2 1-1 1-6 1 9 1 5 1-7 1 2 1 2 1-3 1-2 1-2 1-2 1 1 1-6 1-2 1 0 1-6 1-2 1 0 1-2 1-5 1 5 1-2 1 1 1 4 1 6 1-3 1-2 1-8 1 3 1 3 1 2 1-3 1-3 1 2 1-3 1 4 1-5 1 0 1 1 1-1 1 4 1 0 1 2 1 2 1 3 1-6 1-2 1 8 1-1 1 7 1-2 1 4 1-3 1 1 1-4 1 6 1 3 1 1 1-1 1 1 1 4 1-2 1-1 1 3 1 1 1 0 1 6 1-7 1-1 1 5 1 0 1-3 1 1 1-3 1 5 1-1 1-1 1-2 1 6 1-6 1 1 1 2 1-6 1 7 1 0 1-2 1 4 1-4 1-1 1 1 1 1 1-1 1 1 1-2 1 0 1-1 1 0 1 3 1-3 1 5 1-4 1 0 1 0 1 0 1-4 1 6 1-3 1-2 1-1 1 4 1 2 1-1 1-10 1-4 1 5 1-4 1-2 1 1 1-5 1 7 1-5 1 1 1 5 1 4 1 0 1-1 1-3 1-1 1 3 1-4 1 2 1-2 1 1 1-6 1-7 1 1 1 1 1-3 1-5 1 5 1-9 1-8 1-10 1-1 1-10 1 6 1 10 1 12 1 8 1 2 1 9 1 7 1 3 1 2 1-5 1 3 1-5 1-4 1-5 1-9 1 8 1-2 1 7 1 7 1 3 1-2 1 4 1-3 1 9 1-1 1 1 1-3 1-2 1 4 1-1 1 0 1 0 1 2 1-1 1 2 1-3 1 2 1-3 1 0 1-1 1 6 1-1 1 1 1-3 1-2 1 1 1 1 1 2 1-4 1 0 1 1 1 2 1-1 1 1 1-4 1 4 1 2 1-1 1 5 1-4 1-2 1 0 1-3 1 3 1-2 1 0 1 1 1-1 1 0 1 2 1-1 1 2 1 3 1-2 1-5 1 2 1 1 1 4 1 0 1-4 1 0 1 0 1 2 1-2 1 3 1 2 1-6 1 4 1-1 1-2 1-3 1 4 1-3 1 2 1-2 1 1 1-4 1 1 1 6 1 0 1 2 1-2 1-2 1 2 1-5 1 2 1-5 1 0 1-2 1 1 1 3 1 2 1-2 1-5 1 0 1-1 1-2 1-1 1 2 1-7 1-2 1 1 1 3 1-2 1-3 1 1 1-2 1-3 1-4 1-8 1 4 1-3 1 3 1-1 1-10 1 1 1-14 1-11 1-3 1 2 1 8 1 12 1 10 1 11 1 11 1 4 1 3 1 0 1 0 1 4 1 0 1 0 1 1 1 2 1 2 1-5 1 1 1 0 1 1 1-3 1 6 1-1 1 0 1 1 1 1 1 2 1 0 1 0 1-2 1-5 1 3 1 2 1-2 1 1 1-2 1 2 1-5 1 3 1 1 1-3 1 5 1-4 1 3 1 3 1-4 1 0 1 0 1 4 1-2 1-1 1 5 1-3 1-4 1 3 1-1 1 3 1-3 1 0 1 0 1 2 1-2 1-4 1 3 1 3 1 0 1 1 1-5 1 1 1-2 1 0 1 2 1 2 1 1 1-3 1-1 1 1 1 3 1 1 1-4 1 0 1 2 1 0 1 0 1 1 1-1 1-1 1 2 1 2 1-4 1-1 1 2 1 3 1 0 1 0 1-2 1 1 1 0 1-5 1 0 1 6 1-3 1 1 1 0 1-2 1 2 1-4 1 2 1 2 1-2 1 0 1 2 1 0 1-2 1-3 1 5 1-6 1 1 1 6 1-5 1 0 1 1 1-1 1 4 1-2 1 2 1 0 1-1 1 0 1 1 1 1 1-2 1-1 1-1 1 2 1 4 1-4 1-1 1 2 1-2 1-3 1 1 1 6 1-4 1-1 1 4 1-2 1 2 1 0 1-1 1-1 1 0 1 4 1-6 1 2 1 3 1-4 1-1 1 6 1 1 1-1 1-2 1-3" stroke="#ff0000" stroke-width="1.4" stroke-opacity="1.0" stroke-dasharray="2 3 1 4" stroke-dashoffset="9"/>
<path d="M86 988l1-2 1-1 1-3 1 2 1 1 1-5 1 3 1 3 1-1 1-4 1 4 1-2 1 0 1 3 1-4 1 3 1-1 1 0 1-1 1 4 1 1 1 1 1-5 1 0 1 2 1 2 1-2 1-1 1 3 1-5 1 1 1-1 1 4 1 0 1 4 1-5 1-1 1-1 1 1 1 0 1 2 1-3 1 3 1-2 1 3 1-1 1-1 1-1 1 4 1-2 1-1 1-1 1-1 1-1 1 2 1 1 1 1 1 0 1 5 1-3 1-2 1 1 1 1 1-6 1 2 1 4 1 2 1-7 1 3 1-1 1 0 1 4 1 0 1 0 1-2 1 1 1-1 1 0 1-1 1-2 1 1 1 0 1 2 1-4 1 4 1 3 1-1 1-2 1-1 1-1 1 3 1-3 1 0 1-1 1 2 1 0 1 1 1 0 1-3 1-1 1 1 1 1 1 0 1 2 1 3 1-2 1 1 1-2 1-2 1 0 1-1 1 0 1 2 1 1 1-1 1 3 1 0 1 1 1-5 1 2 1-1 1-6 1 6 1-1 1-3 1 0 1 8 1-1 1-4 1 0 1-2 1 5 1-2 1-3 1 1 1 4 1-2 1 3 1-3 1-2 1 0 1 4 1-4 1 0 1 3 1 0 1 0 1 2 1 0 1-4 1-1 1 0 1 4 1-3 1 0 1 2 1 0 1-2 1 3 1 0 1-1 1 3 1 3 1-3 1-2 1-1 1 1 1-2 1 0 1 1 1-1 1 3 1 0 1-1 1-3 1 2 1 2 1 0 1-6 1 5 1-4 1 2 1-1 1-1 1 1 1 2 1-1 1 0 1 0 1 2 1-5 1 2 1 1 1 0 1-2 1 4 1-2 1-2 1 3 1 1 1 2 1-6 1-1 1 4 1 1 1 0 1-5 1 0 1 3 1 0 1-2 1 0 1-1 1 4 1 1 1-3 1 0 1 5 1-6 1-2 1 3 1-1 1 3 1-3 1 1 1-2 1 1 1 0 1 4 1-3 1 0 1 1 1 1 1-4 1 2 1 2 1 2 1-4 1 1 1 0 1-1 1 2 1-3 1 1 1 1 1 1 1-4 1 2 1 3 1-2 1 2 1-2 1-3 1 1 1 2 1-2 1-1 1 1 1 2 1 1 1-4 1-1 1 4 1 0 1-1 1-4 1 5 1-2 1 2 1 1 1-4 1 2 1 1 1 2 1 1 1 0 1 0 1-6 1 7 1-5 1 1 1-1 1 3 1 1 1-3 1 1 1 0 1 0 1-1 1 1 1 0 1 1 1-2 1-4 1 3 1-1 1 2 1-2 1 3 1-1 1-2 1 4 1 1 1 0 1-1 1-3 1-1 1-1 1 1 1 3 1 0 1-2 1 1 1 1 1-3 1 3 1-2 1 2 1-3 1 0 1 2 1 0 1 2 1 0 1-3 1-2 1 3 1 2 1-2 1-2 1 3 1 1 1-2 1-2 1 3 1 4 1-2 1 0 1-1 1 1 1-2 1-1 1 7 1-6 1-4 1 2 1-3 1 2 1 0 1 2 1-1 1 1 1-1 1 1 1 2 1-2 1 1 1-3 1 4 1 3 1 4 1-4 1-2 1-1 1 0 1 0 1-2 1 2 1-6 1 4 1 0 1-2 1 1 1 0 1 2 1 1 1-6 1 5 1-1 1 1 1 0 1-3 1 1 1 1 1 3 1-2 1-5 1 3 1 3 1-3 1 3 1-3 1 2 1 0 1 0 1-3 1 0 1 1 1 4 1-4 1-1 1 0 1 0 1 3 1-1 1-3 1 4 1 1 1-2 1 2 1 0 1-3 1 2 1-1 1 3 1-1 1 0 1-3 1-1 1-1 1 2 1-2 1 5 1 1 1-6 1 3 1-2 1 3 1-2 1 0 1 2 1-3 1 3 1-3 1 2 1 3 1-6 1 0 1 5 1-1 1 1 1-1 1 1 1-1 1-4 1 3 1 1 1 0 1-1 1 0 1 2 1-3 1-1 1 5 1-5 1-3 1 5 1-4 1 0 1-2 1-3 1 8 1-2 1-2 1-5 1 1 1 0 1-1 1-3 1 5 1-2 1-2 1 0 1-1 1 1 1-3 1-1 1 7 1-5 1-1 1-1 1-8 1 5 1-9 1 3 1-3 1-7 1 7 1-8 1-6 1-4 1 11 1-10 1 12 1 6 1 10 1-1 1 8 1 4 1 5 1 0 1-1 1 4 1 1 1 3 1-4 1 0 1-2 1 0 1 0 1 2 1 0 1 1 1 1 1-1 1-1 1-1 1 0 1-2 1-2 1 0 1 3 1 1 1-3 1 3 1 1 1-3 1 0 1 3 1 2 1-4 1-1 1 0 1 1 1 0 1 3 1-2 1-3 1 5 1-5 1 0 1-1 1 2 1 1 1-1 1-2 1 5 1 1 1-3 1-2 1 0 1 2 1-4 1 3 1-4 1 1 1 6 1-2 1-2 1-2 1 2 1 1 1 2 1-5 1 6 1-3 1-1 1 0 1-1 1 4 1-2 1-1 1 0 1-3 1 3 1 3 1-3 1 0 1 3 1-7 1-1 1-1 1 1 1 0 1-3 1-7 1-3 1-9 1 0 1 4 1 6 1 0 1 6 1 7 1 2 1 0 1-3 1 4 1 1 1 1 1-4 1 2 1-4 1-3 1-6 1-6 1 0 1-2 1-10 1-6 1-4 1-17 1-26 1-25 1-9 1-21 1 2 1 13 1 37 1 11 1 11 1 15 1 6 1 4 1 4 1 8 1 6 1 2 1 0 1 9 1 6 1-1 1 9 1 0 1-3 1 0 1 1 1 0 1-1 1-2 1 3 1-2 1-6 1-3 1-6 1-3 1-8 1-10 1-4 1-8 1-6 1 4 1 8 1 10 1 6 1 6 1 9 1 7 1 0 1 4 1-3 1 2 1 2 1-1 1 4 1 2 1-1 1 0 1-1 1-3 1-7 1 4 1 2 1-4 1 6 1-6 1 5 1 1 1-2 1 0 1 4 1-2 1-3 1 1 1-1 1 3 1 0 1-1 1-5 1 4 1-1 1 2 1-5 1 2 1 1 1 5 1-1 1-2 1-1 1 3 1-4 1 4 1-1 1-1 1-2 1 0 1-1 1 2 1 0 1-2 1 1 1 6 1-5 1 2 1-4 1 0 1-2 1 2 1-3 1 0 1-3 1 0 1-2 1-4 1-7 1-12 1 6 1 7 1-4 1 7 1-2 1 4 1-5 1-4 1 3 1 2 1-5 1-1 1 1 1-2 1 1 1-1 1-1 1-1 1-3 1 2 1-1 1 1 1 7 1-1 1-10 1 5 1-5 1 7 1-2 1 8 1 3 1-2 1 5 1 0 1 3 1-1 1 3 1-3 1 4 1 3 1 2 1 4 1-5 1 0 1 1 1 3 1 2 1-2 1 6 1-1 1-1 1 2 1-4 1-2 1 3 1 1 1-1 1 3 1-3 1 0 1 3 1 1 1-7 1 3 1 1 1 0 1 2 1-2 1 2 1 0 1-5 1-7 1 7 1 3 1 4 1-6 1-1 1-1 1 0 1 4 1 0 1-6 1 2 1 3 1 1 1-3 1 1 1-2 1 0 1 0 1 1 1-2 1-3 1 4 1-1 1-6 1 0 1-3 1-8 1-3 1 1 1 5 1-2 1 4 1 5 1 2 1-3 1 2 1-5 1 2 1 5 1-1 1-10 1-6 1 1 1-5 1-5 1 3 1-14 1 3 1-9 1 0 1-24 1-15 1-13 1-14 1-3 1 12 1 27 1 21 1 12 1 17 1 6 1 6 1 2 1 3 1 0 1-11 1 6 1-5 1 1 1-3 1 3 1 3 1 5 1 1 1 5 1 4 1 2 1-2 1 2 1-1 1 4 1 0 1-1 1-1 1-1 1 3 1 1 1-5 1 3 1 2 1-4 1 3 1-2 1 4 1-5 1 4 1 1 1-1 1-2 1-2 1 4 1-2 1 2 1 3 1-2 1-1 1-5 1 5 1 0 1 0 1 1 1-3 1 2 1-2 1 1 1-3 1 1 1 0 1 3 1-1 1 2 1 1 1-3 1-1 1 5 1-3 1 1 1-3 1 2 1-4 1 2 1 0 1 1 1-1 1 0 1-2 1 5 1-3 1 1 1 0 1-1 1 2 1 0 1-4 1 4 1 1 1-1 1 1 1-5 1 5 1-1 1-2 1 1 1 5 1 3 1-7 1-1 1 0 1 3 1-4 1-2 1 1 1 2 1-1 1-2 1-10 1 5 1-2 1-3 1-4 1-1 1 0 1 6 1-3 1-2 1-1 1-5 1 1 1-1 1-6 1-5 1 9 1-4 1-5 1 1 1-9 1 4 1-7 1 7 1-8 1-7 1-10 1-10 1-3 1 6 1 13 1 8 1 15 1 13 1 10 1 1 1-1 1 5 1 1 1 0 1 3 1 7 1-6 1-1 1 2 1-2 1 1 1-1 1 3 1-1 1-1 1-2 1 4 1 1 1 2 1-4 1 1 1-2 1 0 1 1 1 5 1-4 1-2 1 3 1-1 1 1 1-2 1 1 1-2 1 1 1 0 1-1 1 3 1-2 1 3 1 0 1-4 1 1 1 1 1 3 1-2 1 2 1-1 1-1 1 4 1-3 1-3 1 1 1 3 1-4 1-1 1-2 1 4 1 0 1-2 1 1 1 1 1-4 1 4 1-6 1 2 1 5 1 4 1-2 1 0 1-3 1-1 1 0 1 1 1 4 1-6 1 0 1 0 1-3 1 6 1 2 1-1 1-3 1 2 1 0 1-1 1-2 1 1 1 0 1 1 1 0 1 0 1 2 1-3 1-3 1 2 1 3 1 1 1-5 1 0 1 6 1-1 1-3 1 2 1 5 1-6 1-2 1-3 1 4 1-3 1 2 1 0 1 0 1 5 1-3 1-7 1 4 1 3 1-4 1 0 1 1 1-1 1 2 1 1 1-4 1 5 1 3 1-1 1 0 1-6 1 3 1-4 1 5 1 0 1 1 1-1 1-2 1 2 1-1 1-1 1-2 1 6 1-1 1 2 1-1 1-1 1-1 1-5 1 8 1-2 1-1 1-1 1 0 1-3 1 5 1 2 1-1" stroke="#ff0000" stroke-width="1.4" stroke-opacity="1.0"/>
<path d="M86 991l1-1 1 1 1-4 1 2 1-2 1 5 1 0 1-4 1-2 1 5 1 1 1-2 1-3 1 2 1 4 1-7 1 4 1 1 1-4 1 3 1-5 1 2 1-2 1 4 1-3 1 3 1-1 1-2 1 6 1-3 1-1 1-2 1 4 1 0 1 0 1-4 1 4 1 2 1-3 1-1 1 1 1-1 1 1 1-3 1 2 1-2 1 1 1 4 1 2 1-5 1 4 1-5 1 2 1 2 1 0 1-3 1 2 1-3 1 0 1 3 1 0 1 1 1 1 1-4 1 2 1-1 1 0 1 0 1 0 1-1 1-1 1 0 1 5 1-2 1-3 1 2 1-2 1 3 1 2 1-1 1-3 1 3 1-2 1 1 1 0 1-1 1 1 1 3 1-4 1 2 1-1 1-3 1-3 1 2 1 2 1 4 1-3 1-2 1 2 1 2 1-2 1 0 1 4 1-1 1 1 1-2 1-1 1-1 1-2 1 3 1 0 1-4 1 2 1 3 1-2 1 5 1-5 1 2 1 1 1-1 1 0 1-3 1 1 1-1 1 2 1 1 1-3 1 0 1 2 1 0 1 2 1-2 1 1 1 3 1 0 1 0 1-2 1 0 1 1 1-2 1 0 1 2 1-2 1 0 1-4 1-1 1 4 1 4 1-2 1-3 1 2 1-3 1-1 1-1 1 1 1 4 1-1 1 2 1-6 1 3 1 1 1 0 1-1 1 1 1 1 1 2 1-3 1 0 1-1 1 0 1-2 1 2 1-3 1 1 1-3 1 2 1-2 1 3 1 3 1-4 1-1 1 7 1-5 1 1 1-1 1-1 1 2 1 0 1 2 1-1 1 0 1-1 1 2 1-1 1-1 1 2 1-2 1-4 1 3 1 3 1-2 1-1 1 5 1-5 1 2 1 1 1-1 1 1 1-3 1 2 1 2 1 3 1-6 1 1 1-1 1 3 1-1 1-1 1 0 1 1 1 0 1 5 1-3 1-4 1 0 1 1 1-3 1 4 1-2 1 3 1 0 1 0 1 2 1-5 1 4 1-2 1 1 1-3 1 5 1-1 1-1 1-2 1 2 1-1 1-1 1 1 1 3 1-3 1 2 1-2 1-1 1 1 1 0 1-1 1 0 1 1 1 1 1-1 1-3 1 4 1 3 1-1 1-2 1-4 1 4 1-1 1 1 1-1 1-1 1-1 1 1 1-2 1 1 1 0 1-3 1 5 1 2 1-5 1 1 1 2 1-1 1-1 1-1 1 1 1 4 1-1 1 0 1-1 1 3 1 0 1-1 1-3 1 3 1 0 1-2 1 0 1-2 1 2 1 0 1-2 1 2 1 2 1-4 1 3 1 1 1 3 1-2 1-3 1-2 1 2 1 2 1 1 1-1 1-3 1 1 1-2 1 2 1-1 1 1 1-1 1-3 1 7 1 0 1-4 1 0 1 3 1 0 1-1 1-4 1-1 1 2 1 3 1 1 1 0 1-4 1 2 1-1 1 1 1 0 1-2 1 3 1 1 1 1 1-4 1 1 1 5 1-6 1 3 1-1 1-1 1 3 1 1 1-2 1-2 1-2 1 1 1 0 1 2 1 0 1 2 1-3 1 3 1-1 1 0 1-7 1 3 1 0 1 2 1 2 1 2 1-3 1 0 1 1 1-3 1-1 1 1 1-3 1-1 1 5 1-3 1 2 1 2 1 2 1-1 1-6 1 2 1-1 1 3 1-1 1-3 1 2 1 2 1-2 1 0 1-1 1 6 1 0 1-3 1-4 1 7 1 2 1-5 1-1 1 0 1 0 1 4 1-4 1 1 1-1 1 2 1-1 1 2 1-2 1-3 1 6 1-2 1 1 1 1 1-5 1 3 1-3 1 1 1 0 1 0 1 1 1 1 1-3 1-4 1 1 1 2 1 7 1-4 1 0 1-1 1 2 1-3 1 0 1 3 1-2 1 1 1 4 1-2 1-1 1-3 1 3 1-1 1 1 1 0 1 1 1-1 1 0 1-5 1 2 1-1 1 2 1 1 1-1 1 1 1-6 1-4 1 1 1 1 1 5 1-5 1 3 1-2 1-1 1-4 1 2 1 4 1-4 1 4 1-2 1-2 1-1 1 1 1-1 1 1 1-2 1-10 1 2 1-3 1 5 1-1 1-2 1 6 1-6 1-1 1-6 1 4 1-8 1 5 1 8 1 2 1 9 1 4 1-2 1 5 1 0 1-4 1 1 1 1 1 1 1 1 1 3 1-4 1 5 1-4 1-3 1 3 1 1 1-3 1-1 1 4 1-3 1 1 1-2 1 4 1-3 1-1 1 2 1 0 1-1 1 0 1-1 1 1 1-1 1-3 1 3 1 4 1-4 1 1 1 1 1 2 1-4 1 1 1-1 1 2 1-1 1-3 1 5 1 1 1-1 1-1 1 0 1-4 1 1 1 4 1-1 1-1 1 1 1 2 1-2 1 0 1 1 1-3 1 3 1-1 1 0 1 2 1 2 1 0 1-2 1-1 1 5 1-2 1-1 1-4 1 3 1 0 1 0 1-1 1 2 1 0 1-3 1-1 1-5 1 4 1-1 1 3 1-2 1-3 1-9 1 0 1-6 1 1 1-5 1 1 1-5 1 4 1 5 1 7 1 6 1 4 1-2 1 4 1 2 1-1 1-1 1-4 1 1 1-3 1-7 1-6 1-5 1-2 1-7 1-6 1-4 1-15 1-14 1-18 1-22 1-23 1-18 1 18 1 21 1 14 1 22 1 21 1 15 1 2 1 7 1-2 1 10 1 7 1 0 1 2 1 2 1 10 1-2 1 4 1 3 1-2 1 5 1 0 1-4 1 0 1-1 1 1 1-9 1 2 1-4 1-5 1-4 1-2 1-9 1-8 1-2 1 2 1-3 1 17 1 5 1 6 1 0 1 2 1 2 1 6 1 0 1 0 1 1 1 5 1-4 1 3 1 3 1-3 1 1 1-1 1 2 1-5 1 0 1-1 1-1 1-2 1 8 1-4 1 2 1-3 1 2 1 3 1-1 1-7 1 2 1 1 1 0 1-2 1 0 1 5 1 4 1-7 1 2 1-4 1 2 1 4 1-1 1-2 1 3 1 1 1-1 1-4 1 4 1 1 1 1 1 2 1-6 1 2 1 1 1 0 1-7 1 0 1 5 1 2 1-6 1 0 1-1 1 4 1-1 1-2 1 0 1 0 1 0 1-10 1-7 1-2 1-1 1-2 1 2 1 4 1 0 1 5 1-4 1-3 1 3 1-2 1 1 1 2 1 0 1-1 1-2 1-3 1 0 1-4 1 4 1 0 1-4 1 1 1 0 1-1 1 11 1-5 1-5 1 1 1 9 1-5 1 5 1 0 1 1 1 5 1-10 1 5 1 6 1 2 1-1 1 1 1 0 1 8 1-1 1 2 1-6 1 3 1 0 1 2 1-3 1 2 1 1 1 4 1-3 1 0 1 2 1 4 1-6 1-2 1 2 1-3 1 1 1-1 1 3 1 0 1-1 1 3 1-1 1 0 1-2 1-1 1-3 1 3 1 4 1-4 1 0 1-1 1 3 1 0 1-3 1-1 1 5 1-1 1 5 1-3 1-1 1-2 1-2 1 0 1-2 1-1 1-1 1 4 1-3 1 4 1-3 1-5 1 4 1-6 1 2 1-5 1 0 1-7 1 7 1 8 1 0 1 0 1 0 1 4 1-5 1 3 1-4 1 2 1-1 1-7 1-3 1-3 1 0 1 3 1-6 1-6 1 1 1-8 1-2 1-9 1-7 1-14 1-3 1-1 1 16 1 10 1 14 1 10 1 4 1 3 1 7 1 2 1-5 1 2 1-10 1-4 1 0 1 0 1 0 1 6 1 2 1 6 1 6 1-6 1 4 1 2 1 4 1 1 1 1 1 0 1-2 1 3 1-2 1 0 1 1 1-3 1 0 1 2 1-5 1 4 1 0 1 1 1-1 1-1 1-1 1-1 1-1 1-1 1 4 1 3 1-3 1 1 1-1 1 3 1-4 1-2 1 0 1 5 1 2 1-3 1 3 1 2 1-4 1 3 1-4 1-3 1 0 1 5 1 0 1 3 1 1 1-2 1-7 1 0 1 3 1 3 1-1 1-1 1-1 1-1 1 5 1-4 1-3 1 0 1 3 1-3 1 1 1 6 1-3 1-7 1 6 1 0 1 1 1 1 1-3 1 3 1 4 1-2 1-2 1-1 1-1 1 6 1-1 1-5 1 0 1-2 1 4 1-3 1 3 1-6 1 3 1-2 1-5 1 5 1-5 1-5 1 6 1-5 1 1 1 0 1 1 1-4 1 1 1-7 1 0 1 1 1 1 1-5 1 6 1-1 1-6 1-3 1-2 1-6 1 2 1 1 1-4 1-1 1-6 1-11 1-3 1-12 1 1 1 11 1 10 1 15 1 6 1 6 1 4 1 7 1 2 1-3 1 9 1-1 1-6 1 6 1 1 1 5 1-3 1 0 1-1 1 1 1-1 1-2 1 0 1-1 1 4 1 0 1-2 1 3 1-1 1 0 1 0 1-5 1 1 1 3 1 0 1 0 1 3 1-1 1-2 1-1 1 4 1-3 1 2 1-3 1 2 1-3 1 2 1-1 1 0 1 2 1-3 1 4 1-3 1 4 1 0 1-5 1 1 1 1 1 0 1 3 1 1 1-5 1 0 1 2 1 1 1-1 1-3 1 0 1 1 1 1 1-1 1 0 1-1 1 0 1 3 1 1 1-2 1-4 1 3 1 0 1 2 1 2 1-2 1-1 1 0 1-1 1 1 1 1 1 2 1-1 1-3 1 4 1 5 1-4 1-6 1 6 1-2 1 0 1-2 1 0 1-2 1-1 1-2 1 4 1 0 1 0 1 3 1-2 1-2 1 3 1-1 1 2 1 1 1-5 1-1 1 1 1 0 1 0 1-1 1-2 1 2 1 1 1 1 1 5 1-2 1 4 1-3 1-1 1-1 1-2 1 0 1 2 1 3 1 0 1 1 1-5 1 3 1 0 1 0 1 2 1-3 1 2 1 0 1-5 1 3 1-2 1-1 1 2 1-2 1 0 1 1 1 1 1 2 1-1 1-3 1-2 1-3 1 6 1 4 1-4 1 0 1-1 1 0 1 0 1-6" stroke="#ff0000" stroke-width="1.4" stroke-opacity="1.0" stroke-dasharray="2 3 1 4" stroke-dashoffset="15"/>
<path d="M86 986l1 1 1 4 1 3 1-5 1 2 1 0 1-1 1 2 1-2 1 2 1-2 1 0 1 0 1-1 1 3 1-6 1 2 1 4 1 2 1-2 1-2 1 2 1-1 1-5 1 6 1-1 1 2 1-2 1 2 1 0 1-1 1-3 1 4 1-3 1-1 1 3 1-1 1-1 1 2 1 3 1 4 1-8 1 0 1 0 1 1 1 2 1-6 1 4 1-1 1-2 1-2 1 0 1 3 1 4 1-5 1 4 1-3 1 3 1-1 1-2 1 1 1-1 1 4 1-2 1 0 1-2 1 0 1 0 1-2 1 5 1 1 1-4 1 0 1 2 1 3 1-1 1-3 1 4 1 0 1-1 1 1 1-5 1 2 1-1 1 2 1-1 1-6 1 7 1 2 1-1 1-2 1 1 1-4 1 0 1 5 1 0 1 0 1-2 1-3 1 1 1 6 1-5 1 0 1 2 1 0 1 1 1-2 1 1 1 2 1 0 1-7 1 5 1 1 1-5 1 3 1 0 1 0 1 1 1 0 1-2 1-2 1-1 1 4 1-1 1 0 1 0 1 1 1-1 1 3 1-1 1 0 1 1 1-2 1-1 1 2 1-1 1 1 1-3 1 1 1 0 1 2 1 0 1 1 1-1 1-2 1 1 1-1 1-1 1 1 1-4 1 5 1 0 1-2 1 1 1-1 1-2 1 5 1-2 1 2 1 1 1-4 1 1 1 1 1 3 1-3 1 3 1-4 1 2 1-2 1-4 1 1 1 3 1 1 1-3 1 3 1-2 1 1 1 2 1-1 1 0 1 1 1 2 1 0 1 1 1-2 1 0 1-2 1 2 1-3 1 1 1 1 1 0 1-4 1 3 1 3 1-2 1 0 1-2 1 0 1 1 1 2 1-5 1 1 1-1 1 4 1 2 1 0 1-2 1-2 1-1 1 1 1 2 1 3 1 0 1 3 1-3 1-5 1 1 1 0 1-1 1 2 1-4 1 2 1 2 1-1 1-1 1 1 1 0 1 2 1-1 1 1 1-2 1 1 1 0 1-1 1 0 1 1 1 1 1 1 1-3 1 3 1 2 1-5 1-2 1 0 1 5 1-2 1-3 1 2 1 0 1-3 1 3 1-2 1 1 1 2 1-3 1 1 1 1 1 0 1 1 1 0 1-3 1 0 1 2 1 1 1-5 1 2 1 2 1 1 1-1 1 3 1-5 1 1 1-1 1 3 1-2 1 2 1 1 1-5 1 3 1 2 1 2 1-1 1 0 1-1 1 1 1 0 1-5 1 4 1 1 1-2 1-1 1-1 1 5 1-3 1 3 1 1 1-3 1-1 1 2 1 0 1-3 1-4 1 6 1-2 1 3 1 1 1 0 1-3 1-1 1 0 1-1 1 3 1-1 1 0 1-1 1-3 1 1 1 2 1-3 1 4 1 2 1-4 1-1 1 3 1-3 1 1 1 3 1-1 1-2 1 3 1 0 1-1 1 1 1-3 1 1 1 3 1-4 1 3 1-5 1-1 1 6 1-5 1-2 1 2 1 2 1 0 1 3 1-5 1 1 1 1 1 3 1-2 1-2 1 1 1-2 1 3 1 2 1-3 1-1 1 0 1-2 1 3 1 4 1-4 1 0 1-1 1 0 1-1 1 5 1-6 1 4 1 2 1-5 1 4 1 0 1-2 1 0 1 2 1 1 1-2 1-1 1 4 1 1 1 0 1-5 1-1 1 0 1 0 1-2 1 2 1-1 1 6 1 1 1-5 1 0 1 5 1-2 1-2 1-1 1-1 1 2 1-2 1 1 1 0 1 2 1 0 1 0 1-3 1 2 1-2 1 0 1 1 1 0 1-2 1 3 1-1 1-2 1 2 1 7 1-4 1-4 1 1 1 0 1 1 1-2 1 0 1 3 1-1 1 3 1-1 1-6 1 4 1 1 1 1 1-4 1-1 1 0 1 3 1-1 1 4 1-3 1 3 1-3 1-1 1 1 1-5 1 0 1 1 1 3 1 0 1 2 1-1 1-1 1-3 1-1 1-1 1 0 1-1 1 0 1 5 1-4 1-3 1 0 1-2 1-3 1 5 1-6 1 1 1 3 1-5 1 3 1-1 1 2 1 2 1-4 1-5 1 1 1 1 1 2 1-3 1-3 1 0 1 2 1 4 1-3 1-7 1 2 1-5 1 2 1 2 1-1 1 1 1 7 1 4 1 8 1 3 1 2 1 2 1 2 1 0 1 0 1-2 1 0 1 2 1-5 1 7 1-1 1-4 1-2 1-4 1 0 1 4 1 0 1 1 1-4 1 2 1 0 1 1 1-2 1 1 1 1 1 2 1 1 1-4 1-1 1 1 1 1 1 0 1 1 1-4 1 1 1 5 1-3 1 4 1-2 1-1 1 2 1-4 1 0 1 1 1 2 1-5 1 1 1 0 1 0 1 1 1 2 1-1 1 3 1-1 1-5 1 2 1 1 1 2 1-2 1 3 1-4 1 2 1 1 1-2 1-1 1-3 1 1 1 2 1 4 1 0 1 1 1 4 1-5 1-2 1 7 1-6 1-1 1-2 1-1 1-2 1-1 1-3 1 3 1 0 1-5 1 2 1-3 1 0 1-8 1-4 1 4 1 4 1 2 1 6 1-1 1 4 1 4 1 0 1 3 1 0 1 3 1-1 1-3 1 1 1-7 1 2 1-7 1-3 1-11 1-6 1 0 1-4 1-12 1-14 1-8 1-10 1-19 1-12 1 6 1 10 1 18 1 4 1 13 1 13 1 4 1 8 1 1 1 6 1 3 1 4 1 3 1 4 1 4 1 2 1 3 1 5 1 0 1 0 1-1 1 2 1-1 1-3 1-4 1-1 1-7 1 0 1-11 1 1 1-4 1-4 1-4 1-4 1-4 1 10 1 3 1 2 1 10 1 2 1 2 1 7 1-3 1 8 1-4 1 2 1 5 1 0 1 5 1-3 1-3 1 2 1 1 1-2 1-3 1-2 1 1 1 1 1 5 1-7 1-1 1 2 1-1 1 3 1-1 1 0 1-1 1 0 1-1 1 1 1-1 1 1 1 1 1-2 1 2 1 0 1 1 1-4 1-1 1 4 1 0 1-1 1 1 1-2 1-3 1 3 1-2 1 4 1 2 1 0 1 1 1-5 1-1 1 1 1-3 1 3 1 4 1-4 1 2 1-1 1-2 1-1 1-9 1 0 1-1 1 2 1-4 1 2 1-11 1-4 1 4 1-2 1 1 1 2 1 3 1 4 1-3 1-2 1 1 1 0 1 1 1-2 1-3 1 0 1 6 1-10 1 4 1 0 1-10 1 2 1-2 1 7 1 5 1 2 1-7 1-1 1 8 1 3 1 0 1-1 1-2 1 4 1 1 1 0 1 1 1 4 1-1 1 7 1-4 1-4 1 7 1-2 1 4 1 1 1 2 1-3 1 0 1-1 1 8 1-3 1 3 1 0 1-2 1 3 1-2 1-1 1 1 1-3 1-2 1 6 1-5 1 0 1 3 1 0 1 0 1-1 1 2 1 0 1-1 1 0 1-2 1-1 1 3 1 0 1-1 1 3 1-1 1-6 1 2 1-2 1 6 1-4 1 2 1 0 1-2 1 2 1-2 1 1 1 3 1 0 1-3 1 1 1-3 1-1 1-2 1-6 1 3 1-9 1 1 1-4 1 2 1 2 1 10 1 1 1-8 1 0 1 5 1-1 1 5 1-6 1-3 1 5 1 3 1-9 1-2 1 2 1-7 1-2 1-5 1-2 1-3 1-5 1-3 1-15 1-10 1-4 1-3 1 3 1 20 1 14 1 8 1 9 1 8 1 3 1 1 1 2 1-8 1-2 1 4 1-2 1-2 1-12 1 10 1 5 1-4 1 4 1 5 1-1 1 2 1 6 1 6 1 0 1-5 1-1 1-1 1-1 1 6 1 0 1-1 1 0 1-4 1 3 1 2 1-2 1-2 1 1 1-2 1 1 1 2 1-1 1-2 1-1 1-2 1 5 1 1 1 0 1 3 1-3 1 2 1 0 1-9 1 1 1 3 1-3 1 2 1 2 1 1 1 1 1-3 1 2 1 2 1 4 1-4 1-6 1 8 1-1 1 0 1 3 1-1 1-4 1-1 1 2 1 0 1 1 1-1 1 1 1-3 1 0 1 2 1 3 1-2 1-2 1 5 1-3 1 1 1 0 1-2 1-2 1 3 1 1 1-4 1-1 1-3 1 3 1 2 1-2 1 3 1-1 1 2 1 1 1-6 1-1 1 2 1-1 1-2 1 0 1-3 1 2 1-1 1-7 1 2 1-1 1-2 1 2 1 2 1-5 1 3 1-4 1-1 1-1 1 6 1-9 1-6 1 10 1-6 1-4 1-2 1 0 1-5 1-7 1 5 1-9 1 0 1-4 1-11 1-3 1 8 1 7 1 19 1 2 1 9 1 6 1 1 1-1 1 1 1 9 1-2 1 6 1-2 1-2 1-2 1 4 1-1 1 5 1-4 1 0 1-4 1 8 1 0 1-1 1-2 1 0 1 7 1-2 1 0 1-5 1 1 1 4 1-2 1-1 1-2 1-1 1 2 1-1 1 1 1-1 1-1 1-2 1 3 1 4 1-1 1 0 1-4 1 1 1 2 1-3 1 0 1 1 1-1 1 1 1-1 1 0 1 5 1-5 1 0 1 2 1-3 1 3 1 0 1-5 1 0 1 1 1 4 1-1 1 3 1-2 1-1 1-1 1 2 1 0 1 2 1-5 1-1 1-3 1 1 1 6 1-4 1 5 1 1 1-5 1 1 1-1 1 2 1 3 1-2 1 0 1 3 1-4 1 2 1 2 1 0 1-6 1 2 1-1 1 2 1-1 1 3 1 1 1-1 1-1 1 2 1 0 1-1 1-1 1 2 1-4 1-6 1 5 1 3 1-5 1-1 1 6 1 0 1-5 1 2 1 2 1-1 1 0 1-2 1 2 1-3 1 3 1 1 1-4 1 3 1 0 1 3 1 0 1 0 1 1 1-3 1-1 1 1 1-1 1 4 1-3 1-1 1 4 1-1 1 1 1-4 1-1 1 1 1 1 1 2 1-2 1-3 1 2 1-1 1-2 1 2 1-3 1 4 1-3 1 7 1 0 1-6 1 3 1-1 1-1" stroke="#ff0000" stroke-width="1.4" stroke-opacity="1.0" stroke-dasharray="2 3 1 4" stroke-dashoffset="18"/>
<path d="M86 989l1 4 1-1 1 0 1-4 1 2 1-1 1-1 1 6 1-2 1-3 1 4 1-3 1 0 1 4 1 0 1-2 1 4 1-5 1-1 1 1 1 0 1 2 1 5 1-4 1-2 1-2 1-1 1-1 1 4 1-1 1 2 1 0 1-2 1 0 1 3 1 2 1-1 1-6 1-2 1 1 1 5 1 1 1-1 1 2 1-2 1 2 1-2 1 1 1 3 1-3 1-2 1 1 1 2 1 0 1 0 1-3 1 1 1-1 1-1 1 3 1 1 1-1 1 0 1-2 1 1 1 3 1-1 1-1 1-1 1 4 1-2 1-2 1 1 1-2 1 2 1 0 1-2 1 0 1 2 1-2 1 1 1-2 1-1 1 3 1 1 1-4 1 0 1 0 1 3 1 2 1-5 1 0 1 2 1 0 1 1 1 1 1-4 1 0 1-2 1 3 1 4 1-6 1 2 1 4 1 0 1-3 1-1 1 2 1 4 1-3 1 0 1 0 1 0 1-1 1-1 1 1 1 0 1 4 1-4 1-1 1 0 1 1 1 1 1 0 1-4 1 5 1 0 1 0 1-2 1 1 1-4 1 0 1 6 1-3 1-3 1 2 1 2 1-1 1 1 1-1 1-3 1 3 1 1 1 1 1-3 1 2 1-3 1 3 1 1 1-3 1 1 1 4 1 0 1 0 1 2 1-5 1-2 1 1 1 2 1 0 1 2 1-1 1-4 1-1 1 1 1 5 1-6 1 3 1 3 1-2 1-2 1-3 1 3 1 2 1-3 1-1 1 6 1-2 1 3 1-4 1-1 1 1 1-3 1 3 1 2 1 2 1 0 1-2 1 1 1-1 1-2 1 0 1 0 1 1 1-2 1 0 1-3 1 7 1-1 1-1 1-5 1 4 1 2 1-4 1 4 1 1 1-3 1-3 1 1 1-1 1 5 1-1 1-2 1 1 1 4 1-4 1 1 1-3 1 2 1-1 1-2 1-1 1 3 1 3 1-4 1 1 1 1 1 2 1-5 1 0 1 1 1-4 1 3 1 0 1 0 1 1 1 1 1-2 1-1 1-2 1 5 1 2 1-4 1 2 1-1 1 0 1 1 1-4 1 3 1 1 1-3 1 0 1 0 1 4 1 4 1-2 1-1 1-1 1-4 1 0 1 4 1 6 1-5 1-3 1-4 1 5 1 2 1-1 1 0 1-3 1 6 1-5 1-1 1 3 1-3 1 1 1 0 1 5 1 1 1-2 1 2 1-2 1-4 1-1 1 2 1 0 1 4 1-3 1 0 1 1 1-1 1 2 1-2 1-2 1 4 1 0 1-2 1 3 1-6 1 2 1-1 1-1 1 0 1 4 1 1 1-2 1 1 1 1 1-1 1-1 1-5 1 2 1-1 1 2 1 1 1 2 1 0 1-2 1 0 1 0 1 0 1 1 1 1 1-2 1-1 1 1 1-2 1 1 1 3 1-5 1 7 1-2 1-2 1-5 1 5 1 1 1 1 1 1 1-7 1 6 1-3 1 1 1 1 1-4 1 4 1-1 1 2 1 2 1-4 1 0 1 4 1-4 1 0 1 1 1 1 1-4 1 4 1-2 1-1 1-1 1 3 1 0 1 0 1 4 1-7 1-1 1 3 1 2 1-2 1-1 1 0 1 2 1 1 1 0 1-2 1-1 1-1 1 1 1-1 1 1 1 3 1 0 1-2 1 2 1-2 1 1 1-3 1 2 1 0 1-2 1 2 1 1 1 1 1 3 1-7 1 0 1-2 1 0 1 7 1-1 1 2 1-4 1-2 1 4 1-4 1-1 1 1 1 8 1-4 1-1 1-3 1 2 1 1 1 0 1-1 1-3 1 2 1 6 1-2 1-2 1-1 1-1 1 2 1 0 1 1 1-6 1 0 1 5 1-1 1 1 1-3 1 0 1 4 1-1 1 2 1-2 1 5 1-5 1 0 1-3 1-1 1 2 1 0 1-1 1 2 1 4 1-1 1 1 1-5 1 2 1 1 1 2 1-2 1-3 1-1 1-6 1 4 1 0 1 0 1 2 1-6 1-1 1 3 1 3 1-5 1 0 1-2 1 2 1-1 1-2 1 1 1-5 1 0 1 5 1-6 1 3 1 3 1-9 1 4 1 0 1-5 1 2 1 2 1-8 1-1 1 2 1-3 1-4 1 4 1-1 1-7 1 1 1 14 1 5 1 1 1 3 1 6 1 0 1 5 1 4 1-5 1 5 1-1 1 2 1-1 1 1 1-3 1 0 1-1 1 0 1-3 1-1 1 1 1 2 1-1 1-1 1 2 1 1 1 0 1 2 1-6 1 2 1-3 1 2 1 2 1-5 1 1 1 3 1 0 1-1 1-2 1 1 1 1 1 1 1-2 1 1 1-3 1 4 1 4 1-1 1-2 1-2 1 1 1 0 1 2 1-3 1 1 1 2 1-4 1 0 1 0 1 1 1-1 1 3 1-1 1-2 1 4 1-3 1 1 1-1 1 3 1-1 1 1 1 1 1-5 1 4 1 1 1-2 1 1 1-1 1 1 1-3 1-1 1 0 1-2 1 0 1 3 1-6 1 0 1 2 1 3 1-3 1-6 1-1 1-4 1 0 1-8 1-4 1 11 1 0 1 3 1 9 1 5 1-3 1-3 1 9 1 2 1 0 1-2 1-2 1-5 1-1 1-6 1-3 1-1 1-2 1-2 1-10 1-10 1-5 1-12 1-8 1-9 1-23 1-13 1-2 1 6 1 13 1 10 1 19 1 11 1 11 1 2 1 6 1 6 1 8 1 3 1-2 1 5 1 4 1-2 1 5 1 4 1 1 1 5 1-1 1-2 1-2 1-2 1-1 1-1 1-5 1 1 1-12 1 0 1-5 1-2 1-12 1-3 1-2 1 3 1 11 1 8 1-1 1 8 1-1 1 5 1 5 1-5 1 6 1-4 1 2 1 8 1 0 1 3 1-1 1 2 1-6 1 1 1 0 1-3 1 1 1-2 1 1 1-4 1 7 1-5 1 3 1 5 1-5 1 1 1-1 1-3 1 3 1 0 1 1 1 2 1 0 1-3 1-2 1 5 1-1 1 1 1-1 1-3 1-2 1 5 1-2 1 1 1 0 1-7 1 4 1-2 1-2 1 4 1 1 1-2 1-1 1 2 1 4 1-1 1-1 1-2 1 3 1-4 1-2 1 5 1 1 1-8 1 2 1 0 1-5 1-11 1-6 1 6 1-3 1-4 1 5 1 2 1 3 1-2 1 1 1-3 1 9 1-1 1-8 1 1 1 3 1-8 1-1 1 6 1-10 1 5 1-6 1 3 1 4 1 7 1-11 1 0 1 6 1 0 1-7 1 13 1-7 1 4 1 0 1 2 1 1 1-1 1 2 1 9 1-1 1-1 1 2 1 2 1-1 1 5 1-2 1 3 1 1 1 1 1-1 1 4 1 1 1-6 1-2 1-1 1 6 1 1 1 1 1-1 1 1 1 1 1-7 1 1 1 2 1 3 1-1 1 2 1-3 1-2 1 4 1-3 1 3 1-2 1 0 1-2 1 0 1 7 1-6 1 0 1-3 1 2 1 1 1 1 1 2 1-5 1 2 1 0 1-4 1 0 1 0 1 2 1 2 1-3 1 3 1 0 1-5 1-1 1-1 1-5 1 1 1 0 1-12 1 0 1 1 1 3 1 11 1-6 1 7 1-1 1 1 1-1 1-3 1-4 1 9 1-9 1 4 1 1 1-5 1-10 1 2 1-5 1-4 1 4 1 6 1-7 1-8 1-8 1-7 1-9 1-3 1 11 1 8 1 5 1 14 1 1 1 9 1 7 1 4 1 1 1-6 1-3 1-1 1 1 1-5 1 3 1-1 1 1 1 8 1-7 1 4 1 3 1 4 1 3 1-3 1 0 1 2 1 1 1-1 1-1 1-1 1 1 1 1 1-6 1 6 1-2 1 2 1 2 1 2 1-4 1-3 1 0 1 1 1-2 1 4 1 4 1-4 1-6 1 4 1 2 1 0 1 2 1-2 1 1 1 1 1 1 1 0 1 2 1-3 1-1 1 2 1 0 1-4 1 0 1 0 1 2 1 3 1 0 1 0 1-2 1 0 1-5 1 7 1-2 1-1 1 1 1 0 1 1 1-3 1 2 1-5 1 5 1 4 1-2 1 0 1-4 1 4 1-5 1 3 1-2 1 1 1 4 1-5 1-1 1 3 1 1 1-1 1 1 1-4 1-1 1 5 1-2 1 0 1 1 1 4 1-1 1-5 1 1 1-3 1-1 1 3 1-11 1 0 1 3 1-3 1 0 1 2 1-4 1-9 1 4 1 3 1-1 1-2 1 2 1-6 1-2 1 5 1-8 1 0 1-4 1 2 1 1 1 0 1-5 1-8 1 1 1-2 1-2 1-10 1-14 1 8 1 11 1 8 1 11 1 7 1 6 1-1 1 14 1 0 1-1 1 6 1 0 1-5 1 1 1 0 1 3 1 1 1-4 1-2 1 5 1-1 1 0 1-3 1 3 1 2 1-1 1 0 1-3 1 4 1-3 1 0 1 2 1 2 1-1 1-4 1 4 1 0 1-3 1-2 1 6 1 2 1-5 1 2 1 3 1-5 1 4 1 0 1-2 1-6 1 5 1 7 1-2 1-1 1-2 1 4 1 1 1-5 1 2 1-1 1-3 1 4 1 1 1-5 1-3 1 1 1 5 1-1 1 1 1 0 1 0 1-1 1 1 1 2 1 0 1 0 1-7 1 3 1-4 1 7 1-3 1 2 1-3 1 1 1-3 1 7 1 2 1-7 1 1 1 3 1-5 1 4 1-3 1-2 1 5 1 0 1 3 1-8 1 2 1 4 1 0 1-4 1 0 1 3 1-3 1 1 1 3 1 0 1-3 1 3 1-1 1-5 1-2 1 1 1 1 1 0 1 4 1 0 1-4 1 0 1 6 1-2 1-3 1 1 1 1 1-1 1-2 1 1 1 1 1 1 1-2 1 0 1 4 1-1 1-1 1 4 1-3 1 2 1-5 1 1 1-2 1 0 1 9 1-4 1-1 1 2 1-1 1 0 1-1 1-3 1 1 1 0 1-1 1-1 1 3 1 4 1-3 1 1 1 3 1-5 1-1 1 1 1 0 1 4 1-6" stroke="#ff0000" stroke-width="1.4" stroke-opacity="1.0" stroke-dasharray="2 3 1 4" stroke-dashoffset="21"/>
<path d="M86 1246L87 1243L88 1246L89 1243L90 1244L91 1244L92 1244L93 1243L94 1244L95 1246L96 1243L97 1243L98 1245L99 1245L100 1245L101 1242L102 1246L103 1247L104 1243L105 1247L106 1247L107 1245L108 1245L109 1244L110 1245L111 1245L112 1244L113 1246L114 1246L115 1243L116 1245L117 1247L118 1245L119 1243L120 1243L121 1244L122 1244L123 1244L124 1245L125 1246L126 1246L127 1245L128 1245L129 1245L130 1246L131 1247L132 1246L133 1246L134 1246L135 1243L136 1245L137 1245L138 1245L139 1244L140 1245L141 1247L142 1244L143 1246L144 1245L145 1247L146 1245L147 1246L148 1245L149 1246L150 1246L151 1243L152 1244L153 1246L154 1241L155 1245L156 1244L157 1246L158 1245L159 1245L160 1245L161 1242L162 1244L163 1245L164 1246L165 1245L166 1247L167 1245L168 1246L169 1244L170 1242L171 1245L172 1243L173 1241L174 1243L175 1242L176 1245L177 1244L178 1243L179 1245L180 1243L181 1244L182 1245L183 1246L184 1244L185 1243L186 1245L187 1245L188 1246L189 1243L190 1244L191 1243L192 1246L193 1245L194 1243L195 1243L196 1243L197 1245L198 1245L199 1245L200 1245L201 1245L202 1244L203 1243L204 1244L205 1245L206 1245L207 1245L208 1243L209 1246L210 1244L211 1244L212 1245L213 1244L214 1248L215 1246L216 1245L217 1246L218 1242L219 1245L220 1246L221 1246L222 1245L223 1242L224 1244L225 1246L226 1247L227 1246L228 1246L229 1246L230 1246L231 1245L232 1246L233 1247L234 1246L235 1246L236 1244L237 1244L238 1242L239 1244L240 1245L241 1246L242 1246L243 1247L244 1245L245 1246L246 1244L247 1243L248 1243L249 1244L250 1244L251 1245L252 1247L253 1246L254 1245L255 1245L256 1249L257 1246L258 1248L259 1248L260 1247L261 1245L262 1247L263 1247L264 1243L265 1242L266 1247L267 1246L268 1246L269 1246L270 1245L271 1246L272 1247L273 1244L274 1248L275 1244L276 1244L277 1243L278 1244L279 1247L280 1245L281 1244L282 1242L283 1245L284 1247L285 1246L286 1246L287 1248L288 1245L289 1245L290 1248L291 1247L292 1246L293 1247L294 1247L295 1248L296 1248L297 1244L298 1245L299 1247L300 1247L301 1246L302 1247L303 1245L304 1246L305 1248L306 1245L307 1247L308 1246L309 1247L310 1247L311 1245L312 1247L313 1248L314 1247L315 1245L316 1246L317 1243L318 1245L319 1245L320 1246L321 1248L322 1246L323 1244L324 1244L325 1245L326 1247L327 1245L328 1244L329 1246L330 1247L331 1246L332 1244L333 1243L334 1248L335 1246L336 1247L337 1244L338 1245L339 1246L340 1245L341 1246L342 1245L343 1247L344 1249L345 1246L346 1246L347 1246L348 1247L349 1245L350 1246L351 1247L352 1246L353 1245L354 1247L355 1248L356 1247L357 1247L358 1249L359 1248L360 1248L361 1247L362 1246L363 1248L364 1245L365 1245L366 1242L367 1245L368 1245L369 1246L370 1246L371 1244L372 1244L373 1245L374 1245L375 1245L376 1246L377 1243L378 1245L379 1247L380 1246L381 1246L382 1248L383 1248L384 1246L385 1246L386 1247L387 1248L388 1247L389 1245L390 1247L391 1245L392 1244L393 1242L394 1245L395 1244L396 1245L397 1245L398 1244L399 1247L400 1247L401 1247L402 1244L403 1244L404 1245L405 1243L406 1245L407 1244L408 1243L409 1245L410 1244L411 1245L412 1245L413 1245L414 1246L415 1243L416 1244L417 1243L418 1243L419 1244L420 1246L421 1243L422 1243L423 1243L424 1244L425 1244L426 1245L427 1244L428 1242L429 1244L430 1246L431 1244L432 1243L433 1241L434 1243L435 1245L436 1245L437 1245L438 1246L439 1244L440 1245L441 1244L442 1244L443 1244L444 1246L445 1241L446 1242L447 1243L448 1246L449 1246L450 1246L451 1243L452 1245L453 1246L454 1243L455 1243L456 1243L457 1246L458 1245L459 1243L460 1244L461 1245L462 1245L463 1243L464 1245L465 1243L466 1244L467 1243L468 1243L469 1244L470 1244L471 1244L472 1243L473 1245L474 1243L475 1243L476 1244L477 1246L478 1244L479 1246L480 1245L481 1248L482 1243L483 1244L484 1245L485 1245L486 1243L487 1243L488 1245L489 1244L490 1243L491 1242L492 1243L493 1245L494 1244L495 1245L496 1245L497 1242L498 1243L499 1244L500 1241L501 1243L502 1243L503 1245L504 1244L505 1245L506 1245L507 1245L508 1245L509 1244L510 1244L511 1243L512 1243L513 1244L514 1244L515 1247L516 1242L517 1244L518 1244L519 1243L520 1244L521 1246L522 1243L523 1244L524 1243L525 1242L526 1247L527 1244L528 1244L529 1246L530 1244L531 1242L532 1242L533 1244L534 1245L535 1246L536 1247L537 1243L538 1246L539 1248L540 1239L541 1242L542 1243L543 1242L544 1240L545 1239L546 1240L547 1241L548 1239L549 1238L550 1236L551 1238L552 1237L553 1237L554 1235L555 1238L556 1237L557 1237L558 1235L559 1235L560 1234L561 1234L562 1234L563 1232L564 1230L565 1231L566 1230L567 1232L568 1230L569 1228L570 1228L571 1227L572 1227L573 1222L574 1219L575 1218L576 1220L577 1220L578 1222L579 1225L580 1229L581 1233L582 1234L583 1239L584 1242L585 1246L586 1247L587 1246L588 1246L589 1246L590 1248L591 1249L592 1246L593 1248L594 1247L595 1247L596 1245L597 1247L598 1246L599 1246L600 1245L601 1246L602 1244L603 1245L604 1243L605 1245L606 1244L607 1245L608 1246L609 1245L610 1244L611 1245L612 1246L613 1244L614 1245L615 1244L616 1247L617 1245L618 1246L619 1245L620 1243L621 1243L622 1244L623 1245L624 1243L625 1246L626 1245L627 1242L628 1246L629 1245L630 1244L631 1247L632 1244L633 1240L634 1247L635 1244L636 1242L637 1244L638 1243L639 1245L640 1244L641 1246L642 1244L643 1246L644 1248L645 1247L646 1245L647 1246L648 1248L649 1247L650 1248L651 1248L652 1248L653 1247L654 1247L655 1245L656 1245L657 1245L658 1245L659 1245L660 1243L661 1246L662 1242L663 1242L664 1245L665 1246L666 1244L667 1244L668 1242L669 1240L670 1238L671 1236L672 1238L673 1237L674 1235L675 1231L676 1234L677 1235L678 1237L679 1241L680 1243L681 1242L682 1245L683 1245L684 1248L685 1247L686 1246L687 1244L688 1244L689 1243L690 1242L691 1238L692 1235L693 1229L694 1226L695 1219L696 1213L697 1206L698 1193L699 1177L700 1158L701 1154L702 1155L703 1166L704 1176L705 1185L706 1197L707 1202L708 1208L709 1215L710 1221L711 1223L712 1225L713 1229L714 1231L715 1236L716 1237L717 1242L718 1245L719 1248L720 1251L721 1250L722 1249L723 1249L724 1246L725 1246L726 1242L727 1244L728 1241L729 1236L730 1238L731 1230L732 1225L733 1218L734 1214L735 1210L736 1205L737 1211L738 1215L739 1220L740 1227L741 1230L742 1234L743 1236L744 1239L745 1242L746 1242L747 1242L748 1242L749 1245L750 1245L751 1246L752 1247L753 1246L754 1247L755 1246L756 1248L757 1247L758 1244L759 1244L760 1246L761 1245L762 1245L763 1247L764 1244L765 1243L766 1244L767 1246L768 1243L769 1244L770 1243L771 1244L772 1245L773 1245L774 1244L775 1243L776 1245L777 1245L778 1244L779 1245L780 1245L781 1246L782 1244L783 1248L784 1244L785 1243L786 1243L787 1244L788 1244L789 1246L790 1246L791 1245L792 1245L793 1241L794 1247L795 1245L796 1242L797 1243L798 1244L799 1244L800 1243L801 1245L802 1242L803 1242L804 1242L805 1239L806 1240L807 1235L808 1229L809 1227L810 1228L811 1221L812 1220L813 1219L814 1224L815 1223L816 1226L817 1227L818 1226L819 1227L820 1229L821 1226L822 1224L823 1225L824 1224L825 1221L826 1221L827 1217L828 1220L829 1218L830 1221L831 1219L832 1219L833 1220L834 1222L835 1221L836 1222L837 1221L838 1224L839 1223L840 1224L841 1227L842 1228L843 1228L844 1230L845 1231L846 1232L847 1232L848 1237L849 1237L850 1239L851 1238L852 1239L853 1239L854 1240L855 1243L856 1241L857 1243L858 1243L859 1243L860 1244L861 1245L862 1242L863 1245L864 1245L865 1244L866 1245L867 1243L868 1245L869 1245L870 1245L871 1244L872 1243L873 1243L874 1242L875 1244L876 1245L877 1245L878 1247L879 1246L880 1244L881 1242L882 1244L883 1243L884 1245L885 1242L886 1243L887 1245L888 1239L889 1243L890 1242L891 1245L892 1242L893 1244L894 1241L895 1246L896 1245L897 1243L898 1243L899 1241L900 1242L901 1244L902 1244L903 1242L904 1241L905 1243L906 1240L907 1238L908 1236L909 1235L910 1234L911 1229L912 1230L913 1232L914 1233L915 1236L916 1237L917 1238L918 1240L919 1237L920 1239L921 1237L922 1239L923 1237L924 1234L925 1236L926 1234L927 1231L928 1231L929 1227L930 1223L931 1221L932 1218L933 1213L934 1208L935 1199L936 1184L937 1186L938 1179L939 1171L940 1180L941 1194L942 1204L943 1216L944 1227L945 1232L946 1235L947 1236L948 1236L949 1235L950 1231L951 1231L952 1225L953 1226L954 1225L955 1230L956 1233L957 1236L958 1235L959 1240L960 1243L961 1244L962 1244L963 1244L964 1244L965 1247L966 1248L967 1247L968 1248L969 1247L970 1244L971 1246L972 1246L973 1245L974 1245L975 1246L976 1247L977 1245L978 1244L979 1244L980 1243L981 1244L982 1243L983 1243L984 1244L985 1245L986 1243L987 1243L988 1245L989 1247L990 1247L991 1247L992 1248L993 1247L994 1248L995 1247L996 1248L997 1243L998 1247L999 1246L1000 1244L1001 1244L1002 1245L1003 1245L1004 1247L1005 1245L1006 1244L1007 1244L1008 1243L1009 1245L1010 1244L1011 1246L1012 1244L1013 1244L1014 1245L1015 1245L1016 1244L1017 1247L1018 1245L1019 1244L1020 1244L1021 1246L1022 1246L1023 1246L1024 1248L1025 1244L1026 1245L1027 1245L1028 1244L1029 1242L1030 1245L1031 1245L1032 1247L1033 1244L1034 1246L1035 1246L1036 1246L1037 1246L1038 1246L1039 1245L1040 1244L1041 1244L1042 1246L1043 1244L1044 1246L1045 1245L1046 1240L1047 1240L1048 1242L1049 1238L1050 1239L1051 1243L1052 1238L1053 1236L1054 1235L1055 1231L1056 1233L1057 1234L1058 1230L1059 1233L1060 1232L1061 1229L1062 1229L1063 1227L1064 1225L1065 1225L1066 1223L1067 1220L1068 1223L1069 1220L1070 1217L1071 1216L1072 1215L1073 1211L1074 1208L1075 1203L1076 1194L1077 1188L1078 1191L1079 1197L1080 1206L1081 1213L1082 1224L1083 1232L1084 1235L1085 1238L1086 1239L1087 1244L1088 1242L1089 1247L1090 1245L1091 1244L1092 1242L1093 1245L1094 1246L1095 1244L1096 1244L1097 1245L1098 1245L1099 1247L1100 1245L1101 1245L1102 1245L1103 1248L1104 1244L1105 1245L1106 1246L1107 1247L1108 1245L1109 1243L1110 1244L1111 1243L1112 1245L1113 1248L1114 1248L1115 1245L1116 1245L1117 1246L1118 1245L1119 1245L1120 1246L1121 1245L1122 1245L1123 1245L1124 1247L1125 1247L1126 1245L1127 1247L1128 1246L1129 1244L1130 1245L1131 1243L1132 1243L1133 1246L1134 1245L1135 1247L1136 1244L1137 1245L1138 1243L1139 1245L1140 1246L1141 1245L1142 1245L1143 1246L1144 1247L1145 1246L1146 1245L1147 1245L1148 1246L1149 1243L1150 1244L1151 1249L1152 1245L1153 1245L1154 1244L1155 1247L1156 1247L1157 1245L1158 1247L1159 1246L1160 1246L1161 1246L1162 1245L1163 1246L1164 1246L1165 1246L1166 1247L1167 1246L1168 1247L1169 1247L1170 1246L1171 1246L1172 1245L1173 1245L1174 1246L1175 1246L1176 1246L1177 1246L1178 1244L1179 1246L1180 1245L1181 1246L1182 1247L1183 1245L1184 1247L1185 1246L1186 1245L1187 1246L1188 1245L1189 1246L1190 1242L1191 1245L1192 1244L1193 1245L1194 1245L1195 1245L1196 1244L1197 1245L1198 1245L1199 1248L1200 1246L1201 1246L1202 1244L1203 1245L1204 1244L1205 1246L1206 1245L1207 1245L1208 1245L1209 1245L1210 1245L1211 1246L1212 1247L1213 1245L1214 1242L1215 1248L1216 1245L1217 1244L1218 1246L1219 1243L1220 1246L1221 1244L1222 1246L1223 1249L1224 1247L1225 1247L1226 1247L1227 1245L1228 1246L1229 1245L1230 1247L1231 1243L1232 1247L1233 1247L1234 1244L1235 1247L1236 1246L1237 1246L1238 1245L1239 1245L1240 1246L1241 1245L1241 1250L1240 1250L1239 1250L1238 1251L1237 1251L1236 1250L1235 1255L1234 1252L1233 1251L1232 1251L1231 1252L1230 1251L1229 1251L1228 1250L1227 1250L1226 1250L1225 1250L1224 1251L1223 1250L1222 1251L1221 1253L1220 1249L1219 1249L1218 1251L1217 1254L1216 1252L1215 1253L1214 1251L1213 1251L1212 1253L1211 1253L1210 1251L1209 1251L1208 1251L1207 1250L1206 1252L1205 1252L1204 1252L1203 1251L1202 1252L1201 1251L1200 1252L1199 1251L1198 1251L1197 1250L1196 1250L1195 1253L1194 1250L1193 1252L1192 1250L1191 1248L1190 1249L1189 1249L1188 1248L1187 1252L1186 1249L1185 1250L1184 1248L1183 1250L1182 1249L1181 1251L1180 1253L1179 1249L1178 1251L1177 1249L1176 1249L1175 1248L1174 1253L1173 1251L1172 1252L1171 1251L1170 1251L1169 1252L1168 1250L1167 1251L1166 1254L1165 1249L1164 1250L1163 1250L1162 1252L1161 1252L1160 1252L1159 1252L1158 1253L1157 1251L1156 1251L1155 1252L1154 1251L1153 1253L1152 1251L1151 1252L1150 1253L1149 1254L1148 1252L1147 1253L1146 1252L1145 1249L1144 1250L1143 1250L1142 1251L1141 1250L1140 1249L1139 1251L1138 1251L1137 1250L1136 1253L1135 1250L1134 1248L1133 1248L1132 1251L1131 1252L1130 1248L1129 1248L1128 1250L1127 1250L1126 1250L1125 1252L1124 1251L1123 1251L1122 1252L1121 1250L1120 1252L1119 1253L1118 1252L1117 1249L1116 1254L1115 1250L1114 1251L1113 1251L1112 1250L1111 1253L1110 1249L1109 1252L1108 1251L1107 1249L1106 1253L1105 1251L1104 1251L1103 1252L1102 1250L1101 1249L1100 1250L1099 1248L1098 1250L1097 1251L1096 1253L1095 1250L1094 1252L1093 1251L1092 1247L1091 1250L1090 1248L1089 1249L1088 1248L1087 1247L1086 1244L1085 1242L1084 1240L1083 1235L1082 1231L1081 1222L1080 1211L1079 1202L1078 1197L1077 1203L1076 1208L1075 1211L1074 1216L1073 1222L1072 1229L1071 1224L1070 1227L1069 1225L1068 1230L1067 1233L1066 1232L1065 1233L1064 1237L1063 1235L1062 1237L1061 1233L1060 1238L1059 1240L1058 1239L1057 1238L1056 1242L1055 1243L1054 1240L1053 1243L1052 1243L1051 1245L1050 1244L1049 1244L1048 1248L1047 1250L1046 1246L1045 1248L1044 1250L1043 1254L1042 1249L1041 1248L1040 1248L1039 1249L1038 1250L1037 1251L1036 1251L1035 1247L1034 1248L1033 1251L1032 1248L1031 1249L1030 1248L1029 1248L1028 1251L1027 1249L1026 1252L1025 1251L1024 1252L1023 1248L1022 1248L1021 1249L1020 1249L1019 1250L1018 1250L1017 1250L1016 1251L1015 1250L1014 1248L1013 1249L1012 1252L1011 1254L1010 1251L1009 1250L1008 1250L1007 1249L1006 1248L1005 1252L1004 1250L1003 1249L1002 1249L1001 1251L1000 1251L999 1249L998 1250L997 1252L996 1253L995 1251L994 1253L993 1253L992 1253L991 1251L990 1250L989 1251L988 1250L987 1249L986 1250L985 1250L984 1253L983 1250L982 1251L981 1249L980 1251L979 1251L978 1250L977 1249L976 1254L975 1251L974 1248L973 1248L972 1250L971 1252L970 1250L969 1252L968 1253L967 1251L966 1252L965 1250L964 1250L963 1249L962 1250L961 1249L960 1245L959 1244L958 1243L957 1241L956 1237L955 1235L954 1230L953 1229L952 1232L951 1237L950 1240L949 1242L948 1240L947 1241L946 1237L945 1236L944 1229L943 1220L942 1218L941 1209L940 1200L939 1192L938 1188L937 1192L936 1200L935 1214L934 1217L933 1221L932 1224L931 1228L930 1228L929 1232L928 1232L927 1237L926 1240L925 1242L924 1242L923 1243L922 1243L921 1243L920 1244L919 1241L918 1244L917 1245L916 1242L915 1240L914 1236L913 1236L912 1236L911 1236L910 1238L909 1238L908 1243L907 1246L906 1246L905 1245L904 1247L903 1243L902 1248L901 1248L900 1248L899 1249L898 1246L897 1248L896 1250L895 1248L894 1247L893 1251L892 1249L891 1250L890 1249L889 1249L888 1248L887 1250L886 1248L885 1247L884 1247L883 1246L882 1248L881 1247L880 1251L879 1251L878 1252L877 1250L876 1251L875 1249L874 1250L873 1251L872 1251L871 1251L870 1252L869 1249L868 1248L867 1251L866 1250L865 1250L864 1248L863 1249L862 1248L861 1248L860 1248L859 1247L858 1248L857 1248L856 1248L855 1244L854 1247L853 1245L852 1243L851 1242L850 1241L849 1242L848 1241L847 1239L846 1237L845 1236L844 1232L843 1233L842 1229L841 1228L840 1232L839 1228L838 1226L837 1224L836 1223L835 1224L834 1223L833 1224L832 1223L831 1222L830 1225L829 1221L828 1222L827 1224L826 1228L825 1228L824 1227L823 1230L822 1229L821 1230L820 1232L819 1230L818 1232L817 1230L816 1230L815 1226L814 1227L813 1225L812 1224L811 1229L810 1229L809 1238L808 1239L807 1241L806 1243L805 1245L804 1247L803 1248L802 1252L801 1250L800 1249L799 1250L798 1249L797 1249L796 1251L795 1247L794 1252L793 1251L792 1249L791 1252L790 1248L789 1249L788 1250L787 1252L786 1251L785 1251L784 1254L783 1250L782 1251L781 1250L780 1252L779 1251L778 1250L777 1250L776 1249L775 1251L774 1248L773 1249L772 1249L771 1251L770 1249L769 1251L768 1252L767 1248L766 1250L765 1248L764 1249L763 1250L762 1253L761 1253L760 1249L759 1251L758 1253L757 1252L756 1252L755 1254L754 1252L753 1253L752 1252L751 1252L750 1254L749 1250L748 1250L747 1250L746 1245L745 1247L744 1243L743 1240L742 1237L741 1235L740 1230L739 1222L738 1219L737 1219L736 1217L735 1218L734 1223L733 1229L732 1232L731 1236L730 1239L729 1242L728 1250L727 1246L726 1250L725 1251L724 1252L723 1254L722 1253L721 1255L720 1252L719 1250L718 1248L717 1245L716 1245L715 1242L714 1238L713 1231L712 1230L711 1227L710 1226L709 1220L708 1212L707 1209L706 1199L705 1191L704 1178L703 1170L702 1166L701 1176L700 1178L699 1192L698 1209L697 1218L696 1220L695 1224L694 1229L693 1234L692 1240L691 1244L690 1247L689 1248L688 1247L687 1249L686 1251L685 1251L684 1252L683 1252L682 1252L681 1248L680 1252L679 1247L678 1242L677 1239L676 1243L675 1243L674 1244L673 1243L672 1243L671 1242L670 1245L669 1246L668 1246L667 1250L666 1249L665 1251L664 1253L663 1250L662 1249L661 1249L660 1249L659 1252L658 1251L657 1251L656 1249L655 1251L654 1253L653 1253L652 1253L651 1253L650 1251L649 1252L648 1251L647 1252L646 1249L645 1251L644 1251L643 1251L642 1252L641 1250L640 1254L639 1253L638 1254L637 1249L636 1248L635 1251L634 1252L633 1247L632 1251L631 1249L630 1249L629 1251L628 1249L627 1251L626 1251L625 1248L624 1249L623 1251L622 1252L621 1254L620 1252L619 1250L618 1248L617 1251L616 1251L615 1252L614 1250L613 1250L612 1252L611 1250L610 1253L609 1249L608 1253L607 1251L606 1249L605 1250L604 1249L603 1251L602 1248L601 1249L600 1249L599 1252L598 1250L597 1249L596 1251L595 1250L594 1252L593 1254L592 1253L591 1252L590 1253L589 1250L588 1251L587 1254L586 1254L585 1248L584 1246L583 1243L582 1238L581 1238L580 1234L579 1228L578 1228L577 1226L576 1227L575 1230L574 1228L573 1232L572 1233L571 1237L570 1235L569 1235L568 1234L567 1237L566 1238L565 1237L564 1239L563 1238L562 1243L561 1242L560 1240L559 1242L558 1243L557 1242L556 1241L555 1242L554 1243L553 1244L552 1243L551 1247L550 1241L549 1245L548 1246L547 1246L546 1246L545 1249L544 1250L543 1247L542 1247L541 1249L540 1249L539 1251L538 1250L537 1250L536 1253L535 1249L534 1251L533 1253L532 1251L531 1250L530 1248L529 1248L528 1252L527 1249L526 1249L525 1251L524 1248L523 1248L522 1248L521 1250L520 1254L519 1249L518 1249L517 1248L516 1248L515 1251L514 1251L513 1250L512 1249L511 1248L510 1248L509 1249L508 1249L507 1251L506 1249L505 1250L504 1251L503 1249L502 1250L501 1247L500 1250L499 1253L498 1252L497 1249L496 1248L495 1251L494 1249L493 1254L492 1250L491 1250L490 1249L489 1249L488 1249L487 1248L486 1247L485 1248L484 1247L483 1248L482 1249L481 1251L480 1248L479 1247L478 1252L477 1249L476 1249L475 1251L474 1250L473 1251L472 1247L471 1248L470 1247L469 1247L468 1248L467 1246L466 1247L465 1247L464 1248L463 1249L462 1248L461 1248L460 1248L459 1247L458 1249L457 1249L456 1247L455 1248L454 1250L453 1248L452 1248L451 1249L450 1249L449 1247L448 1251L447 1248L446 1248L445 1251L444 1251L443 1247L442 1249L441 1247L440 1248L439 1250L438 1249L437 1250L436 1249L435 1250L434 1251L433 1250L432 1248L431 1248L430 1250L429 1249L428 1248L427 1249L426 1250L425 1250L424 1252L423 1250L422 1248L421 1250L420 1250L419 1251L418 1250L417 1251L416 1250L415 1251L414 1251L413 1248L412 1248L411 1248L410 1247L409 1252L408 1251L407 1250L406 1249L405 1249L404 1250L403 1250L402 1254L401 1253L400 1251L399 1248L398 1251L397 1250L396 1249L395 1251L394 1250L393 1248L392 1250L391 1251L390 1249L389 1251L388 1250L387 1250L386 1251L385 1251L384 1250L383 1250L382 1249L381 1251L380 1249L379 1249L378 1249L377 1250L376 1251L375 1249L374 1251L373 1250L372 1249L371 1249L370 1250L369 1251L368 1251L367 1250L366 1253L365 1248L364 1251L363 1251L362 1250L361 1254L360 1251L359 1251L358 1252L357 1250L356 1249L355 1251L354 1251L353 1250L352 1249L351 1251L350 1251L349 1251L348 1250L347 1251L346 1253L345 1254L344 1252L343 1252L342 1253L341 1250L340 1249L339 1251L338 1251L337 1252L336 1250L335 1251L334 1249L333 1249L332 1248L331 1248L330 1249L329 1251L328 1252L327 1253L326 1251L325 1250L324 1249L323 1252L322 1253L321 1252L320 1251L319 1250L318 1250L317 1248L316 1251L315 1253L314 1253L313 1252L312 1252L311 1251L310 1253L309 1253L308 1253L307 1254L306 1251L305 1251L304 1253L303 1249L302 1250L301 1250L300 1252L299 1253L298 1251L297 1250L296 1252L295 1251L294 1249L293 1253L292 1252L291 1249L290 1250L289 1253L288 1254L287 1253L286 1251L285 1253L284 1250L283 1250L282 1249L281 1251L280 1252L279 1251L278 1252L277 1251L276 1252L275 1250L274 1249L273 1251L272 1250L271 1253L270 1251L269 1252L268 1250L267 1251L266 1248L265 1250L264 1248L263 1252L262 1251L261 1249L260 1251L259 1250L258 1252L257 1253L256 1250L255 1250L254 1250L253 1253L252 1250L251 1250L250 1251L249 1248L248 1250L247 1253L246 1251L245 1251L244 1251L243 1251L242 1251L241 1250L240 1251L239 1254L238 1253L237 1249L236 1249L235 1248L234 1250L233 1250L232 1251L231 1252L230 1252L229 1249L228 1253L227 1250L226 1248L225 1249L224 1252L223 1250L222 1252L221 1253L220 1250L219 1247L218 1253L217 1249L216 1250L215 1252L214 1250L213 1251L212 1249L211 1249L210 1247L209 1250L208 1250L207 1251L206 1250L205 1248L204 1249L203 1251L202 1251L201 1247L200 1248L199 1249L198 1248L197 1250L196 1250L195 1249L194 1251L193 1250L192 1250L191 1253L190 1250L189 1249L188 1250L187 1249L186 1251L185 1255L184 1252L183 1249L182 1250L181 1249L180 1251L179 1250L178 1250L177 1249L176 1252L175 1249L174 1249L173 1249L172 1249L171 1249L170 1249L169 1250L168 1252L167 1250L166 1251L165 1252L164 1251L163 1249L162 1250L161 1248L160 1247L159 1250L158 1250L157 1248L156 1248L155 1251L154 1250L153 1250L152 1250L151 1250L150 1250L149 1252L148 1252L147 1252L146 1252L145 1251L144 1250L143 1251L142 1248L141 1250L140 1251L139 1249L138 1250L137 1250L136 1248L135 1250L134 1251L133 1250L132 1253L131 1251L130 1249L129 1252L128 1250L127 1250L126 1248L125 1253L124 1251L123 1249L122 1249L121 1250L120 1253L119 1252L118 1250L117 1253L116 1249L115 1249L114 1247L113 1249L112 1247L111 1252L110 1252L109 1252L108 1251L107 1251L106 1248L105 1251L104 1251L103 1250L102 1252L101 1251L100 1250L99 1251L98 1251L97 1249L96 1248L95 1250L94 1249L93 1249L92 1253L91 1249L90 1250L89 1249L88 1251L87 1250L86 1250Z" fill="#f6860a" fill-opacity="0.75" stroke="none"/>
<path d="M86 1240l1 0 1 1 1-3 1 4 1 0 1 0 1 1 1-1 1-1 1-2 1-2 1 1 1 4 1 0 1-2 1 1 1 3 1-2 1 3 1-2 1-4 1 0 1 0 1 2 1 1 1-1 1 0 1-1 1 1 1-1 1 1 1 2 1 0 1-1 1 1 1-4 1 4 1 2 1-3 1-3 1 5 1-1 1-3 1 5 1-1 1-1 1 3 1-5 1-4 1 4 1 4 1-2 1-1 1 1 1-5 1 4 1-1 1 2 1 1 1-4 1 1 1 2 1-3 1 0 1-2 1 1 1 1 1 0 1 0 1 2 1 1 1-5 1 2 1 0 1-1 1 0 1-1 1 3 1 1 1 1 1-5 1 0 1-1 1-1 1 6 1 0 1-2 1 1 1 0 1 1 1-1 1-1 1 1 1 0 1 1 1-2 1 0 1 5 1-4 1 3 1-1 1-1 1-2 1 1 1 2 1-1 1 3 1-2 1-3 1 2 1 1 1-4 1 4 1 0 1-4 1 6 1-2 1 1 1-8 1 3 1 5 1-1 1 0 1 0 1 0 1-3 1 4 1-5 1 3 1 0 1-3 1 2 1-2 1 6 1-4 1 2 1-3 1 0 1 3 1-1 1-1 1 4 1-5 1 2 1 1 1-1 1-3 1 2 1 4 1-3 1-3 1 3 1-1 1 0 1 2 1-4 1 1 1 3 1-2 1-2 1 3 1 0 1 2 1 0 1-1 1 1 1-3 1 0 1 0 1 0 1 1 1 1 1-3 1 3 1-2 1 0 1-2 1 2 1 1 1 1 1 1 1-3 1 0 1-3 1 0 1 1 1 4 1 0 1-4 1 2 1-1 1 3 1-2 1-1 1-3 1 3 1 2 1-1 1-2 1 0 1 3 1 0 1 0 1 0 1 0 1 3 1-2 1 1 1-2 1 1 1 0 1-4 1 6 1-4 1 2 1-4 1-2 1 4 1 1 1 0 1 0 1-1 1 3 1-1 1-1 1 1 1-5 1 1 1 1 1 3 1-2 1-1 1 0 1 3 1 0 1-1 1-1 1 0 1 4 1-3 1-2 1-2 1 1 1 0 1 1 1 4 1-2 1-1 1 0 1 5 1-2 1-1 1 1 1-2 1-1 1-1 1 4 1-4 1 3 1-1 1 0 1 0 1-1 1 2 1-2 1 1 1 2 1-1 1-4 1 3 1-1 1 3 1-4 1 2 1 0 1 1 1 0 1 0 1-1 1-2 1-2 1-1 1 1 1 2 1 3 1-3 1 1 1-3 1 1 1 1 1 1 1-2 1 1 1 1 1 2 1-1 1 0 1 0 1-1 1-2 1 2 1 1 1-1 1 0 1-3 1 2 1 1 1 1 1-4 1-2 1 6 1-3 1 0 1 3 1 4 1-7 1 1 1 1 1 2 1-1 1 0 1-2 1 1 1 1 1-3 1 2 1-2 1 0 1 4 1 1 1-2 1 1 1-2 1-2 1-2 1 2 1-3 1 4 1-2 1-1 1 2 1-1 1 5 1-3 1-4 1 2 1 2 1 0 1 1 1-2 1 1 1 0 1-2 1 2 1 4 1-3 1-1 1-4 1 3 1-1 1 2 1-2 1 0 1 3 1 0 1-2 1 2 1-2 1 0 1-3 1 3 1-1 1-1 1 2 1 2 1-1 1 1 1-2 1 1 1 0 1-5 1 3 1 0 1 0 1 0 1 2 1 0 1 3 1-4 1 5 1-2 1 1 1-3 1 1 1-1 1 0 1-2 1 7 1-2 1-1 1-4 1 1 1 2 1 2 1-1 1 0 1-5 1 2 1 0 1 0 1 1 1 2 1 0 1-3 1-2 1 1 1-1 1-2 1-2 1 7 1 3 1-6 1 0 1-1 1 0 1 4 1-1 1 2 1 0 1 0 1 3 1-7 1 0 1 2 1-1 1 0 1-1 1 1 1 1 1-1 1-3 1 3 1-1 1 3 1 1 1 0 1 1 1 3 1-4 1-3 1 1 1 3 1-3 1-1 1 0 1-2 1 2 1 2 1-5 1 1 1-2 1-3 1 1 1 4 1-2 1-3 1 6 1-7 1 2 1 2 1-2 1-5 1 4 1 0 1 0 1 1 1-2 1-2 1 2 1 0 1 2 1-2 1-3 1-4 1 0 1 3 1-8 1 0 1-3 1 1 1 0 1 3 1 6 1 5 1 4 1 0 1 5 1 2 1-2 1 2 1 0 1 2 1-1 1 1 1 0 1-3 1-3 1 1 1 1 1 1 1 0 1-2 1 3 1 0 1 2 1-1 1 1 1-4 1-1 1-3 1 5 1-1 1-2 1 3 1 0 1 3 1-1 1 1 1-3 1-1 1 0 1-2 1 0 1 4 1 1 1-4 1 1 1 2 1 0 1 2 1-4 1-1 1 5 1-3 1 1 1 1 1-2 1 3 1 0 1-2 1-3 1 1 1 0 1 2 1-1 1 0 1 0 1-1 1-1 1 3 1 1 1-1 1-2 1 2 1 0 1 0 1 1 1-3 1 2 1 0 1 0 1-3 1-1 1 1 1 2 1-3 1 1 1 1 1-5 1 5 1 0 1 3 1-9 1-1 1 1 1-1 1-3 1 2 1-3 1 2 1 2 1 4 1-1 1 2 1 5 1 3 1-1 1 0 1 2 1-6 1-1 1-1 1-7 1-3 1 2 1-11 1 0 1-1 1-8 1-9 1-14 1-19 1-5 1-16 1 4 1 8 1 11 1 8 1 14 1 5 1 7 1 8 1 7 1 2 1-2 1 4 1 6 1-1 1 4 1 2 1 11 1 0 1 2 1 1 1-4 1 2 1-2 1-1 1 1 1-3 1-5 1-2 1-4 1-8 1-3 1-4 1-8 1-7 1 3 1 0 1 8 1 4 1 7 1 4 1 2 1 6 1 3 1-3 1 3 1 1 1-1 1 2 1 3 1 0 1 3 1 0 1-3 1 1 1 1 1-3 1-1 1 5 1-6 1 0 1 3 1 5 1-4 1-4 1 0 1 5 1-1 1-3 1 1 1 2 1-1 1-2 1 5 1-3 1 1 1 1 1-3 1 2 1 1 1 1 1 1 1-2 1-3 1-1 1-1 1 3 1 3 1-2 1-1 1-1 1-1 1 3 1-2 1 0 1 2 1-3 1-3 1-2 1 3 1 1 1-3 1 0 1 5 1-6 1-5 1 1 1 0 1-3 1-11 1-2 1 6 1-3 1 0 1 3 1-1 1-1 1 6 1 0 1 2 1 2 1-6 1-2 1-2 1 5 1-6 1-6 1 5 1 2 1 2 1 0 1 0 1-2 1-5 1-3 1 7 1 0 1 6 1-5 1 2 1 1 1 3 1 3 1 0 1 4 1-7 1 6 1 2 1-4 1 2 1 3 1 4 1 0 1 1 1-1 1 0 1 0 1 0 1 3 1 2 1 1 1-4 1 2 1-2 1 2 1-1 1 4 1-3 1-2 1 4 1 1 1-1 1-3 1-2 1 1 1 0 1-2 1 5 1-1 1-3 1 2 1-2 1 4 1-3 1 0 1 2 1 0 1 2 1-5 1 0 1-1 1 1 1 1 1 4 1-4 1-4 1 3 1-1 1-1 1 0 1 3 1 0 1 0 1-2 1-2 1-1 1 2 1-1 1-5 1 0 1-2 1 0 1 0 1-2 1 4 1 2 1 0 1 0 1 3 1-1 1-5 1 3 1 0 1 1 1-8 1 1 1-2 1-3 1 2 1-3 1-3 1 3 1-6 1-7 1-4 1-9 1-10 1 1 1 2 1 7 1 5 1 15 1 4 1 1 1 12 1 1 1-5 1 4 1 2 1-5 1 2 1-7 1-3 1 3 1-2 1 8 1 3 1 2 1-1 1-1 1 4 1 3 1 3 1-2 1 1 1 1 1 1 1 0 1-2 1-3 1-1 1 1 1 0 1 2 1 0 1-2 1 0 1 0 1 3 1 0 1-3 1 2 1 0 1 1 1 0 1 1 1-1 1 0 1-2 1-1 1 3 1 1 1-2 1-1 1 0 1 2 1 1 1-3 1-2 1 5 1 1 1-2 1-1 1-3 1 3 1 0 1 2 1-2 1 0 1-3 1 3 1 5 1-3 1-2 1-4 1 1 1-1 1 3 1 3 1-6 1 0 1 1 1 2 1 0 1 1 1 1 1 1 1 1 1 0 1-3 1 1 1-2 1-1 1 0 1-1 1 1 1 1 1 2 1-4 1 1 1 4 1-3 1-3 1 1 1 0 1 3 1-1 1-3 1-2 1 1 1-6 1-3 1 4 1-1 1-3 1-1 1 4 1-5 1 3 1-1 1 5 1-6 1 0 1-1 1-4 1 0 1-2 1 1 1-2 1 2 1-10 1-2 1 1 1-5 1-1 1-9 1-8 1 1 1 7 1 8 1 11 1 9 1 9 1-3 1 5 1 1 1-1 1-3 1 5 1 0 1-1 1 3 1 1 1 1 1-1 1 1 1 1 1-5 1-1 1 5 1 3 1-1 1-2 1-1 1-3 1 7 1-1 1-3 1 1 1 3 1-1 1-2 1 3 1-2 1 0 1 1 1 0 1 1 1-2 1 0 1 1 1-1 1 0 1 2 1 0 1 1 1-2 1 3 1-1 1-3 1-2 1 1 1-2 1 3 1 3 1-1 1-5 1 1 1 2 1-1 1 2 1 1 1-1 1 0 1-2 1 1 1-1 1 3 1-3 1 2 1 2 1-2 1-3 1 1 1 0 1 0 1 1 1 1 1-1 1 0 1 2 1-3 1 5 1 0 1 0 1 1 1-6 1 2 1-1 1 1 1 0 1 2 1 2 1-3 1-2 1 0 1 1 1 1 1 0 1 0 1 1 1-2 1-1 1 4 1-4 1-2 1 4 1 1 1-2 1 1 1-1 1-1 1-1 1-2 1 1 1 3 1 2 1-1 1-2 1 0 1-2 1 1 1 2 1 0 1-3 1 3 1 4 1-2 1 0 1-1 1-2 1 2 1-1 1 2 1-2 1 1 1 3 1-2 1 3 1-3 1-3 1 1 1 2 1 3 1-1 1-1 1-2 1-1 1 5 1-4 1-3 1 1 1 3 1 0 1-1 1 1 1-1 1 1 1-3 1 0 1-2 1-2" stroke="#f6860a" stroke-width="1.4" stroke-opacity="1.0" stroke-dasharray="3 3 1 3" stroke-dashoffset="0"/>
<path d="M86 1240l1 2 1 4 1-4 1 2 1 0 1-3 1 0 1 1 1-2 1 3 1 0 1 2 1-1 1 2 1-7 1 1 1 0 1 0 1 7 1-3 1 1 1 0 1-3 1 3 1-2 1 0 1 0 1 3 1-2 1 2 1 2 1-3 1-3 1 1 1-1 1 2 1 0 1-2 1 2 1-2 1-1 1 1 1-1 1 4 1 2 1-5 1-4 1 3 1 2 1 1 1-1 1 3 1-3 1 4 1-5 1 0 1 4 1-4 1 0 1 1 1 3 1-4 1 4 1-7 1 0 1 2 1 5 1-5 1 4 1-3 1 0 1-1 1 4 1 0 1-4 1-2 1 3 1-2 1 3 1 4 1-2 1-1 1 0 1-2 1-1 1-2 1 1 1 2 1-2 1-1 1 3 1-1 1 0 1-1 1 0 1-1 1 5 1-3 1 2 1 2 1-3 1 1 1 0 1 0 1-2 1-1 1 0 1 0 1-1 1 6 1 0 1-6 1 6 1-2 1 0 1-1 1 1 1-1 1-1 1 4 1-2 1-2 1 0 1 1 1 0 1 3 1-4 1 2 1 2 1 0 1-1 1-2 1 1 1 1 1 0 1 3 1-6 1 3 1-1 1 4 1 0 1 2 1-2 1-1 1-1 1 0 1-5 1 5 1 1 1-5 1 2 1-1 1 0 1-1 1 3 1 2 1 1 1-3 1 0 1-1 1 0 1 0 1 1 1-2 1 2 1 3 1-1 1-1 1-1 1 5 1-5 1 1 1-1 1 0 1-1 1 0 1 0 1-1 1-1 1 5 1-4 1-3 1 4 1 3 1-4 1 2 1-3 1 2 1-1 1 0 1 0 1 0 1 0 1 2 1-3 1 1 1-1 1 2 1 3 1-4 1 4 1-4 1-1 1-1 1 5 1-1 1 1 1-3 1-1 1 0 1 2 1-1 1-3 1 8 1-2 1 1 1-1 1 1 1-2 1 0 1-1 1 2 1 1 1-2 1 1 1 2 1 0 1-2 1 0 1-2 1-3 1 4 1 0 1 2 1 2 1-4 1-1 1 1 1-2 1 5 1-2 1-1 1-1 1 0 1 3 1 0 1-3 1 1 1 0 1 1 1-3 1 0 1-3 1 4 1 3 1-6 1 2 1 0 1 0 1 4 1 0 1-3 1-3 1 0 1 2 1-3 1 3 1 3 1-3 1 0 1 1 1 4 1-3 1-3 1 3 1 2 1 0 1-1 1-2 1-2 1 3 1-2 1 0 1 2 1 0 1 0 1 2 1-1 1 2 1-1 1-3 1 1 1 3 1-1 1 0 1 2 1 2 1-5 1 1 1-3 1 1 1 3 1-5 1 0 1 3 1-1 1-3 1 4 1-3 1 0 1 0 1 2 1-2 1 5 1 0 1-3 1-2 1-1 1 0 1 1 1 0 1 1 1 1 1 0 1 1 1-2 1-1 1-1 1 1 1-1 1-3 1 3 1 0 1-1 1 3 1-2 1 0 1 0 1-1 1 2 1 0 1 0 1-1 1 0 1 0 1 2 1-3 1 6 1-2 1-1 1-1 1 5 1-5 1 1 1-1 1 2 1-4 1 2 1-1 1 1 1 3 1-3 1 0 1 3 1-3 1 1 1 0 1-2 1 0 1 2 1 6 1-4 1-2 1 1 1 2 1 0 1-2 1-2 1 0 1 0 1 1 1 0 1 2 1 0 1 0 1-6 1 6 1-2 1 1 1-1 1-3 1 3 1 3 1-1 1-1 1-1 1 1 1 1 1 1 1-3 1 0 1-1 1 2 1-1 1-1 1 1 1 1 1 0 1-5 1-1 1 1 1 4 1-1 1-1 1 2 1 0 1 2 1-4 1 1 1-2 1 2 1-1 1 3 1 0 1-1 1-1 1-3 1 4 1 4 1-5 1-3 1 2 1 2 1-5 1 2 1 0 1-1 1 4 1-6 1 3 1 2 1-3 1 1 1 3 1-1 1 0 1-3 1 2 1-1 1-1 1 1 1-2 1 1 1-1 1 3 1-3 1-1 1 3 1-5 1 5 1 1 1-3 1 0 1-5 1 0 1 4 1-2 1 1 1 2 1-1 1-4 1-3 1 0 1 4 1-3 1 5 1-6 1-5 1 4 1-4 1 3 1 2 1-3 1-3 1 2 1 1 1-6 1-2 1-1 1-3 1 5 1 2 1 2 1 5 1 4 1 5 1 3 1 2 1 3 1 1 1-3 1 1 1-1 1 2 1 3 1-5 1 0 1 1 1 1 1-3 1-1 1 2 1 0 1-4 1-1 1 0 1 3 1 1 1-3 1-1 1 2 1 1 1 0 1 3 1-1 1-1 1-3 1 5 1-1 1 2 1-1 1 2 1-2 1-2 1-3 1 4 1 1 1-2 1-1 1-1 1-1 1 6 1-3 1 1 1 4 1-4 1-4 1 1 1-2 1 0 1 5 1-1 1 2 1-2 1-2 1-1 1 0 1 4 1 3 1-5 1-3 1 2 1 2 1-1 1 0 1 0 1 1 1-1 1 3 1 0 1-2 1 1 1-2 1-1 1 0 1 0 1 4 1 1 1 0 1-4 1-6 1 4 1 0 1-7 1 2 1-5 1-2 1 1 1 2 1-1 1 5 1 2 1 4 1 2 1-1 1 2 1 0 1 2 1 2 1-2 1-8 1 4 1-4 1-5 1 0 1-6 1-5 1-4 1-6 1-11 1-15 1-8 1-19 1-16 1-3 1 12 1 14 1 12 1 14 1 6 1 10 1-3 1 9 1 8 1 2 1 1 1 6 1 7 1-2 1 0 1 6 1 0 1 7 1 1 1 0 1-3 1-3 1-3 1 1 1-6 1-1 1 4 1-6 1-3 1-4 1-4 1-4 1-4 1-4 1 1 1 2 1 9 1 5 1-3 1 5 1 9 1-2 1 4 1 1 1 0 1 1 1 0 1 3 1 0 1 0 1 2 1-2 1-3 1 0 1 5 1-3 1-1 1-2 1-1 1 5 1-6 1 9 1-2 1-3 1-4 1 3 1-1 1 1 1-3 1 2 1 0 1 1 1 2 1-1 1-3 1 2 1 2 1-2 1 0 1 1 1-1 1-1 1 3 1-1 1 0 1 0 1-4 1 3 1-3 1 9 1-3 1-5 1 2 1 2 1-3 1 2 1 2 1-5 1 3 1 2 1-3 1-2 1-3 1 1 1-5 1 1 1-5 1-5 1-4 1-1 1 1 1-3 1 5 1-1 1-1 1 7 1-1 1 4 1-1 1 1 1-5 1-3 1-4 1 10 1-7 1-4 1-4 1 3 1 0 1-3 1 0 1 6 1 3 1-3 1-3 1 5 1 3 1 1 1-1 1 3 1 2 1-2 1 3 1 1 1-2 1-3 1 6 1 3 1 4 1 3 1-7 1 2 1 6 1-2 1-1 1 4 1-2 1-1 1 2 1 2 1-5 1 2 1 0 1 0 1 1 1-1 1 2 1 1 1-3 1 0 1-1 1-1 1-1 1 3 1 1 1-2 1 3 1-3 1 3 1-6 1 3 1 2 1-5 1 3 1 2 1-1 1-3 1 4 1-1 1-2 1 1 1 1 1-1 1 3 1-2 1-1 1-3 1 7 1-3 1-2 1 1 1-2 1 2 1 2 1-4 1-3 1-2 1 1 1-2 1 1 1-2 1 2 1 2 1 5 1-4 1 0 1 3 1-3 1 0 1 2 1 0 1-2 1-3 1 0 1-7 1 4 1-3 1-1 1-4 1-2 1-6 1-2 1-2 1-17 1-12 1 7 1-2 1 12 1 2 1 21 1-4 1 4 1 7 1 8 1 0 1 2 1 1 1-5 1-5 1 1 1-6 1 1 1-1 1 9 1 0 1 3 1 4 1 2 1-2 1 2 1 0 1-2 1 3 1 4 1 1 1-2 1 1 1-5 1 0 1 1 1 2 1-5 1 0 1 5 1 1 1-1 1-2 1 0 1-1 1-2 1-1 1 3 1 1 1 1 1-3 1 0 1 4 1-5 1-3 1 3 1 2 1 2 1-1 1 0 1-2 1 1 1-1 1-2 1 2 1 2 1-1 1 1 1 1 1-1 1 0 1-3 1-3 1 1 1 0 1 4 1 1 1-1 1 2 1-2 1 1 1-4 1 4 1 1 1-1 1 2 1-2 1 1 1-2 1 1 1 1 1-2 1 0 1-3 1 3 1 2 1 1 1 0 1 1 1-3 1 1 1 1 1-5 1 4 1-1 1-1 1-2 1 1 1-1 1 1 1-2 1 0 1 0 1-3 1 1 1-4 1 0 1-2 1 2 1-3 1-1 1 4 1-5 1 0 1 0 1 0 1 0 1-6 1 2 1 0 1-6 1-1 1 2 1-1 1-3 1-3 1-3 1 1 1-3 1-5 1-9 1-3 1 0 1 14 1 8 1 11 1 5 1 1 1 5 1 4 1-2 1 7 1-2 1-1 1 2 1-2 1 1 1-2 1 8 1-4 1 2 1-5 1 2 1 2 1 0 1 0 1-3 1 0 1 1 1 2 1 1 1-1 1-3 1 0 1-2 1 1 1 4 1-2 1 3 1-2 1 1 1 1 1-6 1 3 1-1 1 3 1 0 1 0 1-2 1 0 1-2 1 0 1 5 1-2 1-3 1-2 1 4 1 4 1-5 1 6 1-5 1 2 1-2 1-1 1-1 1-1 1 4 1-3 1 3 1-2 1-2 1 3 1 0 1-2 1 3 1 1 1 0 1 0 1-1 1 1 1 0 1-2 1 4 1-1 1-2 1-1 1-1 1 1 1 3 1-3 1 3 1-1 1-4 1 2 1 0 1 0 1-1 1 3 1-1 1-1 1 1 1 2 1-2 1-3 1 3 1 3 1-4 1 1 1 3 1-4 1 1 1-1 1-2 1 1 1 0 1 3 1-2 1 2 1 0 1-3 1 1 1 2 1 0 1-3 1 2 1-2 1 1 1 1 1-3 1 1 1 0 1 0 1 3 1-1 1 1 1-5 1 2 1 2 1-2 1 6 1-3 1-1 1-1 1-2 1 1 1 1 1-1 1 0 1-1 1 5 1-3 1 0 1 2 1 0 1 2 1-4 1-4 1 7 1-3 1 1 1 1 1 1 1-2 1-1 1 0 1-3" stroke="#f6860a" stroke-width="1.4" stroke-opacity="1.0" stroke-dasharray="3 3 1 3" stroke-dashoffset="3"/>
<path d="M86 1248l1-5 1 3 1-3 1 3 1 2 1-4 1-1 1 1 1 2 1-4 1-2 1 1 1 7 1-4 1-2 1 4 1 1 1-4 1 3 1 1 1-4 1 1 1 0 1 0 1 1 1-1 1 2 1 1 1-1 1-1 1 2 1-3 1-2 1 1 1 1 1 0 1-1 1 1 1 4 1-2 1 4 1-5 1 0 1 1 1 2 1-2 1 0 1 1 1-4 1 2 1-2 1 2 1 0 1 0 1 2 1-2 1 2 1-2 1 3 1 0 1-4 1 1 1 0 1 1 1-3 1 1 1 0 1-3 1 2 1 1 1 2 1-1 1-2 1 0 1-1 1 2 1 2 1 1 1 0 1-1 1-4 1 4 1-2 1-3 1 4 1-2 1-2 1 2 1-1 1 3 1-1 1-1 1 3 1-3 1 1 1 1 1 1 1-3 1-2 1 5 1 1 1-1 1-4 1 2 1-1 1 3 1-4 1 0 1 1 1-3 1 1 1 4 1-1 1 1 1 1 1-3 1-3 1 3 1 2 1-3 1 3 1-3 1 4 1-2 1 0 1-1 1 0 1 5 1-2 1-1 1 1 1-4 1 5 1 3 1-4 1-1 1-3 1 3 1 1 1-1 1 1 1-1 1 1 1 2 1-2 1 0 1 1 1-1 1 2 1-4 1 0 1-2 1 2 1 1 1 1 1-2 1 0 1 3 1 0 1-3 1-1 1 2 1-3 1 1 1 2 1 0 1 1 1 0 1-1 1 1 1 0 1 2 1 1 1-2 1 1 1-1 1 0 1-3 1-2 1 5 1-1 1 0 1 3 1-2 1 0 1 2 1-3 1 3 1-5 1 0 1 0 1 6 1 1 1-3 1-4 1-2 1 3 1 2 1 3 1-1 1-1 1 3 1-2 1 0 1-2 1-1 1 4 1-2 1 1 1 2 1-1 1-5 1 4 1-1 1-2 1 3 1-4 1 0 1 3 1-3 1 4 1-2 1 0 1 0 1-3 1-2 1 8 1-3 1 0 1-1 1-3 1 2 1 0 1 1 1 0 1 2 1-4 1 0 1 2 1-2 1 0 1 0 1 2 1 1 1-1 1-2 1-1 1 6 1-1 1-1 1-4 1 2 1 2 1 0 1 0 1-2 1 2 1 4 1-5 1 2 1-2 1 1 1-2 1 1 1 1 1-1 1-1 1 2 1 2 1-1 1-1 1 2 1-1 1 0 1-1 1-1 1 2 1-3 1 0 1-3 1 3 1 0 1 1 1 0 1-2 1-2 1 2 1 0 1 1 1 0 1-2 1 2 1-1 1-2 1 1 1 3 1 2 1-2 1-1 1 2 1 3 1 0 1-2 1 0 1-5 1-2 1 1 1 0 1 2 1 2 1-1 1-1 1 3 1-2 1-3 1-1 1 7 1-3 1-3 1 3 1 0 1-3 1 3 1-1 1 0 1 1 1 2 1-1 1-7 1 3 1 1 1 0 1 1 1 2 1-4 1 1 1 4 1-3 1 0 1 1 1-1 1 0 1 0 1 3 1 1 1-4 1-3 1-2 1 6 1 1 1-1 1 0 1-1 1 2 1 1 1-3 1 1 1 1 1-5 1 1 1 1 1 3 1 1 1-1 1-1 1 3 1-2 1 1 1 1 1-1 1 0 1-4 1 1 1 2 1-3 1-1 1 1 1 2 1-2 1 1 1-1 1 1 1 2 1 1 1-3 1-1 1 3 1-5 1 2 1 0 1 4 1-3 1 0 1 1 1 3 1-3 1 0 1 0 1-1 1-3 1 4 1 0 1 1 1-3 1-2 1 2 1 2 1-1 1 1 1 1 1-4 1 1 1 1 1-5 1 3 1 1 1 1 1 0 1 1 1 0 1 0 1 0 1-1 1-2 1 5 1-4 1 3 1-2 1-1 1-1 1 6 1-4 1-3 1 3 1 2 1 0 1-2 1-2 1 0 1 5 1 0 1-3 1 3 1-3 1-4 1 2 1 2 1 3 1 2 1-2 1-4 1 7 1-2 1-9 1 5 1 0 1-2 1 2 1-5 1 1 1 0 1 3 1-7 1 3 1-1 1 0 1 0 1-3 1 1 1 2 1 2 1-2 1-3 1 1 1-2 1 0 1 4 1 1 1-7 1 2 1-2 1 1 1 2 1-7 1-1 1 3 1-8 1 1 1-2 1 0 1 1 1 3 1 1 1 2 1 3 1 3 1 3 1 5 1 0 1 4 1 0 1 0 1 2 1 0 1 1 1-3 1 2 1 2 1-2 1-3 1 2 1-1 1 0 1-1 1 3 1-3 1 3 1-6 1 3 1 1 1 0 1 1 1-2 1-2 1 3 1 2 1-4 1 2 1 0 1 1 1-4 1 1 1-1 1 0 1 0 1 0 1 1 1-1 1 3 1-1 1-1 1 1 1 1 1 2 1-4 1-2 1-2 1 7 1-2 1-3 1-2 1 0 1 4 1 0 1 2 1-2 1 2 1 4 1-3 1-2 1 1 1 2 1-1 1 2 1-1 1 1 1-2 1 0 1-1 1-1 1 0 1 0 1 2 1-4 1 4 1-2 1-3 1 0 1 4 1-1 1-1 1-4 1 2 1-2 1-4 1 2 1-1 1 2 1-8 1 3 1 1 1 2 1 7 1-1 1 0 1 2 1 4 1 2 1-4 1 3 1-4 1-1 1-2 1-1 1 2 1-6 1-4 1-5 1-6 1-7 1-6 1-3 1-15 1-14 1-15 1-3 1 4 1 18 1 6 1 10 1 4 1 9 1 9 1 0 1 3 1 2 1 2 1 2 1 8 1 2 1 3 1 4 1 1 1 4 1-2 1 0 1 3 1-1 1-3 1-6 1 3 1-4 1 1 1-3 1-5 1-6 1-9 1-2 1-6 1-6 1 3 1 7 1 5 1 8 1 5 1-3 1 3 1 4 1 9 1-2 1 1 1-3 1 3 1 9 1-7 1-2 1 1 1 1 1 0 1 1 1 1 1-5 1 0 1 2 1-2 1 1 1-1 1-1 1-2 1 2 1 3 1 0 1 1 1-5 1 2 1 3 1-1 1-2 1-1 1 2 1 0 1-2 1 2 1-2 1 0 1 1 1 4 1-2 1 1 1 0 1-4 1 1 1 2 1 0 1-1 1 0 1-4 1 6 1 0 1-5 1 0 1 2 1 0 1-1 1-1 1-1 1 2 1-1 1-3 1 2 1-5 1-3 1-6 1 2 1-3 1-3 1 3 1-2 1-1 1 9 1 1 1 0 1-5 1-2 1 2 1-4 1 1 1-4 1 0 1 1 1 0 1 0 1-8 1 7 1-2 1 0 1 5 1-2 1-1 1 2 1 2 1-1 1-1 1 0 1 4 1 1 1 1 1 1 1 0 1 7 1-6 1 8 1 0 1-4 1 3 1 1 1 0 1 1 1 3 1-2 1 0 1 2 1 1 1-2 1 0 1 0 1 5 1-2 1 1 1-1 1 3 1-1 1-3 1-1 1 1 1-1 1 1 1-1 1 1 1 1 1 1 1 1 1 5 1-8 1-2 1 2 1-1 1 2 1-3 1 0 1 3 1-7 1 3 1 1 1 3 1-3 1 2 1-3 1 7 1 2 1-6 1 0 1-3 1-1 1 4 1 2 1-4 1-3 1 4 1 0 1-5 1-2 1 2 1-2 1-10 1 4 1 4 1-1 1 0 1 3 1 2 1 3 1 0 1 1 1-5 1 0 1 0 1-4 1 5 1-2 1 1 1-5 1-5 1 1 1 0 1-4 1-3 1-4 1-2 1-15 1-13 1-8 1 8 1 4 1 9 1 11 1 7 1 5 1 8 1 4 1 3 1 2 1-6 1-3 1-2 1-5 1 1 1 1 1 3 1 3 1 6 1-3 1 5 1 3 1 1 1 0 1 0 1-1 1 2 1 2 1 0 1-1 1 1 1-3 1 2 1-1 1 3 1-3 1 1 1 1 1-2 1-5 1 3 1 0 1 1 1-1 1-2 1 3 1 1 1-2 1 0 1 2 1 2 1 0 1 0 1 1 1-1 1 1 1 1 1-1 1-5 1 4 1-1 1-4 1 2 1 3 1 1 1-1 1 0 1-4 1 1 1 0 1 2 1 1 1-1 1 0 1 1 1 0 1 2 1 1 1-2 1-1 1-3 1 0 1 3 1-1 1 0 1 2 1-5 1 1 1 1 1-2 1 5 1-3 1-1 1 3 1-3 1 1 1 1 1 2 1-3 1 2 1-2 1-2 1 3 1 0 1-2 1 2 1 2 1-3 1-4 1 5 1-2 1-3 1 2 1-3 1-2 1-3 1 4 1 1 1-3 1-7 1 3 1-1 1-1 1 5 1-9 1 2 1 1 1-7 1 5 1-1 1-2 1-6 1 4 1 2 1-4 1-9 1-9 1 3 1-7 1-2 1 0 1 9 1 9 1 8 1 9 1 8 1-4 1 8 1 3 1-3 1 3 1-2 1 1 1-3 1 2 1 0 1 2 1-2 1 0 1 0 1 2 1 2 1 0 1 1 1-2 1 2 1-4 1-1 1 2 1-2 1-2 1 1 1-1 1 1 1 4 1 0 1-3 1-2 1 3 1-1 1 0 1 1 1-1 1-1 1 1 1 2 1 0 1 0 1 0 1-1 1-2 1 3 1-1 1-1 1 1 1-1 1-1 1 2 1-3 1 6 1-2 1-1 1 1 1-2 1 1 1 2 1-2 1-1 1 0 1 1 1-3 1-1 1 7 1-3 1 0 1 0 1 1 1 1 1-2 1 0 1 0 1 0 1 2 1-3 1 3 1-4 1 2 1 1 1-1 1 1 1 0 1 1 1-2 1-3 1 4 1 0 1-1 1 3 1-3 1-3 1 3 1 1 1 1 1-1 1 1 1-1 1-1 1 0 1 0 1-1 1 1 1-1 1-1 1 0 1 0 1 2 1-1 1-1 1 1 1 0 1 3 1 0 1-2 1-2 1 5 1-5 1 4 1-3 1 0 1 4 1-4 1 0 1 1 1 1 1-2 1 0 1 3 1-5 1 0 1 6 1-2 1-1 1 0 1 0 1 4 1-3 1 0 1 3 1-5 1 5 1-5 1-3 1 1 1 4 1 0 1-3 1 6 1 0 1-2 1-1 1 0 1 0 1-2" stroke="#f6860a" stroke-width="1.4" stroke-opacity="1.0" stroke-dasharray="3 3 1 3" stroke-dashoffset="6"/>
<path d="M86 1250l1-3 1 0 1-3 1-1 1 1 1 2 1-2 1 3 1 3 1-5 1 0 1 1 1-1 1 0 1 2 1 2 1 0 1 0 1-1 1 0 1 0 1 3 1-3 1 0 1 1 1-3 1 3 1-3 1-4 1 5 1-4 1 2 1-2 1 4 1 1 1 1 1 0 1 1 1-4 1 0 1 3 1 1 1-3 1 0 1-1 1 2 1-2 1 1 1 0 1-1 1 2 1-2 1 0 1-1 1 2 1-3 1 4 1 0 1-1 1 0 1-1 1 1 1 2 1-2 1-2 1 3 1 0 1 1 1 2 1-3 1-1 1 1 1 1 1-2 1 0 1 3 1-1 1-3 1-1 1 2 1-1 1 1 1-6 1 2 1 3 1 3 1-3 1 1 1 2 1 0 1-2 1 0 1-2 1 1 1 2 1-1 1-1 1-2 1 3 1-1 1 0 1 4 1-2 1 0 1 2 1-4 1 2 1 0 1-2 1-1 1 1 1 0 1 2 1-3 1 2 1 0 1-3 1 5 1-4 1 3 1-2 1 1 1 0 1 0 1 1 1-1 1 1 1 1 1 1 1-2 1 0 1-2 1-1 1 1 1 5 1-1 1-2 1-4 1 2 1 2 1-2 1 0 1 0 1-2 1 1 1 1 1 4 1-2 1-3 1 0 1 1 1 2 1-1 1 0 1 1 1 3 1 0 1-2 1 1 1-2 1 1 1-7 1 2 1 2 1 0 1 3 1-2 1 3 1-2 1 2 1-3 1 2 1 0 1 0 1-2 1 1 1-1 1-4 1 6 1-2 1 1 1 2 1-1 1-4 1 1 1 1 1 0 1 1 1 2 1-6 1-1 1 1 1 3 1-2 1 0 1 3 1 0 1-1 1 0 1-1 1 2 1-3 1 0 1 3 1-1 1 1 1-1 1 0 1 4 1-3 1-4 1 2 1 1 1 1 1-2 1 2 1 1 1 1 1-1 1-1 1-1 1-1 1 4 1 1 1 0 1 1 1-1 1-4 1 2 1 0 1-1 1-2 1 1 1 0 1 2 1-3 1 3 1-2 1-2 1 2 1 2 1-1 1 3 1-3 1 0 1-5 1 6 1-1 1-2 1 4 1 2 1-3 1-3 1-1 1 1 1 2 1 1 1 0 1 1 1-3 1 1 1 2 1 0 1-2 1-1 1 2 1 0 1-1 1 0 1 0 1 2 1-1 1 0 1-1 1 2 1 0 1-2 1 2 1-2 1-1 1-1 1 2 1 2 1-2 1-2 1 2 1-2 1 1 1-2 1 2 1 2 1 0 1 0 1 0 1 1 1-2 1 0 1 2 1-1 1 2 1-3 1-4 1 1 1 2 1 4 1-6 1-1 1 1 1 2 1 0 1 1 1 0 1-1 1 3 1-3 1 2 1 1 1-3 1 0 1-1 1-2 1 2 1 3 1-2 1 0 1-1 1-1 1 3 1-2 1 1 1 4 1-3 1 3 1-1 1-2 1-5 1 0 1 2 1 1 1 0 1 2 1-6 1 4 1 0 1-2 1-2 1 1 1 0 1 2 1 0 1 1 1 0 1 2 1-3 1-1 1 5 1-2 1-1 1-1 1-4 1 2 1 8 1-5 1 0 1 2 1 0 1-1 1-3 1-1 1 0 1 0 1 5 1-5 1 1 1 2 1 1 1-5 1 3 1 2 1 0 1-2 1 0 1-1 1-1 1 1 1-1 1 3 1 1 1-4 1 6 1-2 1-1 1 0 1 2 1 3 1-5 1 2 1-1 1-1 1-1 1 3 1-3 1-3 1 3 1 4 1-1 1 1 1-5 1 2 1 0 1 2 1 0 1-2 1-1 1-2 1-1 1 6 1-1 1 1 1-1 1 0 1 1 1-1 1 1 1-2 1-1 1-1 1 3 1 1 1-2 1-1 1 1 1-1 1 2 1 0 1 1 1-1 1-1 1 1 1 1 1-4 1 0 1 2 1-2 1 2 1 2 1 1 1-3 1 0 1 4 1 0 1-4 1 5 1-4 1-5 1 1 1 4 1-1 1-1 1 0 1 1 1 0 1-1 1-6 1 3 1 1 1 1 1-2 1-1 1 0 1-2 1-2 1 5 1-2 1-3 1-3 1 1 1 3 1-7 1 5 1 2 1-10 1 0 1 0 1 2 1 3 1-7 1 0 1-1 1 2 1-1 1 2 1 0 1 3 1 8 1 4 1-2 1 3 1 2 1 3 1-1 1 1 1-2 1 3 1 0 1-2 1 0 1 0 1 2 1 1 1-4 1 3 1-3 1-1 1 0 1 2 1-1 1 2 1-1 1-4 1 1 1 1 1-1 1 3 1-3 1 1 1-1 1-3 1 4 1 2 1 2 1-4 1 2 1 1 1 1 1-4 1 3 1 0 1-3 1 3 1 1 1-3 1-2 1-1 1 3 1 4 1-4 1 1 1 3 1-3 1-1 1 0 1 0 1 3 1-2 1 1 1 1 1-2 1-1 1-2 1 3 1 2 1 1 1-3 1 3 1 0 1-1 1 1 1-6 1 0 1 1 1 1 1-1 1 3 1-3 1 1 1-1 1-1 1 0 1 1 1-1 1-2 1-4 1-1 1 3 1 2 1-5 1 3 1 1 1 1 1-2 1 1 1 5 1 5 1-6 1-1 1 2 1 1 1 3 1-2 1-4 1-1 1 1 1-1 1-6 1-3 1-6 1-3 1-5 1-8 1-7 1-8 1-21 1-16 1-7 1 1 1 14 1-1 1 17 1 14 1 11 1 2 1 3 1 13 1-1 1 1 1 3 1 3 1 8 1 4 1-1 1 1 1 2 1 4 1 1 1-2 1-2 1-3 1 0 1 0 1-2 1-2 1-6 1 2 1-8 1-4 1-7 1-10 1 8 1-3 1-2 1-2 1 12 1 9 1 0 1 4 1 5 1 0 1 3 1 0 1 4 1 0 1 3 1-1 1-1 1 4 1-2 1 0 1-1 1-1 1 1 1 0 1 1 1-2 1 0 1-4 1 3 1 0 1-2 1 4 1-3 1-3 1 5 1-1 1-2 1 2 1 2 1-1 1 2 1-2 1-2 1-1 1 4 1 3 1-5 1 2 1 1 1-2 1 0 1-4 1 0 1 4 1 1 1-1 1 4 1-5 1 3 1-1 1-4 1 1 1-1 1-1 1 0 1 3 1 1 1-3 1 3 1 1 1-7 1-1 1-6 1-6 1-2 1 1 1-6 1-2 1 3 1 1 1 2 1 2 1-1 1-3 1-1 1-4 1 7 1-2 1 7 1-2 1-7 1-4 1-2 1 6 1-4 1 4 1-1 1 1 1-1 1-3 1 4 1 0 1-7 1 4 1 2 1 12 1-5 1-1 1-2 1 1 1 9 1-3 1 0 1 9 1-4 1 4 1 1 1 0 1 3 1 2 1-4 1 8 1-8 1 3 1 1 1 0 1-1 1 4 1-1 1-1 1-4 1 4 1-2 1-1 1 3 1-1 1 0 1 2 1-6 1-1 1 4 1 1 1-2 1 2 1-1 1 2 1-2 1-1 1 1 1 0 1 1 1 1 1 2 1-2 1-3 1 1 1-1 1 2 1 3 1-3 1-1 1-1 1-2 1 0 1-3 1 4 1 3 1-2 1-2 1 1 1-3 1 5 1-3 1-7 1-3 1 1 1 2 1-3 1-3 1 5 1 5 1-2 1 1 1 0 1 2 1 3 1-2 1 2 1-3 1-3 1-2 1 2 1-1 1-5 1-9 1 3 1-1 1-1 1-7 1-1 1-2 1-13 1-9 1 1 1-1 1 10 1 7 1 10 1 3 1 9 1 4 1 1 1 0 1 0 1 0 1-6 1 7 1-9 1 0 1-1 1 6 1 4 1 5 1 1 1 1 1 0 1 1 1 5 1-1 1 0 1-2 1 1 1-1 1 3 1-2 1 0 1 0 1 2 1-5 1 0 1 6 1-1 1-1 1-1 1 0 1 0 1-2 1 1 1-2 1 3 1 0 1-1 1 0 1 1 1 1 1 1 1 0 1-2 1 5 1 0 1-5 1 0 1 1 1 0 1-3 1 0 1-1 1 4 1-2 1 2 1 1 1-3 1 1 1-4 1 3 1 0 1 0 1 3 1-2 1 0 1 0 1 1 1-2 1 1 1 1 1 0 1-1 1-2 1 2 1 3 1 3 1-7 1 1 1 3 1-9 1 4 1 1 1 2 1 0 1-3 1 1 1-1 1 1 1-1 1 3 1-1 1-2 1 2 1-2 1 2 1-3 1-6 1 3 1 0 1-4 1 1 1 4 1-5 1-2 1 4 1-1 1 3 1-4 1 1 1 1 1-7 1 0 1-4 1-1 1 3 1-6 1 7 1-7 1 1 1-1 1-5 1-4 1-1 1-4 1-1 1-3 1-12 1-7 1 1 1 10 1 7 1 10 1 8 1 8 1 4 1 2 1 2 1 4 1 4 1-1 1 1 1-4 1-2 1 9 1-4 1-5 1 2 1 4 1-3 1 3 1-3 1 0 1 0 1 3 1 3 1-6 1 2 1 2 1-3 1 3 1-2 1 0 1 0 1 3 1-2 1 2 1-3 1 0 1 3 1-3 1 0 1 0 1 2 1-2 1 3 1-2 1 0 1-1 1 0 1 1 1 0 1 1 1 2 1-5 1 1 1 0 1-3 1 4 1-1 1 1 1 0 1 2 1-2 1 2 1-1 1 0 1 0 1 3 1-6 1-1 1-1 1 5 1-6 1 2 1-1 1 4 1-1 1 3 1 1 1-1 1-4 1 3 1 0 1-2 1 0 1-1 1 2 1 1 1-2 1 2 1 2 1-1 1-5 1 0 1 1 1 0 1 0 1 1 1 4 1-2 1-2 1-1 1 2 1-1 1 0 1 3 1-5 1 3 1-1 1-1 1-4 1 4 1 3 1-1 1-3 1 2 1 1 1-1 1 0 1 1 1-2 1 0 1 3 1-4 1 0 1 1 1 2 1 0 1 2 1-1 1 2 1-2 1-2 1 0 1-6 1 3 1 2 1 0 1-1 1-2 1 3 1-2 1 4 1 2 1 1 1-1 1-1 1-2 1 0 1 1 1 1 1-2 1 0 1 2 1 0 1-2 1-1 1-1 1 0 1 0 1 2 1 0" stroke="#f6860a" stroke-width="1.4" stroke-opacity="1.0" stroke-dasharray="3 3 1 3" stroke-dashoffset="9"/>
<path d="M86 1246l1-3 1 5 1 1 1-1 1-1 1 1 1-1 1-1 1 2 1 0 1-1 1-2 1 2 1 3 1-2 1-1 1 0 1-1 1 1 1 1 1 2 1-1 1-4 1 3 1 1 1-4 1 2 1-1 1-3 1 2 1 3 1 2 1-5 1-2 1 5 1-2 1-2 1 2 1 3 1-1 1-3 1 0 1 1 1 0 1 1 1 1 1 0 1-2 1 4 1-2 1-2 1-1 1-1 1 2 1 2 1-3 1 0 1 3 1-1 1-2 1 1 1 2 1-2 1 0 1 4 1 0 1 0 1 0 1-1 1-2 1 1 1 2 1 0 1-3 1 1 1 2 1-5 1 3 1-2 1 5 1-1 1 2 1-2 1-1 1 0 1-2 1 0 1 1 1 1 1 3 1-3 1 0 1 2 1-5 1 0 1-1 1 4 1-2 1-2 1-1 1 1 1 2 1-1 1 4 1-5 1 1 1 3 1-3 1 3 1-6 1 5 1-1 1-1 1-1 1 1 1-2 1 0 1 1 1 1 1 3 1-3 1 1 1 2 1-3 1 0 1 3 1 2 1-3 1-2 1-2 1 4 1 2 1-3 1-1 1 0 1-1 1 3 1-2 1 1 1 1 1-2 1 0 1 2 1 1 1-3 1 3 1-2 1 1 1 0 1 1 1-2 1 6 1-7 1 1 1 1 1 0 1 0 1-3 1 1 1 3 1-2 1 0 1 0 1 3 1-2 1 0 1-4 1-3 1 5 1 4 1-2 1 0 1 0 1-1 1-2 1 5 1-1 1-3 1 3 1-2 1-1 1 1 1-1 1-1 1 5 1-3 1-3 1 4 1 0 1 4 1-1 1-3 1 1 1 3 1-5 1 1 1-1 1 3 1-4 1 1 1 3 1-4 1 3 1 0 1 0 1-2 1 1 1 0 1 1 1 0 1-4 1 4 1 0 1-2 1 0 1 0 1-2 1 4 1 1 1 0 1-2 1 0 1 1 1 1 1 1 1-1 1-2 1 3 1-6 1 2 1-1 1 1 1 2 1 2 1 0 1-3 1 3 1-2 1-1 1 3 1-2 1 0 1-2 1 1 1 0 1 0 1 0 1 0 1 1 1 1 1-3 1 1 1 2 1-1 1-3 1 1 1 1 1 2 1-4 1 0 1 1 1 2 1 0 1 1 1-2 1-2 1 4 1 1 1 0 1-2 1-2 1 4 1 0 1 0 1-4 1-1 1 5 1 0 1-3 1 5 1-3 1-2 1 1 1 0 1 0 1 0 1 1 1 1 1-2 1 2 1-1 1-4 1 2 1 0 1 3 1-3 1-1 1 1 1 2 1 1 1-3 1 1 1 2 1-3 1 2 1-3 1-4 1 6 1-3 1-1 1 0 1 3 1 0 1-1 1 1 1-1 1-3 1 5 1-2 1 2 1 1 1-3 1 0 1 0 1 2 1-1 1 0 1-2 1 3 1-2 1 0 1-2 1-1 1 2 1 1 1-1 1 0 1 0 1 1 1 1 1 1 1-1 1-1 1-1 1-1 1 1 1 4 1 1 1-2 1 0 1 1 1-2 1-3 1 3 1-2 1-2 1 0 1 7 1 0 1-3 1-2 1 0 1 0 1 1 1-4 1 2 1 3 1-5 1 5 1-1 1 1 1 1 1-2 1 0 1-2 1 0 1-1 1 3 1 0 1 0 1-3 1-1 1-1 1 2 1 0 1 3 1-2 1 0 1-1 1 2 1 0 1 0 1 1 1 1 1 0 1-5 1-1 1 1 1 2 1 1 1-4 1 3 1 1 1-2 1 0 1 2 1 0 1 1 1 0 1-2 1 0 1 0 1 0 1 0 1 2 1 3 1-2 1 0 1 2 1-2 1-3 1 0 1 1 1 1 1-4 1 5 1 0 1 0 1-1 1-3 1-3 1 6 1-1 1 0 1 2 1-5 1 5 1 0 1 0 1 3 1-3 1-3 1 3 1 0 1-4 1 5 1-4 1 0 1 1 1 1 1 2 1-2 1 1 1 1 1-3 1 1 1-5 1-3 1 3 1-6 1 8 1-5 1-1 1-3 1 4 1-2 1-1 1-1 1 3 1-5 1 4 1-2 1 3 1-6 1 2 1-3 1 1 1-2 1 2 1-2 1 3 1-2 1 2 1-1 1-4 1-6 1 0 1-4 1-5 1 7 1-11 1 3 1 6 1 2 1 10 1 2 1 3 1 6 1 7 1 1 1 3 1-4 1-2 1 3 1 3 1-2 1 0 1-3 1 0 1 0 1 1 1 1 1 3 1-4 1-1 1-3 1 1 1 2 1 3 1-1 1-2 1 3 1-3 1-3 1 2 1 6 1-4 1 0 1-4 1 7 1 0 1-3 1 2 1-3 1 2 1-1 1 1 1 0 1-1 1 2 1-8 1 5 1 4 1-2 1 0 1-1 1-2 1 3 1-5 1 2 1 3 1-3 1 1 1 2 1-3 1 6 1-5 1 2 1-2 1-2 1 3 1 1 1 3 1-4 1 2 1-2 1 2 1 3 1-3 1-1 1-1 1 3 1-6 1 3 1 1 1-7 1 0 1 3 1 1 1-2 1 2 1 0 1 0 1-4 1-3 1 0 1-1 1-3 1-1 1 1 1-2 1 6 1 1 1-3 1 5 1 3 1 0 1 4 1-2 1-1 1-2 1 1 1 0 1 0 1-7 1-1 1-8 1-2 1-8 1-3 1-6 1-17 1-16 1-19 1-2 1-17 1 7 1 10 1 19 1 13 1 11 1 2 1 9 1 4 1 1 1 15 1-3 1 4 1 3 1 3 1 3 1 4 1 4 1 4 1 1 1 0 1-4 1 3 1-4 1-4 1 0 1 1 1-4 1-2 1-8 1-6 1-8 1 4 1-13 1-4 1 2 1 9 1 4 1 8 1 3 1 1 1 2 1 6 1 3 1 0 1-2 1 5 1 2 1-2 1 1 1 4 1-3 1 1 1-2 1 4 1-3 1-3 1 5 1-1 1-1 1 3 1-3 1-3 1 2 1 2 1 0 1-4 1 0 1 0 1 3 1-2 1 0 1 3 1-1 1 1 1 1 1-3 1 0 1 2 1-2 1 4 1-2 1-4 1-1 1 0 1 8 1 0 1-4 1 0 1 5 1-3 1 0 1 5 1-8 1 5 1-3 1-4 1 2 1 3 1 1 1-7 1-1 1 0 1 3 1-5 1 4 1-6 1-4 1-6 1-7 1-4 1 7 1 4 1-4 1 6 1-8 1 6 1-2 1 4 1-7 1 6 1-4 1 1 1-5 1 1 1-1 1 1 1-3 1 3 1-5 1 6 1-3 1 2 1 3 1 0 1-5 1 4 1 7 1-2 1-7 1 5 1 1 1 3 1 1 1 2 1 5 1-2 1 0 1 4 1-3 1 2 1 2 1-2 1 4 1 2 1-1 1 2 1-4 1 2 1 0 1-1 1 1 1 1 1 2 1-3 1-2 1 5 1 1 1 3 1-4 1-4 1 2 1 2 1 1 1 4 1-3 1-1 1 0 1 2 1-5 1 1 1-2 1 2 1 0 1 0 1 1 1-2 1 1 1-3 1 2 1 0 1 5 1-4 1 1 1-1 1-1 1-1 1 1 1 1 1 5 1-8 1-1 1-1 1 1 1-3 1 0 1-2 1-1 1 3 1-12 1 0 1 4 1 0 1 4 1 6 1-4 1 2 1-3 1 2 1-3 1 6 1-1 1-4 1-1 1-2 1-1 1-1 1 2 1-11 1-6 1 1 1-9 1-4 1-4 1-20 1-19 1-11 1-9 1 22 1 18 1 8 1 19 1 9 1 10 1 7 1-3 1 3 1 3 1-4 1 1 1-5 1-2 1-3 1 3 1 0 1 3 1 9 1 0 1 4 1 5 1-3 1 5 1-3 1 0 1 0 1-2 1 3 1 1 1 0 1-4 1 2 1 0 1-3 1 2 1 2 1 0 1 1 1 1 1-3 1 1 1 0 1 1 1 4 1-6 1 4 1-2 1 0 1 1 1-2 1-1 1 0 1 2 1-2 1-1 1 2 1 4 1-3 1-1 1-1 1-2 1-1 1 0 1 4 1-4 1 0 1 3 1-5 1 2 1-1 1-2 1 1 1 1 1-1 1 2 1-1 1 4 1-3 1-1 1 1 1 0 1 1 1 2 1 0 1 0 1 0 1 0 1-4 1 1 1 1 1 2 1 0 1-4 1 3 1-1 1 3 1 2 1-1 1-2 1-4 1 0 1 4 1-2 1 0 1 1 1-5 1-3 1 5 1-6 1 6 1 1 1-4 1-1 1-4 1-5 1 2 1 1 1-1 1 0 1-2 1-5 1-1 1 3 1-3 1-3 1 3 1-5 1 3 1-5 1-1 1 1 1 0 1-4 1-12 1-2 1-6 1-7 1 0 1 6 1 7 1 6 1 14 1 15 1 0 1 5 1 4 1 1 1 0 1 2 1-1 1 0 1 1 1 0 1-1 1-1 1-1 1 3 1 3 1-3 1 1 1 0 1-2 1 3 1-5 1 3 1 1 1 0 1-1 1-1 1-2 1 4 1-2 1 3 1-1 1-1 1 2 1-1 1 1 1 2 1-2 1-1 1 2 1-1 1 2 1-4 1-2 1 2 1 0 1-2 1 0 1-2 1 0 1 1 1 3 1 1 1 1 1 1 1-8 1 3 1 2 1-2 1 1 1 4 1-3 1 0 1 3 1 1 1 1 1 0 1-4 1 2 1 1 1 2 1-4 1 3 1-2 1-5 1 3 1-1 1 0 1-1 1 0 1 0 1 2 1 0 1 1 1-2 1 1 1 2 1-4 1 1 1 4 1-1 1 3 1-5 1-1 1-3 1 4 1-1 1-2 1 0 1 3 1-3 1 3 1 0 1-2 1 1 1 1 1 0 1 1 1-4 1 0 1 2 1 2 1-1 1-4 1 1 1 5 1-1 1-1 1 1 1 3 1-3 1-2 1 4 1 2 1-3 1-5 1 0 1 3 1 0 1-1 1-1 1 2 1 1 1-3 1-1 1 3 1-1 1 1 1 0 1 3 1-1 1-3 1 1 1-1 1-1 1 0 1 1 1 0 1-2 1 2 1 2 1 3 1 0 1-2 1 1 1-4 1 3 1 0 1-2" stroke="#f6860a" stroke-width="1.4" stroke-opacity="1.0"/>
<path d="M86 1250l1 0 1 1 1-4 1 3 1-1 1 4 1-3 1-1 1 0 1-2 1 2 1 4 1-2 1-3 1 3 1 3 1-4 1 1 1 0 1-3 1 3 1 0 1 1 1 0 1 0 1-5 1 1 1-2 1 3 1 0 1 6 1-5 1 2 1 1 1-3 1-2 1-1 1 4 1 3 1-3 1-2 1 4 1-1 1-3 1 2 1 2 1-3 1 1 1-2 1-2 1 3 1 0 1 4 1 0 1-2 1-4 1 4 1-2 1 1 1 1 1 0 1 0 1 1 1-3 1-2 1 0 1 3 1-2 1-1 1-3 1 3 1-3 1 2 1 0 1 1 1-1 1 2 1 2 1 1 1-2 1-3 1-1 1 3 1-3 1 0 1 3 1 2 1-2 1-1 1-2 1 2 1 2 1-1 1 3 1-3 1 1 1-1 1 3 1 3 1-4 1-2 1-3 1 3 1 1 1 3 1-3 1 0 1 2 1-3 1 1 1 0 1-2 1 1 1-1 1-3 1 8 1-2 1-2 1-1 1 2 1 1 1-1 1 0 1-3 1 2 1-3 1 1 1 3 1 2 1-2 1-1 1 4 1-6 1 1 1 5 1-1 1-2 1 2 1-3 1-1 1 2 1 4 1-5 1 3 1 0 1-1 1-1 1 0 1-3 1-1 1 3 1 2 1 3 1-2 1-2 1-2 1 3 1 0 1 0 1 0 1 4 1-5 1-2 1 4 1-2 1 0 1 4 1-5 1 1 1-1 1 5 1-2 1-2 1 1 1-2 1 2 1 1 1-4 1 2 1-2 1 3 1-5 1 6 1-1 1 2 1-3 1 1 1-3 1 2 1-1 1-1 1 4 1-2 1 0 1 1 1-2 1 1 1 0 1 3 1-2 1 3 1 0 1-1 1-3 1-3 1 5 1 1 1-4 1-1 1 4 1-4 1 3 1 2 1-1 1-2 1 0 1-4 1 7 1-2 1 0 1 3 1-1 1 0 1 0 1-2 1 1 1 0 1 1 1 0 1-2 1-5 1 4 1 0 1 1 1 4 1-2 1-1 1-5 1 3 1 1 1 2 1-1 1-3 1 0 1-1 1 0 1 1 1-1 1 3 1-3 1 1 1 2 1 1 1-5 1 3 1 3 1-1 1 0 1 2 1-1 1-2 1-1 1 1 1 1 1 3 1-6 1 0 1-1 1 3 1-4 1 6 1-1 1-1 1 0 1 3 1-4 1 1 1 1 1-4 1 2 1 4 1-3 1 0 1-1 1-2 1 1 1-4 1 1 1-1 1 3 1 0 1-1 1 1 1-1 1 1 1 1 1 0 1 0 1 2 1-3 1 0 1 0 1-1 1 2 1 1 1 0 1 1 1 0 1 0 1-2 1 1 1 1 1-3 1 3 1 2 1 1 1-4 1 0 1-1 1-1 1 2 1 1 1 1 1-5 1 1 1 0 1-2 1 6 1-1 1-1 1 1 1-1 1 1 1-4 1 3 1-2 1 4 1 0 1-2 1 0 1-3 1 0 1 2 1 1 1-4 1 2 1 0 1-4 1 6 1-1 1 1 1-1 1 1 1-4 1 1 1 1 1-1 1 2 1-4 1 2 1 1 1 1 1-3 1 3 1 0 1-2 1 1 1 2 1-3 1-2 1 1 1 2 1-1 1 1 1 0 1 0 1 1 1-1 1-1 1 0 1 3 1-2 1-1 1 0 1 1 1-1 1 4 1 3 1-3 1-2 1 2 1 2 1-6 1 1 1 3 1-2 1 2 1-1 1-2 1-1 1-1 1 3 1 0 1 0 1 1 1 0 1 4 1-5 1 4 1-5 1 1 1 3 1 1 1-1 1-6 1 0 1 3 1 2 1-4 1 2 1 3 1-3 1 0 1-1 1 0 1 1 1 1 1 1 1 0 1-3 1 0 1 1 1 5 1 1 1-5 1-4 1 2 1 0 1 3 1-3 1 2 1 2 1-4 1 0 1 3 1 1 1 3 1-4 1-3 1 5 1-3 1-1 1 2 1-2 1 0 1-4 1 2 1 3 1 0 1-4 1-1 1-3 1 3 1-4 1 6 1-7 1 4 1-1 1-1 1-3 1 3 1 1 1-3 1-2 1 7 1-1 1-7 1-3 1 3 1 1 1-1 1-1 1 1 1 4 1-4 1-6 1 3 1-2 1-2 1-6 1 1 1-1 1 2 1 8 1 7 1-1 1 4 1 2 1 1 1 7 1 0 1-3 1-1 1 3 1-3 1 3 1 1 1-2 1-2 1-1 1 0 1 0 1 0 1 0 1 0 1-2 1 4 1-2 1 0 1-1 1 3 1 2 1-4 1 5 1-4 1-1 1 2 1-1 1 2 1-2 1 0 1-4 1 3 1 3 1 2 1 0 1-3 1-2 1-1 1 3 1 0 1-2 1-1 1-1 1 0 1-1 1 1 1 5 1-4 1-1 1 0 1 7 1-1 1 1 1 1 1-4 1 0 1 0 1 0 1-2 1 3 1-1 1-1 1 1 1 4 1-2 1 0 1-3 1 1 1-2 1 2 1 0 1 2 1-6 1 0 1 2 1 1 1 3 1-2 1-2 1 1 1-4 1-3 1 2 1-3 1-1 1 2 1 1 1-1 1-3 1-2 1 3 1 6 1 1 1 0 1 4 1 0 1 0 1-2 1 1 1-2 1-2 1 1 1-1 1 0 1-7 1-6 1-5 1-5 1-4 1-2 1-9 1-21 1-12 1 0 1-6 1 4 1 9 1 8 1 10 1 8 1 2 1 9 1 6 1-1 1 5 1 1 1 8 1-2 1 7 1 0 1 4 1 2 1 2 1 3 1-2 1 2 1-4 1 0 1-1 1-4 1 4 1-10 1-2 1-2 1-4 1-3 1-6 1-5 1-1 1 2 1 0 1 0 1 11 1 10 1 5 1-7 1 7 1 2 1 1 1 2 1 2 1 6 1-4 1-2 1 0 1 1 1-1 1 2 1-2 1 0 1 1 1-2 1-2 1 4 1 0 1-3 1-1 1-1 1 2 1-2 1 5 1-2 1-2 1 2 1-2 1 0 1-1 1 3 1-2 1 1 1 0 1 1 1 0 1-1 1 1 1-2 1 5 1-3 1 0 1 1 1-3 1 2 1-3 1-4 1 4 1 8 1-4 1-5 1 2 1 0 1 0 1 1 1-2 1 1 1 3 1-8 1 2 1-2 1-1 1-3 1-1 1-1 1-9 1 0 1-5 1-5 1 8 1 0 1-1 1 2 1 4 1-2 1 2 1-4 1 1 1 2 1-4 1 1 1 1 1-5 1-4 1 0 1 5 1-3 1 1 1 1 1 0 1-3 1 1 1 1 1 4 1 0 1 2 1 0 1-1 1 7 1-4 1 10 1-2 1-1 1 4 1 1 1 1 1 1 1 0 1 0 1 1 1-2 1 4 1 1 1-1 1-3 1 3 1 0 1 0 1 0 1 0 1 2 1 5 1-2 1-7 1 1 1 5 1-1 1 0 1 0 1-1 1-1 1 1 1-2 1 4 1-2 1-2 1-1 1 1 1-5 1 4 1-4 1 5 1-1 1 1 1 1 1 0 1 1 1-1 1-3 1-1 1 3 1 0 1 1 1-3 1 4 1-2 1 0 1 1 1-6 1 4 1-2 1-3 1 7 1-6 1-4 1-3 1-2 1 2 1 2 1-4 1 5 1 4 1 2 1-1 1-4 1 3 1 0 1 0 1 0 1 4 1-3 1-4 1-11 1 2 1-2 1-2 1-5 1-4 1-3 1-7 1-9 1-15 1-11 1-3 1 1 1 9 1 14 1 9 1 11 1 14 1 8 1 4 1 1 1-4 1 5 1-2 1-6 1-2 1-3 1 1 1 5 1-1 1 7 1 4 1 2 1 0 1 0 1 4 1-3 1 4 1-2 1 2 1 0 1 1 1-1 1-2 1 2 1-4 1-3 1 3 1 4 1 2 1-9 1 1 1 0 1 7 1-4 1 3 1-6 1 3 1 1 1 0 1-5 1 0 1 2 1 6 1-1 1 1 1-2 1 0 1 0 1 2 1-2 1-4 1 2 1 2 1 0 1-3 1 1 1 1 1 2 1-4 1 1 1 1 1 0 1 1 1 3 1-2 1-3 1-3 1 4 1 2 1-1 1 0 1-1 1-6 1 5 1-1 1-1 1 5 1-2 1 2 1-3 1-3 1 2 1 0 1 1 1-1 1 3 1-3 1-1 1 4 1-2 1 1 1-1 1-2 1 1 1 2 1 4 1-4 1-1 1-3 1 4 1-2 1-4 1-1 1 0 1 3 1-2 1-5 1 4 1 2 1-9 1-5 1 5 1 3 1-6 1 4 1 5 1-5 1-1 1-6 1 3 1-3 1-5 1 2 1-3 1 5 1-7 1-6 1-5 1-3 1-5 1 3 1-3 1 8 1 14 1 10 1 7 1 4 1-1 1-6 1 7 1-5 1 8 1-1 1 2 1-3 1 1 1 4 1-2 1 3 1-2 1-1 1-2 1 2 1-3 1 3 1 3 1-2 1 0 1 2 1-2 1 0 1 1 1-3 1 4 1-3 1 1 1 0 1 3 1 0 1-5 1 3 1 1 1 1 1-4 1 2 1 1 1-3 1 2 1-2 1 0 1 0 1-3 1 0 1 5 1-3 1-1 1 0 1 2 1 3 1-3 1 1 1 0 1-2 1 0 1 2 1-2 1 1 1-3 1 5 1 1 1-1 1 2 1-1 1-1 1-3 1 2 1 0 1-1 1 1 1 0 1 2 1-1 1 0 1 0 1 0 1-1 1-1 1-1 1 5 1-3 1-1 1 2 1-4 1 3 1 1 1 1 1-4 1-1 1-1 1 2 1-1 1 1 1 6 1-4 1-2 1 1 1-3 1 2 1 0 1 3 1-4 1 1 1-1 1 0 1 2 1 2 1-2 1 3 1-3 1 0 1 4 1-3 1 1 1-1 1 0 1 0 1 1 1 1 1-1 1-3 1 2 1 0 1 1 1 1 1 0 1-2 1 0 1 2 1-1 1 2 1-3 1-2 1 0 1 4 1 1 1-5 1 2 1 1 1-3 1 1 1 0 1 1 1 2 1-1 1 2 1-3 1 1 1 3 1-1 1-4 1 1 1-1 1-4 1 4" stroke="#f6860a" stroke-width="1.4" stroke-opacity="1.0" stroke-dasharray="3 3 1 3" stroke-dashoffset="15"/>
<path d="M86 1253l1 2 1 1 1-4 1 2 1 0 1-1 1-4 1 5 1-1 1-3 1 1 1 0 1 1 1 2 1-1 1-1 1-1 1 3 1 0 1 1 1-2 1-1 1 2 1-2 1 1 1 0 1-1 1-1 1 2 1 1 1-1 1-1 1 2 1 1 1-2 1-1 1 1 1 0 1 0 1-2 1 3 1-5 1 6 1 1 1-1 1-2 1 1 1 0 1-2 1 2 1 1 1-3 1-3 1 2 1-1 1 4 1-3 1 2 1 0 1 0 1-1 1 0 1 0 1 3 1-3 1 0 1-2 1 3 1 0 1 3 1-2 1-3 1 2 1 1 1-3 1-2 1 3 1-1 1 1 1 1 1 2 1 0 1-3 1 1 1-1 1-1 1-2 1 3 1 5 1-3 1-2 1-2 1 4 1-3 1 3 1-3 1-1 1 6 1-1 1-1 1 1 1-1 1 0 1 2 1 0 1-1 1-1 1-2 1 3 1 1 1-4 1 1 1 0 1 2 1-1 1-1 1 0 1 5 1-4 1-1 1 1 1-2 1 4 1-2 1 0 1-1 1 0 1 0 1 0 1 1 1 2 1-3 1-3 1 4 1-1 1 2 1 0 1 2 1 0 1-3 1-1 1 0 1 0 1 2 1-3 1 1 1 1 1-1 1 4 1-2 1-4 1 3 1 0 1-3 1-1 1 4 1-1 1-1 1 1 1 4 1-4 1-1 1 1 1-2 1 1 1 1 1 0 1-2 1 0 1 0 1 2 1 0 1-3 1 2 1 0 1 3 1-2 1 2 1-2 1-1 1 1 1 4 1-3 1 1 1-2 1 7 1 0 1-5 1-3 1 1 1 2 1 2 1-1 1 2 1-3 1-1 1-2 1 4 1-1 1-1 1-1 1 1 1 1 1 1 1 1 1-1 1 0 1-1 1-2 1 0 1-1 1 1 1 6 1 0 1-2 1-3 1 0 1 0 1 1 1 3 1 0 1-1 1-1 1 3 1-3 1-1 1 2 1-4 1 3 1-1 1 1 1 0 1-1 1-2 1 0 1 2 1 1 1 0 1 2 1-2 1 2 1 1 1 1 1-8 1-1 1 10 1-4 1 0 1-1 1-2 1-1 1 2 1-4 1 5 1 2 1 1 1-1 1-4 1 5 1-3 1-2 1-1 1 4 1-6 1 0 1 3 1 1 1 0 1-4 1 5 1 0 1 2 1-2 1-1 1-1 1 1 1 2 1-6 1-1 1 4 1-5 1 3 1 3 1-4 1 0 1 3 1 3 1-2 1-1 1-1 1 0 1 2 1-1 1 4 1-3 1 0 1-3 1-2 1 6 1 0 1 1 1-3 1 1 1-3 1-1 1-1 1-2 1 2 1 4 1-3 1 4 1-3 1-1 1 4 1-2 1 1 1-3 1-1 1 5 1-1 1-2 1 1 1 1 1-1 1-5 1 4 1-1 1 3 1-3 1 1 1 2 1-2 1 0 1 2 1-2 1-1 1 3 1-2 1 1 1 0 1-2 1 3 1-3 1 0 1 5 1-1 1 0 1 0 1-2 1-1 1 2 1-2 1 1 1 1 1-3 1 5 1-1 1-1 1-2 1 0 1 1 1-2 1 2 1 0 1 1 1-1 1-1 1 0 1-3 1 4 1 0 1 3 1-4 1 1 1-3 1 1 1 3 1 1 1-3 1-5 1-1 1 8 1-1 1 1 1-4 1 1 1 0 1-1 1 2 1-5 1 2 1 3 1 1 1-1 1-2 1 1 1-7 1 3 1 2 1 2 1-1 1 1 1-2 1 4 1-1 1 2 1 0 1-1 1 0 1-1 1 2 1 1 1 0 1-5 1 1 1 1 1 0 1 1 1-3 1-1 1 2 1 2 1-4 1 2 1 2 1 2 1 0 1-1 1 0 1-1 1-5 1 3 1-2 1 5 1 0 1-1 1 2 1 2 1-5 1-3 1 0 1 4 1 1 1-1 1-3 1 1 1 4 1 0 1-3 1 3 1-1 1 2 1 1 1-6 1 2 1-2 1 1 1-1 1-1 1 2 1 1 1-3 1 1 1-5 1 4 1-1 1-3 1 4 1-2 1-1 1-4 1 3 1-2 1-1 1-1 1 1 1-1 1 1 1 2 1-5 1-3 1-3 1-2 1 3 1 2 1-2 1-3 1-4 1 5 1-2 1 0 1-3 1 8 1 4 1-4 1 2 1 5 1 5 1 4 1 2 1 1 1 1 1 2 1 0 1 2 1-2 1 3 1-3 1-1 1-2 1 0 1 0 1 2 1-8 1 7 1-2 1-1 1 2 1-1 1 1 1 2 1-2 1 0 1 0 1-2 1 1 1 2 1-1 1-2 1 1 1-1 1 0 1 1 1 3 1-2 1 0 1-4 1 1 1 0 1 1 1 4 1-3 1 2 1-5 1-1 1 2 1-1 1 6 1-1 1-4 1 4 1-1 1-1 1 0 1 0 1 3 1-3 1 1 1-4 1 3 1 0 1 2 1 1 1-1 1-3 1 1 1 3 1-2 1-2 1 3 1 0 1 0 1-4 1 3 1 1 1-1 1 3 1-3 1-4 1-2 1 5 1-6 1 1 1 0 1 3 1-4 1 2 1-3 1-1 1 2 1-2 1 4 1 0 1 6 1 0 1 0 1-1 1 1 1-3 1 3 1-3 1 1 1-2 1-1 1-7 1 1 1-1 1-6 1-5 1-4 1-1 1-9 1-8 1-22 1-10 1-13 1 1 1 9 1 11 1 12 1 10 1 8 1 1 1 6 1 7 1 3 1 4 1 3 1 3 1 2 1 2 1 2 1 4 1 0 1 6 1-2 1-2 1-1 1 2 1-4 1 0 1 1 1-6 1-6 1-4 1-1 1-4 1 3 1-9 1-3 1-5 1-5 1 6 1 7 1 8 1 0 1 5 1 4 1 5 1 5 1 1 1-5 1 0 1 5 1-3 1 0 1 6 1-3 1 3 1-4 1 3 1-3 1 1 1 0 1 2 1-2 1 0 1 3 1-2 1 5 1-6 1-3 1 3 1 0 1 4 1-5 1-2 1 1 1 5 1-1 1-2 1-1 1 1 1 2 1-1 1 2 1-5 1 6 1-2 1-5 1 4 1-6 1-2 1 5 1 1 1-3 1 0 1-2 1 8 1 0 1 4 1-4 1-5 1 3 1-4 1 1 1 1 1-6 1 3 1-1 1-8 1 1 1 0 1-3 1-9 1-6 1 1 1 0 1 0 1 3 1 5 1 4 1 2 1-5 1 0 1-5 1 1 1-3 1 4 1-2 1-3 1-1 1 5 1-1 1-7 1 15 1-10 1-4 1 1 1-1 1-2 1 8 1-1 1 6 1-7 1 5 1 1 1 2 1 1 1 6 1 0 1 0 1 6 1-9 1 1 1 6 1 1 1 2 1-3 1 2 1 0 1 2 1 4 1 0 1 2 1-6 1 2 1 2 1 4 1-8 1 1 1 1 1 0 1 0 1 4 1 0 1 0 1-1 1-4 1 5 1 0 1 3 1-5 1-2 1 3 1-1 1-2 1 3 1-2 1-1 1 0 1 3 1 0 1 4 1-4 1-2 1-1 1 1 1 2 1-3 1-4 1 3 1-2 1-1 1-1 1 1 1 3 1 0 1-2 1-3 1 0 1-1 1-7 1 0 1-1 1-1 1 1 1 2 1 3 1 6 1-3 1-1 1 1 1 5 1-2 1-7 1 2 1-1 1 0 1-1 1-5 1 5 1-9 1-3 1 1 1-2 1-4 1 5 1-16 1-14 1-4 1-11 1-15 1 0 1 19 1 21 1 7 1 13 1 3 1 0 1 9 1 7 1-2 1-2 1-3 1-5 1-4 1 0 1 4 1 3 1 2 1 7 1 0 1-3 1 6 1 4 1-3 1 1 1-2 1 3 1-3 1 3 1-2 1 2 1 1 1-5 1 1 1 1 1-2 1 4 1 2 1-5 1 3 1 1 1 0 1-1 1-3 1 3 1 1 1-5 1-1 1 2 1 0 1-1 1 1 1 3 1 0 1 2 1-3 1 3 1-4 1 0 1 2 1-2 1 2 1-3 1 5 1 2 1-4 1 0 1-3 1 3 1 2 1 1 1-2 1-1 1 0 1-1 1 0 1-2 1-1 1 0 1 2 1 2 1-2 1 2 1 2 1-4 1-1 1 4 1-2 1-1 1-1 1 1 1-2 1-2 1 5 1 3 1 0 1 0 1-1 1-2 1 2 1-3 1 4 1-7 1 7 1-4 1-4 1 3 1 0 1 0 1 0 1 1 1-5 1-4 1 6 1-8 1 4 1-3 1 5 1-1 1-4 1-4 1 2 1-2 1-3 1 5 1-7 1 6 1 0 1-6 1-6 1 6 1-4 1 0 1-7 1-5 1-2 1-7 1-3 1-9 1 1 1 13 1 3 1 18 1 6 1 6 1 1 1 1 1 6 1 1 1 6 1-3 1-3 1-3 1 8 1-2 1 1 1-1 1 0 1 0 1-3 1-1 1 2 1 3 1-2 1-3 1 1 1 1 1-4 1 5 1 2 1 0 1 0 1-4 1-1 1 3 1-4 1 6 1-3 1 0 1 3 1-4 1 1 1 3 1-3 1 2 1 1 1 1 1-5 1 0 1 2 1-3 1 3 1 2 1-2 1-2 1 5 1 1 1 1 1-4 1 0 1 1 1 3 1-4 1 1 1-2 1 2 1 2 1-5 1 6 1 0 1-3 1 3 1-3 1-1 1 0 1-1 1 1 1-2 1 2 1-1 1 2 1 0 1-3 1-1 1 3 1 1 1 1 1-2 1 2 1 0 1-5 1 5 1-1 1-1 1 0 1 1 1 1 1-6 1 1 1 1 1 0 1 3 1 0 1-2 1 2 1-2 1-2 1 1 1-3 1 2 1 0 1 2 1 2 1-1 1 2 1-2 1-2 1 2 1-4 1 2 1 2 1 2 1-2 1 0 1-2 1 0 1 4 1-3 1 3 1-2 1-6 1 4 1 1 1 1 1 1 1 2 1-4 1 2 1 0 1-2 1-1 1 0 1-2 1 3 1-1 1-3 1 7 1-2 1 1 1-3 1 2 1 0 1-4 1 0 1 5 1-1 1-5 1 6 1-3 1 1 1 0 1-2" stroke="#f6860a" stroke-width="1.4" stroke-opacity="1.0" stroke-dasharray="3 3 1 3" stroke-dashoffset="18"/>
<path d="M86 1257l1 2 1-7 1 1 1 2 1 2 1-1 1-1 1 3 1-1 1 1 1-3 1 1 1-3 1-2 1 2 1 2 1 1 1 2 1-3 1 0 1 2 1 1 1-4 1 0 1 1 1 3 1-4 1 1 1-2 1 1 1 1 1-1 1 0 1 0 1-2 1 1 1-1 1 2 1 0 1-6 1 5 1 0 1 2 1 3 1-6 1 1 1 3 1 0 1-3 1-2 1 2 1 3 1 0 1 0 1-3 1 4 1-1 1 1 1 1 1-2 1 1 1 2 1-4 1-4 1 2 1 2 1 2 1-4 1 1 1 1 1 1 1-2 1-1 1-2 1 1 1 1 1 0 1 2 1-3 1 4 1-2 1 1 1-3 1 4 1-1 1 1 1-2 1 1 1 0 1-3 1 1 1-3 1 0 1 2 1 1 1 0 1 3 1-3 1 3 1 0 1-5 1 1 1 0 1-1 1 5 1-6 1 2 1-1 1 2 1 3 1 1 1-5 1-3 1 3 1 0 1-1 1 3 1-2 1 0 1 3 1 0 1 1 1-5 1 0 1 3 1 2 1 0 1 0 1 2 1 1 1-6 1 0 1 0 1 0 1 3 1 0 1-2 1 3 1 0 1-3 1 0 1 3 1-2 1 3 1 0 1-1 1-2 1 0 1-2 1-1 1 3 1 3 1-1 1-1 1 0 1 0 1-3 1 3 1-2 1 4 1-1 1-2 1-3 1 2 1-1 1 0 1 4 1-2 1-2 1 1 1 0 1-1 1 4 1-3 1-3 1 3 1 3 1 0 1 0 1-7 1 8 1 0 1-3 1-1 1 2 1 1 1-1 1 2 1-3 1-1 1 4 1-2 1 1 1-2 1 3 1-2 1 1 1 3 1-5 1-1 1 5 1 0 1-4 1 3 1 0 1-3 1 2 1-1 1-3 1 6 1-3 1 1 1-2 1 2 1 3 1-4 1-2 1 1 1 0 1-3 1 2 1 5 1-4 1 2 1-1 1 2 1-5 1 0 1 2 1 2 1-1 1-2 1-4 1-1 1 3 1 1 1 0 1 3 1-3 1 1 1-1 1-1 1 1 1 2 1-2 1 3 1 0 1-3 1 2 1 0 1-2 1 4 1-3 1-1 1 1 1 3 1-1 1 0 1-2 1 4 1-5 1 1 1 5 1-3 1-1 1 0 1 2 1-3 1 0 1 0 1-5 1 3 1 2 1 1 1 4 1-5 1-2 1 1 1 4 1 0 1-4 1-1 1 2 1 2 1-2 1-1 1-1 1 5 1-2 1-4 1 3 1 0 1-1 1 0 1 3 1 0 1-5 1 5 1 0 1 0 1-3 1 5 1-3 1-2 1 1 1 3 1-2 1-4 1 4 1-1 1-3 1 2 1 1 1 1 1 1 1 1 1-6 1 3 1 3 1-2 1 0 1-3 1 3 1 0 1 0 1-6 1 1 1 1 1 2 1-3 1 5 1-3 1-2 1 3 1 2 1-2 1-3 1 2 1 0 1 0 1 0 1-2 1 0 1 3 1 1 1-4 1 0 1 2 1-1 1-1 1 2 1 0 1-1 1 0 1 0 1-1 1-1 1 2 1 1 1 1 1-1 1 3 1-3 1 1 1 3 1 0 1-3 1 2 1 3 1-3 1-1 1-2 1 2 1-1 1-2 1 4 1 1 1-3 1 3 1-6 1-2 1 3 1 0 1 2 1 0 1 1 1 1 1-2 1 0 1 0 1 2 1 2 1 2 1-3 1-3 1 0 1 2 1 0 1-1 1 0 1-1 1-1 1 4 1-5 1 0 1 2 1 5 1-2 1-5 1 1 1-1 1 1 1 1 1 0 1 3 1-2 1 0 1 2 1 2 1-3 1 1 1-1 1 0 1-2 1 0 1 2 1-2 1 2 1 0 1-1 1 2 1-6 1 2 1 4 1-3 1 3 1 1 1-2 1-2 1-1 1-1 1 4 1-1 1 3 1-2 1-2 1 0 1 0 1 3 1-2 1-1 1 3 1 2 1-2 1-4 1 0 1-2 1 1 1-2 1-1 1 0 1 3 1-3 1-2 1 2 1 0 1 1 1-1 1 3 1-6 1 0 1 3 1-1 1-1 1 2 1-2 1 1 1-1 1-1 1-6 1 4 1-4 1-1 1 3 1-1 1 1 1-2 1-3 1-2 1 1 1-2 1 3 1 3 1-3 1 2 1-5 1 12 1 7 1-2 1 5 1 0 1-3 1 3 1 2 1 4 1 3 1-4 1 0 1-5 1 3 1-2 1-1 1 3 1-2 1 0 1 2 1-1 1-3 1 1 1 2 1-4 1 2 1 3 1-5 1-1 1 0 1-2 1 5 1-3 1-1 1 0 1 5 1-3 1 0 1 1 1-2 1 3 1-3 1 0 1 2 1 2 1-3 1 3 1-3 1 1 1-2 1 1 1-1 1 1 1 1 1 2 1-1 1 0 1-1 1-4 1 5 1 0 1 1 1 2 1-1 1-4 1 2 1 1 1-1 1 1 1 0 1 0 1-3 1 2 1 2 1-2 1 1 1-2 1 1 1 1 1-1 1 3 1 0 1-6 1-3 1 4 1 2 1 0 1-3 1-3 1-3 1 5 1-5 1 0 1-2 1-5 1 5 1 5 1 6 1 0 1 1 1-2 1 2 1 3 1 1 1-1 1-2 1-1 1-2 1-3 1-1 1-2 1-4 1-6 1-5 1-6 1-1 1-6 1-9 1-16 1-15 1-4 1 0 1 6 1 9 1 11 1 6 1 16 1 5 1 3 1-1 1 4 1 2 1 7 1 1 1 3 1 0 1 2 1 3 1 3 1 0 1-2 1 3 1 1 1-1 1-3 1-1 1-6 1 3 1 0 1-6 1-4 1-4 1-5 1 2 1-5 1-2 1 0 1 7 1 2 1 2 1 3 1 3 1 5 1-3 1 8 1 0 1 1 1-2 1 5 1 0 1 3 1 0 1-3 1 1 1 0 1 0 1-3 1-2 1 0 1 1 1 5 1-3 1-1 1-2 1 2 1 4 1-6 1-1 1 3 1 0 1 3 1-5 1-1 1 5 1-3 1 4 1-2 1 2 1 0 1-5 1-2 1 5 1 0 1-3 1 2 1-1 1 1 1-4 1 1 1 1 1-1 1 2 1 0 1-1 1 0 1 3 1-5 1 1 1 0 1 0 1 0 1-1 1 0 1-1 1-1 1 0 1-1 1-7 1-4 1-2 1-6 1 3 1 5 1-7 1 0 1-3 1 9 1 0 1 1 1-1 1-6 1 5 1-1 1-6 1 5 1-1 1 4 1-8 1-5 1 2 1 7 1-1 1-5 1 4 1-2 1-2 1 5 1 1 1 0 1 2 1-1 1 0 1 7 1-3 1 4 1-3 1 4 1 1 1 0 1 0 1 5 1 4 1-1 1 2 1 0 1 0 1 0 1 0 1-1 1-4 1 6 1 4 1-1 1-2 1 0 1-2 1 3 1-3 1 1 1-1 1 1 1 2 1-3 1-2 1 3 1 1 1-4 1 1 1 4 1-1 1-2 1 4 1 1 1-2 1 2 1-3 1 1 1-1 1 4 1-3 1 1 1-5 1-2 1 2 1 1 1 0 1 0 1-3 1-1 1 1 1 3 1 2 1-2 1-4 1 2 1-2 1-3 1 4 1-1 1-8 1-5 1 6 1-2 1-2 1 9 1-1 1 0 1 3 1 2 1-4 1 3 1 2 1-6 1 0 1-3 1 1 1-2 1-3 1-1 1-2 1-1 1-4 1-3 1 0 1-11 1-13 1-15 1-1 1 10 1 6 1 12 1 11 1 11 1 1 1 2 1 6 1-2 1-3 1 1 1 0 1-4 1-4 1 1 1 3 1-3 1-2 1 5 1 8 1 4 1-2 1 0 1 1 1 5 1 0 1-3 1 3 1 2 1-1 1-2 1 2 1 0 1-6 1 1 1 4 1 0 1 1 1-5 1 0 1 1 1-1 1 4 1-2 1 1 1-1 1 1 1 1 1 1 1-1 1 2 1-4 1 2 1 0 1 1 1-3 1 2 1 1 1-3 1 0 1 1 1-1 1 2 1 2 1 0 1-4 1 1 1-1 1 2 1 1 1-1 1 0 1 0 1-1 1-1 1-1 1 1 1 1 1 2 1 0 1-5 1 3 1 1 1 1 1-1 1 0 1-1 1-2 1 4 1 0 1 0 1-3 1 1 1-1 1 3 1 2 1-3 1 2 1-3 1 2 1 1 1-2 1 2 1-2 1 0 1-4 1 1 1 4 1-6 1-2 1-2 1 3 1-6 1 4 1 2 1-2 1-4 1 2 1-2 1-2 1 3 1-1 1-4 1 0 1 1 1-4 1 2 1 2 1-5 1-1 1 0 1-1 1 1 1-8 1-3 1-4 1-1 1-7 1-11 1 2 1 9 1 14 1 7 1 7 1 3 1 2 1 6 1 3 1-4 1 1 1 1 1 2 1 4 1-2 1-4 1 2 1 5 1-5 1 1 1 0 1 3 1-1 1-4 1 4 1-3 1 1 1 3 1-2 1-2 1-1 1 1 1 0 1-1 1 3 1 4 1-3 1-2 1 0 1 3 1-1 1-1 1-3 1-1 1 2 1 0 1 0 1 0 1 2 1-1 1 1 1 0 1-2 1 3 1-3 1 3 1-3 1 2 1 0 1 2 1-5 1 6 1 0 1-3 1 1 1 0 1 1 1 4 1 0 1-4 1-1 1-1 1 0 1-1 1 2 1 0 1-1 1-1 1 6 1-2 1 0 1 1 1-4 1-5 1 6 1 2 1-2 1-4 1-1 1 4 1 0 1 0 1 1 1-5 1 3 1 3 1-2 1-1 1 1 1-1 1-1 1-1 1 1 1 3 1-4 1 2 1 2 1 1 1 0 1 0 1-4 1 3 1 2 1-2 1 2 1-3 1-1 1-2 1 2 1 6 1-2 1 1 1-6 1 3 1-3 1-1 1 0 1-1 1 6 1-3 1 5 1 1 1-3 1 0 1-1 1 3 1-3 1 2 1-1 1-2 1 3 1-1 1 0 1-5 1 0 1 0 1 4 1 0 1-1 1 1 1-5 1 6 1 0 1-1 1 1 1-1 1 1 1-3 1 3 1-1 1-2 1 2" stroke="#f6860a" stroke-width="1.4" stroke-opacity="1.0" stroke-dasharray="3 3 1 3" stroke-dashoffset="21"/>
<path d="M86 1501l1 0 1 1 1 1 1-2 1-1 1 0 1 0 1 1 1 1 1-1 1 0 1-1 1 0 1 1 1 1 1-2 1 1 1 0 1 1 1 0 1-1 1 1 1-2 1 1 1 2 1-1 1 2 1 0 1 0 1-2 1 1 1 0 1 0 1 0 1 1 1 0 1-3 1 1 1 0 1 0 1 1 1 0 1 0 1 0 1-2 1 2 1 1 1-2 1 1 1 0 1-1 1 1 1 0 1 1 1 0 1-2 1 1 1 0 1 0 1-2 1 2 1 1 1 0 1 0 1-1 1-1 1 1 1 1 1 0 1-1 1-1 1 1 1 1 1 0 1-2 1 1 1 0 1 1 1-2 1-1 1 2 1 1 1 1 1-1 1 0 1 0 1 0 1-2 1 1 1 1 1-1 1 1 1 0 1-1 1 0 1 2 1-1 1-1 1 1 1-1 1-1 1 1 1 0 1-1 1-1 1 1 1 0 1 0 1 0 1 0 1 2 1-1 1-1 1-1 1 3 1-1 1-1 1-2 1 3 1 0 1 1 1-1 1 0 1-2 1 1 1 1 1 0 1-2 1 3 1 0 1 1 1-3 1 3 1-2 1 0 1 0 1 2 1-1 1-1 1 1 1 1 1-2 1 0 1 0 1 1 1 1 1-2 1 0 1 1 1 0 1 0 1 0 1-1 1-1 1 1 1 0 1 0 1 1 1-2 1 0 1 1 1 0 1-2 1 2 1 1 1-1 1-1 1 1 1 1 1-1 1-1 1 1 1 0 1 1 1 1 1-1 1 0 1-1 1 0 1 1 1 0 1-1 1 0 1 0 1 0 1 0 1 1 1 0 1-1 1 0 1 0 1 1 1 0 1-1 1 0 1 0 1 1 1-1 1 1 1-1 1-1 1 1 1 0 1-1 1 0 1 0 1-1 1 1 1-1 1 0 1 2 1-1 1 0 1 2 1-1 1-1 1 1 1 0 1-1 1 0 1 1 1-1 1 0 1 0 1 0 1 0 1 2 1-2 1 0 1-1 1 0 1-1 1-1 1 2 1 1 1 0 1-3 1 2 1 2 1-2 1 0 1 1 1 0 1 1 1-2 1 1 1-1 1 1 1 0 1 0 1-2 1 2 1 0 1 1 1 0 1 1 1-2 1 2 1-2 1-1 1 1 1 1 1 0 1 1 1 0 1-2 1 1 1 0 1 2 1-1 1-1 1 0 1-1 1 0 1 1 1 1 1-1 1-1 1 0 1 0 1-1 1 2 1 1 1-1 1-1 1 0 1 2 1-1 1 1 1-2 1 1 1-1 1 1 1-1 1 0 1 1 1 0 1 0 1 0 1 0 1 0 1 0 1-1 1 1 1-1 1 1 1-1 1 0 1 0 1 1 1 0 1 0 1-1 1 1 1-2 1-2 1 2 1-1 1 1 1 1 1-1 1-1 1 0 1 0 1 0 1 2 1 1 1-2 1-1 1 1 1 0 1 1 1 0 1 0 1-1 1 1 1 0 1 0 1 1 1-1 1 0 1 0 1 0 1-2 1 2 1-1 1 0 1 1 1 0 1 1 1 1 1-3 1 1 1-1 1 1 1-1 1 2 1 1 1-1 1-3 1 2 1-2 1 0 1 2 1-1 1 1 1 0 1-1 1-2 1 3 1 0 1 0 1-1 1 1 1 0 1-2 1 0 1 1 1 2 1-2 1 0 1 0 1-1 1 0 1 1 1-1 1-1 1 1 1 0 1 0 1 1 1 1 1 0 1 1 1-2 1 0 1 0 1 1 1 0 1 0 1 2 1 0 1-1 1-1 1 0 1 0 1 0 1 0 1-1 1 1 1-1 1 1 1-1 1 1 1-2 1 3 1-1 1 1 1-1 1-1 1 2 1 0 1 0 1 0 1-2 1 2 1-1 1 0 1 0 1 1 1 0 1 0 1 0 1 0 1-1 1-1 1 2 1 0 1-2 1 2 1-2 1-1 1 3 1-1 1 0 1 0 1-1 1-1 1 0 1-1 1 4 1 0 1-2 1 1 1-1 1-1 1 0 1-1 1 0 1-1 1 1 1 0 1-2 1 0 1-1 1-2 1-1 1 2 1 0 1-1 1 0 1 0 1-1 1 1 1-1 1 1 1-2 1 0 1-3 1 1 1-1 1 0 1-1 1-1 1 0 1-1 1-1 1 1 1-1 1-4 1-2 1 2 1 1 1 1 1 5 1 4 1 4 1 2 1 2 1 2 1 0 1 1 1 1 1-1 1 1 1 1 1-1 1-1 1 2 1-1 1-2 1 2 1-2 1 0 1 0 1 0 1 0 1-1 1-1 1 1 1 1 1 0 1 0 1 0 1-1 1 1 1-1 1 1 1 0 1-1 1 1 1-2 1 0 1 0 1 2 1 1 1-3 1 2 1 0 1-1 1 0 1 0 1 2 1-2 1 2 1-1 1-1 1 0 1 0 1 1 1-1 1 0 1-2 1 2 1 1 1-2 1 2 1-1 1 0 1-1 1 1 1 1 1 0 1 1 1-1 1-1 1 0 1 1 1 0 1 1 1-1 1 0 1 0 1 1 1 0 1-2 1 1 1-2 1 2 1-2 1-1 1 0 1 1 1-2 1-2 1 0 1-3 1 1 1-2 1-1 1 3 1 1 1 3 1 1 1 1 1 1 1 1 1 1 1 0 1-1 1 0 1-2 1-2 1-4 1 0 1-2 1-1 1-6 1-5 1-7 1-5 1-6 1-16 1-11 1-14 1-12 1 2 1 8 1 13 1 13 1 11 1 8 1 6 1 3 1 7 1 2 1 3 1 3 1 2 1 4 1 2 1 2 1 2 1 2 1 2 1 1 1 0 1-2 1 0 1-1 1-2 1-3 1-3 1 0 1-5 1-5 1-1 1-4 1-4 1-5 1-3 1 3 1 6 1 4 1 4 1 8 1 2 1 0 1 2 1 2 1 0 1 3 1-1 1 1 1 1 1 1 1-1 1 0 1 1 1-1 1 0 1-2 1 0 1 1 1 0 1-2 1-1 1 2 1 1 1-1 1 0 1-1 1 1 1 1 1-2 1 2 1 0 1 1 1-1 1 0 1-1 1 1 1 1 1-1 1 0 1 1 1-1 1-2 1 2 1 0 1-2 1 2 1 1 1-3 1 2 1-1 1 1 1-2 1 0 1 1 1 1 1-1 1 1 1-2 1-1 1 1 1-3 1-1 1 2 1-3 1-3 1 0 1-3 1-3 1-3 1-5 1-2 1 3 1 0 1 2 1 4 1 1 1 2 1 0 1-3 1-2 1 0 1-1 1 1 1 0 1-3 1 0 1-2 1 2 1 0 1-1 1-1 1 1 1-1 1-1 1 1 1 3 1 0 1 1 1 0 1 3 1 2 1 3 1-1 1 2 1 0 1 2 1 2 1 0 1 1 1 0 1 2 1 1 1 0 1 0 1 1 1 1 1 0 1-1 1 0 1 3 1 0 1-2 1 0 1 2 1 1 1 0 1-2 1 1 1 1 1-3 1 1 1 1 1-1 1 3 1-1 1-2 1-1 1 3 1 0 1-1 1-1 1 0 1-1 1 2 1-1 1 0 1 0 1-1 1 2 1-2 1 0 1 1 1 0 1 1 1 0 1-2 1 1 1-1 1-1 1 1 1 0 1-1 1 0 1-3 1 2 1-3 1-2 1-1 1-7 1 0 1 1 1 1 1 3 1 2 1 0 1-2 1 4 1 0 1 1 1-1 1-2 1-1 1-1 1 1 1-2 1-4 1-2 1-3 1-2 1 1 1-5 1-4 1-5 1-10 1-13 1-10 1-5 1 8 1 14 1 10 1 10 1 10 1 4 1 5 1 3 1 3 1-4 1 0 1-4 1-1 1-3 1-3 1 4 1 3 1 4 1 1 1 4 1 2 1 1 1 0 1 1 1 2 1 0 1 1 1-1 1 1 1 0 1-1 1 0 1 1 1-2 1 0 1 0 1-1 1 2 1-3 1 2 1 1 1 0 1-3 1 2 1 1 1 1 1-1 1 0 1-1 1 0 1-1 1 2 1 0 1-2 1-1 1 3 1 1 1-2 1 0 1 0 1 0 1 0 1 2 1 0 1-1 1 1 1 0 1 0 1 0 1-1 1 2 1-1 1 1 1-1 1 0 1 1 1 0 1-1 1 1 1 1 1-1 1-1 1 2 1-1 1-1 1 1 1 1 1 0 1-1 1 0 1-2 1 2 1 1 1-2 1 1 1 1 1 0 1-2 1 1 1 0 1-1 1 1 1-1 1 1 1 0 1-1 1 0 1-2 1 0 1-2 1 0 1 1 1-3 1 2 1-1 1-1 1 1 1-3 1-1 1-1 1-2 1 2 1-2 1-1 1 1 1-1 1-4 1-3 1 2 1-1 1-1 1-3 1-3 1-3 1 0 1-4 1-3 1-6 1-7 1 4 1 9 1 8 1 7 1 5 1 8 1 4 1 1 1 1 1 0 1 2 1 0 1 1 1 0 1-1 1 0 1 0 1 1 1-1 1 2 1 1 1-2 1-1 1 0 1 1 1-1 1 0 1 0 1 1 1 0 1 1 1-2 1 1 1 0 1 0 1 1 1 0 1-2 1 0 1 3 1-1 1 1 1-1 1 1 1-1 1 0 1 0 1-2 1 0 1 2 1-1 1 1 1-4 1 0 1 2 1 1 1 1 1-2 1 0 1 1 1 0 1 0 1 1 1-2 1 1 1-1 1 0 1 0 1 1 1-1 1 0 1 0 1 0 1 0 1 1 1-1 1-2 1 1 1-1 1 1 1-1 1 0 1 0 1 0 1 2 1 0 1 0 1-2 1 1 1 1 1 0 1 1 1 0 1 1 1-2 1 0 1-1 1 1 1 0 1 1 1 0 1 1 1 0 1 0 1 1 1-2 1 0 1 1 1-1 1-1 1 0 1 0 1 2 1-2 1-1 1 1 1 1 1-3 1 1 1 0 1 0 1-2 1 3 1 0 1-2 1 1 1-1 1 0 1 1 1 0 1 0 1 0 1 1 1-1 1 0 1 1 1 0 1-1 1 1 1 0 1 0 1 0 1-1 1 1 1 0 1-1 1 0 1 3 1-2 1 0 1-1 1 2 1-1 1-2 1 1 1 2 1 2 1-3 1 0 1 1 1-1 1 0 1-1" stroke="#1414ff" stroke-width="1.5" stroke-opacity="0.9" stroke-dasharray="6 4 2 4" stroke-dashoffset="0"/>
<path d="M86 1504l1 1 1-1 1 1 1 0 1-1 1 1 1-2 1 3 1-1 1 0 1 1 1-1 1 0 1-1 1-2 1 2 1 0 1-1 1 2 1 1 1-2 1 1 1 0 1-2 1 2 1 0 1 0 1-2 1 1 1 3 1-1 1-1 1 0 1 1 1 0 1-1 1 0 1 0 1 1 1-1 1-1 1 1 1 1 1-2 1 2 1-3 1-1 1 2 1 1 1 0 1 0 1 1 1-1 1 0 1 2 1-2 1-1 1 0 1 0 1-1 1 1 1 3 1-2 1 0 1 0 1 0 1 1 1-1 1 2 1-2 1 0 1 1 1-1 1 0 1 1 1-2 1 1 1 2 1 0 1-1 1 0 1 0 1 0 1-1 1 0 1 1 1-1 1 1 1 0 1 0 1 1 1 1 1-3 1 1 1-1 1 1 1 1 1-1 1-1 1 1 1 0 1 0 1 1 1-1 1-1 1 1 1 0 1-1 1 0 1 1 1-1 1 2 1-1 1-1 1 0 1 1 1 0 1-1 1 2 1-2 1 0 1 0 1 0 1 1 1 0 1-1 1 0 1 0 1 1 1 0 1 0 1 1 1 0 1 0 1 0 1-2 1 0 1 1 1 1 1-1 1 0 1 0 1 0 1 0 1-1 1 0 1-1 1 1 1 1 1-2 1 1 1 1 1-2 1 1 1 2 1-1 1-1 1 1 1-1 1 0 1 0 1 1 1-1 1 1 1 1 1-1 1-2 1 2 1 1 1 1 1-1 1-2 1 0 1 1 1-1 1 1 1 0 1 0 1-1 1-1 1 1 1 1 1-1 1 1 1-1 1 0 1 0 1 2 1-1 1 0 1 0 1-2 1 1 1 1 1-1 1 0 1 1 1-1 1-1 1 1 1 0 1-2 1 1 1 0 1 0 1 0 1 0 1 2 1 0 1 0 1-1 1-1 1 0 1 0 1 0 1 1 1 0 1 0 1 0 1 0 1-1 1 1 1 0 1 1 1-1 1 1 1-2 1-1 1 2 1 0 1 0 1 0 1-1 1 0 1-1 1 2 1 0 1 0 1 0 1 1 1-4 1 3 1-1 1 0 1 1 1 1 1-2 1 1 1 0 1 1 1-1 1 0 1 1 1-1 1 1 1-2 1 0 1-1 1 0 1 2 1 0 1 0 1 1 1 0 1-2 1 2 1-1 1 0 1 0 1 0 1-1 1 1 1 0 1-1 1 1 1-2 1 2 1-1 1 1 1-1 1-1 1 1 1 1 1 0 1 0 1-1 1 2 1-2 1 2 1 0 1 0 1-1 1 1 1 2 1-2 1-1 1 0 1 0 1 0 1-1 1 1 1 0 1 0 1-1 1 1 1 1 1-1 1 0 1 1 1-1 1-1 1 1 1 0 1 0 1 2 1-2 1 0 1-1 1 1 1-2 1 1 1 1 1-1 1 2 1-1 1-2 1 1 1 1 1 0 1 0 1-1 1 0 1 0 1 1 1-1 1 0 1 0 1 1 1 1 1-1 1 0 1 1 1-1 1-1 1 1 1-2 1 2 1-1 1 1 1-1 1 0 1 1 1 0 1 0 1 1 1-2 1-1 1 3 1 1 1-2 1 1 1 0 1-1 1 0 1 0 1-1 1 0 1-1 1 3 1-1 1-1 1 0 1 1 1 0 1 1 1 0 1 0 1 1 1-1 1-3 1 0 1 0 1 1 1-1 1 2 1-1 1-1 1 1 1 1 1-1 1 2 1-1 1 0 1-1 1 2 1-1 1 1 1-1 1 0 1 0 1 0 1 0 1 1 1-1 1-1 1 1 1-1 1 0 1 2 1 0 1-1 1 0 1 1 1 0 1 0 1 0 1-2 1 1 1 1 1 0 1-1 1 0 1 2 1-1 1 0 1-1 1 0 1 0 1 1 1-1 1 0 1 0 1 2 1-1 1-1 1-1 1 2 1-1 1 0 1 0 1 0 1 0 1 1 1 0 1-2 1 1 1 2 1-1 1-1 1 0 1-1 1 3 1 0 1-3 1 0 1 2 1-2 1 1 1 0 1 0 1-3 1 1 1-3 1 0 1 1 1-2 1-1 1 2 1-2 1 1 1-3 1 1 1-2 1-3 1 1 1 1 1-2 1 1 1 0 1-2 1 2 1-2 1-2 1 3 1-2 1-1 1-1 1-2 1-1 1-2 1-1 1 1 1 2 1 4 1 1 1 4 1 3 1 3 1 2 1 2 1 0 1 2 1 0 1 1 1 1 1-1 1 0 1-1 1 0 1-1 1 0 1 0 1-1 1 0 1 1 1-1 1 0 1 0 1 2 1-2 1 0 1 1 1 0 1-1 1 1 1 1 1-1 1 2 1-1 1 0 1-1 1 2 1-2 1 0 1 0 1-2 1 2 1 0 1-1 1-2 1 2 1-1 1 3 1-2 1 0 1-1 1 0 1-1 1 3 1-1 1 0 1 1 1-2 1 0 1 1 1 0 1 0 1 1 1 1 1-1 1 0 1 0 1-1 1 1 1 1 1-2 1 0 1 0 1 1 1-1 1 0 1 2 1-3 1 2 1 1 1-2 1 0 1-2 1 1 1 0 1 0 1 0 1-1 1-3 1 1 1 0 1-4 1-3 1 0 1 3 1 0 1 1 1 3 1 1 1 2 1 1 1 2 1 0 1 3 1-1 1-3 1 0 1 0 1-4 1-6 1 1 1-3 1-1 1-6 1-3 1-5 1-10 1-10 1-12 1-8 1-10 1-2 1 9 1 11 1 10 1 9 1 5 1 7 1 5 1 2 1 0 1 3 1 4 1 2 1 2 1 2 1 4 1 3 1 2 1 2 1-2 1 1 1 0 1-3 1 0 1-2 1-5 1 1 1-3 1-2 1-3 1-3 1-3 1-6 1-5 1-1 1 3 1 5 1 1 1 5 1 5 1 3 1 4 1 1 1 0 1 3 1 0 1 1 1 1 1 1 1 0 1 0 1 1 1 1 1-2 1-1 1-1 1 1 1 0 1 2 1-1 1-1 1 1 1-1 1-1 1 2 1 0 1-1 1 1 1-1 1 0 1 0 1 2 1-1 1 0 1 0 1 1 1 0 1-1 1-1 1 0 1-1 1 2 1 0 1-1 1 1 1-2 1 3 1-1 1-2 1 0 1 1 1-1 1 0 1-1 1 1 1-2 1 2 1 1 1-1 1 0 1-1 1-1 1-2 1-1 1-2 1-1 1-3 1-1 1-6 1-4 1-1 1 2 1 3 1 1 1 0 1 2 1 0 1 0 1 0 1 0 1-3 1 1 1-1 1-1 1 0 1-4 1 0 1-1 1 1 1-3 1-1 1 3 1 2 1 0 1 0 1 3 1-3 1 2 1 0 1 0 1 3 1 2 1 2 1 0 1 2 1 0 1 3 1 2 1 3 1-3 1 0 1 2 1 3 1-1 1-2 1 2 1 2 1 0 1 2 1-3 1 1 1 1 1 1 1 0 1-1 1 0 1 0 1 0 1 0 1 1 1 2 1-2 1-2 1 1 1 1 1-1 1 0 1-1 1 0 1 1 1 2 1-1 1-1 1-2 1 2 1 0 1 0 1 0 1-1 1-1 1 0 1 0 1 2 1-3 1 1 1 1 1 0 1-1 1-1 1 0 1 1 1 0 1 2 1-2 1-2 1 0 1-3 1-3 1-1 1-1 1-3 1 3 1 2 1 0 1 2 1 0 1 4 1-2 1-1 1 0 1 2 1-3 1-1 1 0 1-2 1 0 1-3 1-1 1-2 1-1 1-1 1-5 1-2 1-11 1-5 1-4 1-2 1 3 1 8 1 8 1 6 1 6 1 6 1 3 1 4 1-3 1 1 1-2 1-7 1-1 1-2 1-3 1 3 1 4 1 2 1 4 1 2 1 1 1 1 1 0 1 2 1 0 1 0 1 3 1 1 1-4 1 2 1 1 1-1 1 0 1 0 1-1 1 1 1 1 1-1 1-1 1 0 1 1 1 1 1-2 1 2 1 0 1 0 1 0 1-1 1-2 1 3 1-1 1-1 1 1 1 2 1-2 1-1 1 1 1 1 1 0 1 0 1-2 1 0 1-1 1 1 1 2 1 0 1-1 1-2 1 2 1 0 1-1 1 2 1 0 1-3 1 3 1-1 1 0 1 1 1 1 1-1 1-1 1 2 1-1 1 0 1 0 1 0 1 0 1 1 1-1 1 0 1-2 1 2 1 1 1 0 1-2 1 1 1 1 1-2 1 0 1 0 1-2 1 0 1 1 1 1 1 1 1-3 1-1 1-2 1 3 1-1 1-1 1-2 1-2 1 1 1 0 1-1 1-1 1-2 1-1 1 2 1-1 1-1 1-3 1 0 1-1 1 0 1 0 1-2 1 0 1-3 1 0 1-1 1 0 1-2 1-2 1-3 1-6 1-6 1-4 1 1 1 6 1 10 1 9 1 6 1 4 1 2 1 3 1 3 1 0 1 1 1 1 1 0 1 0 1-1 1 1 1-1 1 0 1 1 1 0 1 0 1-2 1 2 1 2 1-1 1-1 1 1 1-1 1-1 1 1 1 1 1 0 1 0 1 1 1-3 1-1 1 2 1 1 1-1 1 1 1-1 1 1 1 2 1-2 1-1 1 0 1 1 1 0 1-1 1 2 1-3 1 1 1 1 1 1 1 0 1-2 1 0 1 0 1 0 1 1 1 1 1-2 1 1 1-1 1 1 1-2 1 3 1-1 1 1 1 1 1 0 1-2 1-2 1 0 1 1 1 0 1 0 1-1 1 1 1 0 1 0 1 1 1 0 1-3 1 1 1-1 1 2 1 1 1-1 1 0 1-1 1 0 1 0 1 1 1 1 1-2 1-1 1 2 1 0 1-1 1 0 1 2 1-1 1-1 1 1 1 0 1-1 1 1 1 1 1-1 1 1 1-2 1 1 1 1 1-3 1 0 1 2 1 0 1 0 1 0 1 0 1 1 1-1 1-2 1-1 1 0 1 0 1 1 1 1 1 0 1-1 1 2 1-2 1-1 1 0 1 2 1 1 1 0 1-1 1-1 1 2 1 0 1-1 1-1 1 1 1 1 1 0 1-2 1 1 1 0 1-1 1 1 1-1 1 0 1 1 1 1 1-2 1 1 1-1 1 0 1 1 1 0 1 0" stroke="#1414ff" stroke-width="1.5" stroke-opacity="0.9" stroke-dasharray="6 4 2 4" stroke-dashoffset="3"/>
<path d="M86 1507l1-2 1 2 1-1 1-1 1 1 1 0 1 0 1-1 1 1 1 0 1 1 1-2 1 1 1-1 1 0 1 1 1 0 1 0 1-1 1 1 1-1 1 2 1 0 1 2 1-1 1-2 1 1 1 1 1-2 1 0 1 1 1 0 1 0 1-1 1 0 1 0 1-1 1 1 1 0 1-1 1 1 1 1 1-2 1 0 1 1 1 0 1-1 1 1 1-1 1 0 1 1 1 0 1 0 1 1 1 2 1-2 1-1 1 0 1 1 1 0 1 1 1 0 1 1 1 0 1-1 1-1 1 1 1 0 1 1 1-1 1 0 1 0 1 0 1 0 1 1 1-1 1-1 1 2 1 0 1 0 1-2 1 0 1 1 1 1 1-1 1 0 1-1 1-1 1 1 1 1 1-1 1-1 1 0 1 2 1-1 1 1 1-3 1 1 1 0 1 0 1 1 1 1 1 0 1 0 1 1 1 0 1-1 1 0 1 0 1 3 1-2 1 2 1 0 1-1 1-1 1 3 1-2 1 0 1-1 1-1 1 2 1 0 1 1 1-2 1 0 1 0 1 2 1-2 1 0 1 1 1-2 1 1 1-3 1 3 1 0 1 0 1 0 1-1 1 1 1-1 1 1 1-1 1 1 1-1 1 0 1 1 1 0 1-1 1 0 1 0 1 0 1 0 1 0 1-1 1 1 1-3 1 2 1 1 1 0 1-1 1 1 1 0 1 0 1 0 1 0 1-2 1 1 1 1 1-1 1 1 1-1 1 0 1 0 1 1 1-1 1 0 1 3 1-1 1-1 1 0 1 0 1-1 1 1 1 1 1 0 1 1 1-2 1 2 1-1 1-1 1 0 1 1 1-1 1-1 1 2 1 0 1 0 1-2 1-1 1 1 1 0 1 1 1-1 1 2 1-2 1 1 1 0 1 0 1-1 1 1 1 0 1 0 1-1 1 0 1-2 1 1 1 1 1 0 1 1 1-1 1 0 1 0 1 1 1 0 1 0 1-1 1 0 1 0 1 0 1 1 1 0 1-1 1 1 1-2 1 1 1-2 1 0 1 0 1 1 1 2 1-1 1 0 1 1 1-2 1 2 1-1 1 1 1 0 1 1 1-1 1 0 1-1 1 2 1-1 1-1 1 1 1-1 1 0 1 3 1-1 1-1 1 1 1-1 1 0 1 0 1-1 1 0 1 0 1 0 1 0 1 0 1 0 1-1 1 1 1 0 1 1 1 0 1-1 1-1 1 2 1 0 1-1 1 1 1-2 1 1 1-2 1 2 1 1 1-2 1-1 1 2 1 0 1 0 1-1 1 1 1-1 1-1 1-1 1 2 1-1 1 1 1 1 1-1 1 2 1 0 1 0 1-3 1 1 1 1 1 1 1-1 1-2 1 3 1-1 1-1 1-2 1 2 1 0 1-2 1 2 1 0 1 0 1-1 1 2 1-1 1 2 1-1 1 1 1-1 1-1 1 0 1 1 1 0 1-1 1-1 1 0 1 1 1-1 1 2 1 2 1 0 1 0 1-1 1 0 1-2 1-1 1 1 1-1 1 3 1-1 1 0 1 0 1 0 1 0 1 0 1-1 1 1 1 0 1 0 1-1 1 1 1 0 1 1 1-1 1 0 1 0 1-1 1-2 1 2 1 1 1 0 1-2 1 2 1 1 1-2 1 1 1 1 1-2 1 1 1-1 1 1 1 0 1-2 1 0 1 3 1-2 1 1 1-1 1 2 1-2 1-1 1 1 1-1 1 0 1 0 1 3 1 0 1-2 1 2 1-2 1 2 1 0 1-2 1 2 1-1 1-1 1 0 1 1 1 1 1-1 1 1 1 1 1 0 1-3 1 2 1 0 1 0 1 2 1-2 1 1 1 0 1-1 1 0 1 0 1 2 1-2 1 1 1 0 1-2 1 0 1 0 1 1 1 1 1-2 1 0 1 1 1 0 1-1 1 0 1 1 1 0 1 0 1-1 1 0 1 1 1 0 1 0 1-1 1 0 1 1 1 0 1 1 1-2 1 1 1-3 1 1 1-4 1 2 1 2 1-1 1 2 1-2 1-2 1 0 1-1 1-2 1 1 1 3 1-5 1 0 1-1 1 1 1-1 1-3 1 1 1 1 1-2 1 2 1-2 1 0 1 0 1-5 1 1 1-1 1-4 1-1 1-1 1-6 1-2 1-1 1-5 1 4 1 5 1 3 1 4 1 6 1 4 1 2 1 7 1 0 1 0 1 1 1 3 1 0 1 0 1-1 1-1 1 1 1-2 1 0 1 1 1 0 1-1 1-1 1 0 1 0 1 3 1-1 1-1 1 1 1 0 1 2 1-1 1-1 1-2 1 1 1 0 1 0 1-1 1 0 1 1 1-1 1 1 1 1 1 0 1 0 1-2 1 1 1 1 1 1 1-1 1 0 1-1 1 0 1 0 1 0 1-2 1 0 1 0 1 2 1-1 1 0 1 1 1-1 1 0 1 0 1 1 1 0 1-1 1 2 1-2 1 0 1 0 1 1 1 0 1 0 1-2 1 2 1 0 1 1 1-2 1 0 1 0 1-1 1 0 1 1 1 0 1-1 1 0 1-1 1-2 1 2 1-2 1 0 1 0 1-4 1-2 1 0 1-2 1 4 1-1 1 0 1 2 1 4 1 3 1-2 1 3 1 1 1 1 1-1 1-1 1-1 1-2 1-3 1-3 1-1 1-5 1-5 1-6 1-7 1-1 1-8 1-12 1-19 1-13 1-4 1 2 1 13 1 9 1 15 1 6 1 11 1 3 1 4 1 4 1 2 1 4 1 4 1 1 1 2 1 2 1 3 1 3 1 3 1 1 1-1 1 0 1-1 1-2 1-2 1-1 1-2 1-2 1-4 1-4 1-5 1 0 1-7 1-3 1-8 1-1 1 7 1 4 1 6 1 7 1 1 1 3 1 4 1 1 1 2 1 1 1 3 1 3 1-2 1 0 1 3 1-1 1 0 1 0 1-2 1-1 1 1 1 0 1-1 1 0 1 1 1 1 1-2 1 1 1 1 1-2 1 2 1-1 1-2 1 1 1 1 1 1 1 0 1-1 1 1 1 1 1 0 1 1 1-4 1 1 1 1 1 1 1-1 1 0 1 1 1-2 1 1 1-2 1 2 1 1 1-2 1 1 1-2 1 2 1-1 1-1 1 1 1-2 1 1 1 0 1 0 1-2 1-1 1-2 1-2 1-2 1-1 1-5 1-2 1-5 1-5 1 0 1 2 1 3 1 3 1 1 1 1 1 0 1 1 1-1 1-2 1 0 1-1 1-1 1-2 1-2 1 0 1-1 1 1 1 0 1 0 1-3 1 2 1 2 1-2 1 3 1-3 1 3 1 2 1 0 1 4 1-2 1 0 1 4 1 2 1 2 1 3 1-2 1 2 1 0 1 2 1 0 1 1 1 0 1 2 1-1 1 2 1-1 1 1 1-1 1 2 1 3 1-1 1 0 1-1 1 1 1 1 1 0 1 0 1 1 1-1 1 0 1-1 1 0 1 1 1 1 1 1 1-2 1 0 1-1 1-1 1 2 1 0 1-1 1 0 1 3 1 0 1-1 1-3 1 2 1-1 1-1 1 0 1 1 1-2 1 0 1 2 1-1 1 0 1-1 1-2 1 3 1-2 1-2 1 0 1-2 1 1 1-4 1-4 1-2 1-1 1 2 1 1 1 5 1 2 1-2 1 0 1 1 1 1 1-1 1 1 1-3 1 1 1-2 1 0 1-3 1-1 1-7 1 1 1-1 1-3 1-6 1-9 1-7 1-16 1-11 1-9 1 1 1 10 1 12 1 15 1 14 1 10 1 4 1 3 1 2 1 0 1 1 1-7 1 1 1-1 1-5 1 2 1 4 1-1 1 4 1 3 1 5 1-1 1 2 1 1 1 3 1 2 1-3 1 0 1 1 1 1 1-2 1 2 1-1 1 0 1 0 1-1 1 2 1-1 1 1 1-1 1 2 1-1 1 1 1 0 1 2 1-1 1 0 1 0 1 0 1 0 1 1 1 0 1-1 1 0 1-2 1 1 1 2 1-1 1-1 1 2 1 0 1 0 1-1 1 0 1-1 1 0 1 2 1-1 1-1 1 0 1-1 1 0 1 0 1 1 1 2 1 1 1-3 1 1 1-1 1 0 1 0 1 2 1-1 1 1 1-2 1 1 1 0 1 0 1 1 1-1 1 0 1-1 1 1 1 0 1 0 1 1 1 0 1-2 1 0 1 0 1 3 1 2 1-3 1-1 1 1 1-2 1-2 1-1 1 0 1 2 1-3 1-2 1 0 1 0 1 0 1-1 1-1 1 0 1-2 1-2 1 1 1-1 1-1 1-4 1 1 1-1 1-2 1-1 1 2 1-2 1-1 1-5 1-3 1-1 1-1 1-4 1-4 1-8 1-5 1-4 1 2 1 14 1 7 1 13 1 5 1 6 1 3 1 0 1 3 1 0 1 0 1 2 1-2 1 2 1-1 1 1 1 0 1 3 1-2 1-1 1 0 1-1 1 1 1 1 1 1 1 1 1-2 1 1 1-1 1 1 1-2 1 1 1 1 1 0 1 0 1 0 1 0 1 1 1-3 1 2 1 1 1-1 1 0 1-1 1 1 1 0 1-1 1 3 1-2 1 0 1 0 1-1 1 1 1 1 1-1 1-1 1 0 1 1 1-1 1 2 1-2 1 0 1-1 1 2 1 1 1-1 1-1 1 0 1 2 1-1 1-1 1 2 1-2 1 3 1-1 1-1 1 0 1-1 1 2 1-2 1 1 1 0 1 0 1 1 1-1 1 1 1-1 1-2 1 2 1 1 1-1 1-2 1 1 1-1 1-1 1 1 1 2 1 1 1 0 1-2 1 0 1 0 1-1 1 3 1-2 1 0 1 1 1-1 1 0 1 0 1 0 1 1 1-2 1 0 1-1 1 3 1 0 1 0 1-1 1 1 1-2 1 0 1 2 1-1 1 2 1-1 1-1 1-1 1 1 1-1 1 1 1 0 1 1 1-2 1 0 1 1 1 1 1-1 1-1 1-2 1 3 1 1 1 0 1 0 1 1 1 0 1-1 1-1 1 1 1-1 1 0 1 0 1-1 1 2 1 0 1 2 1-2 1-1 1 2 1 0 1 0 1-2 1 2" stroke="#1414ff" stroke-width="1.5" stroke-opacity="0.9"/>
<path d="M86 1508l1-1 1 1 1 0 1 0 1-1 1 0 1 2 1 0 1-2 1 1 1 0 1-2 1 2 1-1 1 1 1 0 1 0 1 0 1 1 1-1 1 1 1-1 1 0 1-1 1 1 1 0 1-1 1 2 1-1 1 0 1-2 1 0 1 2 1 1 1-2 1 0 1 1 1 0 1 0 1 0 1 0 1 1 1 0 1-1 1 1 1-1 1 1 1 0 1 0 1-1 1 0 1-1 1 2 1-1 1-1 1 1 1-1 1 1 1 1 1-2 1 2 1-1 1 0 1 0 1 0 1 1 1 0 1-1 1 0 1 1 1 0 1-1 1 0 1 0 1 1 1-2 1 1 1 2 1 0 1-1 1-1 1 1 1 0 1 0 1 0 1 0 1 1 1 0 1 0 1-2 1 1 1 1 1 1 1-1 1 0 1 1 1 0 1-2 1 0 1 2 1-2 1 0 1 0 1 2 1-2 1 0 1 0 1 0 1 1 1 2 1-3 1 1 1-1 1 0 1 1 1 0 1 1 1-2 1-1 1 2 1-1 1-1 1 3 1-2 1 0 1 0 1 1 1-1 1-1 1 3 1-1 1 0 1 0 1-1 1 2 1-1 1-1 1 0 1-1 1 2 1 0 1-2 1 1 1 0 1-2 1 2 1 1 1-1 1-1 1-1 1-1 1 2 1 1 1-1 1 1 1-2 1 2 1-1 1 2 1 0 1-1 1-1 1 0 1 0 1 2 1 0 1-1 1 0 1-1 1 0 1 1 1 0 1-1 1 0 1 2 1-1 1 1 1-2 1 3 1-1 1-2 1 1 1 0 1 0 1 1 1 0 1-1 1 0 1 0 1 1 1-3 1 2 1 0 1-1 1 2 1-2 1 0 1 1 1-1 1 2 1-2 1 0 1 2 1-1 1-2 1-1 1 1 1 1 1-1 1 0 1 1 1 0 1 1 1-2 1 1 1 1 1-1 1 1 1 0 1 0 1 0 1-1 1 2 1-2 1 2 1 0 1-1 1 0 1-1 1-1 1 1 1 0 1 0 1 1 1 0 1 0 1-1 1-1 1 1 1 0 1 2 1-1 1-1 1-1 1-1 1 2 1 1 1 0 1 0 1-1 1 1 1 1 1-1 1 0 1-2 1 0 1 0 1 1 1 0 1 0 1 0 1 1 1 0 1-1 1 1 1 1 1-1 1-1 1 2 1-2 1 0 1 1 1-1 1 0 1-1 1 1 1-1 1 0 1 0 1 2 1 0 1-1 1 0 1 0 1 0 1 0 1-1 1 1 1-1 1 1 1 0 1-1 1 2 1 0 1 0 1 0 1-2 1 1 1 0 1 0 1 0 1 1 1-1 1-1 1 1 1 0 1 1 1 0 1-2 1 2 1 0 1-1 1 1 1-1 1 1 1 0 1 0 1 0 1 1 1-3 1 2 1 1 1 0 1 0 1-1 1-1 1 1 1-2 1 0 1 2 1-1 1 0 1 0 1-1 1 2 1 0 1-1 1-1 1 1 1 1 1-1 1 1 1-1 1 1 1-1 1 1 1 1 1-1 1 0 1 1 1-1 1 1 1-1 1 0 1 1 1-1 1 0 1 1 1 0 1-1 1 0 1 0 1-1 1 0 1 0 1 0 1 0 1 3 1-1 1-1 1-1 1 2 1 0 1 0 1 0 1 0 1-1 1 0 1-1 1 0 1 2 1-1 1 1 1 1 1-1 1 0 1-1 1 0 1 1 1 0 1 1 1-1 1 2 1-2 1-1 1 0 1 0 1 1 1-1 1 1 1-1 1 1 1 0 1-1 1 0 1 0 1 0 1-1 1 0 1 0 1 1 1-1 1 1 1-1 1 0 1 1 1 0 1 1 1-1 1-2 1 2 1-3 1 3 1-1 1 1 1 0 1 0 1 3 1-2 1-1 1 2 1-1 1-1 1 0 1 0 1 2 1-3 1 1 1 0 1 1 1-1 1 1 1 1 1 1 1-3 1 1 1 0 1-1 1 2 1 1 1-4 1 0 1 1 1-1 1 0 1-1 1 0 1-1 1-1 1 0 1 0 1-1 1-1 1 0 1 1 1-3 1 1 1-1 1-1 1 0 1 0 1-3 1 3 1-2 1 0 1-2 1-1 1 0 1 2 1-1 1 0 1 1 1-2 1-1 1-1 1-3 1 1 1-1 1-4 1-1 1 0 1 3 1 2 1 1 1 7 1 2 1 2 1 3 1 3 1-1 1 0 1 2 1-1 1-1 1 1 1 0 1 1 1-2 1 2 1 0 1-1 1-2 1 0 1 2 1 1 1-2 1 1 1 0 1 1 1-1 1 0 1 1 1 0 1-1 1 1 1 0 1 0 1-1 1 2 1 0 1-2 1 0 1-2 1 2 1 1 1-2 1 0 1 1 1-2 1 2 1 0 1 1 1-1 1 0 1 0 1-1 1 0 1 0 1-1 1 0 1 1 1 2 1-2 1 0 1 1 1 0 1 1 1 2 1-2 1 0 1 0 1 0 1-2 1 2 1 2 1 0 1-2 1-1 1 0 1 2 1-1 1 1 1-2 1-1 1 2 1-1 1 1 1 0 1-1 1 0 1 0 1-4 1 1 1-2 1-2 1 1 1-2 1-3 1 2 1 0 1 3 1 3 1 0 1 2 1 2 1 2 1 0 1 2 1-1 1-1 1 0 1-3 1-1 1-3 1-2 1-5 1-2 1-2 1-4 1-4 1-8 1-9 1-11 1-11 1-8 1-1 1 9 1 9 1 7 1 9 1 6 1 6 1 6 1 0 1 3 1 0 1 3 1 6 1-1 1 2 1 3 1 1 1 2 1 3 1 1 1-1 1-1 1-2 1 0 1-2 1-2 1-3 1-1 1-3 1-3 1-1 1-7 1-6 1-1 1-1 1 0 1 5 1 6 1 4 1 3 1 3 1 2 1 2 1 1 1 0 1 4 1 0 1 1 1-2 1 4 1 1 1-3 1 0 1 0 1-1 1-2 1 1 1 1 1 0 1-1 1-1 1 2 1 1 1-1 1 1 1-1 1 0 1 1 1 0 1-1 1 0 1 1 1-2 1 0 1 0 1 0 1 1 1 0 1-2 1 1 1 1 1-1 1 0 1 2 1 0 1 0 1 0 1-2 1 1 1-1 1 2 1-2 1 0 1 2 1-4 1 2 1 0 1-1 1 0 1-1 1 0 1-2 1 0 1-3 1 0 1-1 1-4 1-3 1-3 1-4 1-1 1 1 1 1 1 2 1 0 1 4 1-1 1-2 1 0 1 2 1-1 1-1 1 0 1 2 1-4 1 0 1-1 1-1 1-1 1-2 1 1 1 1 1-1 1-2 1 2 1 3 1 1 1 1 1 2 1 0 1 2 1 1 1 3 1-1 1 1 1 2 1 2 1-2 1 3 1 2 1 0 1 0 1 1 1 2 1 0 1 0 1 1 1 0 1 0 1 0 1 0 1-1 1 2 1-2 1 0 1 1 1 2 1-1 1 0 1 0 1 1 1-1 1-1 1-1 1 0 1 2 1 1 1-2 1 0 1 0 1-1 1 1 1 1 1-2 1 2 1 0 1-3 1 1 1 2 1-2 1 0 1 1 1 1 1-1 1-1 1 1 1 0 1 0 1-2 1-1 1-1 1 1 1 1 1-2 1-2 1-2 1 1 1-1 1-5 1-1 1-2 1 2 1 5 1 2 1-1 1 3 1 0 1-1 1 1 1 0 1-2 1-1 1 0 1-3 1 0 1 0 1-1 1-5 1-2 1-3 1-1 1 1 1-5 1-7 1-9 1-5 1-3 1 4 1 12 1 6 1 6 1 5 1 7 1 0 1 3 1 2 1-1 1-1 1-4 1-2 1-3 1 0 1 0 1 2 1 2 1 4 1 3 1 2 1 1 1 2 1-1 1 2 1 0 1 1 1 0 1 0 1 0 1 1 1-3 1 1 1 2 1-3 1 0 1 2 1-1 1-3 1 3 1 1 1-1 1-1 1 1 1-1 1 2 1 1 1-1 1-1 1 0 1 1 1-1 1-1 1 1 1 0 1 1 1-1 1 0 1 0 1 1 1 1 1 0 1 0 1-1 1-2 1 2 1 0 1-1 1 1 1 1 1-2 1 1 1 0 1 1 1-1 1 1 1 1 1-1 1 1 1 1 1-1 1-1 1 1 1-2 1 1 1 1 1 0 1 0 1-3 1 0 1 1 1 0 1 1 1 1 1-1 1-1 1 0 1 2 1-1 1-1 1 1 1 0 1-1 1 0 1 1 1-2 1-1 1-1 1 0 1-1 1-1 1 1 1-2 1-1 1 0 1 0 1 0 1-3 1 1 1 0 1-2 1 1 1-3 1 1 1-3 1 0 1-3 1 3 1-3 1-2 1-2 1-2 1 0 1-2 1-3 1-6 1-4 1-7 1 0 1 2 1 3 1 11 1 10 1 4 1 5 1 3 1 3 1 1 1 2 1 0 1 2 1-1 1 0 1 1 1 1 1-1 1 0 1 0 1 1 1 1 1-1 1 0 1-1 1 3 1-2 1 0 1 0 1 0 1 0 1-1 1 3 1-2 1 0 1 0 1-1 1 1 1 0 1-1 1-1 1 2 1 1 1-2 1-1 1 2 1 0 1 1 1-1 1-1 1 0 1 0 1 0 1 0 1 0 1 1 1-2 1 2 1 0 1 0 1-1 1 0 1 0 1 1 1 1 1-2 1 2 1 0 1-1 1 1 1 1 1-1 1 1 1-1 1-1 1 1 1-1 1-1 1 1 1 1 1-2 1 2 1-2 1 0 1 0 1 0 1 2 1-2 1-2 1 2 1 1 1 1 1-3 1 1 1 0 1-1 1 0 1-1 1 1 1 1 1-1 1 0 1 1 1-1 1 2 1-1 1 0 1 1 1 0 1 0 1-1 1 3 1 0 1-1 1-3 1 3 1-1 1-1 1 0 1-1 1 3 1-2 1 0 1-1 1 1 1 1 1 0 1-2 1 0 1 0 1 0 1 1 1-2 1 0 1 2 1 0 1-1 1-1 1 0 1 1 1-2 1 2 1 1 1-1 1 1 1 0 1 0 1 0 1 1 1-1 1 0 1 0 1 1 1-1 1 0 1 0 1-1 1 2 1 0 1 1 1-1 1-1 1-1 1 1 1 1" stroke="#1414ff" stroke-width="1.5" stroke-opacity="0.9" stroke-dasharray="6 4 2 4" stroke-dashoffset="9"/>
<path d="M86 1512l1-1 1-2 1 3 1 0 1-1 1 2 1-1 1 0 1 0 1-2 1 0 1 2 1-1 1-1 1 0 1-2 1 2 1 0 1 1 1-1 1 2 1-1 1-1 1 0 1-1 1 2 1-2 1 1 1 0 1 1 1-1 1 1 1-2 1 1 1 2 1-2 1 1 1-1 1 0 1 1 1 0 1-1 1 1 1 1 1 0 1-2 1 2 1-2 1 0 1 0 1 0 1 1 1-1 1 1 1 0 1 1 1-1 1 1 1-2 1-1 1 2 1 2 1-1 1-1 1 0 1 0 1-1 1 2 1-1 1 0 1 0 1-1 1 2 1-1 1 1 1 0 1-2 1 1 1 0 1-2 1 1 1 2 1 0 1 0 1-1 1 1 1 0 1-3 1 2 1 0 1 1 1-2 1 0 1 1 1 1 1 0 1-1 1-1 1 1 1-1 1 1 1 1 1 0 1-2 1 1 1 3 1-3 1 0 1 1 1 2 1-2 1-1 1 0 1 1 1 0 1 1 1 0 1-1 1-1 1 2 1 0 1-2 1 1 1-1 1 0 1-1 1 1 1 1 1 0 1 0 1-2 1 0 1 1 1-1 1 1 1-1 1 0 1 1 1 0 1 0 1 0 1 0 1 0 1 0 1 0 1-1 1 0 1 1 1 1 1-1 1 1 1 1 1-1 1-2 1 2 1-1 1-2 1 2 1 2 1-1 1-1 1-1 1 0 1 2 1-1 1 2 1-2 1-1 1 2 1 1 1-2 1 0 1-1 1 2 1 1 1 1 1-3 1 3 1-2 1 1 1-2 1 1 1 0 1 1 1-1 1 0 1 0 1-1 1 2 1-1 1-2 1 2 1-2 1 0 1 0 1 2 1 1 1-2 1-1 1 2 1-1 1 0 1 0 1-1 1 0 1 2 1 0 1 1 1-2 1-1 1 0 1 1 1 0 1 0 1 2 1 1 1-1 1-2 1-1 1 1 1 1 1-1 1 0 1 0 1 0 1 0 1-1 1-1 1 3 1 0 1 0 1 0 1-3 1 0 1 1 1 0 1 1 1 1 1 0 1 1 1-1 1-1 1 1 1-1 1 1 1-1 1-1 1 1 1 0 1 0 1 1 1-3 1 2 1-1 1 0 1-1 1-1 1 1 1 0 1 1 1 1 1-2 1 0 1-1 1 2 1-1 1 0 1 1 1-2 1 2 1-1 1 0 1-2 1 1 1 1 1-1 1 0 1 1 1-1 1 0 1 0 1 1 1 1 1-2 1 0 1 0 1 1 1 1 1-1 1 0 1 1 1-1 1 0 1 0 1 0 1 1 1 0 1-1 1 0 1 1 1 1 1-3 1 1 1 2 1 0 1-1 1-1 1 1 1 0 1 1 1-1 1 1 1-1 1 0 1-1 1 0 1 0 1 1 1 0 1-1 1 0 1 0 1 0 1 0 1-1 1 1 1 0 1 0 1 1 1-1 1 1 1-1 1 0 1 0 1 2 1-1 1 0 1 0 1 0 1 0 1 0 1 0 1 2 1 0 1-3 1 1 1 1 1 1 1-1 1-1 1 0 1 1 1 0 1-1 1 0 1 0 1 0 1 0 1-1 1 0 1 1 1 1 1 0 1 0 1-1 1 1 1-1 1 1 1-2 1 1 1 2 1-1 1-1 1 0 1 1 1 0 1 1 1-1 1-2 1 1 1 1 1 0 1 0 1-1 1 1 1 2 1 0 1-1 1-1 1 1 1 2 1 0 1-1 1-2 1 0 1 0 1 2 1-1 1 0 1 0 1 0 1-2 1 2 1-1 1 0 1 0 1 1 1 0 1-1 1-2 1 2 1 2 1-1 1 0 1 0 1 0 1-1 1 0 1 0 1 0 1 0 1 0 1-1 1 1 1 1 1 1 1-1 1-1 1 0 1 0 1 0 1 0 1 1 1-1 1 0 1 1 1-1 1 0 1 0 1-2 1 3 1-1 1 1 1-1 1 0 1 0 1-1 1 1 1 0 1 0 1 0 1-1 1 0 1-1 1 0 1-3 1 2 1-1 1 1 1 0 1-2 1 1 1 0 1 0 1 1 1 0 1-2 1-1 1 1 1-3 1-1 1 1 1-1 1-1 1-1 1 3 1-2 1-1 1 2 1-3 1-4 1 3 1 2 1 0 1-3 1-3 1 1 1-2 1-2 1 0 1-4 1 3 1-4 1 7 1 2 1 5 1 2 1 2 1 4 1 0 1 1 1 1 1 1 1 0 1-1 1 1 1 0 1 0 1-1 1 1 1 0 1 0 1-1 1-2 1 1 1 0 1 1 1 0 1 0 1 0 1 0 1-2 1 1 1 0 1 2 1 0 1-1 1 0 1-1 1 1 1-1 1-1 1 3 1-1 1 0 1 0 1 1 1-1 1 1 1-1 1 1 1 0 1 1 1-3 1 1 1 0 1 0 1 0 1 0 1 1 1 1 1-1 1-1 1 0 1 0 1 1 1-1 1 1 1 1 1-1 1 0 1-1 1 1 1 1 1 0 1 0 1 0 1 0 1-1 1-2 1 1 1 2 1 0 1 0 1-1 1 0 1 1 1-1 1-1 1-1 1-2 1 4 1-1 1 0 1-3 1-2 1 0 1-3 1 0 1-1 1 1 1 3 1 0 1 2 1 3 1 0 1 1 1 1 1 0 1 1 1-3 1 1 1-4 1-3 1-1 1-2 1-2 1-4 1-3 1-5 1-7 1-8 1-9 1-12 1-14 1-8 1-2 1 10 1 10 1 11 1 9 1 6 1 7 1 5 1 5 1 2 1 4 1 3 1 0 1 4 1 1 1 4 1 2 1 2 1 1 1 1 1 0 1-1 1-1 1-3 1-2 1-2 1-1 1-3 1-2 1-5 1-3 1-5 1-7 1-3 1-1 1 0 1 7 1 4 1 6 1 4 1 3 1 1 1 2 1 3 1 0 1 1 1 1 1 1 1 0 1 1 1 2 1-1 1 0 1 0 1-1 1 1 1 0 1 0 1-3 1 2 1-1 1 0 1-2 1 1 1 2 1-1 1 0 1 0 1-1 1 1 1 0 1 0 1 1 1 0 1-1 1 0 1 0 1 0 1 0 1 0 1 1 1 0 1 1 1-1 1-1 1 0 1 2 1 0 1 0 1 0 1 0 1-1 1 1 1-1 1-1 1 0 1 2 1-2 1-1 1 1 1-1 1 1 1-4 1-1 1 1 1-3 1-2 1-3 1-4 1-3 1-4 1-1 1 6 1-1 1 3 1 0 1 3 1-2 1-1 1 1 1-2 1 2 1 0 1-3 1 1 1-5 1 1 1 1 1-3 1-2 1 2 1 2 1-1 1 3 1-2 1 1 1 0 1 2 1 2 1 0 1-1 1 3 1 1 1 2 1 1 1 0 1 1 1 2 1 4 1-2 1 1 1 0 1 0 1 1 1 1 1 2 1 1 1-1 1 1 1-1 1-1 1 2 1-2 1 1 1 2 1-1 1 1 1 0 1 0 1 0 1-1 1-1 1 0 1 1 1 1 1 0 1 0 1 0 1-1 1-1 1 2 1 0 1 0 1 0 1-1 1-1 1 1 1 0 1 1 1-2 1 1 1-1 1 0 1 0 1 1 1-1 1 1 1 0 1-1 1-1 1 1 1-3 1-1 1 1 1-3 1 1 1-4 1 0 1 0 1-4 1-2 1 4 1 1 1 1 1 2 1-1 1 2 1 3 1 0 1-3 1-1 1 0 1-2 1 1 1-2 1-1 1-1 1-1 1-3 1-4 1-4 1 0 1-7 1-10 1-5 1-10 1-4 1 6 1 7 1 14 1 8 1 7 1 6 1 2 1 3 1 0 1-1 1 0 1-4 1-2 1-3 1-3 1 3 1 4 1 3 1 3 1 2 1 3 1 2 1 0 1 2 1 0 1 0 1 0 1 1 1 0 1 1 1 0 1 0 1-1 1 1 1-1 1 0 1-1 1-1 1 0 1-1 1 1 1-1 1 1 1 2 1-1 1 0 1 0 1-1 1-1 1 2 1 1 1-3 1 0 1 1 1 2 1-1 1-1 1-1 1 1 1-1 1 1 1 0 1 1 1 0 1 0 1 0 1 1 1 0 1-1 1 0 1-1 1-1 1 2 1-1 1 1 1 0 1 0 1 1 1-2 1 2 1-1 1 0 1-1 1 2 1-1 1 1 1 0 1-1 1 1 1 0 1 1 1 1 1-3 1 0 1 2 1-1 1-1 1 0 1 0 1 0 1 0 1 0 1 2 1-2 1 1 1 0 1-2 1-2 1 1 1-1 1-2 1-2 1 1 1 0 1-3 1 0 1 2 1-3 1-1 1-1 1 1 1 0 1-3 1 0 1 0 1-2 1 0 1-1 1-3 1 0 1-4 1 1 1-2 1-2 1-4 1-3 1-5 1-2 1-5 1-2 1 6 1 10 1 9 1 10 1 3 1 4 1 2 1 1 1 1 1 0 1 2 1 1 1 0 1 0 1-1 1 1 1 0 1 0 1 0 1 2 1 0 1 0 1-1 1 0 1-1 1 1 1 0 1-1 1 2 1-2 1 0 1 3 1 0 1-1 1 0 1-2 1 1 1 1 1 0 1 0 1-2 1 2 1 1 1-1 1-2 1 0 1-1 1 1 1 0 1 1 1 1 1-1 1 0 1-1 1 0 1-1 1 2 1 0 1 0 1-2 1 0 1 2 1-2 1 0 1 0 1-1 1 2 1 1 1-3 1 2 1 1 1 0 1-1 1-1 1 0 1 1 1 1 1-2 1-1 1 1 1 1 1-1 1 1 1 1 1-1 1 0 1 0 1 0 1 0 1 1 1-2 1-1 1 1 1 1 1 0 1-1 1 0 1 1 1-1 1 0 1 1 1-1 1 1 1 0 1 2 1-1 1-1 1 0 1 0 1 0 1 1 1-1 1 0 1 0 1 0 1 1 1 0 1-1 1-1 1 0 1 1 1 0 1 0 1 0 1-1 1 1 1-1 1-1 1 2 1-1 1 0 1 2 1-1 1 3 1-2 1-2 1-1 1 2 1-1 1 1 1-1 1 1 1 0 1 0 1 1 1-1 1-1 1 0 1 1 1 0 1 0 1 1 1 0 1 1 1-1 1-1 1 0 1 0 1 1 1 0 1 1 1-2" stroke="#1414ff" stroke-width="1.5" stroke-opacity="0.9" stroke-dasharray="6 4 2 4" stroke-dashoffset="12"/>
</g>
<rect x="85" y="27.8" width="1156.8" height="1498.2" fill="none" stroke="#000" stroke-width="4"/>
<line x1="85.0" y1="1526" x2="85.0" y2="1548" stroke="#000" stroke-width="4"/>
<line x1="167.6" y1="1526" x2="167.6" y2="1537" stroke="#000" stroke-width="4"/>
<line x1="250.3" y1="1526" x2="250.3" y2="1548" stroke="#000" stroke-width="4"/>
<line x1="332.9" y1="1526" x2="332.9" y2="1537" stroke="#000" stroke-width="4"/>
<line x1="415.5" y1="1526" x2="415.5" y2="1548" stroke="#000" stroke-width="4"/>
<line x1="498.1" y1="1526" x2="498.1" y2="1537" stroke="#000" stroke-width="4"/>
<line x1="580.8" y1="1526" x2="580.8" y2="1548" stroke="#000" stroke-width="4"/>
<line x1="663.4" y1="1526" x2="663.4" y2="1537" stroke="#000" stroke-width="4"/>
<line x1="746.0" y1="1526" x2="746.0" y2="1548" stroke="#000" stroke-width="4"/>
<line x1="828.7" y1="1526" x2="828.7" y2="1537" stroke="#000" stroke-width="4"/>
<line x1="911.3" y1="1526" x2="911.3" y2="1548" stroke="#000" stroke-width="4"/>
<line x1="993.9" y1="1526" x2="993.9" y2="1537" stroke="#000" stroke-width="4"/>
<line x1="1076.5" y1="1526" x2="1076.5" y2="1548" stroke="#000" stroke-width="4"/>
<line x1="1159.2" y1="1526" x2="1159.2" y2="1537" stroke="#000" stroke-width="4"/>
<line x1="1241.8" y1="1526" x2="1241.8" y2="1548" stroke="#000" stroke-width="4"/>
<g font-size="57.5">
<text x="85.0" y="1608.3" text-anchor="middle">400</text>
<text x="250.3" y="1608.3" text-anchor="middle">600</text>
<text x="415.5" y="1608.3" text-anchor="middle">800</text>
<text x="580.8" y="1608.3" text-anchor="middle">1000</text>
<text x="746.0" y="1608.3" text-anchor="middle">1200</text>
<text x="911.3" y="1608.3" text-anchor="middle">1400</text>
<text x="1076.5" y="1608.3" text-anchor="middle">1600</text>
<text x="1241.8" y="1608.3" text-anchor="middle">1800</text>
</g>
<g font-size="56">
<text x="96" y="433.5">10% Metanil Yellow</text>
<text x="98.3" y="698" font-size="56.7">7% Metanil Yellow</text>
<text x="105.4" y="963.6" font-size="56.6">5% Metanil Yellow</text>
<text x="102.4" y="1221.2" font-size="56.75">3% Metanil Yellow</text>
<text x="103.8" y="1481.8" font-size="56.65">1% Metanil Yellow</text>
</g>
<g font-size="58" text-anchor="middle">
<text x="579.3" y="282.6">995</text>
<text x="706" y="140.8">1147</text>
<text x="781" y="253.3">1188</text>
<text x="939.6" y="145">1437</text>
<text x="1078.6" y="250.4" textLength="110" lengthAdjust="spacingAndGlyphs">1601</text>
</g>
<line x1="577.3" y1="305.6" x2="577.3" y2="375.4" stroke="#000" stroke-width="1.8"/><path d="M570.9 374.4L583.6999999999999 374.4L583.5 382.4L580.8 392.4L578.3 402.4L576.3 402.4L573.8 392.4L571.0999999999999 382.4Z" fill="#000"/>
<line x1="703.5" y1="165.4" x2="703.5" y2="234.5" stroke="#000" stroke-width="1.8"/><path d="M697.1 233.5L709.9 233.5L709.7 241.5L707.0 251.5L704.5 262L702.5 262L700.0 251.5L697.3 241.5Z" fill="#000"/>
<line x1="736.0" y1="281.4" x2="736.0" y2="351" stroke="#000" stroke-width="1.8"/><path d="M729.6 350L742.4 350L742.2 358L739.5 368L737.0 377L735.0 377L732.5 368L729.8 358Z" fill="#000"/>
<line x1="938.5" y1="166.7" x2="938.5" y2="236.5" stroke="#000" stroke-width="1.8"/><path d="M932.1 235.5L944.9 235.5L944.7 243.5L942.0 253.5L939.5 263.5L937.5 263.5L935.0 253.5L932.3 243.5Z" fill="#000"/>
<line x1="1079.7" y1="268.6" x2="1079.7" y2="337" stroke="#000" stroke-width="1.8"/><path d="M1073.3 336L1086.1000000000001 336L1085.9 344L1083.2 354L1080.7 363L1078.7 363L1076.2 354L1073.5 344Z" fill="#000"/>
<text font-size="57" transform="translate(74.5 753.5) rotate(-90)" text-anchor="middle">Raman Intensity</text>
<text font-size="58.5" x="433.5" y="1675">Raman Shift <tspan x="761.7">cm</tspan><tspan font-size="46" x="833" y="1652">-</tspan><tspan font-size="46" x="850" y="1652">1</tspan></text>
<g transform="translate(0 1634) scale(1 0.87) translate(0 -1634)" font-size="58.5"><text x="742.2" y="1675">(</text><text x="873.5" y="1675">)</text></g>
</svg>
</body></html>
